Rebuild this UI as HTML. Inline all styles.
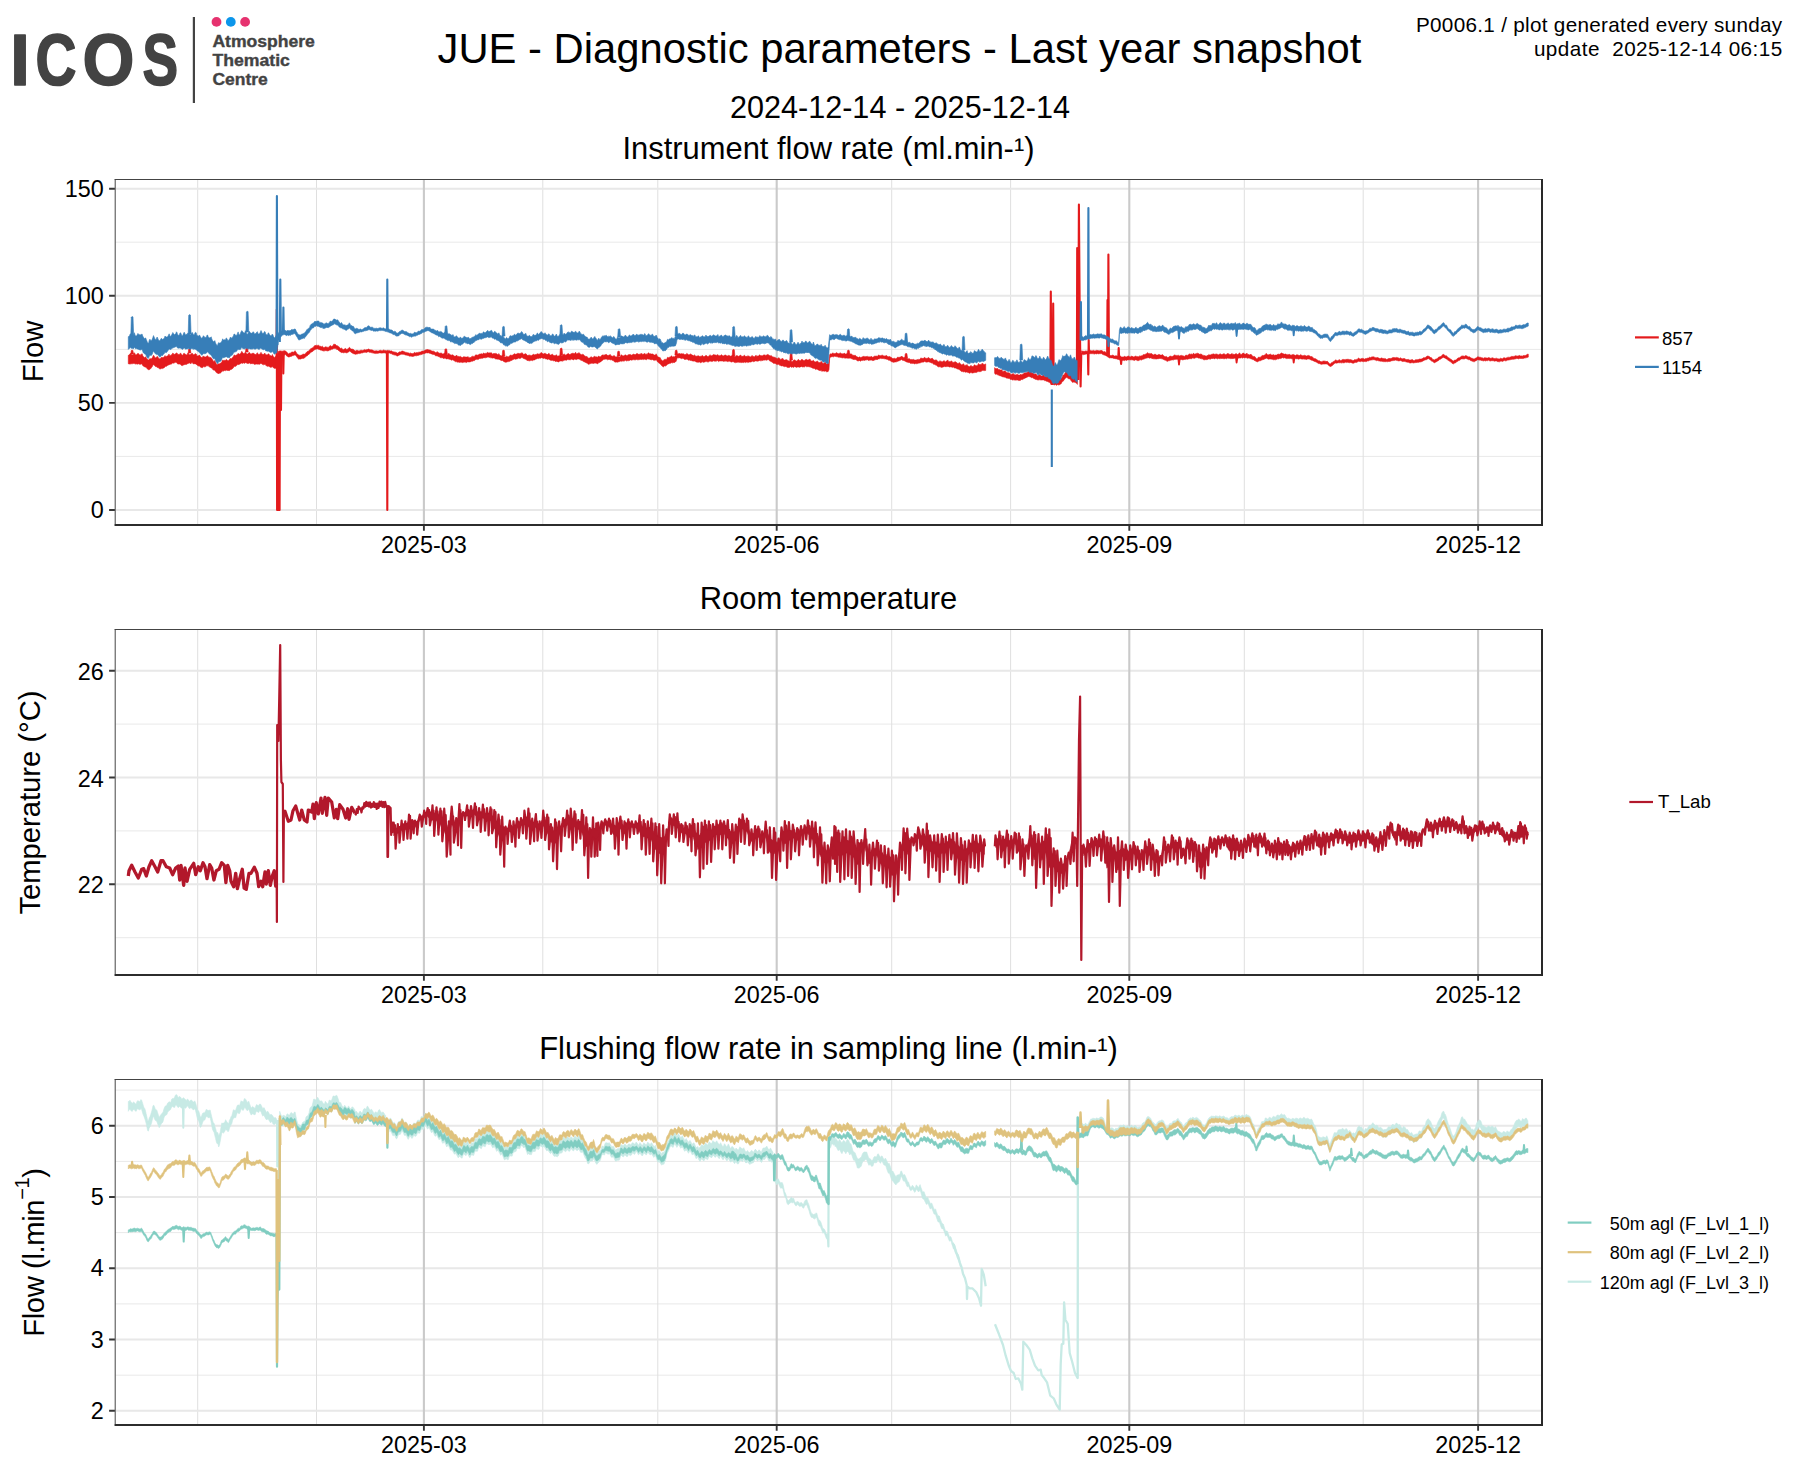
<!DOCTYPE html>
<html lang="en"><head><meta charset="utf-8"><title>JUE - Diagnostic parameters - Last year snapshot</title>
<style>html,body{margin:0;padding:0;background:#fff}svg{display:block}text{font-family:"Liberation Sans",sans-serif;fill:#000}</style></head><body>
<svg width="1800" height="1470" viewBox="0 0 1800 1470">
<rect width="1800" height="1470" fill="#fff"/>
<g id="logo" role="img" aria-label="ICOS Atmosphere Thematic Centre"><title>ICOS Atmosphere Thematic Centre</title><text transform="translate(10.02 84.85) scale(0.9916 1)" font-size="72.63" font-weight="bold" style="fill:#434343;stroke:#434343;stroke-width:1.5;stroke-linejoin:round;vector-effect:non-scaling-stroke" vector-effect="non-scaling-stroke">I</text><text transform="translate(35.62 84.85) scale(0.7822 1)" font-size="72.63" font-weight="bold" style="fill:#434343;stroke:#434343;stroke-width:1.5;stroke-linejoin:round;vector-effect:non-scaling-stroke" vector-effect="non-scaling-stroke">C</text><text transform="translate(82.41 84.85) scale(0.9185 1)" font-size="72.63" font-weight="bold" style="fill:#434343;stroke:#434343;stroke-width:1.5;stroke-linejoin:round;vector-effect:non-scaling-stroke" vector-effect="non-scaling-stroke">O</text><text transform="translate(142.50 84.85) scale(0.7344 1)" font-size="72.63" font-weight="bold" style="fill:#434343;stroke:#434343;stroke-width:1.5;stroke-linejoin:round;vector-effect:non-scaling-stroke" vector-effect="non-scaling-stroke">S</text><rect x="192.8" y="17" width="2.2" height="86" fill="#434343"/><circle cx="216.5" cy="21.9" r="4.9" fill="#e6326f"/><circle cx="230.8" cy="21.9" r="4.9" fill="#0c96eb"/><circle cx="245.1" cy="21.9" r="4.9" fill="#e6326f"/><text x="212.4" y="46.8" font-size="15.6" font-weight="bold" textLength="102.5" lengthAdjust="spacingAndGlyphs" style="fill:#434343;stroke:#434343;stroke-width:0.35">Atmosphere</text><text x="212.4" y="65.8" font-size="15.6" font-weight="bold" textLength="77.5" lengthAdjust="spacingAndGlyphs" style="fill:#434343;stroke:#434343;stroke-width:0.35">Thematic</text><text x="212.4" y="84.6" font-size="15.6" font-weight="bold" textLength="55.4" lengthAdjust="spacingAndGlyphs" style="fill:#434343;stroke:#434343;stroke-width:0.35">Centre</text></g>
<text x="899.5" y="62.8" font-size="41.77" text-anchor="middle">JUE - Diagnostic parameters - Last year snapshot</text>
<text x="900" y="117.8" font-size="30.6" text-anchor="middle">2024-12-14 - 2025-12-14</text>
<text x="1782.2" y="31.8" font-size="20.7" text-anchor="end" textLength="366.3" lengthAdjust="spacing">P0006.1 / plot generated every sunday</text>
<text x="1782.2" y="55.6" font-size="20.7" text-anchor="end" textLength="248.3" lengthAdjust="spacing" xml:space="preserve">update  2025-12-14 06:15</text>
<g><rect x="115.5" y="180" width="1426.1" height="345" fill="#fff"/><path d="M115.5 456.4H1542.2M115.5 349.4H1542.2M115.5 242.2H1542.2" stroke="#e9e9e9" stroke-width="1" fill="none"/><path d="M197.7 180V525M316.5 180V525M542.8 180V525M657.8 180V525M891.7 180V525M1010.6 180V525M1244.3 180V525M1363.2 180V525" stroke="#dfdfdf" stroke-width="1" fill="none"/><path d="M115.5 510H1542.2M115.5 402.9H1542.2M115.5 295.8H1542.2M115.5 188.7H1542.2" stroke="#e8e8e8" stroke-width="1.9" fill="none"/><path d="M423.9 180V525M776.7 180V525M1129.3 180V525M1478.1 180V525" stroke="#cacaca" stroke-width="2.1" fill="none"/></g>
<g id="p1-857"><path d="M128.3 355.3L128.9 355.1L129.5 354.6L130.1 353.6L130.7 353.4L131.3 354.4L131.9 354.6L132.5 354.9L133.1 354.8L133.7 353.6L134.3 352.7L134.9 353.5L135.5 355L136.1 354.8L136.7 354.7L137.3 353.7L137.9 353.5L138.5 353.5L139.1 354.4L139.7 354.9L140.3 354.5L140.9 355.4L141.5 354L142.1 353.7L142.7 355.6L143.3 356.5L143.9 357.1L144.5 357.7L145.1 357.3L145.7 356.7L146.3 358L146.9 359L147.5 359.2L148.1 360.1L148.7 360.1L149.3 359.3L149.9 358.4L150.5 358.7L151.1 359.2L151.7 358.3L152.3 357.7L152.9 356.5L153.5 355.2L154.1 356L154.7 357.2L155.4 358L156 357.6L156.6 357L157.2 356.3L157.8 356.9L158.4 358.1L159 358.6L159.6 358.8L160.2 359L160.8 358.1L161.4 357.2L162 357.4L162.6 357.6L163.2 357.5L163.8 357.3L164.4 356.5L165 355.6L165.6 356.4L166.2 356.4L166.8 356.3L167.4 355.9L168 356L168.6 354.4L169.2 354.3L169.8 355.7L170.4 355.4L171 355.6L171.6 354.6L172.2 354.2L172.8 353.1L173.4 353.5L174 354.4L174.6 354.3L175.2 353.7L175.8 354L176.4 352.9L177 352.9L177.6 354.2L178.2 354.3L178.8 354.5L179.4 354.4L180 353.8L180.6 352.9L181.2 354L181.8 354.7L182.4 355.3L183 354.7L183.6 353.5L184.2 353.2L184.8 353.9L185.4 354.3L186 354.4L186.6 354.9L187.2 354.5L187.8 353L188.4 353L189 354.4L189.6 354.7L190.2 354.6L190.8 354.3L191.4 354L192 353L192.6 353.8L193.2 354.9L193.8 354.4L194.4 354.4L195 353.8L195.6 353.7L196.2 354L196.8 355.4L197.4 355.9L198 355.9L198.6 355.7L199.2 355L199.8 355.2L200.4 356.6L201 357L201.6 357.5L202.2 357.5L202.8 356.5L203.4 355.9L204 356.6L204.6 356.9L205.2 356.9L205.8 356.9L206.4 356.5L207 355.7L207.6 355.9L208.2 356.4L208.8 357.3L209.4 357.2L210 357.4L210.6 357.5L211.2 357.7L211.8 358.8L212.4 359.4L213 360.6L213.6 361.5L214.2 361.6L214.8 360.4L215.4 361.8L216 363.2L216.6 364.3L217.2 364.7L217.8 364L218.4 363.9L219 363.6L219.6 363.9L220.2 363.2L220.8 363.1L221.4 362.5L222 361.6L222.6 359.9L223.2 360.5L223.8 360.4L224.4 360.4L225 359.9L225.6 360.4L226.2 359.5L226.8 359.7L227.4 360.3L228 361L228.6 360.4L229.2 359.9L229.8 359L230.4 358.2L231 358.8L231.6 358.7L232.2 358L232.8 357.2L233.4 356.5L234 355.2L234.6 354.9L235.2 355.5L235.8 355.6L236.4 355.1L237 355L237.6 353.9L238.2 353.3L238.8 353.9L239.4 354.2L240 354.1L240.6 353.6L241.2 352.5L241.8 351.3L242.4 352.3L243 353L243.6 353.5L244.2 353.2L244.8 353.3L245.4 351.9L246 352.8L246.6 353.7L247.2 354L247.8 354.1L248.4 353.1L249 352.6L249.6 352.6L250.2 353.5L250.8 354.1L251.4 353.7L252 354.2L252.6 353.1L253.2 353.1L253.8 353.6L254.4 353.9L255 354.3L255.6 354.5L256.2 354.5L256.8 353.3L257.4 352.7L258 353.8L258.6 354.6L259.2 354.3L259.8 354.2L260.4 353.4L261 352.3L261.6 353.4L262.2 354.4L262.8 354L263.4 354.6L264 354.3L264.6 353L265.2 353.7L265.8 354.8L266.4 354.7L267 355L267.6 354.8L268.2 353.7L268.8 354L269.4 355L270 355.5L270.6 355.6L271.2 356.1L271.8 355.9L272.4 354.5L273 356L273.6 356.7L274.2 357.4L274.8 357.2L275.4 356.9L276 356L276.6 356.2L277.2 355.1L277.8 353.7L278.4 351.3L279 351.3L279.6 350.9L280.2 350.8L280.8 351.1L281.4 351L282 351.4L282.6 351.1L283.2 351.3L283.8 350.5L284.4 350.7L285 350.9L285.6 351.1L286.2 351.6L286.8 352.1L287.4 352.9L288 353.3L288.6 353.9L289.2 353.6L289.8 353L290.4 353.2L291 352.4L291.6 352.2L292.2 352L292.8 352L293.4 352.2L294 351.7L294.6 351.2L295.2 350.7L295.8 352L296.4 352.6L297 354L297.6 354.1L298.2 354.8L298.8 355.1L299.4 355.2L300 355.5L300.6 355.3L301.2 355.1L301.8 354.9L302.4 354.4L303 354.3L303.6 354.1L304.2 354.3L304.8 354L305.4 353.7L306 352.6L306.6 352.4L307.2 351.6L307.8 351.3L308.4 351.2L309 350.8L309.6 349.8L310.2 349.4L310.8 348.6L311.4 348.4L312 348.1L312.6 347.8L313.2 347.5L313.8 346.4L314.4 346L315 345.3L315.6 345.6L316.3 345.2L316.9 345.4L317.5 345.4L318.1 345.4L318.7 345.3L319.3 345.7L319.9 346.4L320.5 346.1L321.1 346.7L321.7 346.7L322.3 346.2L322.9 346.7L323.5 347.4L324.1 347.5L324.7 347.3L325.3 347.1L325.9 346.6L326.5 346.9L327.1 347.5L327.7 347.2L328.3 347.4L328.9 347L329.5 346.3L330.1 345.6L330.7 345.8L331.3 346.5L331.9 346.2L332.5 346.1L333.1 345.4L333.7 344.2L334.3 344.3L334.9 344.3L335.5 344.5L336.1 345.1L336.7 345.9L337.3 345.6L337.9 346.2L338.5 346.4L339.1 347.2L339.7 347.5L340.3 348.1L340.9 348.7L341.5 348.1L342.1 348.6L342.7 349.2L343.3 349.7L343.9 349.3L344.5 349L345.1 348.6L345.7 348.4L346.3 349.4L346.9 349.6L347.5 348.9L348.1 349.2L348.7 347.9L349.3 347.4L349.9 347.6L350.5 348.7L351.1 349.1L351.7 349.1L352.3 349.3L352.9 348.9L353.5 349.5L354.1 350L354.7 350.6L355.3 351.2L355.9 350.5L356.5 350.4L357.1 350.3L357.7 350.5L358.3 350.8L358.9 350.9L359.5 350.8L360.1 350.4L360.7 350.3L361.3 350.2L361.9 350.3L362.5 350.4L363.1 350.2L363.7 350L364.3 349.8L364.9 349.4L365.5 349.9L366.1 349.9L366.7 349.5L367.3 349.6L367.9 349.3L368.5 349L369.1 349.1L369.7 349.8L370.3 349.8L370.9 349.8L371.5 349.8L372.1 350L372.7 350.1L373.3 350.5L373.9 350.7L374.5 350.9L375.1 351L375.7 350.8L376.3 350.8L376.9 350.8L377.5 351L378.1 350.9L378.7 350.9L379.3 350.5L379.9 350.5L380.5 350.3L381.1 350.5L381.7 350.7L382.3 350.7L382.9 350.5L383.5 350L384.1 350.3L384.7 350.4L385.3 350.6L385.9 350.5L386.5 350.8L387.1 350.3L387.7 350.4L388.3 350.2L388.9 350.9L389.5 350.4L390.1 351L390.7 350.9L391.3 350.8L391.9 351L392.5 351.7L393.1 351.6L393.7 352L394.3 351.9L394.9 352.2L395.5 352.2L396.1 352.3L396.7 352.7L397.3 353.1L397.9 353.1L398.5 352.6L399.1 352L399.7 351.8L400.3 351.9L400.9 351.8L401.5 351.3L402.1 351.1L402.7 351.1L403.3 351.3L403.9 351.6L404.5 351.8L405.1 352.3L405.7 352.2L406.3 352.4L406.9 352.4L407.5 352.7L408.1 352.7L408.7 353L409.3 353.2L409.9 353.5L410.5 353L411.1 353.3L411.7 353.6L412.3 353.5L412.9 353.8L413.5 353.2L414.1 352.6L414.7 352.5L415.3 353L415.9 352.7L416.5 352.6L417.1 352.8L417.7 352.4L418.3 352.2L418.9 352.4L419.5 352.1L420.1 351.9L420.7 351.9L421.3 351.5L421.9 351.1L422.5 351.1L423.1 351.2L423.7 351L424.3 350.7L424.9 350.2L425.5 349.9L426.1 349.9L426.7 349.6L427.3 349.5L427.9 349.6L428.5 349.8L429.1 350L429.7 349.9L430.3 350.1L430.9 350.6L431.5 350.7L432.1 351.3L432.7 351.1L433.3 351.2L433.9 351.2L434.5 351.7L435.1 352.2L435.7 352.5L436.3 352.4L436.9 351.9L437.5 351.7L438.1 352.8L438.7 352.8L439.3 353.1L439.9 353.5L440.5 352.9L441.1 353.1L441.7 353.3L442.3 353.9L442.9 353.7L443.5 353.8L444.1 353.5L444.7 353.3L445.3 353.5L445.9 353.9L446.5 354.1L447.1 354.4L447.7 354.4L448.3 353.7L448.9 353.3L449.5 354L450.1 355.1L450.7 354.8L451.3 354.9L451.9 355.3L452.5 354.8L453.1 354.9L453.7 355.8L454.3 356L454.9 356.3L455.5 356.1L456.1 356L456.7 355.1L457.3 356.4L457.9 356.3L458.5 356.3L459.1 356.9L459.7 356.5L460.3 356.2L460.9 356.9L461.5 357L462.1 357.8L462.7 357.2L463.3 356.7L463.9 356.9L464.5 356.8L465.1 356.9L465.7 357L466.3 357.1L466.9 357.1L467.5 356.9L468.1 356.6L468.7 357.5L469.3 357.9L469.9 357.2L470.5 357.6L471.1 357.5L471.7 356.5L472.3 356.2L472.9 356.4L473.5 356.4L474.1 356.7L474.7 356.1L475.3 355.2L475.9 354.8L476.5 354.9L477.2 355L477.8 355.2L478.4 354.8L479 354.6L479.6 354.1L480.2 353.9L480.8 354.1L481.4 353.8L482 353.7L482.6 354.2L483.2 353.3L483.8 353L484.4 353.5L485 353.7L485.6 353.3L486.2 353.5L486.8 353L487.4 352.3L488 352.7L488.6 352.9L489.2 352.8L489.8 352.9L490.4 352.9L491 352.5L491.6 353L492.2 353.5L492.8 354.2L493.4 353.6L494 353.5L494.6 353.6L495.2 353.2L495.8 353.8L496.4 353.8L497 353.8L497.6 354.7L498.2 354.4L498.8 353.6L499.4 354.4L500 355.6L500.6 355.6L501.2 355.7L501.8 356L502.4 355.4L503 355.5L503.6 356.1L504.2 356.8L504.8 356.8L505.4 357.1L506 356.6L506.6 356.2L507.2 356.7L507.8 356.6L508.4 356.9L509 356.5L509.6 355.7L510.2 355.3L510.8 355.1L511.4 355.3L512 355.4L512.6 355.1L513.2 354.9L513.8 354L514.4 353.7L515 353.9L515.6 354.3L516.2 354.1L516.8 353.9L517.4 353.7L518 352.9L518.6 353.5L519.2 353.6L519.8 353.8L520.4 353.2L521 353.7L521.6 352.8L522.2 352.8L522.8 353.6L523.4 354.4L524 354.3L524.6 354.1L525.2 353.9L525.8 353.6L526.4 354.3L527 354.8L527.6 355.5L528.2 355.3L528.8 355.2L529.4 355L530 355.5L530.6 355.2L531.2 355.9L531.8 355.2L532.4 354.9L533 354.9L533.6 354.1L534.2 354.4L534.8 355.1L535.4 354.5L536 354.5L536.6 354.2L537.2 353.6L537.8 354.1L538.4 354L539 354.2L539.6 354L540.2 353.4L540.8 352.7L541.4 352.5L542 353.1L542.6 353.6L543.2 354L543.8 353.8L544.4 353.5L545 352.9L545.6 354L546.2 354.3L546.8 353.9L547.4 354.6L548 354.3L548.6 353.4L549.2 353.5L549.8 354.7L550.4 355.1L551 354.9L551.6 354.6L552.2 354.2L552.8 354.5L553.4 355.3L554 355.5L554.6 355.6L555.2 355.9L555.8 355L556.4 354.7L557 355.6L557.6 356.3L558.2 356.1L558.8 355.8L559.4 355.7L560 354.9L560.6 355.1L561.2 355.3L561.8 355.4L562.4 355.3L563 355.3L563.6 354.3L564.2 353.8L564.8 355L565.4 354.9L566 355.2L566.6 354.5L567.2 354.1L567.8 353.8L568.4 353.5L569 353.9L569.6 354.5L570.2 354.5L570.8 353.8L571.4 353.7L572 353.2L572.6 353.3L573.2 353.5L573.8 353.3L574.4 353.7L575 353L575.6 352.3L576.2 353.4L576.8 353.9L577.4 353.3L578 353.7L578.6 352.8L579.2 352.7L579.8 353.4L580.4 354.4L581 354.1L581.6 354.9L582.2 354.5L582.8 354.2L583.4 354.5L584 355.2L584.6 355.9L585.2 355.9L585.8 356.8L586.4 356.5L587 356.5L587.6 357.2L588.2 357.7L588.8 358.3L589.4 358.1L590 358L590.6 356.9L591.2 356.7L591.8 357.2L592.4 357.6L593 357.7L593.6 356.8L594.2 356.5L594.8 356.3L595.4 356.7L596 357.2L596.6 356.8L597.2 357.3L597.8 357L598.4 356.2L599 356L599.6 357.1L600.2 356.8L600.8 356.5L601.4 356L602 355.1L602.6 355L603.2 354.8L603.8 355.4L604.4 354.9L605 354.9L605.6 354.5L606.2 354.3L606.8 354.8L607.4 355.1L608 355.8L608.6 355.2L609.2 355.1L609.8 354.8L610.4 354.6L611 356L611.6 356L612.2 356L612.8 356.5L613.4 356.1L614 355.4L614.6 356.1L615.2 356.5L615.8 357.1L616.4 357.1L617 356.5L617.6 355.9L618.2 356.5L618.8 356.7L619.4 357L620 356.4L620.6 356.2L621.2 355L621.8 354.8L622.4 355.7L623 355.9L623.6 355.8L624.2 356.1L624.8 354.9L625.4 354.9L626 354.9L626.6 355.8L627.2 355.4L627.8 355.2L628.4 354.7L629 354.6L629.6 354.6L630.2 354.5L630.8 354.7L631.4 355.2L632 354.8L632.6 354.7L633.2 354.1L633.8 354.2L634.4 354.6L635 354.3L635.6 354.7L636.2 353.9L636.8 353.5L637.5 353.6L638.1 354.6L638.7 354L639.3 354.1L639.9 354.5L640.5 354L641.1 353.3L641.7 353.7L642.3 353.9L642.9 354.4L643.5 354.1L644.1 354.1L644.7 353.3L645.3 354.1L645.9 354.5L646.5 354L647.1 354.5L647.7 353.5L648.3 352.8L648.9 352.9L649.5 354L650.1 353.8L650.7 353.8L651.3 354.1L651.9 353.9L652.5 353.9L653.1 354L653.7 355L654.3 355.1L654.9 355L655.5 355.1L656.1 353.8L656.7 355L657.3 356L657.9 357.1L658.5 357.1L659.1 357.2L659.7 357.5L660.3 357.7L660.9 359.4L661.5 359.8L662.1 360.4L662.7 361.1L663.3 360.5L663.9 359.7L664.5 359.4L665.1 359.6L665.7 359.2L666.3 359.4L666.9 358.7L667.5 357.3L668.1 357.5L668.7 357.7L669.3 357.6L669.9 356.7L670.5 357.1L671.1 356.2L671.7 355.8L672.3 356.9L672.9 357L673.5 356.6L674.1 357L674.7 356.7L675.3 355.6L675.9 355.9L676.5 354.9L677.1 353.9L677.7 354.2L678.3 353.9L678.9 353.2L679.5 353.5L680.1 353.7L680.7 353.9L681.3 353.7L681.9 353.6L682.5 353.9L683.1 353.5L683.7 354L684.3 354.5L684.9 354.4L685.5 354.5L686.1 354.4L686.7 353.4L687.3 353.8L687.9 354.2L688.5 354.7L689.1 354.8L689.7 354.5L690.3 354.3L690.9 353.8L691.5 354.7L692.1 355.1L692.7 355.1L693.3 355.8L693.9 355.4L694.5 354.9L695.1 355.4L695.7 356.2L696.3 356.1L696.9 356.5L697.5 355.8L698.1 355.9L698.7 355.8L699.3 356.3L699.9 356.5L700.5 356.3L701.1 356.6L701.7 355.8L702.3 355.5L702.9 355.8L703.5 356.7L704.1 356.3L704.7 356.6L705.3 356.1L705.9 355.3L706.5 355.6L707.1 356.3L707.7 356.5L708.3 356.4L708.9 355.9L709.5 355.4L710.1 354.7L710.7 355.7L711.3 355.7L711.9 355.7L712.5 355.3L713.1 354.8L713.7 354.5L714.3 354.7L714.9 355L715.5 355L716.1 355.3L716.7 355.2L717.3 354.9L717.9 354.5L718.5 355.8L719.1 355.4L719.7 355.8L720.3 355.7L720.9 355L721.5 354.7L722.1 355.2L722.7 355.7L723.3 356L723.9 355.4L724.5 355.3L725.1 355.1L725.7 355.1L726.3 355.7L726.9 355.5L727.5 355.9L728.1 356L728.7 355.2L729.3 355.4L729.9 355.9L730.5 356.2L731.1 355.7L731.7 356.1L732.3 355.3L732.9 355.1L733.5 356L734.1 355.9L734.7 356.5L735.3 356.4L735.9 356.2L736.5 355.5L737.1 355.5L737.7 355.9L738.3 356.3L738.9 356.3L739.5 355.8L740.1 355.3L740.7 355.1L741.3 356.1L741.9 356.5L742.5 355.9L743.1 356.6L743.7 355.7L744.3 355.1L744.9 355.9L745.5 356.4L746.1 356.1L746.7 356.6L747.3 356.5L747.9 355.5L748.5 356L749.1 356.6L749.7 356.4L750.3 356.9L750.9 356.6L751.5 356.3L752.1 355.4L752.7 356.2L753.3 356.5L753.9 356.6L754.5 357.1L755.1 355.9L755.7 355.5L756.3 355.4L756.9 356.4L757.5 356L758.1 356L758.7 355.9L759.3 355.1L759.9 354.8L760.5 355.7L761.1 355.6L761.7 355.8L762.3 355.8L762.9 355.6L763.5 355.1L764.1 354.8L764.7 355.1L765.3 355.2L765.9 355.4L766.5 355.1L767.1 354.8L767.7 354.4L768.3 354.6L768.9 355.2L769.5 355.6L770.1 355.5L770.7 355.9L771.3 355.5L771.9 356.2L772.5 356.9L773.1 356.8L773.7 357.2L774.3 357.3L774.9 357.3L775.5 357.7L776.1 357.9L776.7 358.2L777.3 358.8L777.9 358.6L778.5 357.8L779.1 357.8L779.7 358.4L780.3 359.5L780.9 359.5L781.5 359L782.1 358.8L782.7 358.2L783.3 359.2L783.9 360L784.5 360.1L785.1 360L785.7 359.7L786.3 359.9L786.9 359.4L787.5 360.5L788.1 360.5L788.7 360.9L789.3 361.2L789.9 360.3L790.5 359.8L791.1 360.2L791.7 361.4L792.3 361.4L792.9 361.2L793.5 360.3L794.1 359.8L794.7 360L795.3 360.4L795.9 360.5L796.5 361.1L797.1 361L797.7 360L798.4 359.3L799 360.3L799.6 360.5L800.2 360.8L800.8 360.2L801.4 359.8L802 359.1L802.6 360.1L803.2 360.3L803.8 360.5L804.4 360.4L805 360.2L805.6 359.5L806.2 359.1L806.8 359.9L807.4 359.9L808 360L808.6 359.8L809.2 359.5L809.8 359L810.4 359.7L811 361L811.6 361.1L812.2 360.9L812.8 360.8L813.4 360.3L814 361.1L814.6 361.8L815.2 362L815.8 361.8L816.4 361.8L817 360.9L817.6 361.2L818.2 362.1L818.8 362.4L819.4 362.5L820 362.8L820.6 361.9L821.2 361.3L821.8 362L822.4 363L823 363.3L823.6 363.5L824.2 363.1L824.8 362.2L825.4 362.3L826 363.3L826.6 364.3L827.2 363.6L827.8 364L828.4 363.5L829 362L829.6 354.9L830.2 353.9L830.8 353.8L831.4 354.1L832 353.4L832.6 353.1L833.2 353.2L833.8 353.4L834.4 353.5L835 353.7L835.6 353.3L836.2 352.8L836.8 352.7L837.4 353L838 353.8L838.6 353.7L839.2 353.7L839.8 352.9L840.4 352.8L841 353.5L841.6 353.8L842.2 353.8L842.8 353.8L843.4 354L844 353.1L844.6 353.3L845.2 353.9L845.8 354L846.4 353.8L847 354L847.6 353.3L848.2 353.2L848.8 354.1L849.4 354.3L850 353.8L850.6 354.1L851.2 354L851.8 354.2L852.4 354.7L853 355.4L853.6 355.3L854.2 355.3L854.8 355.5L855.4 355.4L856 355.8L856.6 356.4L857.2 357L857.8 357.1L858.4 357.5L859 356.9L859.6 356.9L860.2 357.3L860.8 357.4L861.4 357.3L862 356.9L862.6 356.7L863.2 356.3L863.8 356.5L864.4 356.4L865 356.9L865.6 356.6L866.2 356.5L866.8 356.5L867.4 356.2L868 356.9L868.6 356.8L869.2 356.9L869.8 356.7L870.4 356.9L871 356.3L871.6 356.5L872.2 357.1L872.8 357.2L873.4 356.9L874 356.8L874.6 355.9L875.2 356L875.8 356.3L876.4 356.1L877 356.2L877.6 356.3L878.2 355.3L878.8 355L879.4 355.4L880 355.5L880.6 355.7L881.2 355.2L881.8 355.6L882.4 355.2L883 355.3L883.6 356L884.2 356.2L884.8 355.8L885.4 355.9L886 355.5L886.6 355.5L887.2 355.9L887.8 356.8L888.4 356.7L889 356.7L889.6 356.5L890.2 356.7L890.8 357.3L891.4 357.6L892 358L892.6 358.5L893.2 358.5L893.8 358.4L894.4 358L895 358.9L895.6 358.7L896.2 358.6L896.8 358.3L897.4 357.3L898 356.9L898.6 357.4L899.2 357.3L899.8 357.3L900.4 357L901 357L901.6 356L902.2 356.8L902.8 356.9L903.4 357.4L904 357.7L904.6 357.5L905.2 357.6L905.8 357.8L906.4 357.9L907 358.2L907.6 358.6L908.2 358.9L908.8 358.6L909.4 358.8L910 358.9L910.6 359.8L911.2 359.5L911.8 359.6L912.4 359.7L913 359.3L913.6 359.4L914.2 359.8L914.8 360.1L915.4 360.1L916 360.1L916.6 360.1L917.2 359.2L917.8 359.9L918.4 359.4L919 359.6L919.6 359.5L920.2 358.9L920.8 357.9L921.4 357.9L922 358.5L922.6 358.6L923.2 357.9L923.8 358.5L924.4 357.4L925 357.6L925.6 358.2L926.2 358.3L926.8 358.4L927.4 358.3L928 357.8L928.6 357.6L929.2 357.9L929.8 358.6L930.4 359L931 358.5L931.6 358.5L932.2 358.1L932.8 358.8L933.4 359.8L934 359.8L934.6 360.3L935.2 360.3L935.8 359.8L936.4 360L937 360.4L937.6 361.3L938.2 361.5L938.8 362L939.4 361.6L940 360.6L940.6 361.5L941.2 361.2L941.8 361.9L942.4 361.8L943 361.2L943.6 361L944.2 360.6L944.8 361.5L945.4 361.9L946 361.3L946.6 361.1L947.2 360.6L947.8 359.9L948.4 361.2L949 361.8L949.6 361.6L950.2 361.7L950.8 361.2L951.4 361L952 361.2L952.6 362.4L953.2 362.1L953.8 362.7L954.4 362L955 361.5L955.6 361.8L956.2 362.5L956.8 362.6L957.4 363.3L958 363.6L958.6 363.4L959.3 362.5L959.9 363.3L960.5 364.1L961.1 364.3L961.7 364.9L962.3 364.7L962.9 363.9L963.5 363.8L964.1 364.7L964.7 365.7L965.3 365.2L965.9 365.6L966.5 364.9L967.1 364.4L967.7 365.9L968.3 366.3L968.9 366.2L969.5 366.8L970.1 366.3L970.7 365.6L971.3 365.6L971.9 366.4L972.5 366.5L973.1 366.6L973.7 366L974.3 364.8L974.9 365.1L975.5 365.4L976.1 366L976.7 365.4L977.3 365.4L977.9 364.9L978.5 363.4L979.1 364.6L979.7 364.6L980.3 364.5L980.9 364.5L981.5 364.2L982.1 363.3L982.7 363.6L983.3 364L983.9 364.4L984.5 364.5L985.1 364.2L985.7 363.9L985.7 370.4L985.1 370.6L984.5 370.6L983.9 370.8L983.3 370.3L982.7 370.5L982.1 370.2L981.5 371.3L980.9 371L980.3 371.8L979.7 371.9L979.1 371.3L978.5 371.6L977.9 371.6L977.3 372L976.7 372.2L976.1 372.7L975.5 372.4L974.9 372.3L974.3 372.7L973.7 372.7L973.1 372.9L972.5 373.1L971.9 373.1L971.3 372.6L970.7 372.6L970.1 373L969.5 373.2L968.9 372.9L968.3 372.5L967.7 372.6L967.1 372.1L966.5 372L965.9 372.4L965.3 372.1L964.7 371.8L964.1 371.7L963.5 371.9L962.9 371.5L962.3 371.6L961.7 371.6L961.1 371.2L960.5 370.7L959.9 369.7L959.3 369.7L958.6 369.3L958 369L957.4 369L956.8 368.6L956.2 368.5L955.6 368L955 368L954.4 367.9L953.8 367.4L953.2 367.1L952.6 367.5L952 367L951.4 367.1L950.8 366.7L950.2 367.1L949.6 367.1L949 367L948.4 366.5L947.8 366.6L947.2 366.5L946.6 366.6L946 366.4L945.4 367.1L944.8 366.4L944.2 366.2L943.6 366.9L943 367.1L942.4 367.2L941.8 367.4L941.2 367.3L940.6 367.1L940 366.6L939.4 366.7L938.8 367.2L938.2 366.4L937.6 366.4L937 365.8L936.4 365.1L935.8 365.3L935.2 364.7L934.6 364.3L934 364.6L933.4 364.1L932.8 363.6L932.2 362.8L931.6 363L931 362.7L930.4 362.4L929.8 362.1L929.2 362.2L928.6 361.8L928 362L927.4 362.1L926.8 362.3L926.2 361.9L925.6 361.9L925 361.5L924.4 361.6L923.8 362.1L923.2 362.1L922.6 362.1L922 362.4L921.4 362.2L920.8 362.6L920.2 362.9L919.6 363.1L919 362.9L918.4 363.2L917.8 363.6L917.2 363.4L916.6 363.7L916 363.6L915.4 363.6L914.8 363.9L914.2 363.7L913.6 363.4L913 363.3L912.4 363.5L911.8 363.2L911.2 363.6L910.6 363.4L910 363L909.4 362.5L908.8 362.4L908.2 362.6L907.6 362.3L907 362L906.4 361.9L905.8 361.6L905.2 361.3L904.6 360.9L904 360.6L903.4 360.4L902.8 360.5L902.2 360.1L901.6 359.5L901 360L900.4 360.2L899.8 360.3L899.2 360.9L898.6 361L898 361.1L897.4 361.5L896.8 361.6L896.2 362L895.6 361.9L895 362.1L894.4 362L893.8 362.6L893.2 361.9L892.6 362L892 361.8L891.4 361.7L890.8 361.1L890.2 360.7L889.6 360.2L889 360.4L888.4 360.1L887.8 359.6L887.2 359.4L886.6 359.3L886 358.9L885.4 358.9L884.8 358.8L884.2 358.8L883.6 358.6L883 358.8L882.4 358.5L881.8 358.5L881.2 358.6L880.6 358.3L880 358.6L879.4 358.8L878.8 358.9L878.2 358.9L877.6 359.5L877 359.7L876.4 359.5L875.8 359.7L875.2 359.6L874.6 359.9L874 360.4L873.4 360.5L872.8 360.7L872.2 360.3L871.6 360.1L871 360.2L870.4 360.1L869.8 360.5L869.2 360L868.6 360.4L868 360.3L867.4 359.7L866.8 359.8L866.2 360.1L865.6 360L865 360.2L864.4 360.4L863.8 360.4L863.2 359.9L862.6 360.6L862 360.3L861.4 360.5L860.8 361.1L860.2 361.2L859.6 360.5L859 361.1L858.4 360.8L857.8 360.9L857.2 360.8L856.6 360L856 359.8L855.4 359.5L854.8 359.6L854.2 359.5L853.6 359.5L853 359.5L852.4 359.1L851.8 358.5L851.2 358.7L850.6 358.2L850 358L849.4 358.2L848.8 358.2L848.2 358.2L847.6 358.2L847 358.1L846.4 358.1L845.8 358L845.2 358.2L844.6 358.2L844 357.5L843.4 357.8L842.8 358.1L842.2 357.7L841.6 357.7L841 357.5L840.4 357.5L839.8 357.1L839.2 357.6L838.6 357.3L838 357L837.4 356.8L836.8 356.5L836.2 356.8L835.6 356.5L835 356.3L834.4 356.3L833.8 356.8L833.2 356.8L832.6 356.6L832 357L831.4 356.8L830.8 357.1L830.2 357.2L829.6 358.8L829 369.5L828.4 371L827.8 371.9L827.2 371.5L826.6 371.8L826 371.4L825.4 370.9L824.8 370.9L824.2 371.5L823.6 370.9L823 371.1L822.4 371.1L821.8 371.4L821.2 370.3L820.6 370.6L820 370.7L819.4 370.5L818.8 369.9L818.2 370.2L817.6 369.3L817 369.6L816.4 369.1L815.8 369.5L815.2 369.2L814.6 368.4L814 368.2L813.4 368.4L812.8 368.3L812.2 368L811.6 367.3L811 367.8L810.4 366.7L809.8 367L809.2 366.7L808.6 366.7L808 366.4L807.4 366.7L806.8 366.8L806.2 366.5L805.6 366.1L805 366.6L804.4 367L803.8 366.8L803.2 367L802.6 367L802 366.7L801.4 366.4L800.8 367L800.2 366.9L799.6 367.3L799 367.2L798.4 366.9L797.7 367.1L797.1 367L796.5 367.4L795.9 367L795.3 366.9L794.7 366.6L794.1 366.9L793.5 367.4L792.9 366.9L792.3 367L791.7 367.2L791.1 367.3L790.5 366.5L789.9 367L789.3 367.5L788.7 367.4L788.1 367.5L787.5 367.5L786.9 366.6L786.3 366.9L785.7 366.5L785.1 366.5L784.5 366.7L783.9 366.3L783.3 366.3L782.7 365.9L782.1 365.8L781.5 365.9L780.9 365.9L780.3 365.1L779.7 365.4L779.1 364.6L778.5 364.3L777.9 364.5L777.3 364.6L776.7 364.2L776.1 364.3L775.5 363.5L774.9 363.3L774.3 363.4L773.7 363.4L773.1 362.9L772.5 362.5L771.9 362L771.3 361.7L770.7 361.3L770.1 361.2L769.5 360.7L768.9 360.1L768.3 359.6L767.7 359.7L767.1 360.1L766.5 360.2L765.9 360.2L765.3 359.8L764.7 360L764.1 360.2L763.5 360.1L762.9 360.5L762.3 360.5L761.7 360.8L761.1 360.3L760.5 360.8L759.9 360.7L759.3 360.4L758.7 360.9L758.1 361.1L757.5 361.2L756.9 361.1L756.3 361.1L755.7 360.9L755.1 361L754.5 361.4L753.9 361.6L753.3 361.8L752.7 361.2L752.1 361.1L751.5 361.9L750.9 362.1L750.3 362.1L749.7 362.1L749.1 362L748.5 362.4L747.9 361.9L747.3 362.6L746.7 362.1L746.1 362.2L745.5 362.6L744.9 362.4L744.3 361.9L743.7 362.6L743.1 362.6L742.5 362.3L741.9 362.9L741.3 362.3L740.7 362.2L740.1 362.7L739.5 362.3L738.9 362.6L738.3 362.1L737.7 362.3L737.1 362.2L736.5 362.5L735.9 362.3L735.3 362.8L734.7 362.4L734.1 362.3L733.5 361.8L732.9 361.8L732.3 361.7L731.7 362.1L731.1 362L730.5 361.8L729.9 361.2L729.3 361.2L728.7 361.6L728.1 361.1L727.5 361.7L726.9 361.4L726.3 361L725.7 361.3L725.1 360.8L724.5 361.2L723.9 361.4L723.3 361.3L722.7 361L722.1 361.1L721.5 361L720.9 361.1L720.3 360.9L719.7 360.9L719.1 361.2L718.5 361.6L717.9 361L717.3 360.5L716.7 360.8L716.1 361.5L715.5 361.1L714.9 361.3L714.3 361.1L713.7 360.7L713.1 361.3L712.5 361.3L711.9 361.3L711.3 361.5L710.7 361.3L710.1 361L709.5 361.3L708.9 361.6L708.3 362.1L707.7 362.1L707.1 361.6L706.5 361.6L705.9 361.4L705.3 361.8L704.7 361.9L704.1 362.2L703.5 362.4L702.9 361.6L702.3 362.2L701.7 362.1L701.1 362.7L700.5 362.7L699.9 362.2L699.3 362L698.7 362.2L698.1 362.2L697.5 362.2L696.9 362.1L696.3 362.1L695.7 361.8L695.1 361.2L694.5 361L693.9 361.3L693.3 361L692.7 360.9L692.1 361L691.5 360.6L690.9 360.5L690.3 360.4L689.7 360.2L689.1 359.7L688.5 360.2L687.9 359.9L687.3 359.1L686.7 359.2L686.1 359.2L685.5 359.5L684.9 359.3L684.3 359.4L683.7 358.5L683.1 358.4L682.5 358.3L681.9 358.8L681.3 358.5L680.7 358.3L680.1 358L679.5 358L678.9 357.4L678.3 358.2L677.7 357.8L677.1 358.1L676.5 360.2L675.9 361.8L675.3 361.8L674.7 362.4L674.1 362.7L673.5 362.5L672.9 362.6L672.3 363L671.7 362.6L671.1 362.9L670.5 363.2L669.9 363.5L669.3 363.2L668.7 364L668.1 363.9L667.5 364.2L666.9 365L666.3 365.6L665.7 365.8L665.1 366.2L664.5 365.8L663.9 366.4L663.3 366.9L662.7 366.5L662.1 366L661.5 365.5L660.9 364.7L660.3 364L659.7 363.6L659.1 363.2L658.5 362.7L657.9 362.1L657.3 361.7L656.7 360.3L656.1 359.8L655.5 360.2L654.9 360L654.3 360.5L653.7 360.1L653.1 360.2L652.5 359.5L651.9 359.4L651.3 359.9L650.7 359.5L650.1 359.8L649.5 359.1L648.9 359.3L648.3 358.9L647.7 358.8L647.1 359.2L646.5 359.7L645.9 359.4L645.3 359.5L644.7 359.1L644.1 359.6L643.5 359.6L642.9 359L642.3 359.6L641.7 359.6L641.1 359.4L640.5 359.3L639.9 359.9L639.3 359.3L638.7 359.7L638.1 359.8L637.5 359.8L636.8 359.6L636.2 359.4L635.6 359.8L635 360.1L634.4 359.8L633.8 359.6L633.2 359.8L632.6 359.7L632 360.4L631.4 359.9L630.8 359.9L630.2 359.9L629.6 360.4L629 360.6L628.4 360.7L627.8 360.6L627.2 360.8L626.6 361L626 360.5L625.4 360.3L624.8 360.5L624.2 361.3L623.6 360.8L623 361.4L622.4 360.7L621.8 361.1L621.2 361.5L620.6 361L620 361.6L619.4 361.6L618.8 361.7L618.2 362L617.6 362.2L617 362.1L616.4 362.1L615.8 362L615.2 362.3L614.6 361.8L614 361.5L613.4 360.5L612.8 360.5L612.2 360.2L611.6 360.1L611 359.5L610.4 359.9L609.8 359.5L609.2 359.5L608.6 359.5L608 359.6L607.4 359.8L606.8 359.3L606.2 359.1L605.6 359L605 359.5L604.4 359.2L603.8 359.2L603.2 359.8L602.6 359.9L602 361L601.4 360.9L600.8 361.9L600.2 361.9L599.6 362.6L599 362.4L598.4 362.7L597.8 363.9L597.2 363.6L596.6 363.3L596 363.4L595.4 362.9L594.8 363.3L594.2 362.9L593.6 363.4L593 363.6L592.4 363.2L591.8 363.4L591.2 363.1L590.6 363.7L590 363.5L589.4 364.1L588.8 363.9L588.2 364.4L587.6 363.5L587 362.7L586.4 363L585.8 362.7L585.2 362.2L584.6 362L584 361.7L583.4 361.6L582.8 360.7L582.2 360.7L581.6 360.3L581 360.6L580.4 359.7L579.8 359.5L579.2 359L578.6 359L578 359L577.4 359.1L576.8 359.6L576.2 359.4L575.6 359.4L575 358.9L574.4 359.1L573.8 359.9L573.2 359.8L572.6 359.4L572 359.5L571.4 359.1L570.8 359.6L570.2 359.8L569.6 359.7L569 360.1L568.4 359.6L567.8 359.3L567.2 360L566.6 360.2L566 360.2L565.4 360.1L564.8 360.2L564.2 360.1L563.6 360.8L563 360.6L562.4 361.2L561.8 361L561.2 361L560.6 361L560 360.9L559.4 361.3L558.8 362L558.2 362.1L557.6 361.5L557 361.9L556.4 361.1L555.8 361.4L555.2 361.4L554.6 360.7L554 361.1L553.4 360.8L552.8 360.5L552.2 360.2L551.6 360.4L551 360.2L550.4 360.2L549.8 360L549.2 359.4L548.6 359L548 359.4L547.4 359.5L546.8 359.1L546.2 358.9L545.6 359.1L545 358.5L544.4 358.1L543.8 358.3L543.2 358.6L542.6 358L542 357.9L541.4 357.7L540.8 357.9L540.2 358.4L539.6 358.1L539 358.4L538.4 358.6L537.8 358.5L537.2 358.4L536.6 358.9L536 359.1L535.4 359.3L534.8 359.9L534.2 360L533.6 360.1L533 359.9L532.4 360.8L531.8 360.3L531.2 360.5L530.6 360.6L530 360.6L529.4 360.9L528.8 360.6L528.2 360.7L527.6 360.5L527 360.5L526.4 359.7L525.8 359.4L525.2 358.9L524.6 358.8L524 359L523.4 358.3L522.8 358.1L522.2 357.5L521.6 357.6L521 357.8L520.4 358.4L519.8 358.3L519.2 358.6L518.6 358L518 358.6L517.4 358.7L516.8 358.9L516.2 359L515.6 359.4L515 358.7L514.4 359L513.8 359.3L513.2 359.5L512.6 359.8L512 360.3L511.4 360.5L510.8 361L510.2 360.5L509.6 361.5L509 361.1L508.4 361.8L507.8 361.8L507.2 361.7L506.6 362.1L506 362.2L505.4 362.3L504.8 361.7L504.2 362L503.6 361.5L503 360.8L502.4 360.5L501.8 360.5L501.2 360.7L500.6 360.1L500 360.1L499.4 359.4L498.8 359.2L498.2 359.3L497.6 359.2L497 359.1L496.4 359L495.8 359L495.2 358.7L494.6 358.2L494 358L493.4 357.9L492.8 357.9L492.2 358.2L491.6 357.9L491 357.6L490.4 357.8L489.8 357.3L489.2 357.6L488.6 356.9L488 357.4L487.4 356.9L486.8 357.6L486.2 357.5L485.6 357.8L485 357.7L484.4 357.7L483.8 357.9L483.2 357.7L482.6 358.2L482 358.6L481.4 358.2L480.8 358.3L480.2 358.7L479.6 358.5L479 358.7L478.4 359.4L477.8 359.2L477.2 359.6L476.5 359.2L475.9 359.4L475.3 360L474.7 360.1L474.1 361L473.5 360.6L472.9 361.4L472.3 360.9L471.7 361.1L471.1 361.7L470.5 361.7L469.9 362L469.3 361.9L468.7 361.9L468.1 362L467.5 361.8L466.9 362.4L466.3 362.4L465.7 362.1L465.1 362.6L464.5 362.1L463.9 362.2L463.3 362.2L462.7 362.8L462.1 362.3L461.5 362.3L460.9 362.2L460.3 362.2L459.7 362.4L459.1 362.3L458.5 362.1L457.9 362.4L457.3 361.9L456.7 361.8L456.1 361.6L455.5 361.7L454.9 361.3L454.3 360.8L453.7 360.4L453.1 360.1L452.5 359.8L451.9 360L451.3 360.3L450.7 359.6L450.1 359.5L449.5 359.2L448.9 359.3L448.3 358.8L447.7 358.7L447.1 358.9L446.5 358.9L445.9 358.8L445.3 358.1L444.7 358.1L444.1 358.7L443.5 358.4L442.9 357.9L442.3 357.8L441.7 358.1L441.1 357.2L440.5 357.7L439.9 357.4L439.3 356.8L438.7 356.6L438.1 356.6L437.5 356L436.9 355.7L436.3 355.9L435.7 355.8L435.1 355.4L434.5 354.7L433.9 354.6L433.3 354.4L432.7 354.6L432.1 354L431.5 353.9L430.9 353.9L430.3 353.2L429.7 353.2L429.1 353.2L428.5 352.8L427.9 352.9L427.3 352.9L426.7 352.7L426.1 353.1L425.5 353.1L424.9 353.3L424.3 353.9L423.7 353.7L423.1 353.7L422.5 354.1L421.9 354.4L421.3 354.6L420.7 354.8L420.1 354.6L419.5 354.9L418.9 355.1L418.3 355.5L417.7 355.5L417.1 355.5L416.5 355.8L415.9 355.7L415.3 355.7L414.7 355.7L414.1 356.2L413.5 356.3L412.9 356.4L412.3 356.4L411.7 356.3L411.1 356.2L410.5 356.1L409.9 356.4L409.3 355.9L408.7 355.7L408.1 355.5L407.5 355.4L406.9 355L406.3 355.3L405.7 355.1L405.1 354.9L404.5 354.6L403.9 354.4L403.3 354.3L402.7 354.3L402.1 354.2L401.5 354.2L400.9 354.2L400.3 354.8L399.7 354.9L399.1 355.2L398.5 355.5L397.9 356L397.3 356L396.7 355.8L396.1 355.4L395.5 355.1L394.9 355.3L394.3 354.8L393.7 354.8L393.1 354.5L392.5 354.4L391.9 353.8L391.3 353.8L390.7 353.7L390.1 353.3L389.5 353L388.9 353.2L388.3 352.9L387.7 353.2L387.1 352.9L386.5 353.3L385.9 353.2L385.3 353.1L384.7 353L384.1 352.7L383.5 352.9L382.9 353.1L382.3 353L381.7 353L381.1 353.2L380.5 352.9L379.9 353L379.3 352.9L378.7 353.3L378.1 353.1L377.5 353.4L376.9 353.2L376.3 353.5L375.7 353.3L375.1 353.7L374.5 353.3L373.9 353.3L373.3 353L372.7 353.1L372.1 352.6L371.5 352.7L370.9 352.6L370.3 352.3L369.7 352.4L369.1 351.9L368.5 351.8L367.9 352L367.3 352L366.7 352.4L366.1 352.5L365.5 352.2L364.9 352.4L364.3 352.2L363.7 352.5L363.1 352.5L362.5 352.9L361.9 352.8L361.3 353.1L360.7 353.2L360.1 353.4L359.5 353.6L358.9 353.5L358.3 353.6L357.7 353.8L357.1 354.1L356.5 353.9L355.9 354.6L355.3 354.1L354.7 354L354.1 353.9L353.5 353.8L352.9 353L352.3 353.2L351.7 352.7L351.1 352.2L350.5 351.7L349.9 351.3L349.3 351.1L348.7 351.9L348.1 352.3L347.5 352.6L346.9 353.1L346.3 352.7L345.7 352.5L345.1 352.8L344.5 352.6L343.9 352.5L343.3 352.9L342.7 352.6L342.1 352.4L341.5 352.7L340.9 351.9L340.3 351.9L339.7 351.5L339.1 350.7L338.5 350.5L337.9 350L337.3 349.4L336.7 349.5L336.1 348.6L335.5 348.6L334.9 348.4L334.3 348.4L333.7 348.4L333.1 348.7L332.5 349.3L331.9 349L331.3 349.4L330.7 349.8L330.1 350.2L329.5 349.9L328.9 350.7L328.3 350.7L327.7 351L327.1 350.7L326.5 350.7L325.9 350.8L325.3 350.5L324.7 351L324.1 350.6L323.5 351L322.9 350.7L322.3 350.7L321.7 350L321.1 350.4L320.5 350L319.9 350L319.3 349.3L318.7 349.5L318.1 348.9L317.5 348.8L316.9 349.3L316.3 349L315.6 349.2L315 349.8L314.4 349.8L313.8 350.6L313.2 350.8L312.6 351.4L312 352L311.4 352.1L310.8 352.4L310.2 352.8L309.6 353.7L309 354.4L308.4 354.5L307.8 354.9L307.2 355.9L306.6 356.1L306 356.5L305.4 357L304.8 357.4L304.2 358.2L303.6 358.4L303 358.1L302.4 358.5L301.8 358.4L301.2 359L300.6 359L300 359.2L299.4 358.9L298.8 359.3L298.2 358.8L297.6 358.1L297 357.2L296.4 356.2L295.8 355.6L295.2 355.1L294.6 355.1L294 355.3L293.4 355.6L292.8 355.5L292.2 355.9L291.6 356.2L291 356.6L290.4 356.5L289.8 356.7L289.2 357L288.6 357L288 356.9L287.4 356.2L286.8 356L286.2 355.5L285.6 354.5L285 354.6L284.4 355L283.8 354.7L283.2 354.7L282.6 354.9L282 354.5L281.4 354.5L280.8 354.5L280.2 355L279.6 355L279 355.3L278.4 355.5L277.8 360.1L277.2 363.6L276.6 367.7L276 367.9L275.4 368.4L274.8 368.4L274.2 368.2L273.6 368L273 367.3L272.4 366.5L271.8 367.4L271.2 366.8L270.6 367.4L270 366.9L269.4 366.8L268.8 366L268.2 366.3L267.6 366.5L267 365.8L266.4 366L265.8 365.3L265.2 364.6L264.6 364.5L264 364.6L263.4 364.8L262.8 364.5L262.2 364.3L261.6 363.9L261 363.3L260.4 363.4L259.8 364.4L259.2 364L258.6 364.1L258 364.4L257.4 364.1L256.8 364.1L256.2 364.1L255.6 364.2L255 364.2L254.4 364.4L253.8 363.8L253.2 363.7L252.6 363.6L252 363.9L251.4 363.5L250.8 363.9L250.2 363.4L249.6 363L249 363.2L248.4 363.5L247.8 363.4L247.2 363.4L246.6 363.1L246 362.7L245.4 362.7L244.8 363.1L244.2 363.4L243.6 362.8L243 363.4L242.4 363.2L241.8 362.9L241.2 363.3L240.6 363.4L240 364.3L239.4 364.1L238.8 364.7L238.2 364.5L237.6 364.6L237 365.1L236.4 365.7L235.8 366.2L235.2 366.4L234.6 366.3L234 366.4L233.4 367.8L232.8 368L232.2 369L231.6 369.3L231 369.5L230.4 369.7L229.8 370.3L229.2 370.7L228.6 370.5L228 370.7L227.4 370.4L226.8 370.1L226.2 370.4L225.6 370.7L225 370.2L224.4 370.6L223.8 371.2L223.2 370.8L222.6 370.7L222 371.8L221.4 371.8L220.8 372.7L220.2 373.2L219.6 373.3L219 372.9L218.4 373.9L217.8 373.2L217.2 373L216.6 372.8L216 372.1L215.4 371.2L214.8 370.5L214.2 370L213.6 370.1L213 369.8L212.4 368.8L211.8 368.3L211.2 368L210.6 367.2L210 367.5L209.4 366.7L208.8 366.5L208.2 365.4L207.6 365.9L207 365.5L206.4 365.9L205.8 366.6L205.2 366.8L204.6 366.9L204 366.6L203.4 366.8L202.8 367.1L202.2 367.9L201.6 367.6L201 367.4L200.4 366.9L199.8 366.4L199.2 365.8L198.6 366.2L198 365.6L197.4 365.3L196.8 364.9L196.2 364.2L195.6 363.9L195 364L194.4 363.7L193.8 363.9L193.2 363.8L192.6 363L192 362.6L191.4 363L190.8 363.7L190.2 363.4L189.6 362.8L189 363.6L188.4 363L187.8 363.8L187.2 363.8L186.6 364.4L186 364.3L185.4 364.5L184.8 364.7L184.2 364.4L183.6 365L183 365.4L182.4 365.6L181.8 365.5L181.2 365.3L180.6 364.6L180 363.9L179.4 364.1L178.8 364.1L178.2 364.1L177.6 364L177 363L176.4 362.4L175.8 362.4L175.2 362.3L174.6 362.8L174 362.9L173.4 363.2L172.8 363.1L172.2 363.1L171.6 363.9L171 364.4L170.4 364L169.8 364.7L169.2 364.5L168.6 364.9L168 365.2L167.4 365.4L166.8 366.1L166.2 366.5L165.6 366.3L165 366.9L164.4 367.4L163.8 368L163.2 368.2L162.6 368.6L162 368.3L161.4 368.6L160.8 368.7L160.2 369.1L159.6 368.8L159 368.5L158.4 367.7L157.8 367.6L157.2 367.4L156.6 366.8L156 366.8L155.4 366.5L154.7 365.6L154.1 365.3L153.5 364.4L152.9 365.3L152.3 366.6L151.7 367.3L151.1 368.2L150.5 368.8L149.9 369L149.3 369.8L148.7 370L148.1 369.2L147.5 368.9L146.9 368.5L146.3 367.5L145.7 367.2L145.1 366.9L144.5 366.9L143.9 366.1L143.3 366.2L142.7 365.4L142.1 364.5L141.5 363.8L140.9 364.2L140.3 364.3L139.7 364.2L139.1 364.3L138.5 363.8L137.9 363.9L137.3 364.2L136.7 364L136.1 363.8L135.5 364.1L134.9 363.7L134.3 363.6L133.7 363.4L133.1 363.6L132.5 363.6L131.9 364.2L131.3 363.6L130.7 364L130.1 363.8L129.5 364L128.9 363.9L128.3 363.7Z" fill="#e41a1c" stroke="#e41a1c" stroke-width="0.6" stroke-linejoin="round"/><path d="M994.6 367.7L995.2 368L995.8 368.7L996.4 368.7L997 368.3L997.6 368.6L998.2 368.9L998.8 369.7L999.4 369.5L1000 369.9L1000.6 369.9L1001.2 369.9L1001.8 369.7L1002.4 370.9L1003 371.4L1003.6 371.2L1004.2 371.1L1004.8 371.1L1005.4 370.9L1006 371.9L1006.6 372.4L1007.2 372.6L1007.8 372.7L1008.4 372.9L1009 372.5L1009.6 373.1L1010.2 373.8L1010.8 374.4L1011.4 374.6L1012 373.9L1012.6 374.1L1013.2 373.4L1013.8 374.3L1014.4 374.7L1015 374.6L1015.6 374.9L1016.2 374.9L1016.8 374.2L1017.4 374.3L1018 374.7L1018.6 375L1019.2 375.1L1019.8 375.1L1020.4 374.4L1021 374.1L1021.6 374.9L1022.2 374.4L1022.8 374L1023.4 373.8L1024 373.2L1024.6 372.8L1025.2 373.1L1025.8 372.5L1026.4 372.7L1027 372.4L1027.6 372.1L1028.2 371.5L1028.8 371.4L1029.4 372L1030 372.1L1030.6 372.1L1031.2 372.5L1031.8 372.2L1032.4 372.7L1033 373.3L1033.6 373.7L1034.2 373.7L1034.8 374.2L1035.4 374.1L1036 373.7L1036.6 375.1L1037.2 375.5L1037.8 375.7L1038.4 375.2L1039 374.8L1039.6 374.6L1040.2 374.9L1040.8 375.4L1041.4 376L1042 376L1042.6 376.1L1043.2 374.9L1043.8 375.3L1044.4 375.9L1045 376.4L1045.6 376.6L1046.2 376.8L1046.8 376.8L1047.4 376.6L1048 376.5L1048.6 377.4L1049.2 377.8L1049.8 377.7L1050.4 378.2L1051 377.7L1051.6 378.5L1052.2 378.9L1052.8 379.4L1053.4 380.5L1054 380.7L1054.6 380.3L1055.2 379.9L1055.8 380.2L1056.4 380.7L1057 380.8L1057.6 380.7L1058.2 380L1058.8 379.4L1059.4 379.5L1060 379.8L1060.6 379.3L1061.2 378.3L1061.8 377.7L1062.4 376.7L1063 374.8L1063.6 375.2L1064.2 374.6L1064.8 373.4L1065.4 372.5L1066 371.1L1066.6 370.5L1067.2 371.1L1067.8 372.8L1068.4 373.4L1069 374L1069.6 374.4L1070.2 374L1070.8 374.3L1071.4 375.3L1072 376.5L1072.6 377.2L1073.2 377L1073.8 377.3L1074.4 376.7L1075 378L1075.6 378.1L1076.2 378.7L1076.8 378.5L1077.4 378.7L1077.4 384.4L1076.8 383.5L1076.2 383.1L1075.6 382.8L1075 382L1074.4 382.3L1073.8 382L1073.2 382.2L1072.6 382.5L1072 381.8L1071.4 381L1070.8 380.3L1070.2 379.3L1069.6 378.9L1069 378.8L1068.4 378.8L1067.8 378L1067.2 377.7L1066.6 377.3L1066 377.7L1065.4 378.3L1064.8 379.1L1064.2 379.7L1063.6 380.7L1063 381.2L1062.4 381.8L1061.8 382.4L1061.2 383.7L1060.6 384L1060 384.6L1059.4 384.7L1058.8 384.8L1058.2 385.1L1057.6 384.6L1057 385.2L1056.4 385.3L1055.8 384.7L1055.2 384.6L1054.6 384.9L1054 385L1053.4 384.5L1052.8 384L1052.2 383.4L1051.6 383L1051 383.2L1050.4 383.2L1049.8 382.3L1049.2 382.6L1048.6 382.1L1048 381.8L1047.4 381.4L1046.8 380.9L1046.2 381.4L1045.6 380.7L1045 380.5L1044.4 380.6L1043.8 380.1L1043.2 379.9L1042.6 379.9L1042 380.1L1041.4 380L1040.8 380.1L1040.2 379.8L1039.6 379.8L1039 379.5L1038.4 380.2L1037.8 379.7L1037.2 380L1036.6 379.7L1036 379.1L1035.4 379.5L1034.8 378.7L1034.2 379L1033.6 378.3L1033 378.1L1032.4 377.6L1031.8 377.7L1031.2 377.6L1030.6 376.9L1030 377L1029.4 376.6L1028.8 376.6L1028.2 376.4L1027.6 377.1L1027 377.3L1026.4 377.5L1025.8 377.9L1025.2 377.9L1024.6 378.4L1024 378.6L1023.4 379L1022.8 379.2L1022.2 379.8L1021.6 379.5L1021 379.6L1020.4 380.5L1019.8 380.4L1019.2 380.6L1018.6 380.6L1018 379.9L1017.4 380.1L1016.8 380.2L1016.2 379.8L1015.6 380L1015 380.4L1014.4 379.8L1013.8 380.2L1013.2 379.5L1012.6 380L1012 380L1011.4 379.3L1010.8 379.3L1010.2 379.5L1009.6 378.5L1009 378.2L1008.4 378.5L1007.8 378.4L1007.2 378L1006.6 378.1L1006 378.1L1005.4 377.1L1004.8 377.3L1004.2 377.1L1003.6 377L1003 376.8L1002.4 376.9L1001.8 376.3L1001.2 376.2L1000.6 375.9L1000 375.7L999.4 375.6L998.8 375.5L998.2 374.7L997.6 374.8L997 374.4L996.4 374.1L995.8 374.3L995.2 374.2L994.6 373Z" fill="#e41a1c" stroke="#e41a1c" stroke-width="0.6" stroke-linejoin="round"/><path d="M1081.4 351.2L1082 350.6L1082.6 351.3L1083.2 351.3L1083.8 351.3L1084.4 351.3L1085 351.5L1085.6 350.8L1086.2 350.9L1086.8 351.2L1087.4 351L1088 351.4L1088.6 351L1089.2 350.3L1089.8 350.3L1090.4 350.2L1091 350.9L1091.6 350.8L1092.2 350.8L1092.8 350.7L1093.4 350.4L1094 350.6L1094.6 350.9L1095.2 351L1095.8 350.6L1096.4 350.4L1097 350.2L1097.6 350.5L1098.2 350.6L1098.8 350.8L1099.4 350.8L1100 350.8L1100.6 350.6L1101.2 350L1101.8 350.8L1102.4 350.9L1103 351.2L1103.6 351.9L1104.2 351.7L1104.8 351.5L1105.4 352.1L1106 352.4L1106.6 352.9L1107.2 353.6L1107.8 354L1108.4 354.2L1109 354.7L1109.6 355.4L1110.2 355.4L1110.8 355.6L1111.4 355.5L1112 355.4L1112.6 355.1L1113.2 355.3L1113.8 355.5L1114.4 356.1L1115 356.1L1115.6 355.7L1116.2 355.9L1116.8 355.7L1117.4 356.3L1118 356.1L1118.6 356.4L1119.2 356.6L1119.8 356.2L1120.4 356.1L1121 356.4L1121.6 357L1122.2 357L1122.8 356.9L1123.5 357L1124.1 356.4L1124.7 356.2L1125.3 357.1L1125.9 356.6L1126.5 356.9L1127.1 356.8L1127.7 356.1L1128.3 355.9L1128.9 356.3L1129.5 356.7L1130.1 356.7L1130.7 356.9L1131.3 356.2L1131.9 356L1132.5 356.5L1133.1 356.5L1133.7 357.1L1134.3 357L1134.9 356.2L1135.5 356.1L1136.1 356.5L1136.7 356.4L1137.3 356.5L1137.9 356.7L1138.5 356.7L1139.1 356.8L1139.7 355.7L1140.3 356L1140.9 356.2L1141.5 355.7L1142.1 355.8L1142.7 355.4L1143.3 354.4L1143.9 354.8L1144.5 354.6L1145.1 354.4L1145.7 354L1146.3 353.9L1146.9 353.2L1147.5 352.6L1148.1 353.4L1148.7 353.4L1149.3 353.3L1149.9 354.2L1150.5 353.7L1151.1 353.1L1151.7 353.9L1152.3 354.3L1152.9 354.4L1153.5 355L1154.1 354.7L1154.7 354L1155.3 354L1155.9 354.8L1156.5 355.1L1157.1 354.9L1157.7 355.1L1158.3 354.7L1158.9 354.3L1159.5 354.6L1160.1 355.1L1160.7 355L1161.3 355.1L1161.9 354.9L1162.5 354.5L1163.1 355.2L1163.7 355.7L1164.3 356.1L1164.9 356.7L1165.5 356.7L1166.1 356.3L1166.7 356.7L1167.3 357.4L1167.9 357.3L1168.5 357.3L1169.1 356.8L1169.7 356.3L1170.3 356.1L1170.9 356.2L1171.5 356.4L1172.1 356.2L1172.7 356.5L1173.3 355.9L1173.9 355.3L1174.5 354.8L1175.1 355.5L1175.7 355.2L1176.3 355.2L1176.9 355.9L1177.5 355.4L1178.1 355.2L1178.7 355.4L1179.3 355.8L1179.9 356L1180.5 355.5L1181.1 355.4L1181.7 355.4L1182.3 355.5L1182.9 356.1L1183.5 355.9L1184.1 356.3L1184.7 356.4L1185.3 355.6L1185.9 354.9L1186.5 355.1L1187.1 355.7L1187.7 355.2L1188.3 355.1L1188.9 354.3L1189.5 353.7L1190.1 354.4L1190.7 354.2L1191.3 353.9L1191.9 354.3L1192.5 354.4L1193.1 353.5L1193.7 353.3L1194.3 354.2L1194.9 354L1195.5 353.8L1196.1 354.2L1196.7 353.3L1197.3 352.9L1197.9 353.8L1198.5 353.5L1199.1 354.1L1199.7 354.3L1200.3 354L1200.9 354.2L1201.5 354.1L1202.1 355L1202.7 355.2L1203.3 355.2L1203.9 355.7L1204.5 355.6L1205.1 355.5L1205.7 356.1L1206.3 356.2L1206.9 355.6L1207.6 355.5L1208.2 355.2L1208.8 354.5L1209.4 355L1210 354.7L1210.6 354.9L1211.2 354.5L1211.8 354.3L1212.4 354.2L1213 354.1L1213.6 353.8L1214.2 354.5L1214.8 353.9L1215.4 354.2L1216 354.2L1216.6 354L1217.2 353.9L1217.8 354.7L1218.4 354.9L1219 354.5L1219.6 353.9L1220.2 353.8L1220.8 354.2L1221.4 354.5L1222 354.5L1222.6 354.3L1223.2 353.9L1223.8 353.8L1224.4 353.7L1225 354.5L1225.6 354.7L1226.2 354.4L1226.8 354.1L1227.4 353.6L1228 353.6L1228.6 353.7L1229.2 354.7L1229.8 354.1L1230.4 354.5L1231 354.1L1231.6 353.8L1232.2 353.5L1232.8 354.4L1233.4 354.3L1234 354.2L1234.6 354.5L1235.2 353.9L1235.8 353.8L1236.4 353.6L1237 354.5L1237.6 354.5L1238.2 354.2L1238.8 353.5L1239.4 353L1240 353.3L1240.6 354.5L1241.2 354.4L1241.8 354.3L1242.4 353.5L1243 353L1243.6 353L1244.2 354L1244.8 354.1L1245.4 354.3L1246 353.6L1246.6 353.5L1247.2 353.4L1247.8 354.4L1248.4 354.5L1249 354.6L1249.6 354.9L1250.2 354.8L1250.8 354L1251.4 355L1252 355.3L1252.6 356.2L1253.2 356.2L1253.8 356.8L1254.4 356.5L1255 356.7L1255.6 357.6L1256.2 358.6L1256.8 358.8L1257.4 358.7L1258 357.7L1258.6 357L1259.2 357.1L1259.8 357.4L1260.4 357.2L1261 356.9L1261.6 355.9L1262.2 355.6L1262.8 355.4L1263.4 355.6L1264 355.3L1264.6 355L1265.2 354.9L1265.8 353.7L1266.4 353.5L1267 354.1L1267.6 354.9L1268.2 354.6L1268.8 355L1269.4 354.6L1270 354L1270.6 354.2L1271.2 354.7L1271.8 355L1272.4 354.9L1273 355.1L1273.6 354.6L1274.2 355.2L1274.8 355.2L1275.4 355.1L1276 354.9L1276.6 355.1L1277.2 354.8L1277.8 354.1L1278.4 354.1L1279 354.4L1279.6 354.3L1280.2 353.8L1280.8 353.5L1281.4 353.1L1282 352.9L1282.6 353.6L1283.2 353.9L1283.8 353.8L1284.4 354.3L1285 354L1285.6 354L1286.2 354.1L1286.8 354.9L1287.4 354.4L1288 355L1288.6 354.4L1289.2 354.1L1289.8 354.8L1290.4 354.9L1291.1 355.2L1291.7 354.9L1292.3 354.6L1292.9 354.7L1293.5 354.4L1294.1 355.1L1294.7 355L1295.3 355.6L1295.9 355.3L1296.5 354.7L1297.1 354.7L1297.7 354.9L1298.3 355.2L1298.9 355.3L1299.5 355.6L1300.1 355.2L1300.7 354.5L1301.3 354.9L1301.9 355.6L1302.5 355.7L1303.1 355.8L1303.7 355.5L1304.3 355.2L1304.9 355.5L1305.5 355.6L1306.1 356.1L1306.7 355.9L1307.3 355.7L1307.9 355.6L1308.5 355.4L1309.1 355.6L1309.7 356L1310.3 356.3L1310.9 356.8L1311.5 356.6L1312.1 356.6L1312.7 357.2L1313.3 358.1L1313.9 358.5L1314.5 358.5L1315.1 358.7L1315.7 358.7L1316.3 359L1316.9 359.9L1317.5 360.1L1318.1 360.6L1318.7 360.8L1319.3 360.7L1319.9 360.9L1320.5 361.5L1321.1 361.4L1321.7 361.8L1322.3 361.4L1322.9 361.2L1323.5 361.1L1324.1 360.8L1324.7 361.3L1325.3 361.4L1325.9 361L1326.5 361.5L1327.1 361L1327.7 361.6L1328.3 362.2L1328.9 362.9L1329.5 363.8L1330.1 364L1330.7 363.8L1331.3 362.8L1331.9 362.5L1332.5 362.2L1333.1 362L1333.7 361.3L1334.3 361.2L1334.9 360.4L1335.5 359.9L1336.1 360.1L1336.7 360.4L1337.3 360.7L1337.9 360.5L1338.5 360.2L1339.1 359.6L1339.7 359.9L1340.3 360.4L1340.9 360.4L1341.5 360.2L1342.1 359.8L1342.7 359.4L1343.3 359.3L1343.9 359.8L1344.5 359.6L1345.1 359.8L1345.7 359.4L1346.3 359.6L1346.9 359.1L1347.5 359.3L1348.1 359.5L1348.7 359.3L1349.3 359.5L1349.9 359.8L1350.5 359.6L1351.1 359.7L1351.7 360L1352.3 360.4L1352.9 360.2L1353.5 360.5L1354.1 360.1L1354.7 359.5L1355.3 359.6L1355.9 359.9L1356.5 359.4L1357.1 359.4L1357.7 358.7L1358.3 358.1L1358.9 358.3L1359.5 358.7L1360.1 358.9L1360.7 358.9L1361.3 358.6L1361.9 358.4L1362.5 358.2L1363.1 358.8L1363.7 358.6L1364.3 359L1364.9 359.2L1365.5 358.5L1366.1 358.4L1366.7 358.5L1367.3 358.2L1367.9 358.1L1368.5 358.1L1369.1 357.5L1369.7 357.2L1370.3 357.4L1370.9 357.6L1371.5 357L1372.1 357.1L1372.7 356.8L1373.3 356.7L1373.9 357L1374.5 357.2L1375.2 357.8L1375.8 357.5L1376.4 357.7L1377 357.8L1377.6 357.2L1378.2 357.9L1378.8 358L1379.4 358.5L1380 358.2L1380.6 358.4L1381.2 357.9L1381.8 358L1382.4 358.3L1383 358.6L1383.6 358.5L1384.2 358.8L1384.8 358.4L1385.4 358.8L1386 358.8L1386.6 359.4L1387.2 359.2L1387.8 359L1388.4 358.8L1389 358.1L1389.6 358.6L1390.2 358.7L1390.8 358.3L1391.4 358.3L1392 358.2L1392.6 357.5L1393.2 357.4L1393.8 357.6L1394.4 357.8L1395 357.2L1395.6 357.9L1396.2 357.4L1396.8 357.5L1397.4 357.6L1398 357.9L1398.6 357.9L1399.2 358.4L1399.8 358.3L1400.4 357.7L1401 358.2L1401.6 358.6L1402.2 358.8L1402.8 358.7L1403.4 358.6L1404 358.5L1404.6 358.5L1405.2 359.2L1405.8 359.2L1406.4 359.6L1407 359.4L1407.6 359.5L1408.2 359.2L1408.8 359.8L1409.4 359.9L1410 359.9L1410.6 360L1411.2 359.9L1411.8 359.5L1412.4 359.6L1413 360.1L1413.6 360.5L1414.2 360.4L1414.8 360.4L1415.4 359.8L1416 359.6L1416.6 359.8L1417.2 359.8L1417.8 359.6L1418.4 359.5L1419 359.2L1419.6 359L1420.2 359.1L1420.8 359.1L1421.4 359.1L1422 358.6L1422.6 358.6L1423.2 357.8L1423.8 357.7L1424.4 357.8L1425 357.5L1425.6 357.4L1426.2 356.7L1426.8 356.5L1427.4 355.9L1428 355.9L1428.6 356.3L1429.2 356.6L1429.8 356.8L1430.4 357.5L1431 357.4L1431.6 357.8L1432.2 358.7L1432.8 359.4L1433.4 359.6L1434 359.8L1434.6 359.9L1435.2 359.3L1435.8 359.1L1436.4 359L1437 358.4L1437.6 358.4L1438.2 357.5L1438.8 357.1L1439.4 356.9L1440 356.6L1440.6 356.6L1441.2 356.2L1441.8 355.8L1442.4 354.8L1443 354.6L1443.6 354.3L1444.2 355L1444.8 355.3L1445.4 355.8L1446 355.8L1446.6 355.8L1447.2 356.8L1447.8 357.2L1448.4 357.6L1449 358.2L1449.6 358.3L1450.2 358.8L1450.8 359.3L1451.4 359.6L1452 360.1L1452.6 360.5L1453.2 361.3L1453.8 360.6L1454.4 360.3L1455 360L1455.6 360.1L1456.2 359.8L1456.8 359.2L1457.4 358.5L1458 357.8L1458.7 357.9L1459.3 357.9L1459.9 357.2L1460.5 357.1L1461.1 356.5L1461.7 355.9L1462.3 355.7L1462.9 356.3L1463.5 356L1464.1 356.2L1464.7 356.2L1465.3 355.7L1465.9 355.6L1466.5 355.7L1467.1 356.3L1467.7 356.4L1468.3 356.7L1468.9 357L1469.5 356.8L1470.1 357.2L1470.7 357.7L1471.3 358L1471.9 358.3L1472.5 358.4L1473.1 358.6L1473.7 359L1474.3 358.9L1474.9 358.7L1475.5 358L1476.1 358.1L1476.7 357.7L1477.3 356.9L1477.9 356.7L1478.5 356.9L1479.1 357.3L1479.7 357.2L1480.3 357.3L1480.9 357.4L1481.5 357.7L1482.1 357.8L1482.7 357.9L1483.3 358.4L1483.9 357.9L1484.5 357.7L1485.1 357.4L1485.7 357.9L1486.3 357.9L1486.9 357.9L1487.5 358.1L1488.1 357.7L1488.7 357.6L1489.3 357.7L1489.9 357.9L1490.5 358.3L1491.1 358.4L1491.7 357.8L1492.3 357.8L1492.9 357.9L1493.5 358.2L1494.1 358.6L1494.7 358.5L1495.3 358.4L1495.9 358.4L1496.5 358.2L1497.1 358.5L1497.7 358.8L1498.3 358.8L1498.9 359L1499.5 358.9L1500.1 358.6L1500.7 358.2L1501.3 358.6L1501.9 358.6L1502.5 358.7L1503.1 358.2L1503.7 357.8L1504.3 357.7L1504.9 357.9L1505.5 358.2L1506.1 358L1506.7 357.8L1507.3 357.4L1507.9 357.4L1508.5 357.2L1509.1 357.5L1509.7 357.2L1510.3 357.1L1510.9 356.8L1511.5 356.4L1512.1 356.2L1512.7 356.6L1513.3 356.4L1513.9 356.4L1514.5 356.2L1515.1 355.8L1515.7 355.8L1516.3 355.8L1516.9 356.2L1517.5 356L1518.1 355.9L1518.7 355.7L1519.3 355.5L1519.9 355.5L1520.5 356L1521.1 355.9L1521.7 355.9L1522.3 356.2L1522.9 355.7L1523.5 355.6L1524.1 355.3L1524.7 355.7L1525.3 355.5L1525.9 355.3L1526.5 354.9L1527.1 354.3L1527.7 354.2L1528.3 354.2L1528.3 357.1L1527.7 357.4L1527.1 357.3L1526.5 357.7L1525.9 357.6L1525.3 358.1L1524.7 358.1L1524.1 358.1L1523.5 358.4L1522.9 358.6L1522.3 358.5L1521.7 358.5L1521.1 358.5L1520.5 358.5L1519.9 358.4L1519.3 358.6L1518.7 358.8L1518.1 358.9L1517.5 358.5L1516.9 358.6L1516.3 358.6L1515.7 358.9L1515.1 358.7L1514.5 359.1L1513.9 359.3L1513.3 359.2L1512.7 359.3L1512.1 359.2L1511.5 359.4L1510.9 359.6L1510.3 359.7L1509.7 359.8L1509.1 360L1508.5 360.1L1507.9 360L1507.3 360.2L1506.7 360.7L1506.1 360.5L1505.5 360.9L1504.9 360.6L1504.3 360.6L1503.7 360.7L1503.1 361.2L1502.5 361.4L1501.9 361.3L1501.3 361.1L1500.7 361.2L1500.1 361.3L1499.5 361.8L1498.9 361.6L1498.3 361.7L1497.7 361.6L1497.1 361.4L1496.5 360.9L1495.9 361L1495.3 361L1494.7 361.3L1494.1 360.9L1493.5 360.8L1492.9 360.7L1492.3 360.7L1491.7 360.7L1491.1 360.7L1490.5 361L1489.9 360.8L1489.3 360.7L1488.7 360.2L1488.1 360.3L1487.5 360.7L1486.9 360.7L1486.3 360.6L1485.7 361L1485.1 360.7L1484.5 360.6L1483.9 361.1L1483.3 360.8L1482.7 360.6L1482.1 360.8L1481.5 360.5L1480.9 360.3L1480.3 360.1L1479.7 360.2L1479.1 359.8L1478.5 359.9L1477.9 360L1477.3 359.7L1476.7 360.2L1476.1 360.9L1475.5 360.9L1474.9 361.3L1474.3 361.8L1473.7 361.8L1473.1 361.3L1472.5 361.2L1471.9 361.3L1471.3 360.7L1470.7 360.7L1470.1 360.1L1469.5 359.7L1468.9 359.8L1468.3 359.6L1467.7 359.3L1467.1 358.9L1466.5 358.7L1465.9 358.6L1465.3 358.4L1464.7 358.9L1464.1 358.8L1463.5 359L1462.9 358.7L1462.3 359L1461.7 358.9L1461.1 359.1L1460.5 359.6L1459.9 359.9L1459.3 360.6L1458.7 360.6L1458 361L1457.4 361.5L1456.8 361.7L1456.2 362.1L1455.6 362.9L1455 362.7L1454.4 363.2L1453.8 363.6L1453.2 364.1L1452.6 363.5L1452 363.3L1451.4 362.6L1450.8 362.1L1450.2 361.6L1449.6 361.3L1449 360.8L1448.4 360.5L1447.8 360.1L1447.2 359.6L1446.6 359.1L1446 358.9L1445.4 358.3L1444.8 358L1444.2 357.9L1443.6 357.2L1443 357.8L1442.4 357.8L1441.8 358.2L1441.2 358.7L1440.6 359.1L1440 359.5L1439.4 359.6L1438.8 360.3L1438.2 360.7L1437.6 360.9L1437 361.6L1436.4 361.7L1435.8 362L1435.2 362.4L1434.6 362.7L1434 362.7L1433.4 362.1L1432.8 361.6L1432.2 361.2L1431.6 361.2L1431 360.2L1430.4 359.9L1429.8 359.5L1429.2 359.2L1428.6 358.6L1428 359L1427.4 359L1426.8 359.5L1426.2 359.7L1425.6 359.7L1425 360.2L1424.4 360.1L1423.8 360.7L1423.2 360.7L1422.6 361.3L1422 361.5L1421.4 361.7L1420.8 361.8L1420.2 362.1L1419.6 362.1L1419 361.9L1418.4 362.4L1417.8 362.2L1417.2 362.5L1416.6 362.4L1416 362.8L1415.4 362.6L1414.8 362.8L1414.2 362.7L1413.6 363L1413 362.7L1412.4 362.7L1411.8 362.5L1411.2 363L1410.6 363L1410 362.9L1409.4 362.8L1408.8 362.4L1408.2 362.2L1407.6 362.3L1407 362.1L1406.4 362L1405.8 361.8L1405.2 361.6L1404.6 361.4L1404 361.3L1403.4 361.4L1402.8 361.4L1402.2 361.4L1401.6 361L1401 360.7L1400.4 360.6L1399.8 360.7L1399.2 360.9L1398.6 360.9L1398 360.8L1397.4 360.6L1396.8 360.5L1396.2 360.2L1395.6 360.1L1395 360.2L1394.4 360.4L1393.8 360.3L1393.2 360.7L1392.6 360.6L1392 361L1391.4 360.8L1390.8 361.3L1390.2 361.3L1389.6 361.5L1389 361.5L1388.4 361.4L1387.8 361.8L1387.2 361.6L1386.6 361.6L1386 361.6L1385.4 361.7L1384.8 361.7L1384.2 361.6L1383.6 361.7L1383 361.3L1382.4 361.5L1381.8 361.4L1381.2 361L1380.6 361.3L1380 361.1L1379.4 361L1378.8 360.8L1378.2 360.8L1377.6 360.5L1377 360.3L1376.4 360.7L1375.8 360.3L1375.2 360.1L1374.5 359.8L1373.9 359.9L1373.3 359.6L1372.7 359.8L1372.1 359.8L1371.5 359.9L1370.9 360.2L1370.3 360.1L1369.7 360.3L1369.1 360.5L1368.5 360.9L1367.9 360.7L1367.3 361.1L1366.7 361.5L1366.1 361.6L1365.5 361.6L1364.9 361.4L1364.3 361.4L1363.7 361.7L1363.1 361.6L1362.5 361.5L1361.9 361.2L1361.3 361.3L1360.7 361.6L1360.1 361.7L1359.5 361.4L1358.9 361.4L1358.3 361.3L1357.7 361.7L1357.1 362.2L1356.5 362.4L1355.9 362.3L1355.3 362.5L1354.7 362.7L1354.1 362.8L1353.5 363.3L1352.9 363L1352.3 363.2L1351.7 362.7L1351.1 362.7L1350.5 362.4L1349.9 362.6L1349.3 362.7L1348.7 362.6L1348.1 362.4L1347.5 362.3L1346.9 362.3L1346.3 362.6L1345.7 362.3L1345.1 362.3L1344.5 362.7L1343.9 362.9L1343.3 362.8L1342.7 362.8L1342.1 362.6L1341.5 363L1340.9 362.6L1340.3 362.8L1339.7 362.9L1339.1 362.6L1338.5 362.7L1337.9 363L1337.3 362.9L1336.7 363.2L1336.1 363L1335.5 363L1334.9 363.2L1334.3 363.8L1333.7 364.2L1333.1 364.8L1332.5 365.4L1331.9 365.7L1331.3 366.2L1330.7 366.5L1330.1 366.6L1329.5 366L1328.9 365.7L1328.3 364.9L1327.7 364.6L1327.1 363.8L1326.5 364L1325.9 364.1L1325.3 363.9L1324.7 364.1L1324.1 363.9L1323.5 364L1322.9 364.2L1322.3 364.1L1321.7 364.2L1321.1 364.5L1320.5 364L1319.9 363.7L1319.3 363.6L1318.7 363.7L1318.1 363L1317.5 362.9L1316.9 362.3L1316.3 362.2L1315.7 362.1L1315.1 361.4L1314.5 361.4L1313.9 361L1313.3 360.9L1312.7 360.6L1312.1 360.2L1311.5 360.2L1310.9 359.8L1310.3 359.7L1309.7 358.9L1309.1 359.3L1308.5 358.9L1307.9 359.1L1307.3 359.1L1306.7 359.4L1306.1 359.5L1305.5 359.2L1304.9 359.1L1304.3 359.2L1303.7 358.8L1303.1 359.4L1302.5 358.9L1301.9 358.9L1301.3 359L1300.7 358.6L1300.1 358.9L1299.5 358.8L1298.9 359.3L1298.3 359.1L1297.7 359.1L1297.1 358.4L1296.5 359L1295.9 358.6L1295.3 358.7L1294.7 358.6L1294.1 358.7L1293.5 358.6L1292.9 358.6L1292.3 358.7L1291.7 358.6L1291.1 358.9L1290.4 358.3L1289.8 358.6L1289.2 358.5L1288.6 358.5L1288 358.3L1287.4 358.6L1286.8 358.6L1286.2 358.5L1285.6 358L1285 358.3L1284.4 357.7L1283.8 357.8L1283.2 358.3L1282.6 357.5L1282 357.9L1281.4 358.2L1280.8 358.3L1280.2 358.7L1279.6 358.3L1279 359L1278.4 359.1L1277.8 358.5L1277.2 359.3L1276.6 359.3L1276 359.5L1275.4 359.8L1274.8 359.5L1274.2 359.8L1273.6 359.8L1273 359.6L1272.4 359.3L1271.8 359.3L1271.2 359L1270.6 358.9L1270 359.3L1269.4 358.9L1268.8 359.1L1268.2 359.2L1267.6 358.7L1267 358.5L1266.4 358L1265.8 358.7L1265.2 358.5L1264.6 359.1L1264 359.5L1263.4 359.5L1262.8 359.8L1262.2 359.7L1261.6 360.1L1261 360.5L1260.4 360.7L1259.8 360.5L1259.2 361.2L1258.6 361.1L1258 361.7L1257.4 361.8L1256.8 361.7L1256.2 361.3L1255.6 361.2L1255 360.5L1254.4 360.4L1253.8 359.9L1253.2 359.6L1252.6 359.6L1252 358.9L1251.4 359L1250.8 358.5L1250.2 358.7L1249.6 358.2L1249 358L1248.4 358.1L1247.8 358.4L1247.2 357.9L1246.6 357.8L1246 357.7L1245.4 357.7L1244.8 357.7L1244.2 357.9L1243.6 357.4L1243 358.1L1242.4 358.1L1241.8 357.6L1241.2 357.8L1240.6 358L1240 358L1239.4 358L1238.8 358.2L1238.2 358.1L1237.6 358.5L1237 358.4L1236.4 358.1L1235.8 358L1235.2 357.9L1234.6 358.2L1234 358.4L1233.4 358.5L1232.8 358.4L1232.2 358.7L1231.6 358.7L1231 358L1230.4 358.8L1229.8 358.6L1229.2 358.2L1228.6 358.2L1228 358.4L1227.4 358L1226.8 358.6L1226.2 358.8L1225.6 358.3L1225 358.8L1224.4 358.7L1223.8 358.5L1223.2 358.8L1222.6 358.4L1222 358.5L1221.4 358.5L1220.8 358.8L1220.2 358L1219.6 358.7L1219 358.8L1218.4 358.3L1217.8 358.8L1217.2 358.8L1216.6 358.4L1216 358.2L1215.4 358.3L1214.8 358.7L1214.2 358.9L1213.6 358.1L1213 358.8L1212.4 358.4L1211.8 358.5L1211.2 358.5L1210.6 359.3L1210 358.8L1209.4 359.1L1208.8 359L1208.2 359.1L1207.6 359.5L1206.9 359.4L1206.3 359.7L1205.7 359.6L1205.1 359.7L1204.5 359.8L1203.9 359.8L1203.3 359.5L1202.7 359.1L1202.1 358.7L1201.5 358.8L1200.9 358.4L1200.3 358.7L1199.7 358L1199.1 358.2L1198.5 358.1L1197.9 358.1L1197.3 357.4L1196.7 357.6L1196.1 357.6L1195.5 357.8L1194.9 358.3L1194.3 358.2L1193.7 358.4L1193.1 357.8L1192.5 358L1191.9 358.4L1191.3 358.8L1190.7 358.9L1190.1 358.3L1189.5 358.7L1188.9 359.2L1188.3 358.7L1187.7 359.3L1187.1 359.2L1186.5 359.1L1185.9 359.5L1185.3 359.3L1184.7 359.4L1184.1 359.5L1183.5 359.7L1182.9 359.9L1182.3 359.8L1181.7 359.4L1181.1 359.7L1180.5 359.6L1179.9 359.5L1179.3 359.3L1178.7 359.5L1178.1 359.4L1177.5 359.2L1176.9 359L1176.3 359.4L1175.7 359.3L1175.1 359.4L1174.5 359.4L1173.9 359.6L1173.3 360.1L1172.7 359.9L1172.1 359.8L1171.5 360L1170.9 360.2L1170.3 360.3L1169.7 360.7L1169.1 360.5L1168.5 360.8L1167.9 361.3L1167.3 361.3L1166.7 361.2L1166.1 360.3L1165.5 360.3L1164.9 359.8L1164.3 360.1L1163.7 359.7L1163.1 358.9L1162.5 359L1161.9 358.5L1161.3 358.8L1160.7 358.5L1160.1 358.5L1159.5 358.4L1158.9 358.4L1158.3 359L1157.7 358.7L1157.1 358.9L1156.5 359L1155.9 358.8L1155.3 359L1154.7 359L1154.1 358.6L1153.5 358.8L1152.9 359L1152.3 358.4L1151.7 358.5L1151.1 357.8L1150.5 357.9L1149.9 358L1149.3 358.2L1148.7 357.7L1148.1 357.7L1147.5 357.8L1146.9 358.3L1146.3 358L1145.7 358.3L1145.1 358.6L1144.5 358.8L1143.9 358.9L1143.3 359.2L1142.7 359.2L1142.1 359.7L1141.5 360.1L1140.9 359.8L1140.3 359.8L1139.7 359.8L1139.1 360.6L1138.5 360.6L1137.9 360.7L1137.3 360.5L1136.7 360L1136.1 360.3L1135.5 359.8L1134.9 360.3L1134.3 360.4L1133.7 360.3L1133.1 360L1132.5 359.9L1131.9 359.5L1131.3 360L1130.7 359.8L1130.1 360L1129.5 359.8L1128.9 359.7L1128.3 359.9L1127.7 359.9L1127.1 360.1L1126.5 360.5L1125.9 360.2L1125.3 360L1124.7 360.5L1124.1 360.6L1123.5 360.3L1122.8 360.5L1122.2 360.3L1121.6 360.6L1121 360.2L1120.4 359.6L1119.8 359.9L1119.2 359.8L1118.6 359.5L1118 359.5L1117.4 359.2L1116.8 358.8L1116.2 358.9L1115.6 358.7L1115 358.7L1114.4 358.5L1113.8 358.6L1113.2 358.3L1112.6 358L1112 357.9L1111.4 357.9L1110.8 357.9L1110.2 357.8L1109.6 358L1109 357.8L1108.4 357.2L1107.8 356.9L1107.2 356.5L1106.6 356L1106 356L1105.4 355.3L1104.8 355.2L1104.2 355L1103.6 354.8L1103 354.7L1102.4 354.2L1101.8 353.7L1101.2 353.6L1100.6 353.6L1100 354.1L1099.4 353.6L1098.8 353.7L1098.2 353.9L1097.6 353.6L1097 353.8L1096.4 353.9L1095.8 353.7L1095.2 353.7L1094.6 354.1L1094 353.7L1093.4 353.8L1092.8 353.6L1092.2 353.8L1091.6 353.7L1091 353.6L1090.4 353.7L1089.8 353.7L1089.2 353.7L1088.6 354.2L1088 354L1087.4 354.1L1086.8 354.1L1086.2 353.9L1085.6 354.2L1085 354.2L1084.4 354.5L1083.8 354.7L1083.2 354.6L1082.6 354.3L1082 354.5L1081.4 354.5Z" fill="#e41a1c" stroke="#e41a1c" stroke-width="0.6" stroke-linejoin="round"/><path d="M276.5 366L276.8 309.5L277.1 510L277.9 510L278.4 356L278.9 510L279.6 510L280 354L280.6 354L281 410L281.4 353" fill="none" stroke="#e41a1c" stroke-width="2.1" stroke-linejoin="round" stroke-linecap="butt"/><path d="M283 354L283.3 373.5L283.7 354" fill="none" stroke="#e41a1c" stroke-width="2.1" stroke-linejoin="round" stroke-linecap="butt"/><path d="M386.9 352L387.3 510L387.7 352" fill="none" stroke="#e41a1c" stroke-width="2.1" stroke-linejoin="round" stroke-linecap="butt"/><path d="M1050.3 382L1050.8 291.5L1051.4 384L1052.6 384L1053.2 303.5L1053.7 384" fill="none" stroke="#e41a1c" stroke-width="2.1" stroke-linejoin="round" stroke-linecap="butt"/><path d="M1076.9 378L1077.2 248L1077.6 380" fill="none" stroke="#e41a1c" stroke-width="2.1" stroke-linejoin="round" stroke-linecap="butt"/><path d="M1078.2 380L1078.9 204.5L1079.6 300L1080.6 386.5L1081.3 353" fill="none" stroke="#e41a1c" stroke-width="2.1" stroke-linejoin="round" stroke-linecap="butt"/><path d="M1087.9 352L1088.3 374.5L1088.7 340L1089 352" fill="none" stroke="#e41a1c" stroke-width="2.1" stroke-linejoin="round" stroke-linecap="butt"/><path d="M1107.2 354L1107.5 300L1107.9 354" fill="none" stroke="#e41a1c" stroke-width="2.1" stroke-linejoin="round" stroke-linecap="butt"/><path d="M1108 356L1108.4 254.5L1108.9 356" fill="none" stroke="#e41a1c" stroke-width="2.1" stroke-linejoin="round" stroke-linecap="butt"/><path d="M1118.3 357L1118.7 348L1119.1 357" fill="none" stroke="#e41a1c" stroke-width="2.1" stroke-linejoin="round" stroke-linecap="butt"/><path d="M1120.6 358L1121.1 364L1121.6 358" fill="none" stroke="#e41a1c" stroke-width="2.1" stroke-linejoin="round" stroke-linecap="butt"/><path d="M130.8 354L131.2 350.8L131.9 350L132.9 350.4L133.5 354Z" fill="#e41a1c" stroke="#e41a1c" stroke-width="0.6" stroke-linejoin="round"/><path d="M188.2 353L188.6 349.5L189.3 348.7L190.3 349.1L190.9 353Z" fill="#e41a1c" stroke="#e41a1c" stroke-width="0.6" stroke-linejoin="round"/><path d="M245.5 352L245.9 348.5L246.6 347.7L247.6 348.1L248.2 352Z" fill="#e41a1c" stroke="#e41a1c" stroke-width="0.6" stroke-linejoin="round"/><path d="M444.6 354L445 349.5L445.7 348.7L446.7 349.1L447.3 354Z" fill="#e41a1c" stroke="#e41a1c" stroke-width="0.6" stroke-linejoin="round"/><path d="M502.2 356L502.6 350.8L503.3 350L504.3 350.4L504.9 356Z" fill="#e41a1c" stroke="#e41a1c" stroke-width="0.6" stroke-linejoin="round"/><path d="M559.9 355L560.3 348.8L561 348L562 348.4L562.6 355Z" fill="#e41a1c" stroke="#e41a1c" stroke-width="0.6" stroke-linejoin="round"/><path d="M617.3 356L617.7 351.8L618.4 351L619.4 351.4L620 356Z" fill="#e41a1c" stroke="#e41a1c" stroke-width="0.6" stroke-linejoin="round"/><path d="M674.9 355L675.3 350.8L676 350L677 350.4L677.6 355Z" fill="#e41a1c" stroke="#e41a1c" stroke-width="0.6" stroke-linejoin="round"/><path d="M732.2 356L732.6 350.1L733.3 349.3L734.3 349.7L734.9 356Z" fill="#e41a1c" stroke="#e41a1c" stroke-width="0.6" stroke-linejoin="round"/><path d="M789.8 360L790.2 353.8L790.9 353L791.9 353.4L792.5 360Z" fill="#e41a1c" stroke="#e41a1c" stroke-width="0.6" stroke-linejoin="round"/><path d="M847.1 354L847.5 350.8L848.2 350L849.2 350.4L849.8 354Z" fill="#e41a1c" stroke="#e41a1c" stroke-width="0.6" stroke-linejoin="round"/><path d="M904.8 358L905.2 354.1L905.9 353.3L906.9 353.7L907.5 358Z" fill="#e41a1c" stroke="#e41a1c" stroke-width="0.6" stroke-linejoin="round"/><path d="M1178.3 358L1179 364.7L1179.8 358" fill="none" stroke="#e41a1c" stroke-width="1.8" stroke-linejoin="round" stroke-linecap="butt"/><path d="M1235.9 357L1236.6 362.7L1237.4 357" fill="none" stroke="#e41a1c" stroke-width="1.8" stroke-linejoin="round" stroke-linecap="butt"/><path d="M1293 357L1293.7 362.7L1294.5 357" fill="none" stroke="#e41a1c" stroke-width="1.8" stroke-linejoin="round" stroke-linecap="butt"/></g>
<g id="p1-1154"><path d="M128.3 336.7L128.9 336.3L129.5 336.1L130.1 334L130.7 333.8L131.3 335.7L131.9 335.9L132.5 335.6L133.1 335.8L133.7 334.2L134.3 332.7L134.9 334.4L135.5 335.9L136.1 336.1L136.7 335.7L137.3 334.6L137.9 333.4L138.5 334L139.1 335.1L139.7 334.5L140.3 334.7L140.9 335L141.5 334.2L142.1 334.1L142.7 336L143.3 337L143.9 338.1L144.5 338.7L145.1 337.9L145.7 338L146.3 339.6L146.9 341.1L147.5 342.5L148.1 343.2L148.7 342.7L149.3 339.9L149.9 339.2L150.5 339.9L151.1 341L151.7 340.2L152.3 339.1L152.9 337.4L153.5 335.6L154.1 337L154.7 338.4L155.4 339.2L156 339.9L156.6 337.9L157.2 337L157.8 338.4L158.4 339.7L159 340.5L159.6 340.8L160.2 340.2L160.8 339.1L161.4 338.2L162 338.9L162.6 339.5L163.2 338.9L163.8 338.8L164.4 338L165 336L165.6 336.6L166.2 337L166.8 336.9L167.4 336.8L168 336.3L168.6 334.8L169.2 333.8L169.8 335.5L170.4 336.5L171 335.8L171.6 335L172.2 333.9L172.8 332.5L173.4 333.6L174 334.2L174.6 334.7L175.2 334L175.8 333.8L176.4 331.8L177 332.5L177.6 334.7L178.2 334.8L178.8 335.8L179.4 334.7L180 333L180.6 332.8L181.2 334.1L181.8 335.6L182.4 335.9L183 334.8L183.6 333.3L184.2 332.2L184.8 333.2L185.4 335.1L186 334.4L186.6 334.3L187.2 334.2L187.8 333.1L188.4 332.9L189 333.6L189.6 334L190.2 334.7L190.8 334.7L191.4 333.2L192 332.4L192.6 332.8L193.2 334.7L193.8 334.5L194.4 334.7L195 332.7L195.6 332.4L196.2 332.8L196.8 335.3L197.4 335.4L198 336.3L198.6 335.9L199.2 335.3L199.8 335.3L200.4 336.8L201 337.6L201.6 338.2L202.2 338L202.8 337.1L203.4 335.7L204 336.3L204.6 337.3L205.2 337.5L205.8 337.2L206.4 337.3L207 335.1L207.6 335.1L208.2 336.8L208.8 337.6L209.4 337.9L210 337.6L210.6 337.5L211.2 336.8L211.8 339L212.4 340.3L213 340.9L213.6 342L214.2 341.3L214.8 340.6L215.4 342.6L216 344.1L216.6 344.8L217.2 346L217.8 344.4L218.4 342.9L219 342.6L219.6 343.2L220.2 342.8L220.8 342.9L221.4 341.8L222 341L222.6 338.8L223.2 340L223.8 339.9L224.4 339.6L225 340.2L225.6 339.5L226.2 337.9L226.8 338.4L227.4 339.5L228 340.7L228.6 340.6L229.2 339.4L229.8 338.6L230.4 337L231 338.2L231.6 337.9L232.2 337.8L232.8 336.7L233.4 335.9L234 334L234.6 334L235.2 335L235.8 335.3L236.4 335.2L237 335.2L237.6 332.9L238.2 331.9L238.8 334.2L239.4 334.8L240 334.7L240.6 332.7L241.2 331.6L241.8 330.6L242.4 331.3L243 332.1L243.6 332.8L244.2 333.1L244.8 332.8L245.4 330.7L246 331.4L246.6 333.5L247.2 333.9L247.8 334.2L248.4 332.4L249 331.7L249.6 331.6L250.2 332.8L250.8 333L251.4 333.3L252 333.1L252.6 332.5L253.2 331.7L253.8 332.3L254.4 334L255 333.7L255.6 333.5L256.2 333.2L256.8 332.1L257.4 331.7L258 333.4L258.6 334L259.2 333.8L259.8 333.2L260.4 332L261 330.5L261.6 331.6L262.2 333.5L262.8 333.3L263.4 333.3L264 332.6L264.6 331.4L265.2 332L265.8 334.3L266.4 334.5L267 334.9L267.6 334.4L268.2 332.8L268.8 333.1L269.4 334.5L270 335.1L270.6 335.7L271.2 336L271.8 334.7L272.4 334.1L273 335L273.6 336.8L274.2 337.4L274.8 337.9L275.4 336.9L276 335.4L276.6 335.3L277.2 335.8L277.8 334.8L278.4 332.9L279 332.4L279.6 331.4L280.2 331.2L280.8 331.5L281.4 331.2L282 330.7L282.6 330.8L283.2 329.7L283.8 329.9L284.4 330L285 330.2L285.6 330.6L286.2 330.7L286.8 331.2L287.4 330.6L288 330.1L288.6 330.7L289.2 330.7L289.8 330.6L290.4 330.6L291 330.1L291.6 329.5L292.2 329.3L292.8 330L293.4 329.6L294 329.2L294.6 329L295.2 329L295.8 330L296.4 331.6L297 332.3L297.6 333.4L298.2 334.2L298.8 334.6L299.4 334.8L300 335L300.6 334.9L301.2 334.3L301.8 334.2L302.4 334.1L303 333.5L303.6 333.4L304.2 333.2L304.8 332.8L305.4 331.8L306 331.6L306.6 329.8L307.2 329.4L307.8 328.9L308.4 328.4L309 328L309.6 327.4L310.2 325.4L310.8 324.7L311.4 324.1L312 323.9L312.6 323.2L313.2 323.2L313.8 322.5L314.4 321.7L315 321L315.6 321.6L316.3 321.5L316.9 320.9L317.5 321.1L318.1 320.9L318.7 321L319.3 321.9L319.9 322.8L320.5 322.4L321.1 322.8L321.7 322.6L322.3 322.9L322.9 323L323.5 324.1L324.1 324.2L324.7 323.6L325.3 324L325.9 322.8L326.5 322.9L327.1 323.3L327.7 323.5L328.3 323.4L328.9 323.2L329.5 322.2L330.1 321.2L330.7 321.1L331.3 322L331.9 320.9L332.5 321.1L333.1 319.9L333.7 319L334.3 319.1L334.9 319.1L335.5 319.5L336.1 319.7L336.7 320.2L337.3 319.8L337.9 320.1L338.5 321L339.1 322.1L339.7 322.5L340.3 323.5L340.9 323.2L341.5 322.5L342.1 323.6L342.7 324.2L343.3 324.7L343.9 325.1L344.5 324.9L345.1 324.7L345.7 325.4L346.3 325.6L346.9 325L347.5 325L348.1 324.6L348.7 324.2L349.3 322.8L349.9 323.7L350.5 325.2L351.1 325.5L351.7 325.6L352.3 326.3L352.9 326.1L353.5 326.4L354.1 327.5L354.7 328.8L355.3 328.8L355.9 328.8L356.5 328.3L357.1 328.2L357.7 328.8L358.3 329.1L358.9 329.4L359.5 329.3L360.1 329.1L360.7 329L361.3 329.5L361.9 329.8L362.5 329.2L363.1 329.1L363.7 328.6L364.3 327.9L364.9 327.6L365.5 327.6L366.1 327.6L366.7 327.4L367.3 326.5L367.9 326L368.5 325.7L369.1 326.1L369.7 326.5L370.3 327.1L370.9 327.4L371.5 327.3L372.1 326.8L372.7 327.5L373.3 327.9L373.9 328.4L374.5 328.3L375.1 328.5L375.7 328.3L376.3 328.2L376.9 328.3L377.5 328.5L378.1 328.2L378.7 328.2L379.3 327.9L379.9 327.7L380.5 327.8L381.1 328L381.7 328.2L382.3 328.2L382.9 328.2L383.5 327.8L384.1 328.2L384.7 328.7L385.3 328.7L385.9 328.9L386.5 328.8L387.1 328.8L387.7 328.6L388.3 328.8L388.9 329.2L389.5 329.2L390.1 329.8L390.7 329.9L391.3 329.9L391.9 330L392.5 330.5L393.1 331.1L393.7 331.7L394.3 331.3L394.9 331.4L395.5 331.5L396.1 332.5L396.7 332.9L397.3 333L397.9 333.2L398.5 332.6L399.1 331.8L399.7 331.6L400.3 331.3L400.9 330.9L401.5 330.2L402.1 330.1L402.7 330.2L403.3 330.5L403.9 331.1L404.5 331.6L405.1 331.5L405.7 331.6L406.3 331.6L406.9 332L407.5 332.4L408.1 332.9L408.7 333L409.3 333.5L409.9 333.6L410.5 333.2L411.1 334L411.7 333.8L412.3 333.8L412.9 334L413.5 333.4L414.1 332.5L414.7 332.3L415.3 332.6L415.9 332.6L416.5 332.7L417.1 332.6L417.7 331.8L418.3 331L418.9 331.2L419.5 331.3L420.1 331.1L420.7 330.5L421.3 329.9L421.9 329.2L422.5 329.5L423.1 329.7L423.7 329.3L424.3 328.6L424.9 328.2L425.5 327.4L426.1 327.2L426.7 327.2L427.3 327.3L427.9 327.2L428.5 327.6L429.1 327.8L429.7 327L430.3 328L430.9 328.9L431.5 329.1L432.1 329.1L432.7 329L433.3 329.1L433.9 329.3L434.5 330L435.1 330.5L435.7 330.2L436.3 330.9L436.9 331L437.5 330.3L438.1 331.1L438.7 332.1L439.3 331.8L439.9 331.7L440.5 331.4L441.1 331.8L441.7 331.8L442.3 332.8L442.9 333L443.5 333.1L444.1 333.2L444.7 332.3L445.3 332.3L445.9 333.4L446.5 333.6L447.1 334.2L447.7 333.7L448.3 334L448.9 333.4L449.5 333.9L450.1 334.3L450.7 334.6L451.3 335L451.9 335.5L452.5 335L453.1 334.6L453.7 336.5L454.3 337.1L454.9 336.6L455.5 336.9L456.1 335.7L456.7 336L457.3 337L457.9 337.3L458.5 338.1L459.1 338L459.7 338.2L460.3 336.9L460.9 337.5L461.5 338.6L462.1 337.9L462.7 338.2L463.3 337.5L463.9 336.4L464.5 336.2L465.1 337L465.7 337.1L466.3 337.4L466.9 337.6L467.5 337.7L468.1 337.1L468.7 337.4L469.3 338.8L469.9 338.5L470.5 338.5L471.1 338.6L471.7 337.6L472.3 337.3L472.9 337.2L473.5 336.9L474.1 336.5L474.7 336.2L475.3 335.6L475.9 334.6L476.5 335.4L477.2 335.1L477.8 334.4L478.4 333.9L479 334L479.6 333L480.2 333.2L480.8 333.9L481.4 333.3L482 333.4L482.6 333.4L483.2 332.1L483.8 331.8L484.4 332.4L485 332.9L485.6 332.3L486.2 331.7L486.8 331.5L487.4 330.6L488 330.6L488.6 331.7L489.2 331.6L489.8 331.3L490.4 330.9L491 330.6L491.6 330.3L492.2 331.5L492.8 332.2L493.4 332.9L494 332.2L494.6 331.3L495.2 331.5L495.8 332.3L496.4 332.9L497 333.1L497.6 334.3L498.2 333.6L498.8 332.8L499.4 334L500 335.8L500.6 335.5L501.2 335.8L501.8 336.4L502.4 335.3L503 335.8L503.6 337.2L504.2 337.6L504.8 338.6L505.4 339.2L506 338L506.6 337.5L507.2 337.9L507.8 338.7L508.4 338.6L509 337.9L509.6 336.6L510.2 335.6L510.8 335.9L511.4 336.1L512 336.2L512.6 335.7L513.2 335.5L513.8 334.9L514.4 334.2L515 334.4L515.6 335.2L516.2 334.6L516.8 334.4L517.4 333.3L518 332.9L518.6 333.2L519.2 333.6L519.8 333.5L520.4 332.9L521 332.5L521.6 331.5L522.2 332.1L522.8 333.2L523.4 334.3L524 334.6L524.6 334L525.2 333.7L525.8 333.2L526.4 334.9L527 335.8L527.6 336.3L528.2 336L528.8 336.2L529.4 335.3L530 335.8L530.6 336.4L531.2 336.6L531.8 336.5L532.4 336.2L533 334.6L533.6 334.5L534.2 335.5L534.8 335.1L535.4 335.3L536 334.8L536.6 334.6L537.2 332.9L537.8 333.3L538.4 334.6L539 334.3L539.6 333.3L540.2 332.8L540.8 331.8L541.4 331.6L542 332.5L542.6 333.1L543.2 333.4L543.8 333.9L544.4 333.5L545 332.7L545.6 333.6L546.2 335L546.8 334.4L547.4 335.3L548 334.7L548.6 333.8L549.2 334.1L549.8 335.4L550.4 335.6L551 336L551.6 335.6L552.2 334.2L552.8 333.9L553.4 335L554 335.5L554.6 336.3L555.2 335.7L555.8 335.1L556.4 334L557 335.6L557.6 336.7L558.2 335.8L558.8 336.4L559.4 335.3L560 334.2L560.6 333.5L561.2 334.2L561.8 334.9L562.4 334.7L563 334.9L563.6 333.9L564.2 333.1L564.8 333.9L565.4 334.2L566 333.9L566.6 333.8L567.2 332.6L567.8 332.3L568.4 331.7L569 333.1L569.6 332.4L570.2 332.8L570.8 332.7L571.4 331.2L572 331.3L572.6 331.7L573.2 332.6L573.8 332L574.4 333L575 331.5L575.6 331.4L576.2 331.7L576.8 333.1L577.4 333L578 332.8L578.6 332.2L579.2 331.1L579.8 331.8L580.4 332.9L581 333.9L581.6 334.2L582.2 334.4L582.8 334.4L583.4 334.1L584 334.9L584.6 336L585.2 336.2L585.8 336.8L586.4 337.1L587 336.9L587.6 338L588.2 339.3L588.8 339.1L589.4 339.3L590 338.6L590.6 337.9L591.2 337.1L591.8 338L592.4 339L593 338.9L593.6 338L594.2 337.2L594.8 336.4L595.4 337.7L596 338.3L596.6 339.2L597.2 339.9L597.8 340.2L598.4 338.6L599 338.3L599.6 339.7L600.2 339.2L600.8 338.7L601.4 337.2L602 337L602.6 335.9L603.2 335.7L603.8 336.5L604.4 335.5L605 336.4L605.6 335.5L606.2 335.2L606.8 336L607.4 336.5L608 336.7L608.6 336.2L609.2 336.7L609.8 336.1L610.4 335.8L611 337.1L611.6 336.9L612.2 337.4L612.8 337.9L613.4 336.7L614 336.6L614.6 337.5L615.2 338.8L615.8 338.9L616.4 339.3L617 338.2L617.6 336.9L618.2 337.6L618.8 338L619.4 337.8L620 337.6L620.6 337.1L621.2 336.1L621.8 335.8L622.4 336.6L623 336.4L623.6 337L624.2 336.6L624.8 335.8L625.4 335.1L626 335.8L626.6 336.5L627.2 337L627.8 336.9L628.4 336.3L629 335.3L629.6 334.9L630.2 336L630.8 336L631.4 335.8L632 335.3L632.6 335.1L633.2 334L633.8 335L634.4 335.2L635 335.7L635.6 335.1L636.2 334.6L636.8 334.1L637.5 334.8L638.1 335.5L638.7 334.8L639.3 334.8L639.9 335L640.5 334.4L641.1 333.9L641.7 335L642.3 334.6L642.9 334.8L643.5 335.2L644.1 334.6L644.7 333.5L645.3 334.3L645.9 336L646.5 335.6L647.1 335.2L647.7 335L648.3 333.9L648.9 333.7L649.5 335.2L650.1 334.8L650.7 335.4L651.3 335.2L651.9 334.4L652.5 334.1L653.1 335.3L653.7 336.2L654.3 336.1L654.9 336.8L655.5 335.7L656.1 335.1L656.7 335.7L657.3 338L657.9 338L658.5 339.4L659.1 338.9L659.7 338.8L660.3 339.2L660.9 340.7L661.5 342.2L662.1 342.7L662.7 342.6L663.3 343.5L663.9 343.1L664.5 342.9L665.1 343L665.7 342.1L666.3 342.2L666.9 340.9L667.5 339.3L668.1 339.7L668.7 339.9L669.3 338.8L669.9 339L670.5 338.7L671.1 338.2L671.7 337.6L672.3 337.9L672.9 338.8L673.5 338.3L674.1 338.7L674.7 338L675.3 336.3L675.9 337L676.5 335.8L677.1 334.1L677.7 333.9L678.3 334L678.9 333.3L679.5 333.3L680.1 334.5L680.7 334.1L681.3 334.6L681.9 334.5L682.5 333.3L683.1 333L683.7 333.6L684.3 334.8L684.9 334.6L685.5 334.9L686.1 334.2L686.7 334.1L687.3 334.1L687.9 334.9L688.5 335.2L689.1 335.4L689.7 334.9L690.3 334.7L690.9 334.7L691.5 335.5L692.1 335.7L692.7 335.5L693.3 336.4L693.9 335.5L694.5 334.9L695.1 335.3L695.7 336.9L696.3 336.7L696.9 336.7L697.5 337L698.1 335.8L698.7 336.1L699.3 337.4L699.9 337.5L700.5 336.8L701.1 337.2L701.7 336.2L702.3 335.7L702.9 336.1L703.5 336.7L704.1 336.7L704.7 336.8L705.3 336.4L705.9 335L706.5 335.8L707.1 336.6L707.7 336.5L708.3 336.6L708.9 336L709.5 335.7L710.1 335.3L710.7 335.5L711.3 336.5L711.9 335.8L712.5 335.7L713.1 335.2L713.7 334.7L714.3 335.4L714.9 335.4L715.5 336.1L716.1 336L716.7 335.7L717.3 335.2L717.9 334.5L718.5 336.4L719.1 336.8L719.7 335.9L720.3 336L720.9 335.2L721.5 335.1L722.1 336.1L722.7 336.8L723.3 336.4L723.9 335.7L724.5 335.6L725.1 335.1L725.7 334.9L726.3 335.6L726.9 336L727.5 335.8L728.1 336.5L728.7 335.7L729.3 335.7L729.9 336L730.5 337.2L731.1 336.9L731.7 336.9L732.3 336.5L732.9 335.6L733.5 336.3L734.1 336.9L734.7 337.3L735.3 337.3L735.9 336.7L736.5 335.5L737.1 335.7L737.7 337.3L738.3 337.7L738.9 336.8L739.5 337.1L740.1 335.7L740.7 335.4L741.3 337L741.9 336.7L742.5 336.7L743.1 337.2L743.7 336.4L744.3 335.7L744.9 336.2L745.5 337L746.1 336.9L746.7 337.4L747.3 337.4L747.9 336.3L748.5 335.8L749.1 337.1L749.7 337.4L750.3 337.6L750.9 337.8L751.5 336.9L752.1 336.4L752.7 337.1L753.3 337.7L753.9 338.3L754.5 338.2L755.1 337.2L755.7 336.4L756.3 337L756.9 337.2L757.5 337.1L758.1 337.5L758.7 337.1L759.3 336.5L759.9 335.5L760.5 336.5L761.1 336.9L761.7 336.5L762.3 336.9L762.9 336.2L763.5 335.7L764.1 336.4L764.7 336.5L765.3 337.1L765.9 336.2L766.5 336.4L767.1 335.2L767.7 335.4L768.3 336.1L768.9 337.2L769.5 337.5L770.1 337.7L770.7 336.5L771.3 336.8L771.9 337.6L772.5 339.3L773.1 338.7L773.7 339.3L774.3 339.9L774.9 338.9L775.5 339.1L776.1 340.7L776.7 341.2L777.3 340.6L777.9 340.1L778.5 339.9L779.1 339L779.7 340.1L780.3 340.8L780.9 341.3L781.5 341.4L782.1 340.9L782.7 340L783.3 340L783.9 341.2L784.5 341.5L785.1 341.3L785.7 341.3L786.3 340.6L786.9 340.8L787.5 341.9L788.1 342.9L788.7 343.1L789.3 343.8L789.9 342.1L790.5 341.1L791.1 342.2L791.7 343.5L792.3 344.2L792.9 344.2L793.5 343.2L794.1 342L794.7 342.6L795.3 343.7L795.9 344.6L796.5 344.7L797.1 343.7L797.7 342.5L798.4 342.5L799 343.9L799.6 344.2L800.2 344.2L800.8 343L801.4 342.8L802 341L802.6 342.4L803.2 342.6L803.8 342.5L804.4 342.7L805 342.1L805.6 341L806.2 341.2L806.8 342.3L807.4 343.1L808 342.7L808.6 342.1L809.2 341.4L809.8 341.3L810.4 342L811 343.6L811.6 343.7L812.2 344.5L812.8 343.7L813.4 342L814 343.8L814.6 345.4L815.2 345.6L815.8 345.4L816.4 345L817 344L817.6 344L818.2 344.9L818.8 345.3L819.4 345.3L820 345.7L820.6 344.9L821.2 344.2L821.8 345.8L822.4 346.3L823 346.4L823.6 346.5L824.2 346.5L824.8 345.5L825.4 345.5L826 347.3L826.6 347.4L827.2 348.1L827.8 347.8L828.4 346.5L829 340.4L829.6 334.7L830.2 335.1L830.8 335.5L831.4 335.2L832 334.8L832.6 334.4L833.2 334L833.8 334.7L834.4 335L835 334.8L835.6 334.7L836.2 334.4L836.8 334.7L837.4 334.8L838 335.3L838.6 335.4L839.2 334.8L839.8 334.9L840.4 334.2L841 334.7L841.6 335.5L842.2 335.7L842.8 335.7L843.4 335.1L844 335.5L844.6 335.2L845.2 336L845.8 336.2L846.4 335.7L847 335.8L847.6 335.5L848.2 335.3L848.8 336.3L849.4 336.3L850 336.1L850.6 337.1L851.2 336.3L851.8 336.1L852.4 336.7L853 337.8L853.6 337.5L854.2 337.6L854.8 337.6L855.4 336.9L856 337.8L856.6 338.2L857.2 338.9L857.8 338.6L858.4 339.4L859 338.9L859.6 338.2L860.2 338.6L860.8 339.1L861.4 339.8L862 339.7L862.6 338.7L863.2 337.6L863.8 338.6L864.4 338.7L865 339.1L865.6 338.8L866.2 339L866.8 337.9L867.4 338.1L868 338.7L868.6 338.9L869.2 339.4L869.8 339.9L870.4 339.5L871 338.2L871.6 339.2L872.2 340.3L872.8 339.6L873.4 340.3L874 339.4L874.6 338.7L875.2 338.9L875.8 339L876.4 338.9L877 338.8L877.6 338.7L878.2 338L878.8 337.6L879.4 337.8L880 338.3L880.6 338.2L881.2 338.1L881.8 338.3L882.4 337.9L883 338L883.6 338.9L884.2 338.6L884.8 338.8L885.4 339.2L886 338.7L886.6 338.5L887.2 339L887.8 339.7L888.4 339.6L889 340L889.6 340L890.2 339.1L890.8 340L891.4 341.3L892 341.5L892.6 341.5L893.2 341.3L893.8 341.4L894.4 341.7L895 342.4L895.6 342.3L896.2 342.2L896.8 341.9L897.4 341.5L898 340.2L898.6 341.1L899.2 340.9L899.8 341.1L900.4 340.2L901 339.7L901.6 339.2L902.2 339.5L902.8 340.5L903.4 340.6L904 340.7L904.6 340.8L905.2 340.3L905.8 340.7L906.4 341.2L907 342.2L907.6 341.9L908.2 342.7L908.8 342.6L909.4 341.9L910 342.9L910.6 343.2L911.2 343.6L911.8 343.3L912.4 343.1L913 343.1L913.6 343.6L914.2 344.1L914.8 344L915.4 344.1L916 344.5L916.6 343.7L917.2 343.2L917.8 343.4L918.4 343.8L919 342.7L919.6 342.7L920.2 341.8L920.8 340.9L921.4 341L922 340.8L922.6 340.9L923.2 340.9L923.8 341.1L924.4 340.5L925 340.1L925.6 340.8L926.2 341.8L926.8 341L927.4 341.7L928 341.2L928.6 340.1L929.2 341L929.8 341.7L930.4 341.7L931 342.4L931.6 342.1L932.2 341.8L932.8 342.3L933.4 342.2L934 342.7L934.6 343.3L935.2 343.3L935.8 343L936.4 342.7L937 343.6L937.6 344L938.2 344.5L938.8 344.3L939.4 344.8L940 344L940.6 344.1L941.2 345.9L941.8 345.3L942.4 345.9L943 346.1L943.6 344.6L944.2 344.6L944.8 346.4L945.4 346.6L946 346.7L946.6 346.8L947.2 345.6L947.8 345.4L948.4 346.2L949 347.4L949.6 347.4L950.2 347.3L950.8 346.3L951.4 345.5L952 346.4L952.6 347.1L953.2 347.1L953.8 347.8L954.4 347.1L955 345.7L955.6 346.3L956.2 347.3L956.8 347.8L957.4 348.2L958 349.3L958.6 347.9L959.3 346.9L959.9 348.1L960.5 350.3L961.1 350L961.7 350.8L962.3 350.5L962.9 348.9L963.5 349.9L964.1 351.1L964.7 352L965.3 352.7L965.9 351.7L966.5 351.6L967.1 350.6L967.7 352.8L968.3 353.5L968.9 353.1L969.5 352.9L970.1 353L970.7 351.5L971.3 352.1L971.9 353.4L972.5 353.1L973.1 353.2L973.7 352.6L974.3 350.7L974.9 350.8L975.5 351.4L976.1 351.8L976.7 351.9L977.3 352.1L977.9 350.4L978.5 349.3L979.1 350.2L979.7 351.8L980.3 351.3L980.9 350.8L981.5 350.5L982.1 349.1L982.7 349.8L983.3 350.8L983.9 351.2L984.5 351.7L985.1 353L985.7 352.8L985.7 360.3L985.1 360.7L984.5 360.9L983.9 361.4L983.3 361.5L982.7 361.2L982.1 361.3L981.5 361L980.9 362L980.3 361.8L979.7 362.1L979.1 361.7L978.5 361.2L977.9 361.5L977.3 362.4L976.7 362.8L976.1 363L975.5 361.9L974.9 361.8L974.3 362.4L973.7 363.1L973.1 362.9L972.5 362.8L971.9 362.9L971.3 362.5L970.7 362.2L970.1 363.6L969.5 363.6L968.9 363.6L968.3 363.3L967.7 363.3L967.1 362.9L966.5 362.2L965.9 362L965.3 362.1L964.7 361.2L964.1 361L963.5 360.5L962.9 359.5L962.3 359.6L961.7 360.2L961.1 359.7L960.5 358.9L959.9 358.5L959.3 358.1L958.6 358L958 357.5L957.4 357.3L956.8 357.2L956.2 357.2L955.6 356.3L955 356.3L954.4 355.9L953.8 356.2L953.2 355.7L952.6 356.1L952 355.7L951.4 354.9L950.8 355.1L950.2 355.3L949.6 355.2L949 355.5L948.4 355.2L947.8 354L947.2 355L946.6 355.3L946 354.8L945.4 354.3L944.8 354.2L944.2 354L943.6 353.5L943 353.9L942.4 354L941.8 353.6L941.2 353.2L940.6 352.9L940 352.5L939.4 352.5L938.8 352.3L938.2 351.5L937.6 351.6L937 350.5L936.4 350.4L935.8 349.7L935.2 349.9L934.6 349L934 348.5L933.4 348.4L932.8 348.1L932.2 347.6L931.6 347.9L931 346.7L930.4 346.9L929.8 347L929.2 346.8L928.6 346.2L928 346L927.4 346.1L926.8 346.9L926.2 346.1L925.6 346.5L925 345.5L924.4 346.2L923.8 345.7L923.2 345.4L922.6 346.3L922 345.9L921.4 346.8L920.8 346.3L920.2 347.5L919.6 347.4L919 347.6L918.4 348.5L917.8 347.9L917.2 348.4L916.6 349.1L916 349.5L915.4 348.5L914.8 348.9L914.2 348.5L913.6 348.1L913 347.9L912.4 348.3L911.8 348L911.2 347.6L910.6 347.2L910 347.4L909.4 346.8L908.8 346.6L908.2 347.1L907.6 346.8L907 345.9L906.4 345.7L905.8 345.8L905.2 345.3L904.6 345.4L904 345.5L903.4 345L902.8 344.6L902.2 344.6L901.6 344.6L901 344.7L900.4 345L899.8 345.3L899.2 345.6L898.6 346L898 345.9L897.4 346.3L896.8 347L896.2 346.9L895.6 347.9L895 347.6L894.4 347.5L893.8 346.5L893.2 346.6L892.6 346.3L892 345.7L891.4 346.1L890.8 345.4L890.2 344.3L889.6 345L889 344.2L888.4 344.3L887.8 344L887.2 342.8L886.6 342.6L886 343.1L885.4 342.4L884.8 342.6L884.2 343L883.6 342.8L883 342L882.4 342L881.8 342.3L881.2 342L880.6 341.8L880 341.6L879.4 342.4L878.8 342.4L878.2 342.1L877.6 342.4L877 342.8L876.4 343.1L875.8 342.9L875.2 343.5L874.6 343.4L874 344.2L873.4 343.8L872.8 344.3L872.2 344.1L871.6 344.4L871 343.9L870.4 343.5L869.8 343.6L869.2 344L868.6 343.5L868 343.5L867.4 343.1L866.8 343.5L866.2 343.5L865.6 343.6L865 343L864.4 343.5L863.8 343.4L863.2 344L862.6 344.3L862 345L861.4 344.8L860.8 345.4L860.2 345.1L859.6 345.3L859 345.1L858.4 345.1L857.8 344.7L857.2 344.4L856.6 344L856 344.2L855.4 343.7L854.8 342.8L854.2 343.2L853.6 342.2L853 342.4L852.4 341.9L851.8 341.4L851.2 341.5L850.6 341.1L850 341.5L849.4 340.7L848.8 340.7L848.2 340.6L847.6 340.3L847 340.9L846.4 341L845.8 341.2L845.2 340.6L844.6 340.6L844 340.5L843.4 340.4L842.8 340.8L842.2 340.3L841.6 340.3L841 340.1L840.4 339.6L839.8 339.7L839.2 339.6L838.6 339.5L838 338.9L837.4 338.9L836.8 338.4L836.2 338.2L835.6 338.4L835 339.2L834.4 339.6L833.8 339.7L833.2 339.3L832.6 339.1L832 339.3L831.4 339.8L830.8 339.9L830.2 340L829.6 340.4L829 352L828.4 363.2L827.8 363.7L827.2 363.7L826.6 363L826 363.1L825.4 361.8L824.8 361.9L824.2 361.4L823.6 362.3L823 361.9L822.4 361.4L821.8 360.5L821.2 360L820.6 360.1L820 360.6L819.4 359.7L818.8 359.8L818.2 359L817.6 358.8L817 358.4L816.4 358L815.8 358.5L815.2 358.2L814.6 357.9L814 356.4L813.4 356.6L812.8 356.1L812.2 355.7L811.6 355.2L811 355.1L810.4 353.9L809.8 352.7L809.2 353.1L808.6 352.2L808 353L807.4 352.4L806.8 353L806.2 352.3L805.6 352.4L805 352.9L804.4 353.3L803.8 353.3L803.2 353.1L802.6 353.3L802 353L801.4 353.4L800.8 352.9L800.2 353.6L799.6 353.5L799 353.4L798.4 353.2L797.7 353.5L797.1 353.7L796.5 354.1L795.9 353.7L795.3 354.1L794.7 353.4L794.1 353.4L793.5 353.2L792.9 354.1L792.3 353.6L791.7 354.3L791.1 353.6L790.5 353.4L789.9 353.4L789.3 353.5L788.7 354L788.1 353.6L787.5 353.7L786.9 353L786.3 352.8L785.7 352.7L785.1 353.2L784.5 352.5L783.9 353L783.3 352L782.7 351.4L782.1 351.7L781.5 351.9L780.9 351.5L780.3 351.1L779.7 351.3L779.1 350.3L778.5 350.5L777.9 350.4L777.3 351.1L776.7 350.1L776.1 349.8L775.5 349.9L774.9 349.6L774.3 348.5L773.7 349L773.1 348.1L772.5 347.3L771.9 346.7L771.3 345.5L770.7 344.9L770.1 345.3L769.5 344.1L768.9 343.3L768.3 343.1L767.7 342.9L767.1 342.7L766.5 342.9L765.9 343.6L765.3 343.4L764.7 343.7L764.1 343.8L763.5 343.4L762.9 343.4L762.3 343.3L761.7 343.4L761.1 343.7L760.5 344.3L759.9 344.1L759.3 344.3L758.7 343.6L758.1 343.9L757.5 344.4L756.9 343.7L756.3 344.3L755.7 343.8L755.1 343.9L754.5 344.1L753.9 344.9L753.3 344.7L752.7 344.8L752.1 343.9L751.5 344.8L750.9 345.6L750.3 345.3L749.7 345.6L749.1 345.2L748.5 345.7L747.9 345.2L747.3 346.1L746.7 345.9L746.1 346.3L745.5 345.6L744.9 345.5L744.3 345.9L743.7 346L743.1 345.6L742.5 346.4L741.9 346L741.3 346.3L740.7 345.7L740.1 346L739.5 346.4L738.9 346.1L738.3 346.7L737.7 345.9L737.1 346.3L736.5 345.8L735.9 346.7L735.3 346.1L734.7 346.4L734.1 345.5L733.5 345.4L732.9 345.5L732.3 345.5L731.7 345.3L731.1 344.8L730.5 344.8L729.9 344.7L729.3 344.3L728.7 343.7L728.1 344.4L727.5 343.8L726.9 344.6L726.3 343.9L725.7 343.4L725.1 343.4L724.5 344L723.9 343.9L723.3 343.3L722.7 344.1L722.1 343.5L721.5 342.5L720.9 342.9L720.3 343.2L719.7 342.7L719.1 343.3L718.5 342.8L717.9 342.6L717.3 341.9L716.7 342.3L716.1 343.1L715.5 342.5L714.9 342.8L714.3 342.5L713.7 342.4L713.1 343L712.5 343L711.9 343.5L711.3 342.6L710.7 343.2L710.1 342.8L709.5 342.6L708.9 343L708.3 343.5L707.7 344.1L707.1 343.8L706.5 343.3L705.9 343.2L705.3 343.8L704.7 344L704.1 344.3L703.5 344.6L702.9 344.5L702.3 343.5L701.7 343.8L701.1 345.1L700.5 345.3L699.9 344.7L699.3 344.5L698.7 344.7L698.1 344.5L697.5 344.3L696.9 343.8L696.3 344L695.7 343.9L695.1 343.5L694.5 343.1L693.9 342.2L693.3 342.3L692.7 342.5L692.1 341.8L691.5 341.5L690.9 341.7L690.3 341L689.7 340.9L689.1 340.6L688.5 340.7L687.9 340.4L687.3 340.3L686.7 339.6L686.1 340.3L685.5 340.2L684.9 339.6L684.3 340.3L683.7 339.6L683.1 339.1L682.5 340L681.9 339.2L681.3 339.2L680.7 339.3L680.1 339.7L679.5 339.4L678.9 339L678.3 339L677.7 339.2L677.1 339.3L676.5 342.8L675.9 344.7L675.3 346L674.7 346.1L674.1 346.1L673.5 346.3L672.9 346.1L672.3 346.3L671.7 346.2L671.1 346.2L670.5 346.8L669.9 346.6L669.3 346.6L668.7 347.5L668.1 347.3L667.5 347.9L666.9 348.8L666.3 349.7L665.7 350.4L665.1 350.9L664.5 350.6L663.9 351L663.3 350.8L662.7 350.9L662.1 349.8L661.5 349.3L660.9 348.7L660.3 347.8L659.7 347.4L659.1 346.5L658.5 346.2L657.9 345.3L657.3 344.6L656.7 344L656.1 342.9L655.5 343.7L654.9 343.9L654.3 343.7L653.7 342.7L653.1 342.7L652.5 342.4L651.9 342.7L651.3 342.1L650.7 342.4L650.1 342.1L649.5 342.3L648.9 341.7L648.3 341.6L647.7 342.1L647.1 342.2L646.5 342L645.9 341.7L645.3 341.2L644.7 341.6L644.1 341.1L643.5 341.6L642.9 341.5L642.3 341.3L641.7 341.9L641.1 341L640.5 341.6L639.9 341.4L639.3 342L638.7 342.3L638.1 341.6L637.5 341.4L636.8 341.2L636.2 341.9L635.6 342.1L635 341.7L634.4 342.2L633.8 342.3L633.2 341.5L632.6 341.9L632 342.4L631.4 342.6L630.8 342.5L630.2 342.6L629.6 342.7L629 342.5L628.4 342.7L627.8 343.1L627.2 343L626.6 342.8L626 342.9L625.4 342.5L624.8 343.3L624.2 343.8L623.6 343.8L623 343.7L622.4 343.9L621.8 343.7L621.2 343.9L620.6 343.6L620 344.4L619.4 344.3L618.8 344.9L618.2 344.2L617.6 344.4L617 344.7L616.4 344.7L615.8 345.1L615.2 344.9L614.6 344.2L614 343.5L613.4 343.7L612.8 343.1L612.2 343.3L611.6 342.7L611 342.3L610.4 341.7L609.8 341.8L609.2 342.6L608.6 342.7L608 342.2L607.4 341.6L606.8 342.2L606.2 341.2L605.6 342L605 341.9L604.4 341.6L603.8 342.6L603.2 342.5L602.6 343.5L602 344.3L601.4 344.6L600.8 345.9L600.2 346.2L599.6 347L599 347.7L598.4 347.2L597.8 348.8L597.2 348.9L596.6 348.4L596 348L595.4 347.2L594.8 346.7L594.2 346.7L593.6 346.7L593 347.1L592.4 347L591.8 346.8L591.2 347L590.6 346.2L590 346.7L589.4 347.5L588.8 347L588.2 347.3L587.6 346.5L587 345.4L586.4 345L585.8 344.7L585.2 344.8L584.6 344.4L584 344.1L583.4 342.4L582.8 342.5L582.2 342.2L581.6 341.9L581 341.6L580.4 340.4L579.8 339.7L579.2 339.8L578.6 339.7L578 340.3L577.4 339.6L576.8 340.3L576.2 340.1L575.6 339.9L575 339.8L574.4 340L573.8 339.7L573.2 340.5L572.6 339.6L572 340.4L571.4 339.6L570.8 340.5L570.2 340.3L569.6 340L569 340.3L568.4 340L567.8 339.8L567.2 340.2L566.6 340.9L566 341.8L565.4 342L564.8 341.8L564.2 341.5L563.6 342L563 342.9L562.4 342.8L561.8 343.1L561.2 342.8L560.6 342.6L560 343.1L559.4 343.4L558.8 344.4L558.2 344.2L557.6 344.1L557 344.1L556.4 343.6L555.8 343.2L555.2 343.5L554.6 344L554 343.3L553.4 342.8L552.8 342.6L552.2 342.9L551.6 343.1L551 342.9L550.4 342.5L549.8 342.5L549.2 341.7L548.6 341.1L548 341.7L547.4 341.8L546.8 340.6L546.2 340.6L545.6 340.6L545 339.7L544.4 339.2L543.8 339.7L543.2 339L542.6 339.1L542 338.5L541.4 338.6L540.8 338.7L540.2 339.3L539.6 339L539 339.8L538.4 340.4L537.8 340L537.2 340.1L536.6 341L536 340.5L535.4 341.2L534.8 341.3L534.2 341.2L533.6 341.9L533 342.3L532.4 342.9L531.8 343.2L531.2 343.5L530.6 343.1L530 343.8L529.4 343.4L528.8 342.9L528.2 342.9L527.6 342.4L527 342.3L526.4 341.4L525.8 341.3L525.2 341L524.6 340.6L524 340.5L523.4 340.1L522.8 340L522.2 338.8L521.6 338.7L521 338.9L520.4 339.2L519.8 339.4L519.2 340.1L518.6 340.3L518 340.5L517.4 341L516.8 340.9L516.2 341L515.6 342.1L515 341.9L514.4 342.1L513.8 342.1L513.2 342.3L512.6 343L512 343.3L511.4 343.4L510.8 343.6L510.2 343.8L509.6 344.9L509 345.1L508.4 345.2L507.8 346.2L507.2 346.2L506.6 345.6L506 346.4L505.4 345.5L504.8 345.5L504.2 344.8L503.6 344.9L503 343.7L502.4 343L501.8 342.8L501.2 343L500.6 342.9L500 342L499.4 341.4L498.8 340.9L498.2 340.7L497.6 340.3L497 340.5L496.4 340L495.8 339L495.2 338.9L494.6 339.3L494 338.9L493.4 338.1L492.8 338.2L492.2 338L491.6 336.9L491 336.8L490.4 337.3L489.8 337.3L489.2 337.7L488.6 337.6L488 337.1L487.4 336.9L486.8 337.3L486.2 337.6L485.6 337.7L485 337.8L484.4 337.9L483.8 338.3L483.2 338.4L482.6 338.6L482 338.7L481.4 339.4L480.8 338.7L480.2 339.2L479.6 338.6L479 339.8L478.4 339.7L477.8 340L477.2 339.8L476.5 340.5L475.9 340.2L475.3 341.2L474.7 341.5L474.1 342.4L473.5 342.4L472.9 343.2L472.3 343.6L471.7 343.6L471.1 344L470.5 344.6L469.9 344.6L469.3 344.1L468.7 343.4L468.1 343.7L467.5 343.7L466.9 343.7L466.3 342.7L465.7 343.3L465.1 342.3L464.5 342L463.9 343L463.3 343L462.7 344.2L462.1 344.1L461.5 344.4L460.9 345.3L460.3 345.5L459.7 345.3L459.1 345.1L458.5 345.2L457.9 344.4L457.3 343.8L456.7 343.7L456.1 343.4L455.5 343.3L454.9 343.9L454.3 342.8L453.7 343L453.1 341.9L452.5 341.9L451.9 342.3L451.3 341.6L450.7 341.9L450.1 341.4L449.5 340.4L448.9 340.5L448.3 340.6L447.7 340.2L447.1 340.5L446.5 339.5L445.9 339.7L445.3 339.1L444.7 338.8L444.1 338.3L443.5 338.1L442.9 338.5L442.3 338L441.7 337.9L441.1 337.5L440.5 337L439.9 336.7L439.3 336.3L438.7 336.8L438.1 335.7L437.5 335.3L436.9 335.2L436.3 335L435.7 334.9L435.1 334.2L434.5 333.9L433.9 333.4L433.3 333.5L432.7 333L432.1 333L431.5 332.8L430.9 332.1L430.3 332L429.7 331.2L429.1 331L428.5 330.7L427.9 330.9L427.3 330.5L426.7 331.2L426.1 331.1L425.5 331.4L424.9 331.7L424.3 332.2L423.7 332.3L423.1 332.4L422.5 332.6L421.9 333.1L421.3 333.7L420.7 333.9L420.1 333.8L419.5 334.5L418.9 334.4L418.3 334.7L417.7 335.2L417.1 335.2L416.5 335.6L415.9 335.8L415.3 336.2L414.7 336.2L414.1 335.9L413.5 336.3L412.9 336.7L412.3 336.6L411.7 337L411.1 337.3L410.5 336.6L409.9 336.5L409.3 336.7L408.7 336.1L408.1 336L407.5 335.4L406.9 335.2L406.3 335L405.7 335.2L405.1 334.4L404.5 334.4L403.9 333.9L403.3 333.7L402.7 333.4L402.1 333.5L401.5 333.5L400.9 334.1L400.3 334.3L399.7 334.6L399.1 335.4L398.5 336L397.9 336.1L397.3 336.1L396.7 336.2L396.1 335.7L395.5 335.6L394.9 335.2L394.3 334.6L393.7 334.6L393.1 334.6L392.5 334L391.9 333.6L391.3 333.3L390.7 333.1L390.1 332.9L389.5 332.7L388.9 332.5L388.3 332.1L387.7 332.1L387.1 331.6L386.5 331.6L385.9 331.7L385.3 331.3L384.7 331.1L384.1 330.8L383.5 330.7L382.9 330.6L382.3 330.5L381.7 330.3L381.1 330.8L380.5 330.6L379.9 330.5L379.3 330.6L378.7 330.9L378.1 330.7L377.5 331.2L376.9 330.9L376.3 331.1L375.7 331.2L375.1 331.2L374.5 331.1L373.9 331.2L373.3 331.1L372.7 330.5L372.1 330.2L371.5 330.4L370.9 330.5L370.3 329.9L369.7 329.8L369.1 329.7L368.5 329.8L367.9 329.9L367.3 330.4L366.7 330.4L366.1 330.8L365.5 330.8L364.9 330.7L364.3 331L363.7 331.3L363.1 331.4L362.5 331.6L361.9 332L361.3 331.9L360.7 331.8L360.1 332.1L359.5 332.2L358.9 332.7L358.3 332.5L357.7 332.7L357.1 333.1L356.5 333.1L355.9 333.6L355.3 333.7L354.7 333.5L354.1 332.7L353.5 331.4L352.9 331L352.3 330.9L351.7 330.3L351.1 329.8L350.5 329.4L349.9 328L349.3 328.2L348.7 328.8L348.1 329.2L347.5 329.1L346.9 330.2L346.3 330.2L345.7 330.2L345.1 329.7L344.5 329.3L343.9 329.5L343.3 328.7L342.7 328.8L342.1 328.4L341.5 327.9L340.9 327.7L340.3 327.8L339.7 327.3L339.1 326.9L338.5 326L337.9 325.2L337.3 325L336.7 325L336.1 324.6L335.5 324.4L334.9 323.6L334.3 324.2L333.7 324.1L333.1 325.1L332.5 324.9L331.9 325.5L331.3 325.5L330.7 326.2L330.1 325.9L329.5 327L328.9 327.4L328.3 327.6L327.7 327.4L327.1 328L326.5 327.3L325.9 327.8L325.3 328L324.7 328.5L324.1 328.3L323.5 328.4L322.9 328.5L322.3 327.3L321.7 327.5L321.1 327.7L320.5 327.6L319.9 326.9L319.3 326.9L318.7 326.5L318.1 326.2L317.5 326.3L316.9 326.1L316.3 325.4L315.6 326.5L315 326.3L314.4 326.5L313.8 327.6L313.2 327.9L312.6 328.1L312 328.5L311.4 329.1L310.8 329.9L310.2 330.6L309.6 331.9L309 332.8L308.4 333.1L307.8 333.8L307.2 334.7L306.6 335.5L306 336.2L305.4 337.1L304.8 337.6L304.2 338.6L303.6 337.9L303 338.5L302.4 338.6L301.8 338.8L301.2 339.1L300.6 339.4L300 339.6L299.4 339.9L298.8 340.1L298.2 339.1L297.6 338L297 336.8L296.4 336.3L295.8 334.9L295.2 334.1L294.6 333.7L294 333.6L293.4 334.1L292.8 334.2L292.2 334.5L291.6 334.5L291 334.5L290.4 335.5L289.8 335.2L289.2 335L288.6 335.7L288 335.2L287.4 335L286.8 335.6L286.2 335.6L285.6 335L285 334.9L284.4 334.5L283.8 334.6L283.2 335L282.6 335L282 335.5L281.4 336.4L280.8 336.8L280.2 337.4L279.6 339L279 340.1L278.4 340.6L277.8 345.7L277.2 350.1L276.6 353.1L276 353.1L275.4 353.6L274.8 354L274.2 354.2L273.6 353.2L273 352.3L272.4 351.6L271.8 351.9L271.2 352.6L270.6 352.4L270 351.9L269.4 352L268.8 351L268.2 351.2L267.6 351.3L267 351.2L266.4 350.9L265.8 351L265.2 349.8L264.6 349.2L264 349.7L263.4 349.7L262.8 349.4L262.2 349.2L261.6 349L261 348L260.4 348.3L259.8 348.7L259.2 349.6L258.6 349.3L258 348.9L257.4 348.6L256.8 348.4L256.2 348.7L255.6 349.2L255 348.7L254.4 349.3L253.8 348.9L253.2 348.3L252.6 349.2L252 348.7L251.4 349.3L250.8 349L250.2 349L249.6 348.7L249 348.8L248.4 349L247.8 348.6L247.2 348.8L246.6 348.8L246 348.2L245.4 348.2L244.8 348.7L244.2 349.1L243.6 348.7L243 348.8L242.4 347.9L241.8 347.6L241.2 348L240.6 349.3L240 349.7L239.4 349.6L238.8 349.8L238.2 348.9L237.6 349.7L237 350.8L236.4 351.4L235.8 351.8L235.2 351.8L234.6 351.9L234 352.4L233.4 353.1L232.8 354.5L232.2 355.1L231.6 355.5L231 355.5L230.4 356.4L229.8 356.9L229.2 358.1L228.6 357.5L228 357.8L227.4 357.5L226.8 356.7L226.2 356.9L225.6 356.9L225 357.3L224.4 357.5L223.8 357.4L223.2 357.9L222.6 357.6L222 358.7L221.4 360.3L220.8 361L220.2 361.5L219.6 361.7L219 361.4L218.4 362.2L217.8 363.8L217.2 363.2L216.6 362.2L216 361.8L215.4 359.9L214.8 358.9L214.2 358.6L213.6 359L213 358.3L212.4 357.3L211.8 356.2L211.2 355.4L210.6 354.5L210 354.6L209.4 353.9L208.8 353.3L208.2 352.4L207.6 351.8L207 352.4L206.4 353L205.8 353.7L205.2 353.4L204.6 353.7L204 353.7L203.4 353.4L202.8 354.3L202.2 355.2L201.6 355L201 354.6L200.4 353.8L199.8 353.1L199.2 351.9L198.6 351.8L198 351.4L197.4 350.9L196.8 350.2L196.2 349.8L195.6 349.4L195 348.9L194.4 348.9L193.8 349.5L193.2 348.8L192.6 349.1L192 348.2L191.4 348.8L190.8 349.2L190.2 349.3L189.6 349.1L189 349.1L188.4 348.2L187.8 348.9L187.2 348.8L186.6 348.9L186 349.1L185.4 349.2L184.8 348.2L184.2 347.9L183.6 348.5L183 349.1L182.4 349.5L181.8 348.6L181.2 349L180.6 347.9L180 348L179.4 348.1L178.8 348.4L178.2 347.9L177.6 348.1L177 347.3L176.4 346.2L175.8 346.8L175.2 347L174.6 347.3L174 347.4L173.4 347.7L172.8 347.8L172.2 348.4L171.6 348.5L171 349.6L170.4 349.5L169.8 349.1L169.2 349.3L168.6 349.7L168 350.5L167.4 351.4L166.8 352.2L166.2 352.7L165.6 352.6L165 352L164.4 353.4L163.8 354.1L163.2 354.5L162.6 355.4L162 355.9L161.4 355.3L160.8 356L160.2 357L159.6 357.1L159 356.3L158.4 355.5L157.8 355.1L157.2 354.1L156.6 354.6L156 354.3L155.4 353.8L154.7 353L154.1 352.1L153.5 350.9L152.9 352.2L152.3 354.1L151.7 354.9L151.1 355.7L150.5 355.3L149.9 355.5L149.3 356L148.7 357.8L148.1 358.5L147.5 357.9L146.9 357.1L146.3 356L145.7 354.3L145.1 354.3L144.5 353.9L143.9 352.7L143.3 352.9L142.7 351.2L142.1 349.6L141.5 349.6L140.9 349.8L140.3 350.1L139.7 349.8L139.1 350L138.5 349.3L137.9 349L137.3 349.1L136.7 348.6L136.1 348.7L135.5 348.8L134.9 347.6L134.3 347.4L133.7 348.4L133.1 348.9L132.5 348.4L131.9 348L131.3 348.6L130.7 347.4L130.1 347.5L129.5 348.4L128.9 348.8L128.3 349.4Z" fill="#377eb8" stroke="#377eb8" stroke-width="0.6" stroke-linejoin="round"/><path d="M994.6 357.7L995.2 358L995.8 357.3L996.4 357.9L997 356.9L997.6 356.4L998.2 357.2L998.8 358.3L999.4 358.3L1000 358.5L1000.6 358L1001.2 357.3L1001.8 357.7L1002.4 358.3L1003 359L1003.6 359.2L1004.2 359.5L1004.9 358.5L1005.5 357.9L1006.1 359.7L1006.7 360.3L1007.3 360.9L1007.9 361.7L1008.5 360.6L1009.1 359.3L1009.7 360.4L1010.3 361.8L1010.9 362.9L1011.5 362.6L1012.1 361.4L1012.7 360.3L1013.3 360.6L1013.9 362L1014.5 362.4L1015.1 361.4L1015.7 363L1016.3 361.2L1016.9 359.8L1017.5 360.9L1018.1 362.1L1018.7 362.6L1019.3 362.6L1019.9 361.4L1020.5 360.1L1021.1 360.6L1021.7 361.7L1022.3 362.1L1022.9 362.4L1023.5 360.7L1024.1 360.1L1024.7 359.6L1025.4 360.2L1026 361.2L1026.6 361.1L1027.2 360.8L1027.8 359.5L1028.4 357.6L1029 359L1029.6 359.5L1030.2 359.8L1030.8 358.9L1031.4 357.8L1032 355.8L1032.6 355.9L1033.2 356.5L1033.8 356.7L1034.4 357.2L1035 358.1L1035.6 355.8L1036.2 355.7L1036.8 357L1037.4 358.6L1038 358.6L1038.6 358.6L1039.2 357.5L1039.8 356.1L1040.4 357.5L1041 358.7L1041.6 358.9L1042.2 359.4L1042.8 358.6L1043.4 357.3L1044 357.6L1044.6 359.1L1045.3 359.7L1045.9 359.3L1046.5 358.6L1047.1 357.2L1047.7 356L1048.3 357.5L1048.9 358.7L1049.5 358.8L1050.1 359.7L1050.7 360.6L1051.3 360.6L1051.9 363L1052.5 365.1L1053.1 366.1L1053.7 366L1054.3 366.2L1054.9 363.6L1055.5 362.6L1056.1 364.3L1056.7 365L1057.3 364.4L1057.9 363.2L1058.5 361L1059.1 359.5L1059.7 360.2L1060.3 361.1L1060.9 360L1061.5 359.3L1062.1 357.8L1062.7 355.5L1063.3 356.1L1063.9 356.8L1064.5 356L1065.1 356.1L1065.8 355.6L1066.4 353.8L1067 354.2L1067.6 355.4L1068.2 356.3L1068.8 356.7L1069.4 357.7L1070 355.9L1070.6 354.8L1071.2 357L1071.8 358.7L1072.4 358.5L1073 359.4L1073.6 358.2L1074.2 357L1074.8 357.8L1075.4 359.8L1076 360.3L1076.6 360.4L1077.2 360.4L1077.2 382.3L1076.6 381.6L1076 381.3L1075.4 380.8L1074.8 379.2L1074.2 378.4L1073.6 379.3L1073 379.4L1072.4 378.4L1071.8 378.4L1071.2 376.6L1070.6 375.5L1070 375.9L1069.4 375.9L1068.8 375.8L1068.2 375.1L1067.6 373.6L1067 373.2L1066.4 372.6L1065.8 372.3L1065.1 372.2L1064.5 371.8L1063.9 372L1063.3 373.1L1062.7 374.2L1062.1 375.5L1061.5 377.2L1060.9 378.9L1060.3 379.9L1059.7 380.6L1059.1 380.7L1058.5 382.5L1057.9 382.9L1057.3 383L1056.7 383.8L1056.1 382.8L1055.5 383L1054.9 382.9L1054.3 383.4L1053.7 383.8L1053.1 383.5L1052.5 382.9L1051.9 381.3L1051.3 380L1050.7 379.7L1050.1 378.9L1049.5 378.7L1048.9 378.6L1048.3 377.9L1047.7 377.3L1047.1 376.5L1046.5 377L1045.9 377L1045.3 376.4L1044.6 376L1044 375.5L1043.4 374.5L1042.8 375.7L1042.2 375.3L1041.6 375L1041 375.1L1040.4 374L1039.8 373.6L1039.2 374.5L1038.6 374.8L1038 374.8L1037.4 374.5L1036.8 373.3L1036.2 372.4L1035.6 372.5L1035 373.4L1034.4 372.9L1033.8 373L1033.2 373.4L1032.6 372.3L1032 371.9L1031.4 372.8L1030.8 372.5L1030.2 372.1L1029.6 372.6L1029 372L1028.4 371L1027.8 371.6L1027.2 371.8L1026.6 371.4L1026 372.4L1025.4 371.7L1024.7 372.1L1024.1 372.1L1023.5 372.5L1022.9 372.8L1022.3 372.6L1021.7 373L1021.1 372.2L1020.5 372.4L1019.9 372.9L1019.3 373.3L1018.7 373.1L1018.1 373.5L1017.5 372.7L1016.9 372.4L1016.3 372.6L1015.7 372.8L1015.1 373.5L1014.5 372.8L1013.9 372.6L1013.3 372.2L1012.7 372.5L1012.1 373.2L1011.5 372.8L1010.9 372.7L1010.3 372.1L1009.7 371.5L1009.1 370.7L1008.5 371.8L1007.9 371.3L1007.3 371.3L1006.7 370.7L1006.1 370.5L1005.5 370.3L1004.9 370.2L1004.2 369.7L1003.6 369.7L1003 370L1002.4 369.7L1001.8 368.8L1001.2 368.2L1000.6 368.5L1000 368.1L999.4 367.8L998.8 367.7L998.2 367.2L997.6 366.1L997 366.4L996.4 366.3L995.8 366.2L995.2 366.2L994.6 365.2Z" fill="#377eb8" stroke="#377eb8" stroke-width="0.6" stroke-linejoin="round"/><path d="M1081 336.8L1081.6 336L1082.2 336.4L1082.8 337L1083.4 337.4L1084 336.6L1084.6 336.5L1085.2 335.9L1085.8 335.4L1086.4 335.7L1087 336.3L1087.6 336.3L1088.2 335.6L1088.8 335.5L1089.4 334.8L1090 334.4L1090.6 334.5L1091.2 334.7L1091.8 334.8L1092.4 334.6L1093 334.4L1093.6 333.8L1094.2 334.3L1094.8 334.8L1095.4 334.5L1096 334.3L1096.6 334.3L1097.2 333.8L1097.8 333.9L1098.4 334L1099 334.2L1099.6 334.1L1100.2 334.2L1100.8 333.8L1101.4 333.8L1102 334.3L1102.6 335.1L1103.2 334.7L1103.8 335.1L1104.4 334.9L1105 334.9L1105.6 335.6L1106.2 335.9L1106.8 336.5L1107.4 336.4L1108 336.8L1108.6 337.1L1109.2 337.7L1109.8 338.6L1110.4 338.8L1111 339.2L1111.6 339.2L1112.2 338.9L1112.8 339.3L1113.4 339.9L1114 340.3L1114.6 340.7L1115.2 340.9L1115.8 340.8L1116.4 340.7L1117 341.6L1117.6 342.3L1118.2 342.7L1118.8 341.4L1119.4 330.2L1120 327.8L1120.6 327L1121.2 327.5L1121.8 328.3L1122.4 328.4L1123 327.9L1123.6 327.4L1124.2 326.5L1124.8 327.8L1125.4 328.4L1126 327.8L1126.6 328.4L1127.2 327.4L1127.8 327.1L1128.4 326.7L1129 327.4L1129.6 327.6L1130.2 328.3L1130.8 328.3L1131.4 327.7L1132 327.5L1132.6 328.3L1133.2 328.4L1133.8 328.6L1134.4 328.7L1135 328.3L1135.6 327.4L1136.2 327.3L1136.8 328.5L1137.4 328.5L1138 328.4L1138.6 328.4L1139.2 327.6L1139.8 327.3L1140.4 327.1L1141 326.9L1141.6 327.2L1142.2 326.3L1142.8 326.2L1143.4 325.3L1144 324.8L1144.6 325.1L1145.2 324.5L1145.8 324.6L1146.4 323.6L1147 322.7L1147.6 322.2L1148.3 323.9L1148.9 323.7L1149.5 324.8L1150.1 324.5L1150.7 324L1151.3 324.7L1151.9 325.7L1152.5 325.6L1153.1 326.5L1153.7 326.7L1154.3 326.2L1154.9 326L1155.5 326.7L1156.1 327.1L1156.7 327.4L1157.3 326.9L1157.9 326.5L1158.5 325.9L1159.1 325.7L1159.7 325.7L1160.3 326.7L1160.9 325.9L1161.5 326.5L1162.1 325.6L1162.7 325.1L1163.3 325.8L1163.9 327L1164.5 327L1165.1 327.5L1165.7 327.6L1166.3 327.8L1166.9 328.3L1167.5 328.9L1168.1 330.3L1168.7 330.2L1169.3 329.3L1169.9 328.8L1170.5 327.8L1171.1 328.5L1171.7 328.8L1172.3 327.8L1172.9 326.9L1173.5 326.6L1174.1 326L1174.7 326.2L1175.3 325.9L1175.9 325.7L1176.5 326L1177.1 326.4L1177.7 325.4L1178.3 325.5L1178.9 326.8L1179.5 326.7L1180.1 327.3L1180.7 326.9L1181.3 326.6L1181.9 326.9L1182.5 327.7L1183.1 327.8L1183.7 328.3L1184.3 328.2L1184.9 328.4L1185.5 326.8L1186.1 326.6L1186.7 327.1L1187.3 326.6L1187.9 326.7L1188.5 325.7L1189.1 324.6L1189.7 324.5L1190.3 324.3L1190.9 324.3L1191.5 324.7L1192.1 325.1L1192.7 324.2L1193.3 323.7L1193.9 324.1L1194.5 324.2L1195.1 324.8L1195.7 324.9L1196.3 323.9L1196.9 323.4L1197.5 323.4L1198.1 324.4L1198.7 324.3L1199.3 325.1L1199.9 325L1200.5 324.9L1201.1 325.5L1201.7 326.3L1202.3 326.7L1202.9 327.4L1203.5 327.1L1204.1 328L1204.7 327.4L1205.3 328L1205.9 328.7L1206.5 328.4L1207.1 328L1207.7 327.3L1208.3 326.1L1208.9 325.1L1209.5 325.8L1210.1 325.3L1210.7 325.5L1211.3 325.4L1211.9 324.5L1212.5 323.4L1213.1 323L1213.7 323.8L1214.3 323.3L1214.9 324L1215.5 324.2L1216.1 322.9L1216.7 322.8L1217.3 323.9L1217.9 324.7L1218.5 324.7L1219.1 324L1219.7 323.2L1220.3 322.5L1220.9 323.1L1221.5 324L1222.1 323.5L1222.7 324.5L1223.3 323.4L1223.9 322.9L1224.5 323L1225.1 323.7L1225.7 324.7L1226.3 323.9L1226.9 323.8L1227.5 323.4L1228.1 322.8L1228.7 323.8L1229.3 324.2L1229.9 324L1230.5 323.8L1231.1 323.5L1231.7 322.9L1232.3 323.5L1232.9 323.9L1233.5 323.5L1234.1 323.7L1234.7 323.2L1235.3 322.5L1235.9 323.6L1236.5 324.2L1237.1 324L1237.7 323.6L1238.3 324.3L1238.9 323L1239.5 323L1240.1 323.9L1240.7 324.4L1241.3 324.1L1241.9 324.7L1242.5 323.6L1243.1 323L1243.7 323L1244.3 323.9L1244.9 324.1L1245.5 324.3L1246.1 324.3L1246.7 323.2L1247.3 323.2L1247.9 324.2L1248.5 324.3L1249.1 324.1L1249.7 324.6L1250.3 323.9L1250.9 324.5L1251.5 325.3L1252.1 326.5L1252.7 327L1253.3 327.4L1253.9 327.7L1254.5 327.5L1255.1 327.9L1255.7 329.3L1256.3 330L1256.9 330.7L1257.5 329.9L1258.1 329.6L1258.7 328.7L1259.3 328.6L1259.9 328.2L1260.5 328.3L1261.1 328L1261.7 327.1L1262.3 326.2L1262.9 325.8L1263.5 325.5L1264.1 325L1264.7 325.1L1265.3 325.3L1265.9 323.9L1266.5 324.2L1267.1 324.5L1267.7 324.7L1268.3 325.2L1268.9 324.5L1269.5 324.8L1270.1 324.6L1270.7 324.5L1271.3 325.5L1271.9 325.5L1272.5 325.8L1273.1 324.8L1273.7 324.6L1274.3 324.9L1274.9 325.7L1275.5 325.4L1276.1 325.7L1276.7 325L1277.3 324.7L1277.9 323.6L1278.5 324.2L1279.1 324.2L1279.7 324L1280.3 323.9L1280.9 322.7L1281.5 321.9L1282.1 322.8L1282.8 323.7L1283.4 323.8L1284 324.4L1284.6 323.8L1285.2 323.9L1285.8 324.1L1286.4 324.7L1287 325.1L1287.6 325.3L1288.2 325.1L1288.8 324.8L1289.4 324.5L1290 325L1290.6 325.9L1291.2 326.2L1291.8 325.9L1292.4 325.2L1293 325.2L1293.6 325.4L1294.2 325.3L1294.8 326.2L1295.4 326.5L1296 325.9L1296.6 325.8L1297.2 325.7L1297.8 325.8L1298.4 326.5L1299 326.3L1299.6 326.6L1300.2 326.2L1300.8 325.8L1301.4 325.7L1302 326.7L1302.6 326.5L1303.2 326.3L1303.8 326.8L1304.4 325.4L1305 325.9L1305.6 326.8L1306.2 327.1L1306.8 327.1L1307.4 327L1308 326.4L1308.6 326.1L1309.2 326.2L1309.8 327.1L1310.4 327.2L1311 327.8L1311.6 327.6L1312.2 327.3L1312.8 328.4L1313.4 329L1314 329.7L1314.6 329.7L1315.2 330.3L1315.8 330.7L1316.4 331.1L1317 331.6L1317.6 332.7L1318.2 333.6L1318.8 334L1319.4 334.1L1320 334.5L1320.6 335.1L1321.2 335.4L1321.8 335.3L1322.4 335.2L1323 334.8L1323.6 334.4L1324.2 334.1L1324.8 334.3L1325.4 334.1L1326 334.2L1326.6 334.2L1327.2 333.9L1327.8 334.7L1328.4 335.7L1329 336.9L1329.6 337.9L1330.2 338.8L1330.8 337.7L1331.4 336.6L1332 336.2L1332.6 336.1L1333.2 334.8L1333.8 334.2L1334.4 333.6L1335 332.5L1335.6 332.5L1336.2 332.7L1336.8 332.7L1337.4 332.8L1338 332.2L1338.6 332L1339.2 331.2L1339.8 331.5L1340.4 332.2L1341 331.6L1341.6 332.1L1342.2 331.2L1342.8 331.1L1343.4 330.9L1344 331.5L1344.6 331.3L1345.2 331.5L1345.8 331.2L1346.4 330.9L1347 331L1347.6 331.3L1348.2 331.5L1348.8 331.8L1349.4 331.9L1350 331.9L1350.6 331.4L1351.2 332.1L1351.8 332.5L1352.4 333.2L1353 333.4L1353.6 333L1354.2 332.6L1354.8 332L1355.4 331.8L1356 331.4L1356.6 331L1357.2 330.6L1357.8 329.6L1358.4 328.9L1359 328.7L1359.6 329L1360.2 329.4L1360.8 329.6L1361.4 329.2L1362 329.5L1362.6 329.9L1363.2 330.5L1363.8 330.4L1364.4 331.1L1365 331L1365.6 331L1366.2 330.6L1366.8 330.9L1367.4 330.8L1368 330L1368.6 329.8L1369.2 329.2L1369.8 328.2L1370.4 328.3L1371 328.4L1371.6 328.4L1372.2 327.4L1372.8 327.5L1373.4 327.5L1374 327.4L1374.6 328L1375.2 328.6L1375.8 328.5L1376.4 328.6L1377 328.7L1377.6 328.7L1378.2 329L1378.8 329.4L1379.4 329.8L1380 329.5L1380.6 329.3L1381.2 329.3L1381.8 329.6L1382.4 329.6L1383 330.1L1383.6 330.1L1384.2 330.2L1384.8 329.9L1385.4 330.2L1386 330.2L1386.6 330.9L1387.2 331L1387.8 330.9L1388.4 330.4L1389 329.6L1389.6 330.1L1390.2 329.8L1390.8 329.9L1391.4 330L1392 329.5L1392.6 328.7L1393.2 328.5L1393.8 328.9L1394.4 328.6L1395 328.6L1395.6 328.8L1396.2 328.4L1396.8 328.6L1397.4 328.8L1398 329.5L1398.6 329.7L1399.2 329.4L1399.8 329.1L1400.4 329L1401 329.7L1401.6 330L1402.2 330.1L1402.8 330.2L1403.4 330.5L1404 330L1404.6 330.5L1405.2 330.8L1405.8 331.1L1406.4 331.6L1407 331.5L1407.6 331.4L1408.2 331L1408.8 331.6L1409.4 332.4L1410 332.2L1410.6 332.3L1411.2 332.5L1411.8 331.9L1412.4 331.9L1413 332.9L1413.6 332.7L1414.2 333.1L1414.8 332.7L1415.4 332.4L1416 332.2L1416.7 332.4L1417.3 332.2L1417.9 332L1418.5 332.3L1419.1 331.7L1419.7 331.3L1420.3 331.2L1420.9 331.8L1421.5 331.8L1422.1 331.5L1422.7 330.3L1423.3 329.5L1423.9 329L1424.5 328.8L1425.1 328.2L1425.7 327.7L1426.3 327L1426.9 325.7L1427.5 325.1L1428.1 324.9L1428.7 325.3L1429.3 325.5L1429.9 326.3L1430.5 326.5L1431.1 326.8L1431.7 327.7L1432.3 328.4L1432.9 329.2L1433.5 329.7L1434.1 330.4L1434.7 330.1L1435.3 329.6L1435.9 329.2L1436.5 329.3L1437.1 328.6L1437.7 327.9L1438.3 326.9L1438.9 326.5L1439.5 326.2L1440.1 325.9L1440.7 325.3L1441.3 324.5L1441.9 323.9L1442.5 323.2L1443.1 323.1L1443.7 322.6L1444.3 323.4L1444.9 324.4L1445.5 325.3L1446.1 325L1446.7 325.4L1447.3 326.8L1447.9 328L1448.5 328.8L1449.1 329.4L1449.7 329.2L1450.3 329.8L1450.9 330.1L1451.5 331.5L1452.1 331.8L1452.7 332.8L1453.3 333.7L1453.9 332.8L1454.5 331.7L1455.1 331.6L1455.7 331.6L1456.3 330.7L1456.9 330.1L1457.5 329.2L1458.1 328.4L1458.7 328.2L1459.3 328L1459.9 326.9L1460.5 326.7L1461.1 326.2L1461.7 324.9L1462.3 325.2L1462.9 325.5L1463.5 325.3L1464.1 325.4L1464.7 325L1465.3 324.4L1465.9 324L1466.5 324.5L1467.1 325.5L1467.7 325.9L1468.3 326.4L1468.9 326.8L1469.5 326.3L1470.1 326.9L1470.7 328.2L1471.3 328.7L1471.9 328.8L1472.5 329.4L1473.1 329.5L1473.7 329.5L1474.3 329.7L1474.9 328.9L1475.5 328.8L1476.1 328.3L1476.7 327.5L1477.3 326.6L1477.9 326.7L1478.5 326.8L1479.1 327.5L1479.7 327.8L1480.3 327.7L1480.9 327.7L1481.5 328.2L1482.1 328.7L1482.7 328.9L1483.3 329.3L1483.9 328.9L1484.5 329L1485.1 328.5L1485.7 328.6L1486.3 329.2L1486.9 328.7L1487.5 328.8L1488.1 328.7L1488.7 328.2L1489.3 328.9L1489.9 328.8L1490.5 329.3L1491.1 329.5L1491.7 328.8L1492.3 328.7L1492.9 328.9L1493.5 329.2L1494.1 329.7L1494.7 329.7L1495.3 329.6L1495.9 329.1L1496.5 329.2L1497.1 329.2L1497.7 329.9L1498.3 330.2L1498.9 330.1L1499.5 330L1500.1 329.4L1500.7 329.7L1501.3 329.8L1501.9 330L1502.5 329.8L1503.1 329.5L1503.7 329L1504.3 328.9L1504.9 329.4L1505.5 329.3L1506.1 329.3L1506.7 328.9L1507.3 328.5L1507.9 328L1508.5 328.2L1509.1 328.4L1509.7 328.1L1510.3 327.9L1510.9 327.3L1511.5 326.7L1512.1 326.9L1512.7 326.9L1513.3 326.8L1513.9 326.7L1514.5 326.6L1515.1 326L1515.7 325L1516.3 325.3L1516.9 325.4L1517.5 325.7L1518.1 325.5L1518.7 325.3L1519.3 324.9L1519.9 325.3L1520.5 325.2L1521.1 325.4L1521.7 325.5L1522.3 325.1L1522.9 325.1L1523.5 324.4L1524.1 325L1524.7 324.6L1525.3 324.4L1525.9 324L1526.5 323.6L1527.1 322.9L1527.7 323L1528.3 323L1528.3 326.1L1527.7 326.6L1527.1 326.3L1526.5 327L1525.9 327.3L1525.3 327.4L1524.7 327.8L1524.1 327.8L1523.5 328.2L1522.9 328.7L1522.3 328.6L1521.7 328.7L1521.1 328.4L1520.5 328.3L1519.9 328.6L1519.3 328.2L1518.7 328.3L1518.1 328.6L1517.5 328.5L1516.9 328.3L1516.3 328.2L1515.7 328.7L1515.1 328.8L1514.5 329.4L1513.9 329.3L1513.3 329.6L1512.7 330.1L1512.1 330.4L1511.5 330.6L1510.9 330.9L1510.3 330.9L1509.7 331.1L1509.1 331.5L1508.5 332L1507.9 332L1507.3 331.9L1506.7 331.9L1506.1 332L1505.5 332.3L1504.9 332.2L1504.3 332L1503.7 332.2L1503.1 332.4L1502.5 332.6L1501.9 333L1501.3 332.8L1500.7 332.8L1500.1 333.2L1499.5 333L1498.9 333.2L1498.3 333.3L1497.7 333L1497.1 332.7L1496.5 332.3L1495.9 332.8L1495.3 332.5L1494.7 332.8L1494.1 332.4L1493.5 332.5L1492.9 332.5L1492.3 332.2L1491.7 331.9L1491.1 332.5L1490.5 332.4L1489.9 332.3L1489.3 331.8L1488.7 331.5L1488.1 331.7L1487.5 332.1L1486.9 332.2L1486.3 332L1485.7 332.4L1485.1 332.1L1484.5 332.3L1483.9 332.7L1483.3 332.6L1482.7 332.4L1482.1 331.8L1481.5 331.7L1480.9 331L1480.3 331.1L1479.7 330.6L1479.1 330.5L1478.5 329.9L1477.9 329.8L1477.3 330.2L1476.7 330.9L1476.1 331.5L1475.5 332L1474.9 332.4L1474.3 332.6L1473.7 332.9L1473.1 332.5L1472.5 332.2L1471.9 331.7L1471.3 331.4L1470.7 331.2L1470.1 330.7L1469.5 329.7L1468.9 329.6L1468.3 329L1467.7 328.9L1467.1 328.2L1466.5 328L1465.9 327.7L1465.3 327.8L1464.7 328.4L1464.1 328.1L1463.5 328L1462.9 328.2L1462.3 328.4L1461.7 328.4L1461.1 329.2L1460.5 329.8L1459.9 330.4L1459.3 330.7L1458.7 331.5L1458.1 331.7L1457.5 332.3L1456.9 333L1456.3 334L1455.7 334L1455.1 334.7L1454.5 335.4L1453.9 335.6L1453.3 336.5L1452.7 336.1L1452.1 335.5L1451.5 334.8L1450.9 333.7L1450.3 333.1L1449.7 332.5L1449.1 331.8L1448.5 331.3L1447.9 330.7L1447.3 330L1446.7 328.9L1446.1 328.2L1445.5 328.1L1444.9 327.3L1444.3 326.7L1443.7 326.1L1443.1 326.1L1442.5 326.8L1441.9 327.1L1441.3 328.1L1440.7 328.6L1440.1 328.8L1439.5 329.4L1438.9 329.6L1438.3 330.3L1437.7 330.8L1437.1 331.4L1436.5 332.3L1435.9 332.8L1435.3 332.7L1434.7 333.7L1434.1 333.8L1433.5 333.2L1432.9 332.7L1432.3 331.8L1431.7 331.1L1431.1 330.4L1430.5 330.2L1429.9 329.6L1429.3 329L1428.7 328.5L1428.1 328L1427.5 328.4L1426.9 329L1426.3 330L1425.7 330.8L1425.1 331.1L1424.5 331.8L1423.9 332L1423.3 332.8L1422.7 333.5L1422.1 333.9L1421.5 334.6L1420.9 334.7L1420.3 334.9L1419.7 334.6L1419.1 335.2L1418.5 335.2L1417.9 335L1417.3 335.4L1416.7 335.6L1416 335.3L1415.4 335.6L1414.8 336.1L1414.2 335.9L1413.6 335.9L1413 335.9L1412.4 335.4L1411.8 335.3L1411.2 335.2L1410.6 335.2L1410 335.4L1409.4 335.4L1408.8 335L1408.2 334.7L1407.6 334.5L1407 334.7L1406.4 334.5L1405.8 334.2L1405.2 334L1404.6 333.6L1404 333.3L1403.4 333.4L1402.8 333.2L1402.2 333L1401.6 332.9L1401 332.6L1400.4 332.3L1399.8 332.8L1399.2 332.6L1398.6 332.4L1398 332.6L1397.4 332.5L1396.8 331.8L1396.2 332.2L1395.6 331.9L1395 331.8L1394.4 332.1L1393.8 331.9L1393.2 332.3L1392.6 332.6L1392 332.7L1391.4 333L1390.8 332.9L1390.2 333L1389.6 333.1L1389 332.9L1388.4 333.3L1387.8 334L1387.2 333.8L1386.6 333.8L1386 333.4L1385.4 333.5L1384.8 333.2L1384.2 333.2L1383.6 333.4L1383 333.4L1382.4 333.2L1381.8 333.1L1381.2 332.8L1380.6 332.5L1380 332.9L1379.4 332.7L1378.8 332.3L1378.2 332.1L1377.6 331.7L1377 332.1L1376.4 331.8L1375.8 331.7L1375.2 331.5L1374.6 331L1374 330.6L1373.4 330.5L1372.8 330.5L1372.2 330.4L1371.6 331.1L1371 331.3L1370.4 331.4L1369.8 331.7L1369.2 332.2L1368.6 332.7L1368 333L1367.4 333.3L1366.8 333.7L1366.2 334L1365.6 334.4L1365 334.3L1364.4 333.9L1363.8 333.6L1363.2 333.6L1362.6 333.1L1362 332.6L1361.4 332.5L1360.8 332.3L1360.2 332.6L1359.6 332.2L1359 331.9L1358.4 331.9L1357.8 332.9L1357.2 333.5L1356.6 334.1L1356 334.4L1355.4 335L1354.8 335.2L1354.2 335.9L1353.6 336.3L1353 336.3L1352.4 336L1351.8 335.9L1351.2 335.2L1350.6 334.9L1350 335.2L1349.4 335.2L1348.8 334.7L1348.2 334.3L1347.6 334.4L1347 334.1L1346.4 334.5L1345.8 334.3L1345.2 334.3L1344.6 334.7L1344 334.6L1343.4 334.6L1342.8 334.2L1342.2 334.7L1341.6 334.7L1341 334.7L1340.4 335.1L1339.8 334.8L1339.2 334.9L1338.6 335L1338 335.1L1337.4 335.7L1336.8 335.4L1336.2 335.8L1335.6 335.6L1335 335.4L1334.4 336.7L1333.8 337.7L1333.2 338.4L1332.6 339.2L1332 339.5L1331.4 340.4L1330.8 341.4L1330.2 341.4L1329.6 340.9L1329 340.1L1328.4 338.8L1327.8 338.4L1327.2 337.2L1326.6 337.4L1326 337.4L1325.4 337.3L1324.8 337.5L1324.2 337.4L1323.6 337.5L1323 338L1322.4 338.4L1321.8 338.1L1321.2 338.3L1320.6 338.5L1320 338.1L1319.4 337.6L1318.8 337.3L1318.2 336.3L1317.6 336L1317 335.2L1316.4 334.5L1315.8 333.8L1315.2 333.6L1314.6 333.1L1314 333L1313.4 332.6L1312.8 332.3L1312.2 331.7L1311.6 331.6L1311 331.8L1310.4 331.4L1309.8 331.6L1309.2 331L1308.6 330.6L1308 330.7L1307.4 331.3L1306.8 331.5L1306.2 331L1305.6 331L1305 330.8L1304.4 330.7L1303.8 330.7L1303.2 331.6L1302.6 331.1L1302 331.1L1301.4 331.4L1300.8 331.2L1300.2 331L1299.6 330.8L1299 331.4L1298.4 331L1297.8 330.9L1297.2 330.6L1296.6 331L1296 330.6L1295.4 330.6L1294.8 331L1294.2 330.6L1293.6 330.8L1293 330.6L1292.4 330.3L1291.8 330.7L1291.2 330.7L1290.6 330.3L1290 330L1289.4 330.3L1288.8 330.6L1288.2 330.1L1287.6 330.4L1287 329.7L1286.4 329.2L1285.8 328.8L1285.2 329.3L1284.6 329.3L1284 328.4L1283.4 328.4L1282.8 327.8L1282.1 327.5L1281.5 327.3L1280.9 328L1280.3 327.9L1279.7 328.8L1279.1 328.6L1278.5 328.9L1277.9 329.3L1277.3 329.6L1276.7 329.3L1276.1 329.8L1275.5 330.7L1274.9 330.8L1274.3 330L1273.7 330.5L1273.1 330.3L1272.5 330L1271.9 329.9L1271.3 330.6L1270.7 330.2L1270.1 330.3L1269.5 330.1L1268.9 330.3L1268.3 329.5L1267.7 330.3L1267.1 329.4L1266.5 329.5L1265.9 329.9L1265.3 330L1264.7 329.9L1264.1 330.8L1263.5 331.4L1262.9 331L1262.3 331.6L1261.7 331.8L1261.1 332.8L1260.5 333.1L1259.9 333.5L1259.3 333.7L1258.7 333.7L1258.1 334.7L1257.5 334.7L1256.9 335.3L1256.3 335.1L1255.7 334.5L1255.1 333.1L1254.5 333.4L1253.9 333.1L1253.3 332.3L1252.7 331.6L1252.1 331.6L1251.5 331.3L1250.9 330.3L1250.3 329.6L1249.7 329.3L1249.1 329.7L1248.5 329.9L1247.9 330L1247.3 329.5L1246.7 329.6L1246.1 329.3L1245.5 329.2L1244.9 329.1L1244.3 329.1L1243.7 329.4L1243.1 329.4L1242.5 329.3L1241.9 329.3L1241.3 329.2L1240.7 329L1240.1 329.7L1239.5 329L1238.9 329.7L1238.3 329.3L1237.7 329.3L1237.1 329.3L1236.5 329.2L1235.9 329.3L1235.3 328.9L1234.7 329.3L1234.1 329.5L1233.5 330.1L1232.9 330.3L1232.3 329.9L1231.7 329.5L1231.1 329.3L1230.5 329.8L1229.9 329.3L1229.3 330.2L1228.7 329.8L1228.1 329.5L1227.5 329.4L1226.9 329.3L1226.3 329.8L1225.7 329.5L1225.1 329.7L1224.5 329.8L1223.9 328.9L1223.3 329.7L1222.7 329.9L1222.1 330.2L1221.5 329.8L1220.9 329.8L1220.3 329.1L1219.7 329.9L1219.1 330.1L1218.5 329.6L1217.9 329.4L1217.3 329.1L1216.7 329.3L1216.1 329.3L1215.5 328.7L1214.9 329.6L1214.3 329.2L1213.7 328.8L1213.1 329.3L1212.5 329.4L1211.9 330.4L1211.3 330.8L1210.7 330.6L1210.1 331.1L1209.5 331.1L1208.9 331.3L1208.3 332.1L1207.7 332.2L1207.1 333L1206.5 332.9L1205.9 333.1L1205.3 333.5L1204.7 333.6L1204.1 332.9L1203.5 332.4L1202.9 332.6L1202.3 331.8L1201.7 331.9L1201.1 331.1L1200.5 330.5L1199.9 330.8L1199.3 330.3L1198.7 329.7L1198.1 329.3L1197.5 328.8L1196.9 328.5L1196.3 329.2L1195.7 328.9L1195.1 329.9L1194.5 329.3L1193.9 329.6L1193.3 328.9L1192.7 329.7L1192.1 330.2L1191.5 330.1L1190.9 329.5L1190.3 330.3L1189.7 329.9L1189.1 330.4L1188.5 331.5L1187.9 331.1L1187.3 331.4L1186.7 331.6L1186.1 332.4L1185.5 331.8L1184.9 332.5L1184.3 333.4L1183.7 333.3L1183.1 333.1L1182.5 332.7L1181.9 331.8L1181.3 331.6L1180.7 331.9L1180.1 331.3L1179.5 331.7L1178.9 331.2L1178.3 330.4L1177.7 330.5L1177.1 330.8L1176.5 330.3L1175.9 331.1L1175.3 330.8L1174.7 331.3L1174.1 331.7L1173.5 332.1L1172.9 332.5L1172.3 332.6L1171.7 332.6L1171.1 332.6L1170.5 333.1L1169.9 333.6L1169.3 334.3L1168.7 334L1168.1 334.4L1167.5 333.8L1166.9 332.9L1166.3 333L1165.7 332.2L1165.1 332.4L1164.5 332.2L1163.9 332L1163.3 330.8L1162.7 330.4L1162.1 331L1161.5 331.2L1160.9 331.3L1160.3 331.2L1159.7 331.3L1159.1 331.5L1158.5 331.5L1157.9 331.3L1157.3 331.5L1156.7 331.4L1156.1 332.1L1155.5 331.4L1154.9 331.1L1154.3 331.4L1153.7 331.2L1153.1 331.4L1152.5 331.3L1151.9 330.3L1151.3 330.4L1150.7 330.4L1150.1 329.7L1149.5 329.6L1148.9 329.3L1148.3 328.9L1147.6 329.2L1147 329.5L1146.4 330L1145.8 329.8L1145.2 330.5L1144.6 330.5L1144 331L1143.4 330.2L1142.8 330.8L1142.2 331.8L1141.6 331.5L1141 332.6L1140.4 332.6L1139.8 332.2L1139.2 332.8L1138.6 333.2L1138 333.4L1137.4 333.6L1136.8 332.9L1136.2 332.9L1135.6 332.5L1135 332.8L1134.4 333.4L1133.8 332.8L1133.2 333.3L1132.6 333.1L1132 333L1131.4 333L1130.8 332.6L1130.2 333.3L1129.6 332.9L1129 332.7L1128.4 332.9L1127.8 333.4L1127.2 333.3L1126.6 333.1L1126 333.3L1125.4 333.3L1124.8 332.8L1124.2 332.4L1123.6 332.9L1123 332.9L1122.4 333L1121.8 333.4L1121.2 333.4L1120.6 333.3L1120 332.8L1119.4 334.4L1118.8 344.5L1118.2 345.8L1117.6 345.1L1117 345.1L1116.4 344.6L1115.8 344.3L1115.2 343.7L1114.6 344L1114 343.5L1113.4 343.1L1112.8 342.6L1112.2 342.9L1111.6 342.6L1111 342.4L1110.4 342L1109.8 341.5L1109.2 341.1L1108.6 340.9L1108 340.4L1107.4 339.9L1106.8 339.5L1106.2 339.4L1105.6 338.9L1105 339.2L1104.4 338.5L1103.8 338.5L1103.2 338.4L1102.6 338.1L1102 338.2L1101.4 337.8L1100.8 337.5L1100.2 337.6L1099.6 338.2L1099 338L1098.4 338L1097.8 337.8L1097.2 338L1096.6 338L1096 338.1L1095.4 338.1L1094.8 338.5L1094.2 338.1L1093.6 338L1093 338.2L1092.4 338.2L1091.8 338.2L1091.2 338.3L1090.6 338.5L1090 338.8L1089.4 339L1088.8 339L1088.2 338.9L1087.6 339.1L1087 339.5L1086.4 339.6L1085.8 339.8L1085.2 340.1L1084.6 339.9L1084 340.1L1083.4 340.6L1082.8 340.7L1082.2 340.3L1081.6 340L1081 340.8Z" fill="#377eb8" stroke="#377eb8" stroke-width="0.6" stroke-linejoin="round"/><path d="M276.6 345L276.9 196L277.4 345" fill="none" stroke="#377eb8" stroke-width="2.1" stroke-linejoin="round" stroke-linecap="butt"/><path d="M279.8 342L280.3 279.5L280.9 335" fill="none" stroke="#377eb8" stroke-width="2.1" stroke-linejoin="round" stroke-linecap="butt"/><path d="M283 332L283.4 307.5L283.8 332" fill="none" stroke="#377eb8" stroke-width="2.1" stroke-linejoin="round" stroke-linecap="butt"/><path d="M387 330L387.3 279.5L387.7 330" fill="none" stroke="#377eb8" stroke-width="2.1" stroke-linejoin="round" stroke-linecap="butt"/><path d="M1051.8 389.5L1051.8 467" fill="none" stroke="#377eb8" stroke-width="2.1" stroke-linejoin="round" stroke-linecap="butt"/><path d="M1080.6 340L1080.9 302L1081.2 340" fill="none" stroke="#377eb8" stroke-width="2.1" stroke-linejoin="round" stroke-linecap="butt"/><path d="M1088 338L1088.4 208L1088.8 338" fill="none" stroke="#377eb8" stroke-width="2.1" stroke-linejoin="round" stroke-linecap="butt"/><path d="M1108.2 338L1108.5 346L1108.8 338" fill="none" stroke="#377eb8" stroke-width="2.1" stroke-linejoin="round" stroke-linecap="butt"/><path d="M130.8 336L131.3 317.3L132 316.5L133 316.9L133.7 336Z" fill="#377eb8" stroke="#377eb8" stroke-width="0.6" stroke-linejoin="round"/><path d="M188.2 334L188.7 315.4L189.4 314.6L190.4 315L191.1 334Z" fill="#377eb8" stroke="#377eb8" stroke-width="0.6" stroke-linejoin="round"/><path d="M245.9 332L246.4 312L247.1 311.2L248.1 311.6L248.8 332Z" fill="#377eb8" stroke="#377eb8" stroke-width="0.6" stroke-linejoin="round"/><path d="M444.7 334L445.2 326.5L445.9 325.7L446.9 326.1L447.6 334Z" fill="#377eb8" stroke="#377eb8" stroke-width="0.6" stroke-linejoin="round"/><path d="M502.1 336L502.6 327.1L503.3 326.3L504.3 326.7L505 336Z" fill="#377eb8" stroke="#377eb8" stroke-width="0.6" stroke-linejoin="round"/><path d="M559.8 336L560.3 325.5L561 324.7L562 325.1L562.7 336Z" fill="#377eb8" stroke="#377eb8" stroke-width="0.6" stroke-linejoin="round"/><path d="M617.7 337L618.2 329.5L618.9 328.7L619.9 329.1L620.6 337Z" fill="#377eb8" stroke="#377eb8" stroke-width="0.6" stroke-linejoin="round"/><path d="M675 336L675.5 327.1L676.2 326.3L677.2 326.7L677.9 336Z" fill="#377eb8" stroke="#377eb8" stroke-width="0.6" stroke-linejoin="round"/><path d="M732.3 337L732.8 327.2L733.5 326.4L734.5 326.8L735.2 337Z" fill="#377eb8" stroke="#377eb8" stroke-width="0.6" stroke-linejoin="round"/><path d="M789.7 342L790.2 330.4L790.9 329.6L791.9 330L792.6 342Z" fill="#377eb8" stroke="#377eb8" stroke-width="0.6" stroke-linejoin="round"/><path d="M847 337L847.5 329.5L848.2 328.7L849.2 329.1L849.9 337Z" fill="#377eb8" stroke="#377eb8" stroke-width="0.6" stroke-linejoin="round"/><path d="M904.7 342L905.2 333.8L905.9 333L906.9 333.4L907.6 342Z" fill="#377eb8" stroke="#377eb8" stroke-width="0.6" stroke-linejoin="round"/><path d="M962.1 350L962.6 337.1L963.3 336.3L964.3 336.7L965 350Z" fill="#377eb8" stroke="#377eb8" stroke-width="0.6" stroke-linejoin="round"/><path d="M1019.8 360L1020.3 344.8L1021 344L1022 344.4L1022.7 360Z" fill="#377eb8" stroke="#377eb8" stroke-width="0.6" stroke-linejoin="round"/><path d="M1178.3 330L1179 338.7L1179.8 330" fill="none" stroke="#377eb8" stroke-width="1.8" stroke-linejoin="round" stroke-linecap="butt"/><path d="M1235.9 328L1236.6 336L1237.4 328" fill="none" stroke="#377eb8" stroke-width="1.8" stroke-linejoin="round" stroke-linecap="butt"/><path d="M1293 328L1293.7 335.3L1294.5 328" fill="none" stroke="#377eb8" stroke-width="1.8" stroke-linejoin="round" stroke-linecap="butt"/></g>
<g><path d="M114.7 179.5H1543" stroke="#444" stroke-width="1" fill="none"/><path d="M115.2 179V526" stroke="#444" stroke-width="1" fill="none"/><path d="M114.7 525.1H1543" stroke="#2c2c2c" stroke-width="2" fill="none"/><path d="M1542 179V526.1" stroke="#292929" stroke-width="2" fill="none"/><path d="M109.1 510H114.9M109.1 402.9H114.9M109.1 295.8H114.9M109.1 188.7H114.9M423.9 526V530.8M776.7 526V530.8M1129.3 526V530.8M1478.1 526V530.8" stroke="#363636" stroke-width="1.9" fill="none"/><text x="103.8" y="517.9" font-size="23.4" text-anchor="end">0</text><text x="103.8" y="410.8" font-size="23.4" text-anchor="end">50</text><text x="103.8" y="303.7" font-size="23.4" text-anchor="end">100</text><text x="103.8" y="196.6" font-size="23.4" text-anchor="end">150</text><text x="423.9" y="552.8" font-size="23.4" text-anchor="middle">2025-03</text><text x="776.7" y="552.8" font-size="23.4" text-anchor="middle">2025-06</text><text x="1129.3" y="552.8" font-size="23.4" text-anchor="middle">2025-09</text><text x="1478.1" y="552.8" font-size="23.4" text-anchor="middle">2025-12</text><text x="828.5" y="159.2" font-size="30.9" text-anchor="middle">Instrument flow rate (ml.min-¹)</text><text transform="translate(43.2 351.5) rotate(-90)" font-size="29.2" text-anchor="middle">Flow</text></g>
<g><path d="M1635 337.4H1658.8" stroke="#e41a1c" stroke-width="2.2"/><path d="M1635 366.9H1658.8" stroke="#377eb8" stroke-width="2.2"/><text x="1662" y="344.7" font-size="18.6">857</text><text x="1662" y="374" font-size="18.6">1154</text></g>
<g><rect x="115.5" y="630" width="1426.1" height="345" fill="#fff"/><path d="M115.5 937.7H1542.2M115.5 830.9H1542.2M115.5 724.1H1542.2" stroke="#e9e9e9" stroke-width="1" fill="none"/><path d="M197.7 630V975M316.5 630V975M542.8 630V975M657.8 630V975M891.7 630V975M1010.6 630V975M1244.3 630V975M1363.2 630V975" stroke="#dfdfdf" stroke-width="1" fill="none"/><path d="M115.5 884.3H1542.2M115.5 777.5H1542.2M115.5 670.7H1542.2" stroke="#e8e8e8" stroke-width="1.9" fill="none"/><path d="M423.9 630V975M776.7 630V975M1129.3 630V975M1478.1 630V975" stroke="#cacaca" stroke-width="2.1" fill="none"/></g>
<g id="p2-tlab"><path d="M128.3 876L129 870.7L131.7 865.3L135 872L138.3 878L141.7 869.3L143.7 868.7L146.3 876L149 866.7L151.7 860.7L155 866.7L157.7 872L161 860.7L163 860.7L166.3 866.7L169.7 868L172.6 874.7L175.7 868L178.3 866L179.7 880L181 865.3L183.7 885.3L185 868L187 881.3L189.7 869.3L193.7 863.3L195.7 874.7L198.3 866.7L200.3 870.7L203 862.7L205 866.7L207 878.7L209.7 864.7L211.7 868L213.9 880L216.3 870.7L219 869.3L221.7 862.7L224.3 865.3L225.9 882.7L227.7 865.3L229.7 870.7L231 881.3L233.7 886.7L235.7 873.3L237.4 888.7L239.7 878.7L242.3 869.3L244.1 888L246.3 889.3L249 873.3L251 873.3L254.3 867.3L257 873.3L258.7 886.7L261 881.3L262.7 886.7L265 872L266.3 884L268.3 870.7L270.3 885.3L272.3 876L274.3 870.7L275.7 886L276.7 886" fill="none" stroke="#b2182b" stroke-width="3.3" stroke-linejoin="round" stroke-linecap="butt"/><path d="M283.9 811L285 811.3L288.3 821.3L291 820L293 810.7L295.7 806L299.7 820L301.7 810L304.3 820L307 822L308.3 810L311.7 812L313 804L314.3 818.7L316.3 802.7L318.3 814L321 798L322.3 813.3L325 797.3L326.7 815.3L328.3 798L331.7 802L334.3 818L336.3 809.3L337.7 818.7L339.7 804.7L343 809.3L345.7 818L347.7 808.7L349 819.3L351.7 807.3L355 813.3" fill="none" stroke="#b2182b" stroke-width="3.2" stroke-linejoin="round" stroke-linecap="butt"/><path d="M275.7 886L276.7 886L276.9 922L277.2 725L278.4 741L279.2 700L280.2 645L280.9 760L281.4 782L282.8 784L283.4 882L283.9 811L285 811.3" fill="none" stroke="#b2182b" stroke-width="2.2" stroke-linejoin="round" stroke-linecap="butt"/><path d="M355 813.3L355.8 814.5L356.8 809.1L357.7 813L358.6 806.5L359.6 808.8L360.5 808.5L361.5 812.4L362.4 807.3L363.4 808.5L364.3 803.1L365.3 806.6L366.2 801.9L367.2 805.9L368.1 802.6L369.1 806.6L370 802.4L371 807.6L371.9 803.8L372.9 806.8L373.8 802.2L374.8 807L375.7 803.5L376.7 809L377.6 803.5L378.6 807.9L379.5 801.6L380.5 805.8L381.4 801.5L382.4 806.9L383.3 802.1L384.3 807.2L385.2 801.9L386.2 806.7L387.1 806L387.5 857L388 857L388.6 806L390.6 808L391.2 835L391.6 822L392.8 832.2L393.7 822.7L394.4 828.5L394.9 825.2L395.6 848.7L396.8 832.3L397.8 824L398.4 831.1L398.9 826.9L399.5 842.7L400.8 829.6L401.6 820.7L402.3 827L402.8 824L403.5 840L404.6 826.6L405.3 821.3L406 827.2L406.5 824.2L407.4 838.7L408.3 825.7L409 814.7L409.6 824.2L410 815.9L410.6 838.7L411.7 825.4L412.2 820L412.8 824.9L413.1 821.2L413.7 833.3L414 825.6L415 820.7L415.8 824.4L416.4 822.4L417.2 834.7L418.6 819.9L419.7 814.7L420.5 816.7L421.1 818.2L421.8 826.7L423.6 815.3L424.2 810.7L424.9 813.9L425.3 813L426.2 824L426.6 813.6L427.7 808L428.5 813.3L429.1 810L429.9 825.3L431.5 817.3L432.5 805.3L433.1 815.9L433.5 810.5L434.2 836L435.5 817.5L436.5 807.3L437.1 814.4L437.5 811.4L438.4 834.7L439.5 818.7L440.4 808.7L441.1 819.2L441.5 811.2L442.3 841.3L443.3 831.3L444.2 808.7L445.2 822.2L445.7 815.2L446.7 856.7L448.4 833.9L448.9 821.3L449.5 834L449.8 828.8L450.5 854.7L450.6 819.9L451.7 806.7L452.5 815.4L453.1 816.3L453.9 842.7L455.7 829.9L456.2 818L456.9 825.8L457.2 821.2L458 845.3L458.4 820.4L459.4 804L459.9 816.8L460.4 810L461.2 848L462.1 815.9L463.1 812L463.7 814.8L464.2 813.5L465 820L466.1 812.3L467.1 805.3L467.7 811.9L468.2 809.9L468.9 826.7L470.2 816L471 806L471.7 811.1L472.1 812.6L473 828L473.8 812.9L474.9 803.3L475.5 810.5L476 806.5L477 825.3L478.2 819.5L479.1 808L479.7 814.2L480.1 812.2L480.7 832L481.8 817.1L482.9 804.7L483.5 812.4L484 809L485 830.7L486.3 816.3L487 808L487.6 813.8L488 813.5L488.6 835.3L489.5 818.3L490.5 807.3L491.1 813.9L491.5 809.4L492.1 833.3L493.5 827.4L494.3 810L495.1 819.7L495.5 812.1L496.2 847.3L497.5 826.7L498.5 814.7L499.1 821.1L499.5 819.9L500.3 854.7L501.6 837.4L502.2 816.7L502.9 832.2L503.3 827.2L504.2 866.7L504.8 832.2L505.6 826.7L506.4 829.7L506.9 828.8L507.6 844L508.8 827.2L509.8 820.7L510.4 825.3L510.9 825.7L511.8 842L512.9 833L513.5 821.3L514.3 828.8L514.7 828L515.4 846.7L516.1 826.4L517 818L517.7 825.1L518.2 821.7L518.9 838L520.2 824.1L521 818L521.6 821L522.1 821.3L522.9 833.3L523.8 822.7L524.4 810.7L525.3 817.7L525.7 817.4L526.3 838.7L527.5 822.8L528.4 808.7L529.1 818.7L529.5 813.4L530.1 844L531.6 828.7L532.2 818.7L532.9 825.5L533.3 822.8L534.1 841.3L534.8 822.6L535.9 814L536.4 823L536.9 821.2L537.5 840.7L538.9 828.7L539.6 821.3L540.3 826.8L540.7 825.1L541.4 838L542.4 825L543.2 810.7L544 818.5L544.5 817.4L545.1 840L546.4 831.3L547.2 814.7L547.9 827.6L548.4 817.7L549 849.3L550.1 839.6L550.9 824L551.7 833.7L552.2 827.7L553.1 861.3L554.1 841.6L555.1 819.3L555.7 828.5L556.2 822.4L557 869.1L558.1 830.8L559.1 821.3L559.7 829.9L560.2 829.8L561.1 851.3L562.1 825.8L563.1 818L563.7 823L564.2 820.2L564.8 836L566.2 822.4L567.1 810.7L567.7 818.9L568.1 815.4L568.8 837.3L569.9 828.7L570.7 808.7L571.4 816.3L571.8 820.6L572.6 850L573.5 826.3L574.5 811.3L575.1 819.5L575.5 814.1L576.3 842.7L577.5 827.4L578.3 820L579 826.5L579.5 822.1L580.4 838.7L581.1 825.5L582 810L582.8 826.2L583.3 814.9L584.3 855.3L585.6 838.9L586.3 817.3L586.9 833.6L587.3 824.1L588.1 878L588.9 842L589.8 828L590.3 833.4L590.7 829.6L591.3 856.7L592.3 835L593 817.3L593.6 832.7L594 829L594.7 856.7L595.9 834.8L596.3 823.3L596.7 828.8L596.9 828.2L597.4 856L597.6 832.6L598.2 822.7L598.9 830.4L599.3 830.2L600.1 850L600.9 825.2L601.6 821.3L602.3 823.8L602.7 824.4L603.3 833.3L604.1 823.7L605.2 819.3L605.7 821.9L606.2 821.2L607.2 830.7L608.1 824.2L609 818.7L609.7 823.5L610.2 820.7L611.1 834L612.2 830.2L613.1 818.7L613.7 827.3L614.1 825.6L614.9 848.7L615.9 834.1L616.7 818L617.4 824.9L617.8 823.2L618.5 854.7L619.4 823.7L620.4 816.7L621.1 823.2L621.6 820.6L622.5 840L623.8 829.9L624.5 821.3L625.2 830.3L625.6 823L626.5 848.7L627.3 826.6L628.3 819.3L628.7 825.9L629.1 822.1L629.8 837.3L630.8 826.2L631.8 821.3L632.4 824.7L632.9 824.2L633.9 834L634.8 826.7L635.7 821.3L636.3 825.4L636.8 823.4L637.6 833.3L638.5 828.4L639.6 815.3L640.2 828.8L640.7 821.9L641.6 849.3L642.8 831.1L643.7 820L644.4 833.3L644.9 823.8L645.8 854.7L646.9 832.8L647.8 821.3L648.3 828.5L648.7 827.8L649.6 854L650.4 831.7L651.4 818.7L652 830.7L652.5 823.4L653.2 861.3L654.4 844.7L655.4 823.3L656 833.4L656.5 826.8L657.2 875.3L658.4 849.3L659.2 824L660 844.2L660.5 837.8L661.2 883.3L662.5 849.6L663.1 825.3L663.9 842.9L664.3 837.6L664.9 883.3L666 836.6L666.6 829.3L667.3 835.9L667.7 832.4L668.5 846L669.1 822.9L669.8 814.4L670.6 820.9L671.1 818.4L671.8 834L672.8 824.5L673.8 814.4L674.3 821.7L674.8 816.8L675.7 837.3L676.5 826.8L677.4 813.3L678.1 824L678.6 821.7L679.3 841.3L680.5 830.1L681.3 824L682.2 828.9L682.7 825.6L683.4 842L684.8 832.8L685.5 822.7L686.4 829.5L686.9 826.1L687.8 845.3L688.9 833.6L689.7 824L690.3 829.6L690.7 825.5L691.5 851.3L691.9 832.6L692.9 819.1L693.9 833L694.5 824.2L695.5 855.3L697.1 841.1L697.9 823.3L698.6 843.3L699.1 837.2L699.9 877.3L700.9 844.9L701.6 822.7L702.3 830.2L702.7 826.5L703.4 868.7L704.1 838.4L704.9 820.7L705.7 834.9L706.2 825.2L707 864L708.1 836.9L708.9 821.3L709.7 835.3L710.2 825.2L711.1 862L712.2 835.5L713 824L713.6 830.7L714.1 826.6L714.7 849.3L715.8 833L716.5 820.7L717.3 828.8L717.7 824.6L718.4 848.7L719.5 830.2L720.4 820.7L721 828.1L721.5 823.2L722.3 849.3L723.3 829.3L724 821.3L724.7 825.9L725.1 825.9L726 845.3L726.6 831.6L727.8 820L728.5 832.4L729.1 829.8L730 858L731.6 839L732.2 824L732.9 832.3L733.3 834.4L733.9 862.7L734.9 838.8L735.8 824.7L736.3 835.8L736.7 827.2L737.4 854L738.5 829.6L739.2 818.7L739.9 823.6L740.3 820L741 842L741.9 826.5L742.6 814.4L743.5 820.8L743.9 820.6L744.6 844L745.6 830.9L746.9 818.7L747.6 825.5L748.2 820.9L749.2 845.3L750.9 838.7L751.5 829.3L752.3 837.8L752.7 834.3L753.2 855.3L754.3 834.4L755.1 826L755.6 835.1L756 829.3L756.7 850L757.5 833.8L758.3 826.7L759.1 832.8L759.5 829.3L760.4 847.3L761.6 840.3L762.2 831.3L762.9 835.3L763.3 834.7L763.9 853.3L764.7 834.3L765.7 821.6L766.4 831.1L766.9 830L767.8 852.7L769.1 850.4L769.8 827.3L770.7 846L771.1 841.6L772 878L773 852.2L774 828L774.7 841.4L775.3 832.7L776.1 880L777.6 848.7L778.5 838.7L778.9 847.1L779.3 842.7L780.2 861.3L780.9 836.1L781.5 827.3L782.3 833.3L782.7 831.7L783.4 850.7L784.1 837.3L784.8 821.1L785.7 836.6L786.2 825.7L787.1 868L788.1 837.4L788.9 822L789.7 832.5L790.2 831.1L790.9 859.3L792.1 837.8L792.8 824.7L793.7 829.7L794.2 830L795.1 851.3L796.1 839.5L797.2 828L797.7 833.5L798.2 829.7L799 855.3L800.2 832.9L801 826L801.6 830.6L802.1 831.1L802.7 844.7L803.8 831.5L804.6 825.3L805.2 828.4L805.6 829.2L806.2 839.3L807.2 829.8L807.9 820.3L808.8 828.9L809.3 826.2L810 846.7L811.3 833.2L812.1 821.6L812.7 830L813.1 828.3L813.9 857.3L814.7 835.3L815.5 822.4L816.5 837.6L817 833.9L817.7 865.3L819.1 846.4L820 827.3L820.8 847.2L821.3 834.4L822.4 882.7L823.6 855.6L824.5 842.7L824.9 849.3L825.3 850.8L826.2 883.3L826.8 861.3L827.8 845.3L828.4 853.9L828.9 855.7L829.8 881.3L831.1 844.9L831.8 837.3L832.1 845.4L832.5 839.5L833 858.7L834 843.3L834.4 826L834.6 840.4L834.7 832L835 864L835.1 842.2L835.6 827.3L836.1 843.8L836.5 832.5L837.2 872L837.5 854.3L838.4 830.7L839.1 842.2L839.5 833.3L840.2 882L841.5 853.7L842.5 831.3L843 850.1L843.5 837.1L844.4 879.3L845.2 847.4L846 829.3L846.8 846.9L847.2 841.2L848.1 876L849.1 848L849.8 831.3L850.6 840.5L851.1 836.7L851.7 878L852.8 853.1L853.6 831.3L854.4 842.1L854.9 845.5L855.6 884L856.8 855.6L857.5 840L858.3 855L858.8 843L859.6 892L860.6 847.3L861.4 840L862 847.3L862.5 844.4L863.1 864L864 846L865.2 829.1L865.8 841.9L866.3 839.3L867.4 865.3L868.6 859.6L869.4 844.7L870 854.8L870.5 854.5L871.1 884.7L872.1 851.6L873 842.7L873.7 850.1L874.2 850.4L874.9 868.7L876.2 849.7L877 840.7L877.7 851.7L878.1 842.9L878.9 870.7L879.9 861.3L880.9 845.3L881.4 854.1L881.9 853L882.8 883.3L883.8 866.4L884.6 846L885.3 855.7L885.7 854.8L886.6 887.3L887.5 865.2L888.4 848.7L889 858L889.5 857.4L890.1 886.7L891.2 868.2L891.9 850.7L892.8 865.3L893.3 855.4L894 901.3L895.2 869.5L896 855.3L896.8 865.3L897.3 866.9L898.1 894.7L899.3 853.9L900 842.7L900.7 850.5L901.1 849.6L901.9 870L902.8 846.4L903.6 828.3L904.3 837.1L904.8 832.9L905.4 873.3L906.5 847L907.2 828.7L908.2 841.7L908.7 838.6L909.4 880L910.9 840.9L911.6 837.3L912.3 839.8L912.7 838.6L913.5 845.3L914.3 841.3L914.8 834L915.6 838.8L916 835.9L916.8 850.7L917.4 835.3L918.2 827.3L919.1 830.7L919.7 833.7L920.4 848.7L921.9 841L922.9 829.3L923.5 834.8L923.9 834.4L924.7 862.7L925.9 847L926.8 823.7L927.4 844.7L927.8 830.6L928.4 877.1L929.5 846.3L930.1 835.3L931.1 842.3L931.5 841.9L932.5 867.3L933.5 846.6L934.2 835.3L935 848.5L935.4 842.3L936.1 870.7L937.1 849.5L937.8 834.7L938.6 844.3L939.1 844.3L939.6 882L940.8 849.2L941.8 834L942.4 839.7L942.9 838.6L943.6 872L944.8 850.7L945.8 836.7L946.3 847.3L946.8 842L947.5 870L948.6 845.3L949.4 834.9L950 844.3L950.5 839.4L951.2 859.3L952.1 851.1L953 833.1L953.7 844.4L954.2 842L955 874.7L956.1 858L956.9 833.3L957.7 846.8L958.2 847.8L959.1 882.7L960.1 856.9L960.9 838L961.7 847L962.2 845.1L963 884L964.2 857.3L964.9 841.3L965.7 852.5L966.1 849.3L966.7 882.7L967.9 852L968.8 840.3L969.5 845.6L969.9 843.3L970.5 867.3L971.9 848L972.8 834.9L973.4 843.3L973.8 841.5L974.6 868L975.5 846.5L976.2 835.3L977.1 845.3L977.5 845.5L978.4 871.3L979.5 847.8L980.2 835.7L981.1 841.4L981.5 842.3L982.4 866.7L983.5 850.9L984.2 839.3L985 846.1L985.5 846.3" fill="none" stroke="#b2182b" stroke-width="2.2" stroke-linejoin="round" stroke-linecap="butt"/><path d="M1199 854.2L1199.8 853.1L1200.5 854.1L1201.3 853.3L1202.1 853.5L1202.9 853.9L1203.6 852.9L1204.4 852.9L1205.2 853L1205.9 852.4L1206.7 850.8L1207.5 848.7L1208.3 846.1L1209 844.1L1209.8 842.5L1210.6 841.7L1211.3 842.4L1212.1 842.8L1212.9 842.5L1213.7 843.6L1214.4 843.9L1215.2 842.5L1216 842.2L1216.7 841.3L1217.5 840.2L1218.3 839.3L1219.1 839.3L1219.8 839.8L1220.6 839.5L1221.4 839.6L1222.1 839.4L1222.9 839L1223.7 838.8L1224.5 838.5L1225.2 838.6L1226 838.9L1226.8 839.7L1227.5 840.9L1228.3 841.7L1229.1 842.2L1229.9 843L1230.6 842.6L1231.4 842L1232.2 842.3L1232.9 842L1233.7 842L1234.5 842.7L1235.2 843L1236 843.1L1236.8 843.2L1237.6 843.8L1238.3 843.8L1239.1 844.6L1239.9 844.9L1240.6 845.4L1241.4 845.1L1242.2 844.7L1243 843.5L1243.7 842.7L1244.5 842.5L1245.3 842L1246 841L1246.8 840.6L1247.6 840.1L1248.4 839L1249.1 839L1249.9 838.2L1250.7 837.8L1251.4 837.6L1252.2 837L1253 837.2L1253.8 838.2L1254.5 838.8L1255.3 839.6L1256.1 840.2L1256.8 839.1L1257.6 838.7L1258.4 837.8L1259.2 837.7L1259.9 837L1260.7 837.2L1261.5 837.9L1262.2 837.6L1263 838.8L1263.8 838.5L1264.6 839.4L1265.3 840.3L1266.1 841.2L1266.9 842.4L1267.6 843.7L1268.4 844.7L1269.2 845.7L1270 845.9L1270.7 846.7L1271.5 846.9L1272.3 847.4L1273 846.6L1273.8 846L1274.6 845.8L1275.4 845.3L1276.1 844.5L1276.9 843.4L1277.7 843.2L1278.4 842.8L1279.2 844.6L1280 845.1L1280.8 847.3L1281.5 847.1L1282.3 847.1L1283.1 846.1L1283.8 845.8L1284.6 845.7L1285.4 845.5L1286.2 844.3L1286.9 844.4L1287.7 845.9L1288.5 847.9L1289.2 849.2L1290 848.3L1290.8 848.1L1291.6 847.5L1292.3 846.8L1293.1 846.1L1293.9 845.7L1294.6 845.6L1295.4 845.6L1296.2 844.8L1297 845L1297.7 844.9L1298.5 844.2L1299.3 844.6L1300 844.8L1300.8 844.2L1301.6 843.2L1302.4 842.3L1303.1 841.1L1303.9 839.8L1304.7 839.4L1305.4 839.8L1306.2 839L1307 839.8L1307.7 839.1L1308.5 839.4L1309.3 839L1310.1 838.1L1310.8 838.3L1311.6 837.5L1312.4 836.7L1313.1 836L1313.9 835.7L1314.7 834.6L1315.5 835L1316.2 836.3L1317 837.7L1317.8 838.3L1318.5 839.2L1319.3 839.9L1320.1 840L1320.9 839.2L1321.6 838.6L1322.4 839.1L1323.2 838.5L1323.9 837.7L1324.7 837.7L1325.5 837.4L1326.3 836.9L1327 836.6L1327.8 836.5L1328.6 836.6L1329.3 836.6L1330.1 836.7L1330.9 836.5L1331.7 836.2L1332.4 835.1L1333.2 834.9L1334 834.5L1334.7 833.8L1335.5 833.5L1336.3 833.2L1337.1 833.1L1337.8 832.6L1338.6 832.8L1339.4 833.4L1340.1 832.8L1340.9 833.5L1341.7 833.5L1342.5 833.6L1343.2 834.5L1344 834.9L1344.8 834.5L1345.5 835.6L1346.3 835.4L1347.1 835.7L1347.9 836.2L1348.6 836.9L1349.4 836.7L1350.2 837.1L1350.9 836.8L1351.7 836.3L1352.5 836.5L1353.3 836.9L1354 836.3L1354.8 835.5L1355.6 836L1356.3 835.1L1357.1 835L1357.9 834.9L1358.7 834.1L1359.4 834.6L1360.2 834.5L1361 835.3L1361.7 835.7L1362.5 835L1363.3 835.5L1364.1 834.9L1364.8 835.1L1365.6 834.4L1366.4 834.1L1367.1 834L1367.9 833.6L1368.7 834.2L1369.5 835.5L1370.2 835.6L1371 837.2L1371.8 837.2L1372.5 837.7L1373.3 838.8L1374.1 839.3L1374.9 839.6L1375.6 840.5L1376.4 840.8L1377.2 840.3L1377.9 839.7L1378.7 838.2L1379.5 837.2L1380.2 836.3L1381 835.9L1381.8 836.2L1382.6 835.5L1383.3 834.8L1384.1 834.2L1384.9 833.7L1385.6 832.1L1386.4 831.2L1387.2 830.6L1388 829.3L1388.7 828.4L1389.5 827.5L1390.3 826.5L1391 826.9L1391.8 828.5L1392.6 829.8L1393.4 832L1394.1 833.3L1394.9 835.2L1395.7 834L1396.4 832.4L1397.2 831.1L1398 829.9L1398.8 829.7L1399.5 830.1L1400.3 830.9L1401.1 830.8L1401.8 832.4L1402.6 832.4L1403.4 833.4L1404.2 832.7L1404.9 833.4L1405.7 833.6L1406.5 832.9L1407.2 833L1408 833.3L1408.8 833.8L1409.6 835.3L1410.3 835.2L1411.1 836.1L1411.9 835.9L1412.6 835.9L1413.4 836.1L1414.2 836L1415 835.6L1415.7 835.6L1416.5 836.4L1417.3 836.4L1418 836.7L1418.8 836.6L1419.6 836.9L1420.4 835.5L1421.1 833.9L1421.9 832.9L1422.7 831.1L1423.4 829.7L1424.2 828.3L1425 826.5L1425.8 824.7L1426.5 823.2L1427.3 822.3L1428.1 823.8L1428.8 824.4L1429.6 825.4L1430.4 826.2L1431.2 826L1431.9 825.7L1432.7 825.7L1433.5 824.7L1434.2 824.2L1435 823.8L1435.8 823.6L1436.6 823.2L1437.3 823.2L1438.1 822.7L1438.9 822.5L1439.6 821.6L1440.4 821.5L1441.2 821.5L1442 821.6L1442.7 821.7L1443.5 820.9L1444.3 821.6L1445 821L1445.8 821.4L1446.6 821.4L1447.3 821.6L1448.1 821.4L1448.9 821.2L1449.7 821.2L1450.4 821.8L1451.2 822.1L1452 822.3L1452.7 822.7L1453.5 822.8L1454.3 823.7L1455.1 824L1455.8 824.6L1456.6 824.9L1457.4 825.7L1458.1 825.8L1458.9 826.6L1459.7 827.1L1460.5 825.3L1461.2 823.7L1462 822.5L1462.8 820.8L1463.5 822.4L1464.3 824.4L1465.1 825.9L1465.9 828.2L1466.6 829.4L1467.4 829.8L1468.2 829.8L1468.9 829.9L1469.7 830.2L1470.5 830L1471.3 829.4L1472 829.5L1472.8 829L1473.6 828.4L1474.3 827.9L1475.1 828.1L1475.9 827.6L1476.7 826.5L1477.4 826.1L1478.2 825.7L1479 824.9L1479.7 824.8L1480.5 824.3L1481.3 824.5L1482.1 824.7L1482.8 824.9L1483.6 826.2L1484.4 826.9L1485.1 827.6L1485.9 828.6L1486.7 829.2L1487.5 829.3L1488.2 828.8L1489 828.5L1489.8 827.5L1490.5 827L1491.3 826.9L1492.1 826.3L1492.9 825.4L1493.6 825.4L1494.4 825.7L1495.2 825.9L1495.9 825.5L1496.7 825.4L1497.5 825.5L1498.3 826.6L1499 827.4L1499.8 828L1500.6 829.4L1501.3 830L1502.1 831.5L1502.9 832.1L1503.7 832.5L1504.4 833L1505.2 834.1L1506 835L1506.7 835.9L1507.5 835.3L1508.3 834.7L1509.1 834.5L1509.8 833.7L1510.6 833.3L1511.4 832.8L1512.1 833.2L1512.9 833.7L1513.7 834L1514.5 834.7L1515.2 834.7L1516 833.1L1516.8 832.1L1517.5 830.8L1518.3 829.1L1519.1 828.1L1519.8 826.6L1520.6 826.5L1521.4 828.2L1522.2 830.4L1522.9 830.3L1523.7 829.8L1524.5 829L1525.2 829L1526 829.8L1526.8 830.8L1527.6 831.4L1528.3 832.3L1528.3 835.1L1527.6 834.9L1526.8 834.6L1526 834.6L1525.2 833.9L1524.5 834.5L1523.7 835.5L1522.9 836.9L1522.2 837.4L1521.4 834.7L1520.6 832.2L1519.8 831.9L1519.1 833.4L1518.3 834L1517.5 835.4L1516.8 836.3L1516 837.3L1515.2 838.6L1514.5 838.6L1513.7 838.3L1512.9 837.5L1512.1 837.4L1511.4 837.4L1510.6 837.6L1509.8 838.1L1509.1 839L1508.3 839.2L1507.5 840.5L1506.7 840.5L1506 839.4L1505.2 838.9L1504.4 838.7L1503.7 838.2L1502.9 837.1L1502.1 836.2L1501.3 835.3L1500.6 834.2L1499.8 832.9L1499 832.2L1498.3 831.1L1497.5 830.3L1496.7 830L1495.9 829.7L1495.2 829.9L1494.4 829.6L1493.6 829.8L1492.9 829.5L1492.1 830.2L1491.3 830.6L1490.5 831.3L1489.8 831.7L1489 832L1488.2 832.3L1487.5 832.6L1486.7 832.8L1485.9 831.9L1485.1 831.3L1484.4 830.7L1483.6 830.6L1482.8 829.8L1482.1 829.5L1481.3 829.5L1480.5 829.8L1479.7 829.3L1479 830.3L1478.2 830.5L1477.4 830.6L1476.7 830.9L1475.9 831.8L1475.1 831.6L1474.3 832.7L1473.6 833.2L1472.8 833.8L1472 834.4L1471.3 834.4L1470.5 835L1469.7 836L1468.9 835.8L1468.2 835.3L1467.4 834.4L1466.6 833.9L1465.9 832.8L1465.1 831.5L1464.3 830.7L1463.5 828.8L1462.8 827.4L1462 828.4L1461.2 828.8L1460.5 830L1459.7 830.5L1458.9 829.9L1458.1 829.6L1457.4 829.7L1456.6 829L1455.8 828.8L1455.1 828.3L1454.3 827.8L1453.5 826.9L1452.7 826.8L1452 826.1L1451.2 826.5L1450.4 826.9L1449.7 827L1448.9 826.6L1448.1 827.3L1447.3 826.9L1446.6 827.4L1445.8 827.6L1445 826.8L1444.3 827.1L1443.5 827L1442.7 827.4L1442 827.5L1441.2 827.1L1440.4 826.3L1439.6 826.9L1438.9 826.7L1438.1 827.8L1437.3 827.9L1436.6 828.2L1435.8 828.5L1435 829.7L1434.2 830.2L1433.5 830.4L1432.7 831.2L1431.9 831.3L1431.2 832L1430.4 831.2L1429.6 830.3L1428.8 829.7L1428.1 828.4L1427.3 827.1L1426.5 827.3L1425.8 828.6L1425 829.6L1424.2 831.1L1423.4 832L1422.7 833.8L1421.9 835.5L1421.1 837.8L1420.4 839.8L1419.6 841.5L1418.8 841.3L1418 841.7L1417.3 841.3L1416.5 841.6L1415.7 841.4L1415 840.9L1414.2 841.2L1413.4 841.9L1412.6 841.7L1411.9 842L1411.1 841.9L1410.3 841.5L1409.6 841.1L1408.8 841.4L1408 840.7L1407.2 839.8L1406.5 840.1L1405.7 840L1404.9 840.1L1404.2 840.1L1403.4 839.4L1402.6 839.3L1401.8 838.6L1401.1 837.6L1400.3 836.9L1399.5 835.9L1398.8 835.5L1398 835.5L1397.2 837.3L1396.4 838L1395.7 839.5L1394.9 840.4L1394.1 838.6L1393.4 836.4L1392.6 834.6L1391.8 833.3L1391 831.1L1390.3 830.8L1389.5 832L1388.7 832.9L1388 834.5L1387.2 835.2L1386.4 836.8L1385.6 838.2L1384.9 840L1384.1 840.4L1383.3 841.3L1382.6 841.7L1381.8 843L1381 843.5L1380.2 843.9L1379.5 844.9L1378.7 845L1377.9 845.6L1377.2 846.7L1376.4 847.1L1375.6 846.6L1374.9 846.1L1374.1 846L1373.3 845.7L1372.5 845.1L1371.8 844.3L1371 843.4L1370.2 842L1369.5 840.4L1368.7 839.5L1367.9 838.9L1367.1 838.9L1366.4 839.8L1365.6 839.7L1364.8 840.8L1364.1 841.1L1363.3 841.3L1362.5 841.4L1361.7 841.4L1361 841.1L1360.2 840.9L1359.4 840.6L1358.7 840L1357.9 840.6L1357.1 841L1356.3 840.6L1355.6 840.8L1354.8 841.5L1354 842.1L1353.3 842.5L1352.5 841.9L1351.7 843L1350.9 842.6L1350.2 843.5L1349.4 843.5L1348.6 842.7L1347.9 842.8L1347.1 841.7L1346.3 841.1L1345.5 840.6L1344.8 840.7L1344 839.8L1343.2 840.2L1342.5 839.3L1341.7 838.9L1340.9 838.8L1340.1 838.2L1339.4 838.7L1338.6 838.3L1337.8 838.5L1337.1 838L1336.3 838.1L1335.5 838.2L1334.7 839L1334 839.6L1333.2 840.2L1332.4 840.4L1331.7 840.7L1330.9 841.1L1330.1 841.8L1329.3 841.7L1328.6 841.6L1327.8 841.9L1327 842.6L1326.3 842.9L1325.5 844.6L1324.7 845.1L1323.9 845.5L1323.2 846.7L1322.4 847.4L1321.6 847.1L1320.9 847.5L1320.1 847.6L1319.3 847.4L1318.5 847.3L1317.8 845.9L1317 844.4L1316.2 843.1L1315.5 841.1L1314.7 840.6L1313.9 841.2L1313.1 842.4L1312.4 843.3L1311.6 843.3L1310.8 844.3L1310.1 844.4L1309.3 845L1308.5 845L1307.7 845.1L1307 845.3L1306.2 845.3L1305.4 845.1L1304.7 845.4L1303.9 845.6L1303.1 846.7L1302.4 847.9L1301.6 848.9L1300.8 849.5L1300 849.6L1299.3 849.7L1298.5 849.7L1297.7 849.3L1297 849.5L1296.2 849.5L1295.4 850.2L1294.6 850.8L1293.9 851L1293.1 852L1292.3 852.5L1291.6 852.9L1290.8 853.6L1290 853.4L1289.2 854.4L1288.5 853.8L1287.7 851.9L1286.9 850.5L1286.2 851L1285.4 850.7L1284.6 851.6L1283.8 852.4L1283.1 852.5L1282.3 852.7L1281.5 853.7L1280.8 853.5L1280 851.9L1279.2 850.9L1278.4 849.2L1277.7 849.7L1276.9 850.6L1276.1 851.8L1275.4 853L1274.6 853L1273.8 853L1273 852.6L1272.3 852.8L1271.5 852.2L1270.7 851.8L1270 852L1269.2 851.2L1268.4 850.5L1267.6 849.9L1266.9 849.2L1266.1 848.4L1265.3 847.9L1264.6 846.9L1263.8 845.5L1263 845.5L1262.2 844.7L1261.5 844.1L1260.7 843.4L1259.9 842.5L1259.2 843L1258.4 844.4L1257.6 845.3L1256.8 846.5L1256.1 848.7L1255.3 847.2L1254.5 845.9L1253.8 844L1253 843L1252.2 842.1L1251.4 842.7L1250.7 843.2L1249.9 844.7L1249.1 845.1L1248.4 846.2L1247.6 846.2L1246.8 846.3L1246 846.9L1245.3 847L1244.5 847.3L1243.7 848.7L1243 849.5L1242.2 850.3L1241.4 851.4L1240.6 851.8L1239.9 851.8L1239.1 851L1238.3 851L1237.6 850.5L1236.8 850.6L1236 850.8L1235.2 850.6L1234.5 851.4L1233.7 850.7L1232.9 850.8L1232.2 851.3L1231.4 851.8L1230.6 851.3L1229.9 851.4L1229.1 850.4L1228.3 849.4L1227.5 847.4L1226.8 845L1226 843.8L1225.2 842.5L1224.5 842.5L1223.7 842.6L1222.9 842.7L1222.1 842.8L1221.4 843L1220.6 843.2L1219.8 843.4L1219.1 844.4L1218.3 844.7L1217.5 845.5L1216.7 847L1216 848.1L1215.2 849L1214.4 849.9L1213.7 849.5L1212.9 849.6L1212.1 849L1211.3 848L1210.6 848L1209.8 848.6L1209 850.7L1208.3 852.7L1207.5 855.9L1206.7 857.9L1205.9 860.6L1205.2 861.5L1204.4 863.3L1203.6 866.3L1202.9 867.2L1202.1 867.7L1201.3 867.2L1200.5 866.8L1199.8 867.4L1199 867.1Z" fill="#b2182b" stroke="#b2182b" stroke-width="0.6" stroke-linejoin="round"/><path d="M393.7 828.4L394.4 828.9L395.2 828.9L396 828.8L396.7 828.1L397.5 828.1L398.3 827.7L399.1 827L399.8 826.2L400.6 826.3L401.4 825.7L402.1 825.1L402.9 825.2L403.7 825.1L404.4 825.4L405.2 825.3L406 824.5L406.8 823.7L407.5 822.5L408.3 821.1L409.1 820.5L409.8 820.5L410.6 821.2L411.4 822.1L412.1 822.6L412.9 823.5L413.7 823.7L414.5 823.8L415.2 823.3L416 822.6L416.8 821.3L417.5 820.4L418.3 819.5L419.1 818.1L419.9 817.4L420.6 816.5L421.4 815.9L422.2 815.4L422.9 814.9L423.7 814.1L424.5 813.5L425.2 813L426 812.5L426.8 812.7L427.6 811.9L428.3 812L429.1 811.7L429.9 811.8L430.6 811.8L431.4 811.9L432.2 812.6L432.9 812.8L433.7 812.4L434.5 813.2L435.3 813L436 813.1L436.8 813.8L437.6 814.1L438.3 815.3L439.1 815.5L439.9 815.8L440.6 817L441.4 817.4L442.2 817L443 819L443.7 819.6L444.5 819.5L445.3 820.9L446 823.7L446.8 824.3L447.6 826.6L448.3 828.2L449.1 828.4L449.9 824.4L450.7 819.8L451.4 816.8L452.2 816.4L453 817.8L453.7 819L454.5 821L455.3 822.7L456 823.9L456.8 822.2L457.6 819.5L458.4 817.5L459.1 813.9L459.9 814.1L460.7 813.4L461.4 814L462.2 813.7L463 813.7L463.7 813.1L464.5 812.3L465.3 811.9L466.1 811.4L466.8 810.2L467.6 810L468.4 810.9L469.1 810.3L469.9 810.5L470.7 811L471.4 810.4L472.2 810.3L473 809.4L473.8 809.3L474.5 808.6L475.3 809.2L476.1 810.2L476.8 810.8L477.6 812L478.4 812.9L479.1 813.3L479.9 813.2L480.7 812.6L481.5 812.1L482.2 811.2L483 810.4L483.8 811.3L484.5 812.6L485.3 813.1L486.1 813.8L486.8 813.6L487.6 813.8L488.4 813.8L489.2 813.6L489.9 813.2L490.7 813.7L491.5 815.3L492.2 815.7L493 816.3L493.8 817.4L494.5 819.2L495.3 819.1L496.1 821.3L496.9 821.2L497.6 823.3L498.4 823.4L499.2 824.5L499.9 824.8L500.7 826.3L501.5 826.3L502.3 827.2L503 828.3L503.8 829.4L504.6 829.9L505.3 830.5L506.1 829.8L506.9 828.9L507.6 828.4L508.4 826.9L509.2 825.9L510 826.1L510.7 825.7L511.5 826.3L512.3 826.5L513 827.1L513.8 827.4L514.6 826.3L515.3 825.2L516.1 824L516.9 822.4L517.7 822.3L518.4 822.5L519.2 822L520 821.7L520.7 821.2L521.5 821L522.3 819.9L523 818.7L523.8 818.6L524.6 817L525.4 817L526.1 816.8L526.9 817.4L527.7 816.7L528.4 817.6L529.2 818.3L530 819.6L530.7 820.6L531.5 822.4L532.3 823.3L533.1 822.9L533.8 821.9L534.6 821.5L535.4 820.4L536.1 821.1L536.9 822L537.7 822.9L538.4 823.6L539.2 824.2L540 824.3L540.8 823L541.5 820.7L542.3 820L543.1 817.7L543.8 818.7L544.6 819.6L545.4 819.8L546.1 821.4L546.9 822.2L547.7 824.4L548.5 825.3L549.2 828.3L550 830.5L550.8 832L551.5 832.4L552.3 832.5L553.1 831.2L553.8 830.6L554.6 830.5L555.4 830.6L556.2 830.6L556.9 829.7L557.7 828.9L558.5 829.2L559.2 828L560 826.2L560.8 825.6L561.5 824L562.3 822.8L563.1 822L563.9 821.2L564.6 820L565.4 818.7L566.2 817.5L566.9 816.7L567.7 816.7L568.5 816.9L569.2 818.3L570 817.5L570.8 818L571.6 818.6L572.3 818.1L573.1 819L573.9 818.7L574.6 819.6L575.4 819.9L576.2 820.7L577 821.9L577.7 823.7L578.5 823.9L579.3 823.4L580 822.1L580.8 821.6L581.6 820.4L582.3 821L583.1 822.6L583.9 824.8L584.7 826.1L585.4 828.5L586.2 830.6L587 831.4L587.7 831.8L588.5 833.4L589.3 834.2L590 833.4L590.8 831.6L591.6 830L592.4 827.2L593.1 826.9L593.9 828.2L594.7 828.5L595.4 829.5L596.2 830.1L597 830.5L597.7 829L598.5 828.8L599.3 827.9L600.1 826.2L600.8 825.5L601.6 824.3L602.4 823.8L603.1 823.1L603.9 822.7L604.7 822L605.4 822L606.2 822.2L607 822L607.8 822.1L608.5 822.4L609.3 822.1L610.1 822.7L610.8 823.5L611.6 824.3L612.4 825.2L613.1 826L613.9 825.4L614.7 826L615.5 826.8L616.2 826.9L617 826.4L617.8 825.7L618.5 824.2L619.3 822.9L620.1 822.4L620.8 822.4L621.6 823.5L622.4 824.3L623.2 825.3L623.9 826.4L624.7 827.9L625.5 826.7L626.2 826.1L627 824.3L627.8 823.5L628.5 823.9L629.3 823.9L630.1 823.9L630.9 823.8L631.6 824.3L632.4 824.3L633.2 824.2L633.9 824.2L634.7 824.1L635.5 823.8L636.2 823.7L637 823.9L637.8 823.7L638.6 823L639.3 822.9L640.1 823.5L640.9 824.4L641.6 826L642.4 827.2L643.2 827.2L643.9 828.1L644.7 828.2L645.5 828.3L646.3 827.8L647 828.6L647.8 828.7L648.6 829.3L649.3 828L650.1 828.5L650.9 828.1L651.7 828.9L652.4 830.5L653.2 831.1L654 833.5L654.7 834.3L655.5 835.6L656.3 835.5L657 836.4L657.8 836.7L658.6 836.7L659.4 837.3L660.1 837.3L660.9 838.3L661.7 838.2L662.4 838.4L663.2 838.2L664 837.4L664.7 836.9L665.5 835.3L666.3 834.1L667.1 832L667.8 828.4L668.6 825.2L669.4 821.1L670.1 818.7L670.9 819.5L671.7 819.1L672.4 819.2L673.2 820L674 819.5L674.8 820.2L675.5 820.1L676.3 820.2L677.1 819.6L677.8 820.7L678.6 822.7L679.4 823.7L680.1 825.7L680.9 827.2L681.7 827.9L682.5 827.7L683.2 828.3L684 828L684.8 827.6L685.5 827.6L686.3 827.9L687.1 828.3L687.8 828.8L688.6 829.4L689.4 829.9L690.2 830.1L690.9 829.6L691.7 828L692.5 828.2L693.2 827.6L694 829L694.8 830L695.5 832L696.3 832.7L697.1 833.4L697.9 835.6L698.6 834.6L699.4 835.3L700.2 834.5L700.9 832.9L701.7 832.4L702.5 832.1L703.2 831.9L704 830.6L704.8 830.1L705.6 830L706.3 830.2L707.1 831.1L707.9 830.6L708.6 830.3L709.4 830.6L710.2 830.9L710.9 830.5L711.7 829.8L712.5 829.6L713.3 829.9L714 829.3L714.8 827.9L715.6 827.6L716.3 827.7L717.1 827.4L717.9 827L718.6 827.5L719.4 827.8L720.2 827.5L721 826.9L721.7 827.5L722.5 827.4L723.3 826.6L724 826.8L724.8 826.8L725.6 828L726.3 828L727.1 827.7L727.9 829L728.7 828.9L729.4 830.9L730.2 831.2L731 831.2L731.7 832.2L732.5 832.6L733.3 833.1L734.1 831.9L734.8 831.3L735.6 831.6L736.4 829.8L737.1 827.8L737.9 826.3L738.7 824.9L739.4 824.1L740.2 823.6L741 822.5L741.8 821.9L742.5 820.7L743.3 821.7L744.1 822.3L744.8 822.6L745.6 823.5L746.4 824.1L747.1 825.2L747.9 826.9L748.7 829.1L749.5 830.7L750.2 831.9L751 833.9L751.8 834.9L752.5 834.3L753.3 833.8L754.1 833L754.8 831.9L755.6 831.1L756.4 831.1L757.2 831.1L757.9 831.6L758.7 832L759.5 833.2L760.2 833.7L761 834.9L761.8 835.9L762.5 835.9L763.3 834.2L764.1 832.7L764.9 830.9L765.6 828.4L766.4 830.9L767.2 832.9L767.9 834L768.7 835.7L769.5 837.4L770.2 839L771 839.1L771.8 839.8L772.6 840.2L773.3 839.5L774.1 840.3L774.9 840.9L775.6 841.5L776.4 841.7L777.2 843L777.9 843.7L778.7 842.1L779.5 840.4L780.3 837.6L781 834.8L781.8 833.1L782.6 832.3L783.3 832.1L784.1 832.6L784.9 831.1L785.6 830.9L786.4 831.8L787.2 830.5L788 831.4L788.7 829.9L789.5 830.4L790.3 830.4L791 830.8L791.8 830.6L792.6 830.7L793.3 830.8L794.1 831.9L794.9 832.2L795.7 833.2L796.4 833.3L797.2 834.4L798 833.6L798.7 832.3L799.5 832.1L800.3 831L801 829.9L801.8 829.6L802.6 829.2L803.4 829.4L804.1 828.9L804.9 828.6L805.7 827.5L806.4 826.9L807.2 826.6L808 826.4L808.8 827L809.5 828L810.3 828.2L811.1 828.8L811.8 829.9L812.6 829.8L813.4 830.8L814.1 830.8L814.9 831.9L815.7 831.6L816.5 834.2L817.2 835.2L818 835.5L818.8 837.9L819.5 838.1L820.3 839.8L821.1 842.4L821.8 844.3L822.6 846.5L823.4 848.7L824.2 852.1L824.9 852.1L825.7 852.7L826.5 853.2L827.2 853.5L828 853.1L828.8 850.5L829.5 848.6L830.3 845.9L831.1 843.7L831.9 842.1L832.6 839.1L833.4 837.9L834.2 835.2L834.9 836.3L835.7 837.2L836.5 838.5L837.2 840.2L838 842.3L838.8 841.9L839.6 841.7L840.3 842.3L841.1 842.2L841.9 841.7L842.6 842.1L843.4 841.5L844.2 841.4L844.9 840.6L845.7 839.7L846.5 839.9L847.3 841.2L848 840.3L848.8 841.7L849.6 842.3L850.3 842.3L851.1 842.8L851.9 842.2L852.6 842.2L853.4 843.3L854.2 844.3L855 845.8L855.7 847.5L856.5 849.4L857.3 851.1L858 851.1L858.8 850.3L859.6 848.8L860.3 847.1L861.1 845.8L861.9 844.4L862.7 842.2L863.4 841.4L864.2 839.1L865 838.1L865.7 839.8L866.5 843.6L867.3 846.2L868 849L868.8 851.8L869.6 853.5L870.4 852.6L871.1 851.6L871.9 849.7L872.7 849.1L873.4 848.1L874.2 848.5L875 848.2L875.7 848.5L876.5 847.3L877.3 848.2L878.1 849.5L878.8 850.9L879.6 852.3L880.4 854.1L881.1 854.3L881.9 854.6L882.7 855.2L883.5 854.8L884.2 855.2L885 855.7L885.8 855.9L886.5 856.2L887.3 856.5L888.1 857.2L888.8 857.7L889.6 859.7L890.4 859.7L891.2 860.4L891.9 861.4L892.7 862.1L893.5 862.3L894.2 862.6L895 863.1L895.8 864.4L896.5 863.1L897.3 859.5L898.1 855.9L898.9 853.2L899.6 851.1L900.4 847.4L901.2 845.3L901.9 844L902.7 841.7L903.5 838.9L904.2 838L905 839L905.8 839.4L906.6 840L907.3 839.5L908.1 839.8L908.9 840.6L909.6 839.9L910.4 839.3L911.2 839.4L911.9 839.1L912.7 838.7L913.5 838.5L914.3 838.4L915 837.9L915.8 836.8L916.6 834.8L917.3 834.2L918.1 832.5L918.9 833L919.6 833.3L920.4 834.5L921.2 835.2L922 836.1L922.7 836.7L923.5 837.1L924.3 836.7L925 837L925.8 835.6L926.6 835.4L927.3 836.6L928.1 838.9L928.9 840.3L929.7 841L930.4 843.1L931.2 842.5L932 843.4L932.7 843.6L933.5 843.2L934.3 843L935 843.2L935.8 843.9L936.6 845.2L937.4 845.1L938.1 844.5L938.9 844.7L939.7 844.7L940.4 844.2L941.2 843.2L942 842.1L942.7 843.4L943.5 842.7L944.3 843.5L945.1 844.1L945.8 844.4L946.6 843.4L947.4 842.5L948.1 841.6L948.9 840.9L949.7 840.2L950.4 840.6L951.2 841.7L952 842.4L952.8 842.2L953.5 843.2L954.3 842.5L955.1 843.6L955.8 844.4L956.6 844.7L957.4 845.1L958.1 845.3L958.9 846.2L959.7 846.8L960.5 847.9L961.2 848.8L962 848.8L962.8 849.4L963.5 849.9L964.3 850.1L965.1 851L965.9 849.3L966.6 848.9L967.4 847.9L968.2 847.4L968.9 846.3L969.7 844.9L970.5 844.4L971.2 843.7L972 843.5L972.8 842.2L973.6 842L974.3 842.8L975.1 843.2L975.9 843.2L976.6 843L977.4 843.1L978.2 843.7L978.9 842.8L979.7 842.6L980.5 843.2L981.3 843.5L982 844.5L982.8 845.3L983.6 845.3L984.3 846.2L984.3 854.4L983.6 853.3L982.8 852.5L982 852.5L981.3 851.2L980.5 851.4L979.7 851.3L978.9 852.3L978.2 852.7L977.4 853L976.6 852.8L975.9 853.4L975.1 852.9L974.3 852.3L973.6 851.2L972.8 851.4L972 851.4L971.2 852L970.5 852.1L969.7 853.5L968.9 853.6L968.2 855L967.4 856L966.6 857.6L965.9 859.6L965.1 862L964.3 861.7L963.5 861.8L962.8 860.9L962 860.2L961.2 860.4L960.5 859.6L959.7 859.1L958.9 858.7L958.1 858.9L957.4 857.7L956.6 856.6L955.8 856.3L955.1 855.4L954.3 855L953.5 853.6L952.8 853.6L952 851.3L951.2 850.9L950.4 849.2L949.7 847.2L948.9 847.7L948.1 849.2L947.4 850.1L946.6 850.9L945.8 852.5L945.1 853.5L944.3 852.4L943.5 852.7L942.7 853.3L942 852.4L941.2 853.8L940.4 854.3L939.7 855.1L938.9 857.4L938.1 857.4L937.4 856.7L936.6 856.4L935.8 855.6L935 854.3L934.3 853.2L933.5 853L932.7 851.6L932 851.1L931.2 851.7L930.4 851.6L929.7 851.6L928.9 850.5L928.1 850L927.3 850.3L926.6 850.4L925.8 849.3L925 848.6L924.3 846.6L923.5 847.2L922.7 845.4L922 844.5L921.2 843.4L920.4 842.1L919.6 840L918.9 839L918.1 838L917.3 839L916.6 840L915.8 841.3L915 842.3L914.3 842.3L913.5 842L912.7 841.7L911.9 841.4L911.2 842.8L910.4 844.9L909.6 847.7L908.9 849.4L908.1 851.6L907.3 854.4L906.6 853.1L905.8 852.2L905 851L904.2 850.8L903.5 850.5L902.7 851.5L901.9 852.7L901.2 853.8L900.4 855.4L899.6 858.4L898.9 861.2L898.1 865.9L897.3 868.5L896.5 873L895.8 875.2L895 874.5L894.2 875.6L893.5 875.4L892.7 875.3L891.9 875.3L891.2 873.2L890.4 872L889.6 870.7L888.8 868L888.1 868L887.3 867.8L886.5 866.7L885.8 866.1L885 865.9L884.2 866.1L883.5 864.9L882.7 865.7L881.9 865.5L881.1 863.8L880.4 863.6L879.6 861.2L878.8 859.1L878.1 858L877.3 856L876.5 855.3L875.7 855L875 855.1L874.2 855.9L873.4 855.7L872.7 856.8L871.9 858L871.1 859.4L870.4 862.4L869.6 864L868.8 861.5L868 859.6L867.3 855.4L866.5 852.4L865.7 850.4L865 847.1L864.2 848L863.4 848.5L862.7 850.2L861.9 850.7L861.1 852.4L860.3 855.3L859.6 858.8L858.8 860.9L858 864.4L857.3 864.2L856.5 863.5L855.7 860.9L855 859.9L854.2 858.2L853.4 856.9L852.6 857L851.9 855.5L851.1 855.4L850.3 854.8L849.6 854L848.8 853.7L848 853.6L847.3 853.3L846.5 853.1L845.7 853.1L844.9 853.8L844.2 854.4L843.4 853.6L842.6 855L841.9 855.6L841.1 855.3L840.3 855.4L839.6 856.3L838.8 855.6L838 855.1L837.2 853.2L836.5 851.8L835.7 849.2L834.9 846.7L834.2 844.2L833.4 846.3L832.6 847.1L831.9 847.6L831.1 850.5L830.3 852.9L829.5 856.2L828.8 858.8L828 862.4L827.2 863.2L826.5 862.6L825.7 863.4L824.9 862.5L824.2 862.7L823.4 861.4L822.6 859.2L821.8 857.8L821.1 857L820.3 855.3L819.5 853.9L818.8 850.8L818 850.2L817.2 848L816.5 846.2L815.7 843.3L814.9 843.2L814.1 842.3L813.4 841.2L812.6 839.1L811.8 839.3L811.1 837.4L810.3 836.9L809.5 835.4L808.8 834.8L808 833.2L807.2 833L806.4 832.4L805.7 832.3L804.9 832.2L804.1 832.5L803.4 833.5L802.6 834.1L801.8 834.3L801 835.4L800.3 836.3L799.5 837.7L798.7 838.9L798 839.6L797.2 840.6L796.4 840.8L795.7 840.5L794.9 839.2L794.1 838.6L793.3 838L792.6 838.4L791.8 838.2L791 839L790.3 839.9L789.5 840.2L788.7 840.4L788 841.4L787.2 841.5L786.4 842.6L785.6 843.6L784.9 844L784.1 842.6L783.3 841L782.6 840.6L781.8 838.5L781 840.9L780.3 843.4L779.5 845.5L778.7 848.2L777.9 850.6L777.2 851.2L776.4 851.2L775.6 852.4L774.9 852.6L774.1 853.9L773.3 854L772.6 853.9L771.8 852.8L771 852.2L770.2 853.2L769.5 850.4L768.7 847.5L767.9 845.4L767.2 842.4L766.4 839.3L765.6 836.6L764.9 838.7L764.1 839L763.3 840.6L762.5 842L761.8 841.6L761 840.1L760.2 839.6L759.5 838.6L758.7 837.4L757.9 836.7L757.2 837.4L756.4 837.8L755.6 837.3L754.8 837.8L754.1 838.6L753.3 839.9L752.5 841.3L751.8 841.4L751 840.4L750.2 838.5L749.5 837L748.7 835.8L747.9 833.8L747.1 832.2L746.4 831.1L745.6 831.5L744.8 830.2L744.1 830.2L743.3 828.9L742.5 828.8L741.8 828.8L741 829.9L740.2 830.2L739.4 829.6L738.7 831.6L737.9 833.2L737.1 835L736.4 837.8L735.6 839.7L734.8 839.8L734.1 841L733.3 841.8L732.5 843.5L731.7 843L731 841.8L730.2 840.9L729.4 840.8L728.7 839.4L727.9 838.2L727.1 837.9L726.3 836.7L725.6 834.9L724.8 834.5L724 833.3L723.3 833.4L722.5 833.3L721.7 834.5L721 834.9L720.2 834.7L719.4 835.1L718.6 834.5L717.9 834L717.1 834.2L716.3 834.5L715.6 834.6L714.8 835.5L714 836.1L713.3 836.1L712.5 837.1L711.7 838.6L710.9 838.5L710.2 839.2L709.4 841L708.6 841.5L707.9 841.3L707.1 841.3L706.3 841.2L705.6 842.6L704.8 842.4L704 842.7L703.2 843.4L702.5 845.1L701.7 844.8L700.9 846.1L700.2 847.7L699.4 848.9L698.6 848.7L697.9 849.6L697.1 847.1L696.3 845.4L695.5 844.3L694.8 842L694 840L693.2 837.2L692.5 836.3L691.7 837.5L690.9 837.5L690.2 837.9L689.4 837.3L688.6 836L687.8 836.2L687.1 835.4L686.3 834L685.5 833.5L684.8 833.4L684 833.4L683.2 833.7L682.5 833.2L681.7 833.1L680.9 832.3L680.1 830.7L679.4 829.6L678.6 829.1L677.8 828L677.1 827.5L676.3 826.7L675.5 826.3L674.8 825.7L674 826.2L673.2 825.3L672.4 825.5L671.7 825L670.9 824.4L670.1 824.3L669.4 826.4L668.6 830L667.8 832.9L667.1 836.2L666.3 840L665.5 843.5L664.7 846.7L664 850.4L663.2 854.8L662.4 853.6L661.7 853.7L660.9 854.1L660.1 853.3L659.4 853.5L658.6 852.4L657.8 852L657 850.8L656.3 850L655.5 849.4L654.7 847.8L654 845.4L653.2 844.1L652.4 842.2L651.7 840.5L650.9 839.4L650.1 839.6L649.3 838.3L648.6 837.3L647.8 838L647 838L646.3 837.5L645.5 837.3L644.7 836.5L643.9 836.9L643.2 836.5L642.4 835.3L641.6 834.3L640.9 834.1L640.1 833.2L639.3 831.5L638.6 830.5L637.8 829.6L637 828.6L636.2 828.2L635.5 827.4L634.7 827.4L633.9 827.3L633.2 827.2L632.4 827.4L631.6 827.3L630.9 827.5L630.1 827.9L629.3 828.3L628.5 827.9L627.8 828.9L627 830.5L626.2 831.5L625.5 833.6L624.7 834.1L623.9 833.2L623.2 832.1L622.4 831.3L621.6 830L620.8 828.9L620.1 828.7L619.3 830.9L618.5 832.4L617.8 833.4L617 835L616.2 836.4L615.5 835.7L614.7 834.1L613.9 834.7L613.1 834.1L612.4 832.6L611.6 830.6L610.8 829.4L610.1 828.1L609.3 826.9L608.5 826L607.8 825.9L607 825.7L606.2 825.4L605.4 825.2L604.7 825.3L603.9 825.6L603.1 826L602.4 826.6L601.6 827.4L600.8 829.6L600.1 831.5L599.3 833.4L598.5 836L597.7 837.4L597 838L596.2 839.1L595.4 838.9L594.7 838.4L593.9 837.1L593.1 836.1L592.4 837.4L591.6 839L590.8 840.2L590 841.2L589.3 843.1L588.5 843.7L587.7 845.8L587 846L586.2 846.7L585.4 844.7L584.7 841.4L583.9 839L583.1 836L582.3 833.8L581.6 832.1L580.8 831.4L580 830.6L579.3 829.9L578.5 829.5L577.7 828.7L577 828.4L576.2 827.8L575.4 827.1L574.6 826.5L573.9 827.5L573.1 828L572.3 827.5L571.6 827.9L570.8 829.4L570 828.3L569.2 826.3L568.5 826.5L567.7 825L566.9 823.5L566.2 824.6L565.4 825.3L564.6 825.4L563.9 826.5L563.1 826.9L562.3 828.7L561.5 830.4L560.8 832.2L560 833.3L559.2 835.5L558.5 837.7L557.7 839.2L556.9 840.8L556.2 842.2L555.4 843.3L554.6 843L553.8 843.3L553.1 842.9L552.3 843.1L551.5 842L550.8 841.5L550 839.6L549.2 837.7L548.5 834.9L547.7 833.6L546.9 831.4L546.1 829.8L545.4 828.5L544.6 827.6L543.8 826L543.1 825.8L542.3 826.6L541.5 827.7L540.8 828.5L540 829.1L539.2 828.9L538.4 828.4L537.7 828.1L536.9 827.7L536.1 827.2L535.4 827.2L534.6 828.5L533.8 828.6L533.1 829.6L532.3 829.9L531.5 829.2L530.7 828.3L530 828.2L529.2 827.5L528.4 826.7L527.7 826.1L526.9 825.7L526.1 824.6L525.4 825L524.6 824.4L523.8 824.6L523 825.2L522.3 825.2L521.5 825.2L520.7 825.9L520 826.3L519.2 826.6L518.4 827.1L517.7 827.5L516.9 828.4L516.1 829.8L515.3 831.1L514.6 832.1L513.8 833.7L513 833L512.3 832.8L511.5 831.9L510.7 832.2L510 831.8L509.2 831.6L508.4 832.4L507.6 833.5L506.9 833.9L506.1 834.5L505.3 835.4L504.6 837.6L503.8 838.3L503 839.4L502.3 841.1L501.5 840.1L500.7 838L499.9 837.2L499.2 836.4L498.4 834.2L497.6 834L496.9 831.4L496.1 831.5L495.3 829.5L494.5 828.4L493.8 827.8L493 826.2L492.2 823.6L491.5 822.9L490.7 820.4L489.9 820.8L489.2 820.7L488.4 820.5L487.6 820.8L486.8 821.8L486.1 821.1L485.3 820L484.5 818.6L483.8 818.6L483 817.9L482.2 818.1L481.5 818.5L480.7 818.4L479.9 819L479.1 819.8L478.4 818.6L477.6 818.2L476.8 816.8L476.1 816.2L475.3 815.3L474.5 813.9L473.8 815.3L473 815.6L472.2 815.9L471.4 816.7L470.7 816.7L469.9 816.7L469.1 816.5L468.4 816.1L467.6 816.1L466.8 816.2L466.1 816.1L465.3 815.6L464.5 816L463.7 815.8L463 815.9L462.2 818.1L461.4 820.1L460.7 821.9L459.9 823.6L459.1 826.5L458.4 828.2L457.6 828.5L456.8 830.5L456 830.9L455.3 830L454.5 828.2L453.7 827.5L453 826.1L452.2 824.7L451.4 825.5L450.7 829.4L449.9 832.8L449.1 836.5L448.3 837.2L447.6 835.6L446.8 835.2L446 833.7L445.3 833.8L444.5 831.8L443.7 830.5L443 829.7L442.2 829L441.4 827.2L440.6 824.8L439.9 824.4L439.1 822.9L438.3 823.1L437.6 822.3L436.8 820.8L436 820.3L435.3 821.2L434.5 820.8L433.7 821.1L432.9 820.1L432.2 820.3L431.4 819.6L430.6 818.9L429.9 818.5L429.1 818L428.3 817.2L427.6 816.6L426.8 816.6L426 816.9L425.2 817.3L424.5 817.4L423.7 817.7L422.9 818.4L422.2 818.9L421.4 819.5L420.6 820L419.9 820.2L419.1 821.6L418.3 822.6L417.5 823.5L416.8 825.1L416 826L415.2 827.4L414.5 827.4L413.7 827L412.9 826.7L412.1 826.8L411.4 826.6L410.6 826.9L409.8 826.5L409.1 826.5L408.3 827.3L407.5 828L406.8 828.9L406 829.2L405.2 830.1L404.4 829.9L403.7 830.3L402.9 829.8L402.1 830.5L401.4 830.1L400.6 830.9L399.8 831.6L399.1 832.1L398.3 832.7L397.5 833.3L396.7 834L396 834.4L395.2 834.6L394.4 834.7L393.7 835.7Z" fill="#b2182b" stroke="#b2182b" stroke-width="0.6" stroke-linejoin="round"/><path d="M995.7 840.6L996.4 839.8L997.2 839.9L998 838.6L998.7 837.8L999.5 837.8L1000.3 839.4L1001.1 840.4L1001.8 841.8L1002.6 842.6L1003.4 843.7L1004.1 841.4L1004.9 841L1005.7 840.3L1006.4 839.1L1007.2 838.9L1008 838.9L1008.8 839.8L1009.5 840.5L1010.3 841L1011.1 841.5L1011.8 840.4L1012.6 839.7L1013.4 838.4L1014.2 838L1014.9 837.6L1015.7 838L1016.5 839.2L1017.2 839.6L1018 841.3L1018.8 842.3L1019.5 842.4L1020.3 843.8L1021.1 846.1L1021.9 846.4L1022.6 848.4L1023.4 848.4L1024.2 848.3L1024.9 848.4L1025.7 848.3L1026.5 847.7L1027.2 845.2L1028 842.7L1028.8 839.7L1029.6 837.2L1030.3 834.9L1031.1 837.5L1031.9 838.8L1032.6 840.4L1033.4 843.1L1034.2 844.7L1034.9 844.7L1035.7 843L1036.5 843.3L1037.3 842.9L1038 842.2L1038.8 842L1039.6 843.7L1040.3 845.2L1041.1 846L1041.9 846.8L1042.7 845.9L1043.4 843.5L1044.2 842.9L1045 840.7L1045.7 838.5L1046.5 841L1047.3 843L1048 844.5L1048.8 844.8L1049.6 846.7L1050.4 848.9L1051.1 850.6L1051.9 853.1L1052.7 853.8L1053.4 855.9L1054.2 857.1L1055 858.4L1055.7 859.2L1056.5 859.8L1057.3 860.4L1058.1 861.4L1058.8 862.8L1059.6 863.8L1060.4 865.1L1061.1 865.6L1061.9 865.1L1062.7 864.3L1063.4 864.1L1064.2 863L1065 862.6L1065.8 861.2L1066.5 860.1L1067.3 857.9L1068.1 856.6L1068.8 854.1L1069.6 850.9L1070.4 848.3L1071.1 844.9L1071.9 841.5L1072.7 839.9L1073.5 840.3L1074.2 841.3L1075 842.2L1075 848.5L1074.2 847.6L1073.5 847.1L1072.7 847.1L1071.9 848.5L1071.1 850.7L1070.4 853.5L1069.6 855.6L1068.8 857.7L1068.1 859.8L1067.3 862.5L1066.5 865.2L1065.8 868.5L1065 870.7L1064.2 870.7L1063.4 871.9L1062.7 872.8L1061.9 873.3L1061.1 873.5L1060.4 872.8L1059.6 871.9L1058.8 871.6L1058.1 872.1L1057.3 871.9L1056.5 870.8L1055.7 868.8L1055 869.1L1054.2 867.2L1053.4 867.1L1052.7 867.3L1051.9 867.2L1051.1 867.8L1050.4 866.6L1049.6 867.6L1048.8 865L1048 862.3L1047.3 858.8L1046.5 856L1045.7 852.5L1045 853.5L1044.2 855.7L1043.4 857.2L1042.7 858.9L1041.9 860.3L1041.1 857.8L1040.3 856.3L1039.6 854.4L1038.8 852.3L1038 850.9L1037.3 852.4L1036.5 854.8L1035.7 856.3L1034.9 857.3L1034.2 859.9L1033.4 856.5L1032.6 854.5L1031.9 851.3L1031.1 848L1030.3 845.4L1029.6 847L1028.8 847.7L1028 848.9L1027.2 850.2L1026.5 851.5L1025.7 853L1024.9 853.9L1024.2 855L1023.4 855.3L1022.6 857.1L1021.9 855.8L1021.1 854.6L1020.3 853.9L1019.5 852.7L1018.8 850.8L1018 849.3L1017.2 848.4L1016.5 845.9L1015.7 844.8L1014.9 843.2L1014.2 843.6L1013.4 844.3L1012.6 845L1011.8 845.8L1011.1 847.2L1010.3 847L1009.5 847.2L1008.8 846.7L1008 846.8L1007.2 846.3L1006.4 846.6L1005.7 848.9L1004.9 849.3L1004.1 850.7L1003.4 851.1L1002.6 851.3L1001.8 849.6L1001.1 847.5L1000.3 846.1L999.5 844.5L998.7 844.4L998 845.3L997.2 846.2L996.4 846.2L995.7 847.4Z" fill="#b2182b" stroke="#b2182b" stroke-width="0.6" stroke-linejoin="round"/><path d="M1083.7 849.7L1084.4 849.4L1085.2 848.7L1086 847.4L1086.8 846.4L1087.5 846.5L1088.3 845L1089.1 844.5L1089.9 843.6L1090.6 843.1L1091.4 842.5L1092.2 842L1092.9 842.1L1093.7 841.9L1094.5 841.7L1095.3 841.2L1096 841.4L1096.8 841.1L1097.6 840.6L1098.4 841L1099.1 840.2L1099.9 839.8L1100.7 839.5L1101.4 839.1L1102.2 838.7L1103 838.3L1103.8 840L1104.5 843.4L1105.3 845.7L1106.1 848.9L1106.9 851.2L1107.6 850.9L1108.4 850.1L1109.2 849.7L1110 848.5L1110.7 847.8L1111.5 848.3L1112.3 849.7L1113 849.9L1113.8 850.6L1114.6 851.4L1115.4 851.7L1116.1 851.5L1116.9 852.1L1117.7 852.3L1118.5 852L1119.2 851.3L1120 849.8L1120.8 849.3L1121.6 848.6L1122.3 847.9L1123.1 848.9L1123.9 850.3L1124.6 851.7L1125.4 852.6L1126.2 851.5L1127 851.7L1127.7 851.7L1128.5 851.3L1129.3 850.7L1130.1 850.4L1130.8 850.2L1131.6 849.2L1132.4 848.9L1133.1 848.3L1133.9 848.1L1134.7 848.7L1135.5 849.3L1136.2 850.5L1137 851.2L1137.8 852.8L1138.6 852.9L1139.3 853.4L1140.1 853.6L1140.9 853.9L1141.7 854.1L1142.4 852.6L1143.2 851L1144 849.1L1144.7 847.3L1145.5 846.5L1146.3 846.2L1147.1 846.5L1147.8 846.6L1148.6 845.7L1149.4 847.3L1150.2 847.6L1150.9 848.9L1151.7 850.6L1152.5 850.8L1153.2 852.5L1154 853.6L1154.8 854.1L1155.6 855.2L1156.3 855.4L1157.1 856.2L1157.9 856.3L1158.7 857.1L1159.4 857.6L1160.2 858.1L1161 855.5L1161.8 852.7L1162.5 849.1L1163.3 846.3L1164.1 843.1L1164.8 844.4L1165.6 845.5L1166.4 846.2L1167.2 847.5L1167.9 848.5L1168.7 846.9L1169.5 845.2L1170.3 843.6L1171 842.8L1171.8 840.6L1172.6 842.2L1173.4 842.6L1174.1 843.8L1174.9 845.3L1175.7 845.6L1176.4 845.5L1177.2 844.4L1178 843.7L1178.8 843.1L1179.5 842L1180.3 844.2L1181.1 846.6L1181.9 848.7L1182.6 850.2L1183.4 851.7L1184.2 850.3L1184.9 848.2L1185.7 846.6L1186.5 845.2L1187.3 843L1188 843.1L1188.8 843.3L1189.6 843.5L1190.4 844L1191.1 844.4L1191.9 845.1L1192.7 846.1L1193.5 847.1L1194.2 847.4L1195 849.1L1195 856.8L1194.2 855.1L1193.5 854.2L1192.7 852.2L1191.9 851L1191.1 850.2L1190.4 849.5L1189.6 849.4L1188.8 848.8L1188 848.3L1187.3 848.9L1186.5 849.6L1185.7 851.3L1184.9 853L1184.2 854.1L1183.4 855.8L1182.6 854.6L1181.9 853L1181.1 850.9L1180.3 849.8L1179.5 848.2L1178.8 847.9L1178 849.8L1177.2 850.5L1176.4 851L1175.7 852.6L1174.9 851.5L1174.1 850.1L1173.4 848.7L1172.6 848.3L1171.8 847.5L1171 848L1170.3 849.6L1169.5 850.4L1168.7 852.1L1167.9 853.1L1167.2 852L1166.4 852L1165.6 851.2L1164.8 850.8L1164.1 849.7L1163.3 852.4L1162.5 854.5L1161.8 856.8L1161 858.9L1160.2 860.6L1159.4 861L1158.7 861.3L1157.9 862.2L1157.1 862.2L1156.3 862.7L1155.6 862.3L1154.8 860.8L1154 860.5L1153.2 860.5L1152.5 860L1151.7 859.1L1150.9 856.8L1150.2 856.4L1149.4 854.7L1148.6 854.8L1147.8 854.2L1147.1 853.5L1146.3 853.3L1145.5 852.5L1144.7 853.9L1144 855.2L1143.2 856.4L1142.4 858.1L1141.7 860L1140.9 859.3L1140.1 859.5L1139.3 859.7L1138.6 859.8L1137.8 859.7L1137 857.9L1136.2 857.3L1135.5 855.9L1134.7 854.7L1133.9 853.5L1133.1 853.7L1132.4 855.2L1131.6 856.2L1130.8 856.2L1130.1 857.7L1129.3 857.8L1128.5 859.2L1127.7 858.7L1127 859.4L1126.2 860.7L1125.4 860.7L1124.6 859.5L1123.9 858.7L1123.1 856.9L1122.3 855.9L1121.6 857.2L1120.8 859.5L1120 862.3L1119.2 866.5L1118.5 869.8L1117.7 870L1116.9 867.2L1116.1 864.2L1115.4 862.1L1114.6 859.3L1113.8 858.4L1113 858.9L1112.3 859.8L1111.5 859.3L1110.7 859.9L1110 861.8L1109.2 863.5L1108.4 866.4L1107.6 867L1106.9 868.2L1106.1 863.2L1105.3 859.5L1104.5 854.8L1103.8 850.3L1103 846.7L1102.2 846.9L1101.4 847.3L1100.7 847L1099.9 846.9L1099.1 847L1098.4 847.3L1097.6 846.9L1096.8 846.4L1096 846.1L1095.3 846L1094.5 846.1L1093.7 846.3L1092.9 846.8L1092.2 846.7L1091.4 846.9L1090.6 848.2L1089.9 849.2L1089.1 850.6L1088.3 851.8L1087.5 852.4L1086.8 853.6L1086 853.7L1085.2 854.1L1084.4 854.7L1083.7 855.6Z" fill="#b2182b" stroke="#b2182b" stroke-width="0.6" stroke-linejoin="round"/><path d="M994.8 846.3L995.5 835.3L996.3 841L996.8 839.3L997.6 859.3L998.6 842.1L999.5 831.7L1000 840L1000.5 835.5L1001.2 857.3L1002.2 848.3L1003.1 836.7L1003.7 843.6L1004.1 839.6L1004.8 867.3L1005.8 842.2L1006.9 830.7L1007.5 841.3L1008 834.3L1008.8 863.7L1010.2 846.9L1011.2 836L1011.7 840.7L1012.1 842.5L1012.7 858.7L1013.9 842.7L1014.7 832.7L1015.5 840.4L1015.9 833.8L1016.8 852.7L1017.9 850.8L1018.9 833.3L1019.4 843.9L1019.8 836.5L1020.4 869.3L1021.5 857.2L1022.5 839.3L1023.1 846.9L1023.5 844.3L1024.4 876L1025.5 850.1L1026.2 845.3L1027.1 850.2L1027.5 846.4L1028.4 858.7L1029.5 841L1030.3 826L1031 840.5L1031.5 835.3L1032.3 865.3L1033.1 849L1034.2 832L1034.8 851.5L1035.3 834.8L1036.1 888L1037.5 848.9L1038.5 834L1039 843.5L1039.4 843.1L1040 867.3L1041.1 853.3L1042.1 836.7L1042.6 853.2L1043.1 841.7L1043.8 884L1044.8 846.8L1045.8 828.3L1046.3 840.2L1046.8 834.5L1047.6 876L1048.5 863L1049.3 829.3L1050.2 854.5L1050.7 838.2L1051.5 906L1052.8 861L1053.6 848.3L1054.3 857.9L1054.8 851L1055.5 886L1056.6 866.2L1057.3 850.7L1058 862.3L1058.5 862.2L1059.3 892.7L1060.1 869.4L1060.9 858.7L1061.7 863.8L1062.2 866.8L1063.1 888.7L1064.2 869.4L1065.2 856L1065.6 863.5L1066.1 858.8L1066.6 886L1067.7 857L1068.7 852.7L1069.3 854.6L1069.8 854.5L1070.4 864L1072.1 842.5L1072.6 832.7L1073 841.6L1073.3 840.9L1073.7 861.3L1074.2 845.2L1074.8 837.3L1075.7 841.8L1076.2 838.7L1076.5 842L1077.2 886L1078.3 800L1079 740L1080.1 696.5L1080.7 850L1081.3 960L1082.2 846L1082.8 853.4L1083.5 844.7L1084.4 848.8L1084.9 849.6L1085.9 866.7L1086.8 851.7L1087.6 840L1088.4 846.1L1088.9 844.1L1089.6 866L1090.9 844.4L1091.5 838L1092.3 840.8L1092.7 842.9L1093.5 856L1094.1 846.3L1095 837.3L1095.8 843.1L1096.3 839.2L1097 855.3L1098.4 842.5L1099.2 834.7L1100 843.8L1100.5 839.4L1101.2 860.7L1102.4 843.8L1103.3 831.3L1103.9 837.6L1104.4 836.4L1105.3 862.7L1106.2 862.5L1107.2 837.3L1107.7 858.7L1108.1 842.6L1109 902L1109.9 857.3L1110.7 838L1111.4 846.7L1111.8 847.4L1112.4 882L1113.5 855.8L1114.2 845.3L1115 852.1L1115.4 853.1L1116.2 872L1117.1 865L1118 837.3L1118.7 858.9L1119.1 851.1L1119.8 906L1121.1 851.2L1122 841.3L1122.6 852.3L1123.1 849L1123.8 870L1124.6 856.6L1125.7 844.7L1126.5 850.1L1127.1 850.5L1128.1 878L1129.6 857.2L1130.2 845.3L1130.9 850.1L1131.3 849.4L1132 869.3L1132.8 853.5L1133.5 842L1134.4 846.3L1134.9 846L1135.8 865.3L1136.8 854.4L1137.6 846.7L1138.4 855L1138.9 850.6L1139.5 872L1140.9 856.3L1141.8 850L1142.3 855.6L1142.7 853.7L1143.5 870L1144.4 851.6L1145.2 841.3L1145.9 846.8L1146.4 847.7L1147 864L1148.2 853.3L1149 839.3L1149.7 848L1150.1 842.8L1151 870L1151.9 856L1152.7 844.7L1153.4 849.8L1153.9 853.2L1154.8 876L1155.8 857.9L1156.5 850L1157.3 855.6L1157.7 851.4L1158.5 875.3L1159.5 860.4L1160.4 856L1161 858.6L1161.5 858.8L1162.1 865.3L1163.2 846.5L1164 837.3L1164.8 845L1165.2 841.6L1165.8 862.7L1167.1 851.3L1168.1 844.7L1168.7 850.8L1169.1 848.1L1170.1 861.3L1171.1 844.9L1171.9 835.3L1172.6 843.1L1173.1 837.7L1173.8 859.3L1174.8 850.3L1175.6 840.7L1176.3 847.3L1176.8 842.9L1177.6 864.7L1178.5 844L1179.4 837.3L1180.1 840.7L1180.6 841.2L1181.2 858L1182.4 855.5L1183.1 848.7L1184 853.8L1184.5 850.5L1185.5 863.3L1186.5 845.8L1187.3 838.4L1188.1 844.8L1188.6 840.6L1189.5 858.7L1190.6 847.9L1191.3 838.7L1192 845.6L1192.5 841.1L1193.1 862L1194.1 851.3L1194.9 842L1195.7 848L1196.2 844.6L1197 871.3L1198.1 858.1L1199 845.3L1199.7 854.7L1200.2 852.5L1201 878L1202.3 858.1L1203.1 844.7L1203.6 851L1204 848.7L1204.5 878.7L1205.5 856L1206.5 847.3L1207 851.9L1207.5 852L1208.2 865.3L1209.1 844.8L1210.2 837.3L1210.8 840.9L1211.3 839.2L1212.2 852.7L1213.5 847.5L1214.3 838.7L1215.1 843L1215.5 839.7L1216.3 856.7L1217.5 842.3L1218.3 836.3L1219 840.6L1219.5 839.7L1220.4 848.7L1221.3 840.9L1222.1 837.3L1222.7 839.1L1223.1 839.6L1224 845.3L1224.8 840.4L1225.5 835.3L1226.3 838.9L1226.8 837.9L1227.4 846.7L1228.5 845.1L1229.4 837.3L1230.1 841.9L1230.6 839L1231.2 858.7L1232.4 844.7L1233.1 835.3L1233.9 843.7L1234.4 839L1235 859.3L1236.1 844.7L1236.9 838.7L1237.7 843.9L1238.2 842.6L1239 856L1240.2 848.3L1241 840.7L1241.6 846.8L1242.1 844.7L1242.9 858L1243.8 842.7L1244.5 838.7L1245.3 841.1L1245.7 842.1L1246.3 852L1247.5 842.9L1248.3 834.9L1249.1 838L1249.5 838.6L1250.2 851.3L1251.5 838.3L1252.3 833.3L1253 837.4L1253.5 835.7L1254.3 846.7L1255.3 844.1L1256.3 834.7L1256.7 841L1257.1 837.9L1257.9 855.3L1258.6 838.4L1259.8 833.6L1260.5 837.3L1261.1 836.5L1262.1 846.7L1263.5 842.3L1264.5 833.6L1265 838.8L1265.4 838L1266.3 853.3L1267.1 846.5L1268.1 840.7L1268.6 843.9L1269.1 842L1269.9 855.3L1270.9 849.3L1271.9 843.7L1272.3 847.8L1272.7 845.3L1273.2 857.3L1274.3 849.6L1274.9 840.7L1275.6 844.2L1276 844.1L1276.8 859.3L1277.7 844.9L1278.2 838L1278.8 843.8L1279.1 841.6L1279.6 854.7L1280.3 851.1L1281 843.3L1281.5 848.8L1281.9 844.5L1282.4 859.3L1283.3 847.5L1284.1 841.5L1284.5 845.8L1284.9 844.4L1285.3 854.8L1286.6 847.2L1286.8 840L1287.4 843.2L1287.6 841.9L1288 855.3L1288.1 849.8L1289 845.3L1289.7 847.9L1290.2 847.2L1290.9 859.3L1292.1 847.2L1293.1 842.7L1293.7 844.9L1294.2 844.1L1295.2 856.7L1296.3 846.1L1297.2 841.6L1297.6 844.3L1298 843.7L1298.7 853.3L1299.5 846L1300.5 840.7L1301.1 844.2L1301.5 844.2L1302.3 854.7L1303.5 841.2L1304.5 836L1305.1 841.3L1305.5 836.8L1306.4 850L1307.6 841.9L1308.3 835.3L1308.9 839L1309.3 838.7L1309.9 850L1310.9 839.8L1311.5 834L1312.3 839.4L1312.7 837.6L1313.3 848.7L1314.1 837.4L1315 830.7L1315.7 835.3L1316.2 832.3L1317.1 845.3L1318.1 843.3L1319.2 834.7L1319.7 839L1320.2 837.7L1321.1 854.7L1322.1 840.2L1323.1 832.7L1323.7 840.4L1324.2 834.6L1325.1 854L1326.1 838.3L1326.9 833.3L1327.7 836.7L1328.2 836.8L1329.1 847.3L1330 837.9L1331.1 833.3L1331.8 837.6L1332.4 834.5L1333.5 845.3L1334.6 834.9L1335.7 829.6L1336.5 834.4L1337.1 831L1338 842.7L1339.3 835.5L1340.1 829.3L1341.2 832.8L1341.7 831.9L1342.6 843.3L1344 836.9L1345.1 831.3L1345.8 833.8L1346.4 834.6L1347.2 845.3L1348.8 837.9L1349.7 832.7L1350.4 835.7L1350.9 835.4L1351.5 849.3L1352.6 838.1L1353.5 832.7L1354.5 838.3L1355.1 834.1L1356 846.7L1357.3 836.7L1358.4 830.4L1359.2 833.1L1359.7 834.3L1360.6 845.3L1362 836.4L1363 831.3L1363.8 836.2L1364.4 833.6L1365.4 847.3L1366.6 834.8L1367.8 830.4L1368.5 835.1L1369.1 833.5L1369.8 842.7L1371.5 840L1372.3 833.3L1373.1 837.6L1373.5 835L1374.4 850.7L1375.5 842.1L1376.2 837.3L1377.1 841.1L1377.5 841.7L1378.3 852L1379.5 840.9L1380.4 832L1381.1 837.6L1381.5 837L1382.4 850L1383.6 837.2L1384.3 830L1384.9 835.6L1385.3 834.3L1385.8 846L1387 832.5L1387.5 826.7L1388.2 830.4L1388.6 827.5L1389.3 838.7L1389.8 827.3L1390.6 822.7L1391.5 827L1392 824L1393 834.7L1394.3 836.8L1395 832L1395.6 835.3L1396 835L1396.6 844.7L1397.3 831.1L1398.2 824.7L1399.2 828.4L1399.7 825.9L1400.6 840.7L1402.1 834.6L1403.1 828.7L1403.7 831.8L1404.2 830.1L1405.2 845.3L1406.1 836.1L1406.8 828.7L1407.7 835L1408.2 832.8L1409 846L1410.1 839.5L1411 831.3L1411.7 834.4L1412.2 832.2L1412.8 848L1414 837.5L1415 832L1415.8 837L1416.4 832.9L1417.2 846L1418.9 837.4L1419.6 833.3L1420.3 838.2L1420.7 836.4L1421.2 846L1422.1 831.6L1422.9 829.3L1423.7 830.4L1424.2 830L1424.9 834.7L1426.1 823.4L1426.9 819.3L1427.7 822L1428.2 821.6L1429 830.7L1430.1 829.2L1430.9 822.7L1431.7 825L1432.2 825.5L1432.9 837.3L1434 825.2L1435 820.7L1435.8 825.8L1436.4 823.3L1437.4 834L1438.8 822.4L1439.7 818.7L1440.4 822.6L1440.9 821.9L1441.8 830.7L1442.8 822.1L1443.9 817.3L1444.4 819.7L1444.9 821.1L1445.7 832.7L1446.6 824.5L1447.8 817.3L1448.5 822.3L1449.1 818.4L1450.1 832L1451.5 822.8L1452.3 819.3L1453.1 821.3L1453.5 820.7L1454.2 830L1455.6 826.4L1456.2 822L1456.9 824.2L1457.3 824.6L1457.9 832.7L1459 828.3L1459.8 824.7L1460.2 827.3L1460.6 826.9L1461.4 833.3L1461.9 822.2L1462.6 816.3L1463.4 823.1L1463.8 821L1464.5 833.3L1465.6 831.8L1466.2 826L1466.9 828.5L1467.3 829.2L1467.8 838L1468.5 833.3L1469.6 826.7L1470.6 831.5L1471.3 827.8L1472.3 840.7L1474 829.5L1475 825.3L1475.8 829L1476.4 825.9L1477.4 835.3L1479.1 827.3L1479.7 821.3L1480.1 824L1480.5 824.5L1481 834L1481.3 825.7L1482.4 821.6L1483.2 825.6L1483.7 824.6L1484.7 833.3L1486.3 830L1486.8 827.3L1487.5 829.8L1487.9 827.8L1488.5 836L1489.3 827.5L1490.1 825.4L1490.5 826.4L1490.9 826.9L1491.4 832L1492 828L1493 822.7L1493.8 825.6L1494.4 825.5L1495.2 833.3L1496.6 828.3L1497.6 822.7L1498.5 824.5L1499.1 824L1499.9 834L1501.3 833.6L1502.2 828L1503.2 833L1503.7 831.3L1504.8 841.3L1506 838.6L1506.8 832.7L1507.8 836.5L1508.4 835.8L1509.2 844.7L1510.9 834.1L1511.5 830L1512.3 834.1L1512.7 831.8L1513.5 840.7L1514.3 835.9L1515 832.7L1515.6 835.8L1516 833.9L1516.6 842L1517.9 830L1518.4 826L1518.7 829.2L1518.9 827.3L1519.3 838.7L1519.9 827.3L1520.2 822L1520.7 826.4L1520.9 823.3L1521.2 836.7L1521.7 832.9L1522.5 826.7L1522.8 832.1L1523.1 828.4L1523.8 843.3L1524.3 831.8L1524.9 825.3L1525.6 830L1526 828.1L1526.7 838.7L1527.5 833.8" fill="none" stroke="#b2182b" stroke-width="2.2" stroke-linejoin="round" stroke-linecap="butt"/></g>
<g><path d="M114.7 629.5H1543" stroke="#444" stroke-width="1" fill="none"/><path d="M115.2 629V976" stroke="#444" stroke-width="1" fill="none"/><path d="M114.7 975.1H1543" stroke="#2c2c2c" stroke-width="2" fill="none"/><path d="M1542 629V976.1" stroke="#292929" stroke-width="2" fill="none"/><path d="M109.1 884.3H114.9M109.1 777.5H114.9M109.1 670.7H114.9M423.9 976V980.8M776.7 976V980.8M1129.3 976V980.8M1478.1 976V980.8" stroke="#363636" stroke-width="1.9" fill="none"/><text x="103.8" y="893.3" font-size="23.4" text-anchor="end">22</text><text x="103.8" y="786.5" font-size="23.4" text-anchor="end">24</text><text x="103.8" y="679.7" font-size="23.4" text-anchor="end">26</text><text x="423.9" y="1002.8" font-size="23.4" text-anchor="middle">2025-03</text><text x="776.7" y="1002.8" font-size="23.4" text-anchor="middle">2025-06</text><text x="1129.3" y="1002.8" font-size="23.4" text-anchor="middle">2025-09</text><text x="1478.1" y="1002.8" font-size="23.4" text-anchor="middle">2025-12</text><text x="828.5" y="609.2" font-size="30.9" text-anchor="middle">Room temperature</text><text transform="translate(40 802.5) rotate(-90)" font-size="29.2" text-anchor="middle">Temperature (°C)</text></g>
<g><path d="M1629.3 802H1653" stroke="#b2182b" stroke-width="2.2"/><text x="1658" y="808.4" font-size="18.6">T_Lab</text></g>
<g><rect x="115.5" y="1080" width="1426.1" height="345" fill="#fff"/><path d="M115.5 1375.2H1542.2M115.5 1303.9H1542.2M115.5 1232.6H1542.2M115.5 1161.4H1542.2M115.5 1090.1H1542.2" stroke="#e9e9e9" stroke-width="1" fill="none"/><path d="M197.7 1080V1425M316.5 1080V1425M542.8 1080V1425M657.8 1080V1425M891.7 1080V1425M1010.6 1080V1425M1244.3 1080V1425M1363.2 1080V1425" stroke="#dfdfdf" stroke-width="1" fill="none"/><path d="M115.5 1410.8H1542.2M115.5 1339.5H1542.2M115.5 1268.3H1542.2M115.5 1197H1542.2M115.5 1125.7H1542.2" stroke="#e8e8e8" stroke-width="1.9" fill="none"/><path d="M423.9 1080V1425M776.7 1080V1425M1129.3 1080V1425M1478.1 1080V1425" stroke="#cacaca" stroke-width="2.1" fill="none"/></g>
<g id="p3-lvl3"><path d="M128.3 1101.5L129.1 1101.5L129.9 1100.2L130.7 1101.6L131.4 1102.2L132.2 1103.5L133 1102.4L133.7 1102L134.5 1102.8L135.3 1103.5L136.1 1104.3L136.8 1101.9L137.6 1100.7L138.4 1101L139.1 1101.2L139.9 1101.9L140.7 1099.7L141.5 1099.9L142.2 1101.9L143 1104.5L143.8 1107.3L144.6 1108.3L145.3 1110.1L146.1 1113.6L146.9 1117.1L147.6 1120.4L148.4 1121.1L149.2 1117.9L150 1116.6L150.7 1114.6L151.5 1112L152.3 1109L153 1105.7L153.8 1105.2L154.6 1106.9L155.4 1109.5L156.1 1109.4L156.9 1110.4L157.7 1113L158.5 1115.3L159.2 1117.5L160 1116L160.8 1114.8L161.5 1113.9L162.3 1113L163.1 1112.1L163.9 1109L164.6 1107.2L165.4 1105.9L166.2 1105.9L166.9 1104.8L167.7 1103L168.5 1102.3L169.3 1101.8L170 1102.1L170.8 1102.5L171.6 1099.2L172.4 1098.5L173.1 1098.6L173.9 1098.4L174.7 1096.9L175.4 1095.2L176.2 1094.5L177 1095.1L177.8 1096.9L178.5 1097.4L179.3 1096.3L180.1 1097L180.8 1097.3L181.6 1099.1L182.4 1098.7L183.2 1097.7L183.9 1097.9L184.7 1099L185.5 1099.5L186.3 1100.7L187 1099.3L187.8 1099.3L188.6 1100L189.3 1101.5L190.1 1101.1L190.9 1099.9L191.7 1100.2L192.4 1101.1L193.2 1102.1L194 1102L194.7 1100.8L195.5 1102.6L196.3 1105.2L197.1 1108.3L197.8 1110.7L198.6 1110.8L199.4 1113.2L200.2 1116.3L200.9 1117.2L201.7 1115.8L202.5 1113.4L203.2 1112.8L204 1113.1L204.8 1112.4L205.6 1110.9L206.3 1109.3L207.1 1109.9L207.9 1110.3L208.6 1110.5L209.4 1110.2L210.2 1110.1L211 1113.8L211.7 1116.6L212.5 1120L213.3 1122.9L214.1 1123.3L214.8 1126.1L215.6 1128.5L216.4 1131.7L217.1 1132.5L217.9 1132.8L218.7 1136.1L219.5 1134L220.2 1132.2L221 1127.3L221.8 1122.9L222.5 1123.3L223.3 1123.1L224.1 1123.1L224.9 1121.7L225.6 1119.7L226.4 1121.1L227.2 1122.2L228 1123.2L228.7 1123.5L229.5 1120.1L230.3 1118.9L231 1116.7L231.8 1115.8L232.6 1112.7L233.4 1109.7L234.1 1110.3L234.9 1110.2L235.7 1110.3L236.4 1107.9L237.2 1105.5L238 1105L238.8 1104.9L239.5 1105.8L240.3 1103.2L241.1 1100.7L241.9 1101.5L242.6 1101.6L243.4 1102.1L244.2 1098.9L244.9 1098.4L245.7 1099.4L246.5 1100.7L247.3 1102.4L248 1101.9L248.8 1101.2L249.6 1103.8L250.3 1105.8L251.1 1108.1L251.9 1107.2L252.7 1106.4L253.4 1107L254.2 1107.9L255 1108.5L255.8 1106.1L256.5 1104.6L257.3 1105L258.1 1105.5L258.8 1105.5L259.6 1104L260.4 1104L261.2 1105.3L261.9 1106.8L262.7 1108.6L263.5 1107.9L264.2 1107.7L265 1109.8L265.8 1111.1L266.6 1112.7L267.3 1111.3L268.1 1111.6L268.9 1113L269.7 1114.7L270.4 1114.6L271.2 1114.5L272 1114.8L272.7 1115.8L273.5 1117.1L274.3 1118.1L275.1 1117.3L275.8 1118.1L276.6 1119L276.6 1124.6L275.8 1123.7L275.1 1123.6L274.3 1124.8L273.5 1124.3L272.7 1123.6L272 1121.7L271.2 1121.8L270.4 1122.8L269.7 1121.6L268.9 1120.2L268.1 1119.1L267.3 1119.2L266.6 1119.9L265.8 1119L265 1117.4L264.2 1115.8L263.5 1115.4L262.7 1116.1L261.9 1114.2L261.2 1112.3L260.4 1110.9L259.6 1110.6L258.8 1112.4L258.1 1112.2L257.3 1111.8L256.5 1111.2L255.8 1112.6L255 1114.9L254.2 1114.5L253.4 1114.3L252.7 1113.8L251.9 1114.4L251.1 1115L250.3 1113.2L249.6 1111.5L248.8 1109.3L248 1109.8L247.3 1110.8L246.5 1110L245.7 1108.6L244.9 1107.6L244.2 1108.4L243.4 1110.3L242.6 1110.2L241.9 1109.5L241.1 1108.8L240.3 1111.8L239.5 1113.6L238.8 1113.7L238 1112.8L237.2 1112.8L236.4 1115.2L235.7 1117.7L234.9 1117.5L234.1 1118L233.4 1118.3L232.6 1120.3L231.8 1123.7L231 1124.8L230.3 1126.3L229.5 1128.2L228.7 1131.1L228 1131.8L227.2 1130.6L226.4 1129.9L225.6 1129.6L224.9 1131L224.1 1132.5L223.3 1133.1L222.5 1132.4L221.8 1132.7L221 1136.9L220.2 1141.5L219.5 1144.9L218.7 1147L217.9 1143.4L217.1 1143.7L216.4 1142.3L215.6 1138.6L214.8 1135.5L214.1 1132.6L213.3 1131.1L212.5 1129.4L211.7 1125.6L211 1121.3L210.2 1118.1L209.4 1117.2L208.6 1118.1L207.9 1117.4L207.1 1116.4L206.3 1116.4L205.6 1117.9L204.8 1120.1L204 1120.3L203.2 1121.1L202.5 1122.8L201.7 1125.3L200.9 1127.1L200.2 1127.4L199.4 1123.7L198.6 1120.7L197.8 1119.9L197.1 1117.6L196.3 1113.8L195.5 1110.6L194.7 1108.8L194 1109.5L193.2 1109.9L192.4 1109.1L191.7 1108.1L190.9 1107.7L190.1 1108.3L189.3 1108.6L188.6 1107.6L187.8 1105.8L187 1106.2L186.3 1107.6L185.5 1108.3L184.7 1107.7L183.9 1107.2L183.2 1107.2L182.4 1108.3L181.6 1108.2L180.8 1107.4L180.1 1106.8L179.3 1106.4L178.5 1107.5L177.8 1107.3L177 1106.2L176.2 1104.8L175.4 1105.4L174.7 1107.5L173.9 1107.3L173.1 1107L172.4 1106.5L171.6 1107L170.8 1109.1L170 1110.3L169.3 1110.3L168.5 1111.3L167.7 1112.3L166.9 1114.6L166.2 1114.9L165.4 1115.6L164.6 1116.2L163.9 1117.9L163.1 1121.4L162.3 1122.9L161.5 1123.5L160.8 1124.8L160 1126.6L159.2 1127.7L158.5 1125.7L157.7 1124.1L156.9 1121.7L156.1 1120.8L155.4 1120.5L154.6 1119.1L153.8 1116.6L153 1117.3L152.3 1119.8L151.5 1123.3L150.7 1125.3L150 1126.9L149.2 1127.9L148.4 1131.2L147.6 1130.4L146.9 1127.1L146.1 1123.2L145.3 1120.3L144.6 1118.2L143.8 1116.1L143 1114.3L142.2 1111.5L141.5 1108.8L140.7 1108.8L139.9 1110.1L139.1 1109.4L138.4 1109.3L137.6 1108.7L136.8 1109.8L136.1 1111.4L135.3 1110.9L134.5 1109.8L133.7 1109.4L133 1109.9L132.2 1111.5L131.4 1111.1L130.7 1110.3L129.9 1109.3L129.1 1109.6L128.3 1111.3Z" fill="#c7eae5" stroke="#c7eae5" stroke-width="0.6" stroke-linejoin="round"/><path d="M277 1120L277.2 1166.5L277.6 1120" fill="none" stroke="#c7eae5" stroke-width="2" stroke-linejoin="round" stroke-linecap="butt"/><path d="M182.9 1106L183.3 1127.7L183.7 1106" fill="none" stroke="#c7eae5" stroke-width="2" stroke-linejoin="round" stroke-linecap="butt"/><path d="M279.7 1111.3L280.4 1113.4L281.2 1115.3L282 1116.6L282.8 1115.5L283.5 1115.4L284.3 1115.6L285.1 1116.3L285.9 1116.5L286.6 1114.7L287.4 1113.7L288.2 1114.4L289 1115.1L289.7 1114.9L290.5 1113L291.3 1112.4L292 1112.9L292.8 1113.9L293.6 1113.8L294.4 1112.1L295.1 1112L295.9 1116.1L296.7 1119.8L297.5 1122.8L298.2 1124.6L299 1124.6L299.8 1125.3L300.6 1125.6L301.3 1125.3L302.1 1123.5L302.9 1122.1L303.7 1121.8L304.4 1121.3L305.2 1120.5L306 1117.1L306.7 1116.3L307.5 1115.7L308.3 1115L309.1 1112.5L309.8 1108.5L310.6 1107.2L311.4 1106.5L312.2 1105.6L312.9 1102.5L313.7 1099.1L314.5 1099.2L315.3 1099.5L316 1100.2L316.8 1099.1L317.6 1097.2L318.4 1098.4L319.1 1099.9L319.9 1101.3L320.7 1101.1L321.4 1100.7L322.2 1101.6L323 1103.1L323.8 1103.9L324.5 1103.9L325.3 1101.3L326.1 1102.3L326.9 1103.2L327.6 1104.1L328.4 1102.8L329.2 1100.1L330 1100.3L330.7 1100.7L331.5 1100.5L332.3 1098.3L333.1 1096L333.8 1096L334.6 1096.3L335.4 1096L336.1 1095.4L336.9 1095.5L337.7 1097.6L338.5 1099.7L339.2 1102.3L340 1102.6L340.8 1102.7L341.6 1105.1L342.3 1106L343.1 1107.3L343.9 1106.5L344.7 1105.2L345.4 1106.1L346.2 1107.1L347 1108.4L347.8 1107.2L348.5 1105.9L349.3 1107.2L350.1 1108.1L350.8 1109.3L351.6 1107.5L352.4 1106.7L353.2 1107.5L353.9 1108.4L354.7 1109.4L355.5 1112.2L356.3 1111.2L357 1112.2L357.8 1113.3L358.6 1113.7L359.4 1112L360.1 1111.1L360.9 1111.9L361.7 1113L362.5 1112.6L363.2 1110.1L364 1108.7L364.8 1108.5L365.5 1109L366.3 1108.7L367.1 1106.3L367.9 1106.4L368.6 1107.7L369.4 1109.3L370.2 1110.2L371 1109.3L371.7 1109.4L372.5 1110.7L373.3 1112.1L374.1 1113.9L374.8 1112.5L375.6 1111.7L376.4 1112.3L377.2 1113L377.9 1111.8L378.7 1110L379.5 1109.6L380.3 1110.9L381 1111.9L381.8 1113.3L382.6 1111.9L383.3 1112.2L384.1 1113.3L384.9 1114.9L385.7 1115.5L385.7 1125.9L384.9 1125.3L384.1 1123.8L383.3 1122.4L382.6 1122.6L381.8 1123.7L381 1123.3L380.3 1121.8L379.5 1120.7L378.7 1120.7L377.9 1122.6L377.2 1122.7L376.4 1122.5L375.6 1121.9L374.8 1122.4L374.1 1124L373.3 1123.2L372.5 1121.8L371.7 1120.3L371 1120.4L370.2 1121.3L369.4 1120.1L368.6 1118.4L367.9 1117.1L367.1 1117L366.3 1119.5L365.5 1119.6L364.8 1119.4L364 1119.4L363.2 1120.9L362.5 1123.5L361.7 1123.7L360.9 1122.7L360.1 1121.8L359.4 1122.6L358.6 1124.5L357.8 1123.7L357 1122.4L356.3 1121.6L355.5 1122.9L354.7 1119.5L353.9 1118.8L353.2 1118L352.4 1117L351.6 1118.1L350.8 1118.9L350.1 1117.7L349.3 1116.6L348.5 1115.7L347.8 1116.8L347 1118.1L346.2 1117L345.4 1116.2L344.7 1114.8L343.9 1116.2L343.1 1117.5L342.3 1116.2L341.6 1115.2L340.8 1112.8L340 1112.7L339.2 1112.6L338.5 1110.2L337.7 1108.4L336.9 1105.9L336.1 1105.7L335.4 1106.2L334.6 1106.2L333.8 1106L333.1 1105.9L332.3 1108.5L331.5 1110.1L330.7 1110.2L330 1109.8L329.2 1109.8L328.4 1112.5L327.6 1113.3L326.9 1112.7L326.1 1111.6L325.3 1110.6L324.5 1112.8L323.8 1114.2L323 1113.1L322.2 1112L321.4 1110.5L320.7 1111.2L319.9 1111.5L319.1 1110.1L318.4 1108.4L317.6 1107.4L316.8 1109.1L316 1110.1L315.3 1109.5L314.5 1109.3L313.7 1109.5L312.9 1112.9L312.2 1114.9L311.4 1115.7L310.6 1116.6L309.8 1117.9L309.1 1121.7L308.3 1124.2L307.5 1125L306.7 1125.2L306 1126.4L305.2 1129.6L304.4 1131.7L303.7 1131.9L302.9 1132.6L302.1 1133.6L301.3 1135.8L300.6 1136.3L299.8 1135.5L299 1134.8L298.2 1134.6L297.5 1133.3L296.7 1129.8L295.9 1126L295.1 1121.8L294.4 1121.9L293.6 1123.7L292.8 1123.8L292 1123.1L291.3 1122.6L290.5 1123.1L289.7 1124.7L289 1124.9L288.2 1123.8L287.4 1123.2L286.6 1123.9L285.9 1126.1L285.1 1126.1L284.3 1125.7L283.5 1124.8L282.8 1125.4L282 1126.2L281.2 1124.7L280.4 1122.9L279.7 1121Z" fill="#c7eae5" stroke="#c7eae5" stroke-width="0.6" stroke-linejoin="round"/><path d="M389.7 1118.6L390.4 1117.9L391.2 1119.1L392 1120.6L392.7 1122.2L393.5 1122.8L394.3 1122.4L395.1 1123.5L395.8 1124.9L396.6 1125.9L397.4 1124.4L398.1 1122L398.9 1121.5L399.7 1121.4L400.4 1121.3L401.2 1120.3L402 1117.9L402.8 1119.4L403.5 1121L404.3 1122.8L405.1 1122.6L405.8 1121.8L406.6 1123L407.4 1124.6L408.2 1126.3L408.9 1126.3L409.7 1124.1L410.5 1124.6L411.2 1125.3L412 1126.2L412.8 1125L413.5 1123L414.3 1123.2L415.1 1123.2L415.9 1123.5L416.6 1122.3L417.4 1120.4L418.2 1120.1L418.9 1120.3L419.7 1120.5L420.5 1119.2L421.2 1116.5L422 1116.9L422.8 1116.8L423.6 1117.1L424.3 1115.8L425.1 1113.1L425.9 1113.4L426.6 1115L427.4 1116.7L428.2 1116.8L428.9 1115.2L429.7 1116.9L430.5 1118.8L431.3 1120.6L432 1119.7L432.8 1119L433.6 1120.4L434.3 1121.8L435.1 1123.4L435.9 1123.8L436.6 1122.4L437.4 1124.4L438.2 1125.8L439 1127.9L439.7 1127.8L440.5 1126.6L441.3 1128.1L442 1130.1L442.8 1131.6L443.6 1131L444.3 1129.9L445.1 1131.2L445.9 1133.2L446.7 1135L447.4 1133.6L448.2 1132.5L449 1134.3L449.7 1136.2L450.5 1137.9L451.3 1136.8L452 1136.6L452.8 1137.8L453.6 1139.4L454.4 1141.2L455.1 1140.9L455.9 1140.4L456.7 1141.7L457.4 1143.2L458.2 1144.6L459 1144.6L459.8 1143.6L460.5 1145.1L461.3 1145.8L462.1 1145.9L462.8 1143.9L463.6 1141.8L464.4 1142.5L465.1 1142.9L465.9 1143.5L466.7 1142.4L467.5 1141.2L468.2 1142.8L469 1144.3L469.8 1145.6L470.5 1144.2L471.3 1142.8L472.1 1142.6L472.8 1142.9L473.6 1143L474.4 1140.4L475.2 1138.6L475.9 1138.6L476.7 1138.4L477.5 1138.7L478.2 1136.3L479 1134.8L479.8 1135.2L480.5 1135.7L481.3 1136.2L482.1 1133.5L482.9 1132.6L483.6 1132.5L484.4 1133L485.2 1133.3L485.9 1132.2L486.7 1130.9L487.5 1130.9L488.2 1131.7L489 1132.1L489.8 1131.2L490.6 1130.9L491.3 1132.2L492.1 1133.5L492.9 1135L493.6 1134.3L494.4 1134L495.2 1135.7L495.9 1137L496.7 1138.6L497.5 1138L498.3 1137.6L499 1139.2L499.8 1141L500.6 1143L501.3 1142L502.1 1142.2L502.9 1144.2L503.7 1146.1L504.4 1147.5L505.2 1146.9L506 1146.2L506.7 1146.7L507.5 1146.9L508.3 1147.1L509 1144.6L509.8 1143.2L510.6 1143.9L511.4 1144.2L512.1 1143.2L512.9 1140.7L513.7 1139.3L514.4 1139L515.2 1138.7L516 1138.4L516.7 1136L517.5 1135.3L518.3 1135.5L519.1 1135.4L519.8 1135.8L520.6 1134L521.4 1133L522.1 1133.2L522.9 1133.6L523.7 1136.1L524.4 1135L525.2 1135.6L526 1138L526.8 1140.3L527.5 1142.1L528.3 1141.3L529.1 1142L529.8 1142.3L530.6 1142.4L531.4 1141.8L532.1 1139.3L532.9 1138.4L533.7 1138.3L534.5 1138.5L535.2 1138.7L536 1136.7L536.8 1135.7L537.5 1136.3L538.3 1136.7L539.1 1137.2L539.8 1134.7L540.6 1133.9L541.4 1134.8L542.2 1135.4L542.9 1134.4L543.7 1133.7L544.5 1133.6L545.2 1135.2L546 1136.9L546.8 1137.3L547.5 1136.8L548.3 1137.1L549.1 1138.6L549.9 1139.8L550.6 1141.7L551.4 1140.4L552.2 1140.3L552.9 1141.9L553.7 1143.3L554.5 1143.3L555.3 1142.9L556 1142.9L556.8 1143.6L557.6 1143.4L558.3 1143.5L559.1 1141.2L559.9 1140.4L560.6 1140.1L561.4 1140.6L562.2 1140L563 1137.5L563.7 1137.2L564.5 1138L565.3 1138.9L566 1138.3L566.8 1137L567.6 1137L568.3 1137.4L569.1 1138L569.9 1139L570.7 1136.9L571.4 1136.9L572.2 1137.7L573 1138.7L573.7 1138.1L574.5 1136.4L575.3 1136.3L576 1137L576.8 1137.8L577.6 1137.2L578.4 1136.1L579.1 1136.2L579.9 1137.3L580.7 1138.7L581.4 1140.3L582.2 1139.3L583 1140.1L583.7 1141.6L584.5 1143.4L585.3 1145.2L586.1 1145.8L586.8 1147.8L587.6 1150.8L588.4 1151L589.1 1150.2L589.9 1148.3L590.7 1147.6L591.4 1147.9L592.2 1147.6L593 1147L593.8 1145.5L594.5 1147.8L595.3 1150.6L596.1 1151.9L596.8 1152.3L597.6 1151.8L598.4 1151.3L599.2 1150.8L599.9 1150.6L600.7 1150.3L601.5 1147.2L602.2 1146.1L603 1146.1L603.8 1147.1L604.5 1145.1L605.3 1143L606.1 1142.6L606.9 1142.9L607.6 1143.1L608.4 1143.2L609.2 1142.6L609.9 1143.7L610.7 1144.9L611.5 1146.4L612.2 1146.8L613 1145.9L613.8 1147.1L614.6 1148.2L615.3 1150L616.1 1150L616.9 1149L617.6 1148.7L618.4 1148.6L619.2 1148.7L619.9 1147.8L620.7 1145.1L621.5 1144.7L622.3 1145.1L623 1146.1L623.8 1145.3L624.6 1144.1L625.3 1144.2L626.1 1145.1L626.9 1146.1L627.6 1145.3L628.4 1144L629.2 1144L630 1144.2L630.7 1145L631.5 1144.1L632.3 1142.8L633 1142.8L633.8 1143.4L634.6 1143.9L635.3 1144L636.1 1142L636.9 1143L637.7 1144L638.4 1145.2L639.2 1144.3L640 1142.6L640.7 1143.5L641.5 1144.8L642.3 1145.3L643 1144.8L643.8 1142.7L644.6 1143.4L645.4 1144.2L646.1 1145.1L646.9 1143.9L647.7 1142.1L648.4 1142.9L649.2 1143.4L650 1144.8L650.8 1143.6L651.5 1142.7L652.3 1143.8L653.1 1145.2L653.8 1146.1L654.6 1146.5L655.4 1145.3L656.1 1147.7L656.9 1149.8L657.7 1151.9L658.5 1150.8L659.2 1150.4L660 1151.6L660.8 1152.5L661.5 1153.9L662.3 1152.8L663.1 1151.8L663.8 1152.5L664.6 1151L665.4 1149.8L666.2 1146.7L666.9 1143.5L667.7 1141.8L668.5 1140.4L669.2 1139.6L670 1136.5L670.8 1135.1L671.5 1135.2L672.3 1135.2L673.1 1135.4L673.9 1134.7L674.6 1132.3L675.4 1133.4L676.2 1134.8L676.9 1136.4L677.7 1135L678.5 1133.8L679.2 1135.1L680 1136.4L680.8 1137.5L681.6 1136.7L682.3 1135.7L683.1 1137.6L683.9 1138.6L684.6 1140.4L685.4 1139.7L686.2 1138.5L686.9 1140L687.7 1140.9L688.5 1142.4L689.3 1141.2L690 1140.4L690.8 1141.7L691.6 1143.2L692.3 1144.3L693.1 1143.2L693.9 1142.8L694.7 1144.3L695.4 1146.1L696.2 1147.6L697 1147.2L697.7 1146.4L698.5 1148.4L699.3 1149.7L700 1150.4L700.8 1148.6L701.6 1147.2L702.4 1147.9L703.1 1148.5L703.9 1149.2L704.7 1147.6L705.4 1146.4L706.2 1147L707 1148.2L707.7 1148.9L708.5 1147.1L709.3 1145.6L710.1 1146.5L710.8 1147.4L711.6 1147.7L712.4 1145.8L713.1 1144.8L713.9 1145.4L714.7 1146L715.4 1146.2L716.2 1145L717 1144.4L717.8 1145.9L718.5 1147.1L719.3 1149.1L720.1 1147.2L720.8 1146.7L721.6 1148.5L722.4 1149.5L723.1 1150.8L723.9 1148.9L724.7 1148.1L725.5 1149.3L726.2 1150.3L727 1151.2L727.8 1149.4L728.5 1148.5L729.3 1149.5L730.1 1150L730.8 1149.9L731.6 1148L732.4 1147L733.2 1147.4L733.9 1148.1L734.7 1150.1L735.5 1150.1L736.2 1151L737 1153.6L737.8 1154.3L738.5 1153.8L739.3 1151.5L740.1 1150.3L740.9 1150.8L741.6 1150.9L742.4 1152.3L743.2 1150.6L743.9 1150.4L744.7 1151.4L745.5 1153L746.3 1153.1L747 1152L747.8 1151.9L748.6 1152.8L749.3 1153.9L750.1 1154.7L750.9 1153.7L751.6 1153.6L752.4 1153.5L753.2 1153.1L754 1152.7L754.7 1150.4L755.5 1149.5L756.3 1150.6L757 1151.7L757.8 1152.3L758.6 1150.9L759.3 1150.1L760.1 1151.3L760.9 1152.6L761.7 1152.3L762.4 1150.2L763.2 1149.4L764 1149L764.7 1149.1L765.5 1149.6L766.3 1147.7L767 1147.8L767.8 1149.3L768.6 1151.2L769.4 1151L770.1 1149.9L770.9 1150.1L771.7 1151.5L771.7 1162.4L770.9 1161L770.1 1160.6L769.4 1161.4L768.6 1160.6L767.8 1158.6L767 1157.2L766.3 1156.8L765.5 1158.2L764.7 1159.4L764 1159.4L763.2 1159.2L762.4 1160.3L761.7 1162.4L760.9 1162L760.1 1160.7L759.3 1159.5L758.6 1159.7L757.8 1161L757 1160.6L756.3 1159.9L755.5 1158.5L754.7 1159.2L754 1162L753.2 1162.8L752.4 1163L751.6 1163.4L750.9 1163.3L750.1 1164.5L749.3 1164.1L748.6 1162.9L747.8 1161.8L747 1162L746.3 1163.1L745.5 1162.2L744.7 1160.7L743.9 1159.6L743.2 1160.2L742.4 1161.7L741.6 1160.7L740.9 1160.5L740.1 1160.6L739.3 1161.8L738.5 1163.8L737.8 1163.9L737 1163.6L736.2 1161.7L735.5 1161.7L734.7 1163.3L733.9 1162.2L733.2 1161.1L732.4 1160.3L731.6 1160.8L730.8 1162.2L730.1 1161.2L729.3 1159.8L728.5 1158.8L727.8 1159.2L727 1160.9L726.2 1159.9L725.5 1158.9L724.7 1157.2L723.9 1158.3L723.1 1159.9L722.4 1159L721.6 1157.7L720.8 1156.2L720.1 1156.8L719.3 1158.8L718.5 1158L717.8 1156.7L717 1155.6L716.2 1156.3L715.4 1157.4L714.7 1156.9L713.9 1156.2L713.1 1155.4L712.4 1156.2L711.6 1157.9L710.8 1157.1L710.1 1156.5L709.3 1156.4L708.5 1157.6L707.7 1159.7L707 1159.2L706.2 1159L705.4 1158.4L704.7 1159.6L703.9 1160.9L703.1 1160.3L702.4 1159.8L701.6 1158.9L700.8 1159.9L700 1161.4L699.3 1160.4L698.5 1159L697.7 1157.1L697 1157.7L696.2 1158.8L695.4 1156.9L694.7 1155.3L693.9 1153.9L693.1 1154.3L692.3 1155.1L691.6 1153.6L690.8 1151.9L690 1150.8L689.3 1151.8L688.5 1153.3L687.7 1151.9L686.9 1150.9L686.2 1149.9L685.4 1150.8L684.6 1151.3L683.9 1150L683.1 1148.3L682.3 1147.3L681.6 1147.5L680.8 1148.3L680 1147L679.2 1145.7L678.5 1144.9L677.7 1145.9L676.9 1147.4L676.2 1145.9L675.4 1145L674.6 1143.7L673.9 1145.4L673.1 1147.4L672.3 1147L671.5 1146.3L670.8 1146L670 1147L669.2 1149.3L668.5 1150.8L667.7 1152.2L666.9 1154L666.2 1157.6L665.4 1160.8L664.6 1162.4L663.8 1164.4L663.1 1163.9L662.3 1164.7L661.5 1165.1L660.8 1163.8L660 1163L659.2 1161.5L658.5 1162.1L657.7 1161.9L656.9 1159.9L656.1 1157.5L655.4 1155.2L654.6 1156.5L653.8 1157.4L653.1 1156.3L652.3 1155L651.5 1153.9L650.8 1154.5L650 1154.8L649.2 1153.8L648.4 1153.1L647.7 1152.2L646.9 1154L646.1 1155.1L645.4 1154.1L644.6 1153.7L643.8 1152.8L643 1154.8L642.3 1156L641.5 1155.2L640.7 1154.1L640 1152.9L639.2 1154.2L638.4 1154.8L637.7 1153.6L636.9 1152.3L636.1 1151.4L635.3 1153.3L634.6 1154.4L633.8 1153.8L633 1153.3L632.3 1153L631.5 1155L630.7 1155.6L630 1155.5L629.2 1154.8L628.4 1154.6L627.6 1156.4L626.9 1156.8L626.1 1156.1L625.3 1155.3L624.6 1154.9L623.8 1156.6L623 1157L622.3 1156.3L621.5 1155.5L620.7 1155.9L619.9 1158.5L619.2 1160.2L618.4 1160.3L617.6 1160.3L616.9 1160.6L616.1 1161.3L615.3 1160.9L614.6 1159.4L613.8 1157.5L613 1156.7L612.2 1157.5L611.5 1157.2L610.7 1155.9L609.9 1154.3L609.2 1153.6L608.4 1154.2L607.6 1154L606.9 1153.5L606.1 1153.1L605.3 1152.8L604.5 1155L603.8 1155.1L603 1154.3L602.2 1154.7L601.5 1155.9L600.7 1159.3L599.9 1161.1L599.2 1161.9L598.4 1162.6L597.6 1163.4L596.8 1164.4L596.1 1163.5L595.3 1162.2L594.5 1159.9L593.8 1158.3L593 1160.2L592.2 1160.9L591.4 1160.9L590.7 1161.1L589.9 1161.7L589.1 1163.2L588.4 1164L587.6 1163.5L586.8 1160.8L586.1 1159L585.3 1158.3L584.5 1156.5L583.7 1154.4L583 1152.7L582.2 1151.9L581.4 1152.6L580.7 1152.4L579.9 1151.1L579.1 1149.4L578.4 1149.5L577.6 1150.4L576.8 1150.4L576 1149.9L575.3 1148.9L574.5 1149.2L573.7 1150.8L573 1150.8L572.2 1149.7L571.4 1149L570.7 1148.8L569.9 1151.1L569.1 1151.5L568.3 1150.8L567.6 1149.8L566.8 1150.3L566 1151.5L565.3 1151.6L564.5 1150.9L563.7 1150.1L563 1150.6L562.2 1152.5L561.4 1153.1L560.6 1153.3L559.9 1152.7L559.1 1154L558.3 1156L557.6 1156.7L556.8 1156.5L556 1156.4L555.3 1156.1L554.5 1156.5L553.7 1155.8L552.9 1154.5L552.2 1152.8L551.4 1152.4L550.6 1153.7L549.9 1153.1L549.1 1151.8L548.3 1150.8L547.5 1150.4L546.8 1150.9L546 1149.8L545.2 1148.3L544.5 1146.9L543.7 1146.5L542.9 1147.2L542.2 1147.3L541.4 1146.4L540.6 1146L539.8 1146.6L539.1 1149.1L538.3 1149.6L537.5 1149.2L536.8 1148.4L536 1149.5L535.2 1151.4L534.5 1151.4L533.7 1151.5L532.9 1151.6L532.1 1152.6L531.4 1154.7L530.6 1154.6L529.8 1154.6L529.1 1154.3L528.3 1153.7L527.5 1154.5L526.8 1152.3L526 1150.2L525.2 1147.7L524.4 1147.1L523.7 1148L522.9 1146.4L522.1 1145.9L521.4 1145.7L520.6 1146.7L519.8 1148.7L519.1 1148.8L518.3 1148.5L517.5 1148.5L516.7 1149.2L516 1151.5L515.2 1151.6L514.4 1152L513.7 1152L512.9 1153.5L512.1 1156.2L511.4 1156.1L510.6 1156L509.8 1155.8L509 1157.3L508.3 1159.6L507.5 1159.7L506.7 1159.1L506 1158.8L505.2 1159.6L504.4 1159.9L503.7 1158.3L502.9 1156.2L502.1 1154.1L501.3 1154.5L500.6 1155.2L499.8 1153.5L499 1152.2L498.3 1150.2L497.5 1150.5L496.7 1151.4L495.9 1149.6L495.2 1148.3L494.4 1146.8L493.6 1147.1L492.9 1148.1L492.1 1146.7L491.3 1145.5L490.6 1144L489.8 1144.3L489 1144.9L488.2 1144.4L487.5 1143.9L486.7 1143.7L485.9 1144.9L485.2 1146.8L484.4 1146.6L483.6 1146.2L482.9 1145.6L482.1 1146.9L481.3 1148.8L480.5 1148.2L479.8 1147.5L479 1147.2L478.2 1149.1L477.5 1151.2L476.7 1151.3L475.9 1151.3L475.2 1151L474.4 1153.3L473.6 1155.5L472.8 1155.1L472.1 1155.3L471.3 1154.8L470.5 1156.4L469.8 1157.7L469 1156.4L468.2 1154.9L467.5 1153.5L466.7 1154.5L465.9 1155.7L465.1 1154.9L464.4 1154.6L463.6 1153.8L462.8 1156.1L462.1 1158.2L461.3 1157.9L460.5 1157.1L459.8 1155.9L459 1157.1L458.2 1157.8L457.4 1156.4L456.7 1155.1L455.9 1153.6L455.1 1153.8L454.4 1154.2L453.6 1152.8L452.8 1151.4L452 1149.6L451.3 1150.2L450.5 1150.1L449.7 1148.5L449 1146.8L448.2 1145.2L447.4 1146.3L446.7 1147L445.9 1144.9L445.1 1143.4L444.3 1141.4L443.6 1142.8L442.8 1143.5L442 1142.1L441.3 1140.1L440.5 1138.5L439.7 1139.4L439 1139.8L438.2 1138L437.4 1136.5L436.6 1135L435.9 1135.8L435.1 1136.4L434.3 1134.8L433.6 1133L432.8 1131.4L432 1132.5L431.3 1132.5L430.5 1130.7L429.7 1129L428.9 1127.4L428.2 1128.6L427.4 1129L426.6 1127.2L425.9 1125.2L425.1 1124.7L424.3 1127.9L423.6 1129.3L422.8 1129.2L422 1129.5L421.2 1129.1L420.5 1131.8L419.7 1133.2L418.9 1133.3L418.2 1132.9L417.4 1133.1L416.6 1135.3L415.9 1136.3L415.1 1136.3L414.3 1135.8L413.5 1135.7L412.8 1137.4L412 1138.5L411.2 1137.4L410.5 1136.6L409.7 1136.3L408.9 1138.2L408.2 1139.4L407.4 1137.9L406.6 1135.9L405.8 1135L405.1 1135.7L404.3 1135.2L403.5 1133.3L402.8 1131.9L402 1130.5L401.2 1132.5L400.4 1134.3L399.7 1134.4L398.9 1134.8L398.1 1135.3L397.4 1137.7L396.6 1138.9L395.8 1138.2L395.1 1136.3L394.3 1135.2L393.5 1135.7L392.7 1135.5L392 1133.8L391.2 1132.2L390.4 1131.1L389.7 1131.6Z" fill="#c7eae5" stroke="#c7eae5" stroke-width="0.6" stroke-linejoin="round"/><path d="M699 1147.5L699.8 1148L700.5 1146.7L701.3 1144.9L702.1 1144.8L702.9 1145.4L703.6 1145.9L704.4 1144.9L705.2 1143.1L705.9 1143.4L706.7 1144.1L707.5 1144.9L708.2 1144.2L709 1142.1L709.8 1142.3L710.6 1143L711.3 1143.8L712.1 1142.5L712.9 1140.6L713.6 1141.5L714.4 1142.1L715.2 1142.6L716 1141.9L716.7 1140.8L717.5 1142.3L718.3 1143.4L719 1144.3L719.8 1144.4L720.6 1142.7L721.4 1144.2L722.1 1145.5L722.9 1146.7L723.7 1145.7L724.4 1143.7L725.2 1144.6L726 1145.9L726.8 1147.1L727.5 1145.7L728.3 1143.9L729.1 1145.4L729.8 1147.1L730.6 1148.6L731.4 1147.6L732.1 1146.3L732.9 1147.7L733.7 1148.8L734.5 1150.4L735.2 1150L736 1148L736.8 1148.8L737.5 1149.6L738.3 1150.3L739.1 1148.5L739.9 1146.8L740.6 1147.5L741.4 1148.1L742.2 1149L742.9 1148.7L743.7 1147.7L744.5 1149.5L745.2 1151L746 1152.2L746.8 1151.3L747.6 1150.5L748.3 1151.9L749.1 1152.2L749.9 1152.7L750.6 1151.5L751.4 1150.4L752.2 1150.8L753 1151.7L753.7 1152.2L754.5 1150.5L755.3 1149.2L756 1150.1L756.8 1151.1L757.6 1152.1L758.4 1150.7L759.1 1149.8L759.9 1150.6L760.7 1151.9L761.4 1152.8L762.2 1150.2L763 1148.1L763.8 1148L764.5 1147.9L765.3 1147.8L766.1 1146.9L766.8 1146.1L767.6 1147.7L768.4 1149.3L769.1 1149.8L769.9 1148.6L770.7 1148.2L771.5 1149.9L772.2 1151L773 1152.5L773 1162.1L772.2 1161L771.5 1159.8L770.7 1158.3L769.9 1159L769.1 1160.1L768.4 1158.3L767.6 1156.8L766.8 1155.3L766.1 1155.7L765.3 1157.9L764.5 1158L763.8 1158L763 1158.2L762.2 1159.8L761.4 1161.5L760.7 1160.4L759.9 1159.3L759.1 1158.1L758.4 1158.8L757.6 1160.4L756.8 1159L756 1158.4L755.3 1157.2L754.5 1158.3L753.7 1160.3L753 1160.2L752.2 1160L751.4 1159.5L750.6 1161.5L749.9 1163L749.1 1163.1L748.3 1162.6L747.6 1161.8L746.8 1162.2L746 1163L745.2 1161.7L744.5 1159.8L743.7 1158.7L742.9 1159.6L742.2 1160.8L741.4 1159.5L740.6 1159.4L739.9 1158.8L739.1 1160.3L738.3 1162.1L737.5 1161.4L736.8 1160.4L736 1159.8L735.2 1162.2L734.5 1163.5L733.7 1162.3L732.9 1161.3L732.1 1159.8L731.4 1160.9L730.6 1161.6L729.8 1160L729.1 1158.6L728.3 1157.1L727.5 1159L726.8 1159.7L726 1158.4L725.2 1157.4L724.4 1156.1L723.7 1157.7L722.9 1158.4L722.1 1157.6L721.4 1156.1L720.6 1155.1L719.8 1156.4L719 1157.5L718.3 1156.6L717.5 1155.6L716.7 1154.8L716 1156L715.2 1156.4L714.4 1155.6L713.6 1155.1L712.9 1154.5L712.1 1156.4L711.3 1157.6L710.6 1156.9L709.8 1156L709 1155.9L708.2 1157.8L707.5 1158.9L706.7 1158.4L705.9 1157.7L705.2 1157.2L704.4 1158.8L703.6 1160.1L702.9 1158.8L702.1 1158.2L701.3 1157.6L700.5 1159.5L699.8 1160.1L699 1159Z" fill="#c7eae5" stroke="#c7eae5" stroke-width="0.6" stroke-linejoin="round"/><path d="M774.4 1156L774.8 1180" fill="none" stroke="#c7eae5" stroke-width="2.4" stroke-linejoin="round" stroke-linecap="butt"/><path d="M775.3 1177.6L776 1179.3L776.8 1180.6L777.6 1179.1L778.3 1178.8L779.1 1180.5L779.9 1181.9L780.7 1182.8L781.4 1182.6L782.2 1182.5L783 1184.3L783.7 1187.5L784.5 1191.4L785.3 1193L786.1 1194.9L786.8 1198.1L787.6 1199.9L788.4 1200.6L789.1 1199.9L789.9 1199L790.7 1198.1L791.4 1196.9L792.2 1198.8L793 1198L793.8 1198.6L794.5 1201.1L795.3 1202.4L796.1 1202.8L796.8 1201.6L797.6 1201.6L798.4 1201.9L799.2 1202.6L799.9 1203.4L800.7 1202.6L801.5 1202.6L802.2 1203.6L803 1204.2L803.8 1203.4L804.5 1201.4L805.3 1200.2L806.1 1200.1L806.9 1199.6L807.6 1202L808.4 1203.4L809.2 1205.7L809.9 1208.7L810.7 1211.2L811.5 1213.4L812.3 1213.6L813 1214.6L813.8 1214.5L814.6 1214.1L815.3 1214.2L816.1 1212.8L816.9 1213.6L817.6 1216.5L818.4 1218.9L819.2 1220.3L820 1220.5L820.7 1221.7L821.5 1224L822.3 1226.4L823 1229L823.8 1228.6L824.6 1229.6L825.4 1231.3L826.1 1233.6L826.9 1234.1L827.7 1233.4L827.7 1239L826.9 1239.3L826.1 1237.9L825.4 1235.9L824.6 1233.7L823.8 1232.5L823 1233.3L822.3 1231.5L821.5 1229.4L820.7 1227.4L820 1226.1L819.2 1225.9L818.4 1224.1L817.6 1221.1L816.9 1218.3L816.1 1217.2L815.3 1218.6L814.6 1219L813.8 1218.5L813 1218.2L812.3 1217.4L811.5 1217.4L810.7 1216.2L809.9 1214.1L809.2 1211.2L808.4 1208.9L807.6 1207.2L806.9 1204.9L806.1 1204.8L805.3 1205.2L804.5 1206.3L803.8 1208L803 1208.2L802.2 1206.8L801.5 1206L800.7 1206.1L799.9 1206.8L799.2 1206.1L798.4 1205.2L797.6 1204.6L796.8 1205.2L796.1 1206.1L795.3 1205.2L794.5 1204L793.8 1202.5L793 1202.2L792.2 1203.2L791.4 1202.1L790.7 1202.8L789.9 1203L789.1 1203.9L788.4 1204.7L787.6 1204.3L786.8 1202.8L786.1 1198.9L785.3 1197.1L784.5 1196.1L783.7 1192.6L783 1189.3L782.2 1188.1L781.4 1188L780.7 1188.3L779.9 1186.9L779.1 1184.9L778.3 1183.4L777.6 1183.6L776.8 1184.9L776 1183.6L775.3 1182.3Z" fill="#c7eae5" stroke="#c7eae5" stroke-width="0.6" stroke-linejoin="round"/><path d="M828 1238L828.4 1246.5L828.7 1140" fill="none" stroke="#c7eae5" stroke-width="2.2" stroke-linejoin="round" stroke-linecap="butt"/><path d="M829.1 1136L830 1136.5L830.8 1136.5L831.6 1133.6L832.5 1133.5L833.3 1133.8L834.2 1134.4L835 1133.4L835 1143.9L834.2 1145.3L833.3 1144.8L832.5 1144.1L831.6 1144.1L830.8 1147.2L830 1148.4L829.1 1148.9Z" fill="#c7eae5" stroke="#c7eae5" stroke-width="0.6" stroke-linejoin="round"/><path d="M835 1139.4L835.8 1138.2L836.5 1139.2L837.3 1140.6L838.1 1141.8L838.9 1140.6L839.6 1139.4L840.4 1140.8L841.2 1141.9L842 1142.8L842.7 1141.6L843.5 1140.3L844.3 1140.8L845.1 1141.8L845.8 1142.7L846.6 1140.5L847.4 1139.1L848.2 1139.8L848.9 1140.8L849.7 1143.3L850.5 1143.6L851.2 1144.4L852 1147.3L852.8 1150.2L853.6 1152.1L854.3 1152.2L855.1 1152.7L855.9 1155L856.7 1156.9L857.4 1158.6L858.2 1159L859 1158.7L859.8 1158.2L860.5 1157.5L861.3 1157.2L862.1 1154.8L862.9 1153L863.6 1152.3L864.4 1151.9L865.2 1152.1L865.9 1151.9L866.7 1152.1L867.5 1154.6L868.3 1156.8L869 1158.6L869.8 1158.4L870.6 1159L871.4 1160.4L872.1 1160.5L872.9 1159.8L873.7 1157.4L874.5 1156.6L875.2 1156.6L876 1157L876.8 1156.6L877.6 1154.1L878.3 1153.8L879.1 1155.3L879.9 1156.6L880.6 1157.4L881.4 1155.9L882.2 1156.1L883 1157.8L883.7 1159.2L884.5 1159.4L885.3 1158.1L886.1 1159.2L886.8 1161L887.6 1162.4L888.4 1163.7L889.2 1163.3L889.9 1165.2L890.7 1167.6L891.5 1170.4L892.3 1171.3L893 1171.2L893.8 1172.9L894.6 1174.4L895.3 1175.9L896.1 1176.4L896.9 1175.3L897.7 1175L898.4 1174.7L899.2 1174.7L900 1174L900.8 1171.2L901.5 1171L902.3 1172.9L903.1 1174.9L903.9 1175L904.6 1174.5L905.4 1176L906.2 1177.9L907 1180L907.7 1182L908.5 1181.9L909.3 1184.6L910 1186.1L910.8 1187.4L911.6 1186.7L912.4 1185.2L913.1 1186.1L913.9 1187L914.7 1188.2L915.5 1187.3L916.2 1184.9L917 1185.6L917.8 1186.6L918.6 1187.7L919.3 1186.1L920.1 1184.6L920.9 1187.3L921.7 1189.3L922.4 1191.8L923.2 1192.1L924 1191.5L924.7 1193.6L925.5 1195.7L926.3 1197.7L927.1 1197.8L927.8 1197.3L928.6 1199.4L929.4 1201.2L930.2 1203.4L930.9 1203.5L931.7 1203L932.5 1204.9L933.3 1207.2L934 1209L934.8 1209.4L935.6 1209L936.3 1211.5L937.1 1213.5L937.9 1215.9L938.7 1215.7L939.4 1216.1L940.2 1218.7L941 1220.7L941.8 1223.2L942.5 1223.4L943.3 1224.1L944.1 1226.6L944.9 1229L945.6 1231.3L946.4 1231L947.2 1231L948 1233L948.7 1234.5L949.5 1237.2L950.3 1236.4L951 1237.1L951.8 1239.5L952.6 1242.2L953.4 1243.8L954.1 1243.9L954.9 1245.1L955.7 1248.1L956.5 1250.4L957.2 1253.3L958 1254L958.8 1256.1L959.6 1259.3L960.3 1262.5L960.3 1266.6L959.6 1263.5L958.8 1260.5L958 1258.9L957.2 1258L956.5 1255.2L955.7 1252.8L954.9 1250.1L954.1 1248.7L953.4 1248.9L952.6 1246.3L951.8 1243.5L951 1241L950.3 1240.7L949.5 1241.2L948.7 1239.5L948 1237.6L947.2 1235.5L946.4 1235.4L945.6 1236.2L944.9 1233.7L944.1 1231.5L943.3 1229.2L942.5 1228.7L941.8 1228.7L941 1227L940.2 1224.4L939.4 1222.3L938.7 1222.1L937.9 1221.7L937.1 1219.3L936.3 1217.1L935.6 1214.5L934.8 1214.3L934 1214L933.3 1212L932.5 1210.1L931.7 1208.1L930.9 1208.5L930.2 1209L929.4 1207L928.6 1205.1L927.8 1203.3L927.1 1204.2L926.3 1204.3L925.5 1202.7L924.7 1200.9L924 1199.2L923.2 1199.1L922.4 1198.3L921.7 1195.6L920.9 1192.5L920.1 1190L919.3 1191L918.6 1192L917.8 1190.8L917 1190.1L916.2 1189.3L915.5 1191.4L914.7 1192.4L913.9 1191L913.1 1189.8L912.4 1188.9L911.6 1190.2L910.8 1190.7L910 1189.8L909.3 1188L908.5 1186L907.7 1186.7L907 1186.5L906.2 1184.3L905.4 1182.5L904.6 1180.8L903.9 1181.4L903.1 1180.4L902.3 1178.3L901.5 1176.3L900.8 1177.1L900 1180.1L899.2 1181.8L898.4 1182.2L897.7 1182.8L896.9 1183.3L896.1 1184.8L895.3 1184.4L894.6 1183.5L893.8 1182.4L893 1181L892.3 1180.8L891.5 1179.4L890.7 1176.9L889.9 1174.5L889.2 1172.8L888.4 1173.3L887.6 1171.5L886.8 1169.1L886.1 1166.7L885.3 1165.2L884.5 1165.2L883.7 1164.7L883 1163.1L882.2 1161.5L881.4 1161.1L880.6 1163.2L879.9 1162.7L879.1 1161.2L878.3 1160.1L877.6 1160.1L876.8 1162.5L876 1162.8L875.2 1162.8L874.5 1162.5L873.7 1163.7L872.9 1166.1L872.1 1166.2L871.4 1166.3L870.6 1164.8L869.8 1164.5L869 1165.4L868.3 1164L867.5 1162L866.7 1159.8L865.9 1159.4L865.2 1160.1L864.4 1160.7L863.6 1160.9L862.9 1161.6L862.1 1163.3L861.3 1166.1L860.5 1166.9L859.8 1167.6L859 1168.3L858.2 1168L857.4 1168L856.7 1165.5L855.9 1163.1L855.1 1160.6L854.3 1160.2L853.6 1160.2L852.8 1158L852 1155.7L851.2 1153.5L850.5 1154L849.7 1154.9L848.9 1152.8L848.2 1152.1L847.4 1151.4L846.6 1152.2L845.8 1153.8L845.1 1152.5L844.3 1151.7L843.5 1150.4L842.7 1151.8L842 1153.7L841.2 1152.7L840.4 1150.9L839.6 1149.7L838.9 1150L838.1 1150.7L837.3 1148.9L836.5 1147.4L835.8 1146.1L835 1146.7Z" fill="#c7eae5" stroke="#c7eae5" stroke-width="0.6" stroke-linejoin="round"/><path d="M952.3 1243L953.7 1245L955.7 1251.7L957.7 1255.7L959.7 1262.3L961.7 1267.7L963 1273.7L965 1278.3L966.7 1285L967 1299L967.5 1286.6L969.7 1288.3L972.3 1288.3L976.3 1292.3L979 1298.3L981 1305.7L981.7 1269L983.7 1274.3L985.7 1286.3" fill="none" stroke="#c7eae5" stroke-width="2.3" stroke-linejoin="round" stroke-linecap="butt"/><path d="M995 1324.3L999 1334.3L1003 1345L1005.7 1355.7L1009 1366.3L1011 1371L1013.7 1373L1015.7 1379L1018.3 1378.3L1021 1383.7L1022.3 1389.7L1023.3 1341.7L1026.3 1345L1029.7 1349.7L1032.3 1358.3L1035 1365.7L1038.3 1370.3L1040.7 1369.7L1041.7 1375L1044.3 1378.3L1047 1382.3L1050.3 1395.7L1053.7 1398.3L1056.3 1404.3L1059.7 1409.7L1060.7 1363.7L1061.7 1344.3L1063.3 1343.7L1064.1 1302.3L1065.4 1319.7L1067.7 1323.7L1069.7 1353L1072.3 1362.3L1075 1373L1077.4 1377.7L1077.7 1378L1077.9 1117" fill="none" stroke="#c7eae5" stroke-width="2.3" stroke-linejoin="round" stroke-linecap="butt"/><path d="M1081.7 1122.8L1082.4 1123.8L1083.2 1124.3L1084 1124.5L1084.8 1123.7L1085.5 1123.1L1086.3 1124.1L1087.1 1124.7L1087.8 1124.7L1088.6 1123.1L1089.4 1121.5L1090.2 1120.3L1090.9 1118.9L1091.7 1119L1092.5 1118.4L1093.2 1118.2L1094 1118.6L1094.8 1118.6L1095.6 1119L1096.3 1117.9L1097.1 1118.1L1097.9 1118.5L1098.7 1118.5L1099.4 1118.2L1100.2 1117.1L1101 1116.9L1101.7 1117L1102.5 1117.6L1103.3 1118.1L1104.1 1120L1104.8 1122.5L1105.6 1125.8L1106.4 1126.6L1107.2 1126.9L1107.9 1126L1108.7 1126.7L1109.5 1127.3L1110.2 1128.4L1111 1127.9L1111.8 1127.8L1112.6 1127.9L1113.3 1128.6L1114.1 1129.7L1114.9 1129.6L1115.6 1128.3L1116.4 1128.4L1117.2 1128.3L1118 1128.4L1118.7 1127.3L1119.5 1125.7L1120.3 1125.3L1121 1125.5L1121.8 1125.6L1122.6 1125.8L1123.4 1124.8L1124.1 1125L1124.9 1125.8L1125.7 1127L1126.5 1126.1L1127.2 1125.5L1128 1125.9L1128.8 1126.3L1129.5 1126.8L1130.3 1126.5L1131.1 1125.1L1131.9 1125.3L1132.6 1126.2L1133.4 1126.4L1134.2 1125.9L1135 1125L1135.7 1125.7L1136.5 1126.4L1137.3 1127.6L1138 1127.7L1138.8 1126.8L1139.6 1126.9L1140.4 1126.7L1141.1 1126.5L1141.9 1124.6L1142.7 1123L1143.4 1122.5L1144.2 1122.3L1145 1121.9L1145.8 1120.3L1146.5 1118.1L1147.3 1117L1148.1 1116.2L1148.9 1117.3L1149.6 1117.3L1150.4 1117.9L1151.2 1119.4L1151.9 1120.7L1152.7 1122.5L1153.5 1122.4L1154.3 1123.2L1155 1124.8L1155.8 1124.2L1156.6 1123.9L1157.3 1122.4L1158.1 1121.4L1158.9 1121.3L1159.7 1120.7L1160.4 1120.8L1161.2 1120.3L1162 1119.7L1162.8 1120.4L1163.5 1120.8L1164.3 1122.9L1165.1 1124.3L1165.8 1125.6L1166.6 1126.8L1167.4 1126.7L1168.2 1126.1L1168.9 1124.8L1169.7 1123.5L1170.5 1123.3L1171.2 1123.4L1172 1123.2L1172.8 1121.3L1173.6 1121L1174.3 1120.8L1175.1 1120.7L1175.9 1120.9L1176.7 1119.4L1177.4 1118.7L1178.2 1118.5L1179 1120.2L1179.7 1121.1L1180.5 1121.7L1181.3 1122.3L1182.1 1123.8L1182.8 1125.2L1183.6 1126.2L1184.4 1125.2L1185.1 1123.3L1185.9 1123L1186.7 1122L1187.5 1121.6L1188.2 1119.7L1189 1118.8L1189.8 1118.4L1190.5 1117.8L1191.3 1118.5L1192.1 1117.5L1192.9 1117.2L1193.6 1117.6L1194.4 1118.3L1195.2 1118.1L1196 1117.4L1196.7 1117.4L1197.5 1118L1198.3 1118.6L1199 1119.8L1199.8 1120.1L1200.6 1120.7L1201.4 1122.1L1202.1 1123.9L1202.9 1124.6L1203.7 1125.1L1204.5 1125.4L1205.2 1124.4L1206 1123.4L1206.8 1122.2L1207.5 1120.2L1208.3 1118.9L1209.1 1117.7L1209.9 1117.2L1210.6 1116.9L1211.4 1115.9L1212.2 1116.2L1212.9 1116.3L1213.7 1116.3L1214.5 1116.5L1215.3 1115.9L1216 1115.8L1216.8 1116.2L1217.6 1116.3L1218.3 1116.8L1219.1 1115.9L1219.9 1115.8L1220.7 1116.4L1221.4 1116.8L1222.2 1116.8L1223 1115.9L1223.8 1116.3L1224.5 1116.6L1225.3 1117.6L1226.1 1117.9L1226.8 1117.3L1227.6 1118L1228.4 1118.7L1229.2 1118.9L1229.9 1117.8L1230.7 1116.9L1231.5 1116.6L1232.2 1116.7L1233 1116.7L1233.8 1116.6L1234.6 1115.3L1235.3 1115L1236.1 1115.6L1236.9 1115.8L1237.7 1116L1238.4 1115.2L1239.2 1115.2L1240 1115.9L1240.7 1116.3L1241.5 1115.6L1242.3 1114.9L1243.1 1115.4L1243.8 1115.7L1244.6 1116L1245.4 1115.6L1246.2 1114.2L1246.9 1115L1247.7 1115.2L1248.5 1115.4L1249.2 1115.9L1250 1116.4L1250.8 1118.3L1251.6 1120.2L1252.3 1122.8L1253.1 1123.9L1253.9 1124.6L1254.6 1127.5L1255.4 1129.9L1256.2 1132.8L1257 1131.5L1257.7 1129.4L1258.5 1127.9L1259.3 1127.1L1260 1125.7L1260.8 1124.2L1261.6 1121.7L1262.4 1121.5L1263.1 1121.4L1263.9 1121.3L1264.7 1120.6L1265.5 1119.1L1266.2 1118.9L1267 1118.8L1267 1123.2L1266.2 1123.7L1265.5 1123.4L1264.7 1124.7L1263.9 1126.1L1263.1 1126.4L1262.4 1126.4L1261.6 1126.7L1260.8 1128.8L1260 1130.9L1259.3 1132L1258.5 1133.4L1257.7 1134.7L1257 1137L1256.2 1137.8L1255.4 1135.4L1254.6 1132.2L1253.9 1129.8L1253.1 1128.7L1252.3 1127.8L1251.6 1125.6L1250.8 1123.6L1250 1121.6L1249.2 1121.1L1248.5 1121.3L1247.7 1120.6L1246.9 1120.3L1246.2 1120.2L1245.4 1121.6L1244.6 1122L1243.8 1121.4L1243.1 1121.3L1242.3 1121.4L1241.5 1121.9L1240.7 1122.5L1240 1121.9L1239.2 1121.1L1238.4 1121.3L1237.7 1122.2L1236.9 1122.6L1236.1 1121.6L1235.3 1121.3L1234.6 1121.2L1233.8 1122.1L1233 1122.8L1232.2 1122.5L1231.5 1122.5L1230.7 1122.4L1229.9 1123.1L1229.2 1123.5L1228.4 1123.3L1227.6 1122.8L1226.8 1122.4L1226.1 1122.4L1225.3 1122.4L1224.5 1121.3L1223.8 1121L1223 1120.5L1222.2 1121.8L1221.4 1121.9L1220.7 1121.1L1219.9 1120.8L1219.1 1120.7L1218.3 1121.6L1217.6 1121.7L1216.8 1121.2L1216 1120.9L1215.3 1121.2L1214.5 1122L1213.7 1121.6L1212.9 1121.5L1212.2 1121.5L1211.4 1121.4L1210.6 1122.2L1209.9 1122.3L1209.1 1122.6L1208.3 1124L1207.5 1125.7L1206.8 1127.3L1206 1129L1205.2 1129.8L1204.5 1131L1203.7 1130.4L1202.9 1130.4L1202.1 1129.1L1201.4 1127.6L1200.6 1126L1199.8 1125.8L1199 1125.7L1198.3 1125.2L1197.5 1124.1L1196.7 1123.8L1196 1124.2L1195.2 1124.3L1194.4 1123.8L1193.6 1123.5L1192.9 1122.8L1192.1 1122.9L1191.3 1124.1L1190.5 1123.2L1189.8 1123.9L1189 1124L1188.2 1125.2L1187.5 1127.2L1186.7 1127.8L1185.9 1128.6L1185.1 1128.9L1184.4 1130L1183.6 1131.6L1182.8 1130.6L1182.1 1129.4L1181.3 1127.9L1180.5 1127.4L1179.7 1126.7L1179 1125.3L1178.2 1124.2L1177.4 1124L1176.7 1125L1175.9 1126.4L1175.1 1126.8L1174.3 1126.9L1173.6 1126.6L1172.8 1127.9L1172 1128.6L1171.2 1128.5L1170.5 1128.6L1169.7 1128.9L1168.9 1130.3L1168.2 1132L1167.4 1132.2L1166.6 1132.6L1165.8 1131.5L1165.1 1129.6L1164.3 1128.4L1163.5 1126L1162.8 1125.7L1162 1125.1L1161.2 1125.1L1160.4 1125.8L1159.7 1126.3L1158.9 1127.1L1158.1 1127.5L1157.3 1128.7L1156.6 1130.4L1155.8 1131L1155 1131.8L1154.3 1129.6L1153.5 1128.8L1152.7 1127.4L1151.9 1125.3L1151.2 1124.1L1150.4 1122.8L1149.6 1122.9L1148.9 1123.2L1148.1 1122L1147.3 1122.7L1146.5 1123.7L1145.8 1125.7L1145 1127.4L1144.2 1127.9L1143.4 1128.2L1142.7 1128.6L1141.9 1130.8L1141.1 1132.3L1140.4 1132.4L1139.6 1132.8L1138.8 1132.7L1138 1133.6L1137.3 1133.9L1136.5 1133.1L1135.7 1132.5L1135 1131.3L1134.2 1131.9L1133.4 1132.4L1132.6 1132L1131.9 1132L1131.1 1131.8L1130.3 1133L1129.5 1133.6L1128.8 1133.9L1128 1133L1127.2 1132.6L1126.5 1134.1L1125.7 1134.2L1124.9 1133.4L1124.1 1132.8L1123.4 1132.3L1122.6 1134.1L1121.8 1134.5L1121 1134.1L1120.3 1133.9L1119.5 1133.5L1118.7 1135L1118 1135.6L1117.2 1135.3L1116.4 1135.1L1115.6 1134.9L1114.9 1135.8L1114.1 1135.9L1113.3 1135.7L1112.6 1134.8L1111.8 1134.3L1111 1135.2L1110.2 1134.7L1109.5 1133.7L1108.7 1131.9L1107.9 1131.4L1107.2 1131.8L1106.4 1130.9L1105.6 1130L1104.8 1127.3L1104.1 1125.5L1103.3 1124.4L1102.5 1123.4L1101.7 1122.9L1101 1122.8L1100.2 1122.8L1099.4 1124L1098.7 1124L1097.9 1123.8L1097.1 1123.3L1096.3 1123L1095.6 1124.2L1094.8 1124.4L1094 1123.9L1093.2 1123.8L1092.5 1123.6L1091.7 1124.3L1090.9 1124.3L1090.2 1125.7L1089.4 1126.6L1088.6 1128.6L1087.8 1130.1L1087.1 1130.2L1086.3 1130L1085.5 1129.9L1084.8 1130.7L1084 1132.5L1083.2 1132.5L1082.4 1132.4L1081.7 1131.7Z" fill="#c7eae5" stroke="#c7eae5" stroke-width="0.6" stroke-linejoin="round"/><path d="M1265 1118.6L1265.8 1117.7L1266.5 1118.7L1267.3 1119L1268.1 1119.2L1268.9 1117.9L1269.6 1116.9L1270.4 1117.8L1271.2 1118.5L1271.9 1117.7L1272.7 1117L1273.5 1116.3L1274.3 1116.5L1275 1117.3L1275.8 1117L1276.6 1115.8L1277.3 1115L1278.1 1115L1278.9 1115.4L1279.6 1115.7L1280.4 1114.7L1281.2 1113.7L1282 1114.4L1282.7 1114.8L1283.5 1114.9L1284.3 1114.6L1285 1115.1L1285.8 1116.7L1286.6 1117.5L1287.4 1118.6L1288.1 1117.9L1288.9 1118.4L1289.7 1118.7L1290.4 1119.1L1291.2 1119.5L1292 1118.5L1292.8 1118.4L1293.5 1118.5L1294.3 1119.2L1295.1 1118.7L1295.8 1117.9L1296.6 1118.3L1297.4 1118.5L1298.2 1118.7L1298.9 1119.6L1299.7 1118L1300.5 1117.9L1301.2 1118.5L1302 1118.8L1302.8 1118.5L1303.5 1117.4L1304.3 1117.4L1305.1 1118.3L1305.9 1119.1L1306.6 1118.6L1307.4 1118.2L1308.2 1118.4L1308.9 1118.9L1309.7 1119.5L1310.5 1119.4L1311.3 1119.1L1312 1119.6L1312.8 1121.7L1313.6 1123.6L1314.3 1124.8L1315.1 1125.7L1315.9 1128L1316.7 1130.9L1317.4 1134.3L1318.2 1136.3L1319 1136.9L1319.7 1137L1320.5 1137.4L1321.3 1137.5L1322 1138L1322.8 1136.7L1323.6 1136.9L1324.4 1137.1L1325.1 1137.8L1325.9 1137.5L1326.7 1135.8L1327.4 1137.1L1328.2 1139.5L1329 1142.8L1329.8 1144.7L1330.5 1142.7L1331.3 1140.6L1332.1 1138.8L1332.8 1137.1L1333.6 1134.4L1334.4 1132.6L1335.2 1132.7L1335.9 1132.8L1336.7 1133.1L1337.5 1131.4L1338.2 1129.9L1339 1129.8L1339.8 1129.6L1340.6 1129.6L1341.3 1129.5L1342.1 1128.5L1342.9 1128.5L1343.6 1129.2L1344.4 1129.8L1345.2 1130.1L1345.9 1128.4L1346.7 1128.9L1347.5 1130.1L1348.3 1131.4L1349 1131L1349.8 1130.4L1350.6 1131.4L1351.3 1132.5L1352.1 1133.6L1352.9 1133.2L1353.7 1132.7L1354.4 1133.6L1355.2 1132.9L1356 1131.8L1356.7 1130.3L1357.5 1127.5L1358.3 1126.7L1359.1 1125.7L1359.8 1126.8L1360.6 1127.3L1361.4 1126.8L1362.1 1128L1362.9 1129.2L1363.7 1130.4L1364.5 1130.7L1365.2 1128.6L1366 1128.7L1366.8 1128.9L1367.5 1128.3L1368.3 1126.9L1369.1 1125.5L1369.8 1125.6L1370.6 1125.3L1371.4 1125.1L1372.2 1123.6L1372.9 1122.7L1373.7 1124.1L1374.5 1124.4L1375.2 1125.9L1376 1125.4L1376.8 1125L1377.6 1125.8L1378.3 1127.2L1379.1 1127.8L1379.9 1127.4L1380.6 1127.3L1381.4 1127.8L1382.2 1128.9L1383 1129.5L1383.7 1129.9L1384.5 1129.5L1385.3 1129.6L1386 1129.3L1386.8 1129.2L1387.6 1128L1388.3 1126.9L1389.1 1126.6L1389.9 1127.2L1390.7 1127.1L1391.4 1125.6L1392.2 1124.5L1393 1124.5L1393.7 1124.8L1394.5 1125.2L1395.3 1124.6L1396.1 1123.1L1396.8 1123.3L1397.6 1124L1398.4 1124.7L1399.1 1124.8L1399.9 1124.6L1400.7 1126.2L1401.5 1127.6L1402.2 1128.6L1403 1127.2L1403.8 1126.2L1404.5 1127.3L1405.3 1127.6L1406.1 1129.5L1406.9 1129.3L1407.6 1129.6L1408.4 1131.1L1409.2 1132.2L1409.9 1133.4L1410.7 1133.1L1411.5 1132.4L1412.2 1133.4L1413 1134.8L1413.8 1135.3L1414.6 1134.5L1415.3 1134.3L1416.1 1134.2L1416.9 1133.8L1417.6 1134.3L1418.4 1132.4L1419.2 1130.9L1420 1130.9L1420.7 1131.4L1421.5 1131.5L1422.3 1129.5L1423 1127.4L1423.8 1126.5L1424.6 1125.7L1425.4 1124.8L1426.1 1121.6L1426.9 1120.2L1427.7 1119.1L1428.4 1118.7L1429.2 1120.2L1430 1120.5L1430.8 1121.9L1431.5 1123.7L1432.3 1125.6L1433.1 1127.4L1433.8 1128L1434.6 1128.8L1435.4 1127.6L1436.1 1126.6L1436.9 1124.8L1437.7 1122.4L1438.5 1120.8L1439.2 1119.6L1440 1118.1L1440.8 1117L1441.5 1114.1L1442.3 1112.2L1443.1 1111.3L1443.9 1111.5L1444.6 1113.7L1445.4 1114.6L1446.2 1116.8L1446.9 1119.7L1447.7 1122.2L1448.5 1124.9L1449.3 1126L1450 1128L1450.8 1130.5L1451.6 1133.1L1452.3 1134.6L1453.1 1135.9L1453.9 1136.1L1454.6 1134.7L1455.4 1133.4L1456.2 1131.4L1457 1128.8L1457.7 1126.3L1458.5 1125.3L1459.3 1123.6L1460 1122.2L1460.8 1119.5L1461.6 1117.1L1462.4 1116.7L1463.1 1118.2L1463.9 1119.5L1464.7 1119.1L1465.4 1120.5L1466.2 1121.7L1467 1123.2L1467.8 1125L1468.5 1124.8L1469.3 1125.5L1470.1 1126.7L1470.8 1128.3L1471.6 1129.5L1472.4 1128.9L1473.2 1130.3L1473.9 1129.9L1474.7 1129L1475.5 1127.6L1476.2 1124.4L1477 1122.3L1477.8 1121.7L1478.5 1120.6L1479.3 1120L1480.1 1120.2L1480.9 1121.1L1481.6 1123.2L1482.4 1125.5L1483.2 1125.8L1483.9 1125.7L1484.7 1126.9L1485.5 1127L1486.3 1127.4L1487 1127.5L1487.8 1126.2L1488.6 1126.1L1489.3 1126.3L1490.1 1127.2L1490.9 1126.9L1491.7 1126L1492.4 1126.3L1493.2 1126.7L1494 1127.7L1494.7 1127.8L1495.5 1126.6L1496.3 1128.3L1497.1 1130L1497.8 1131.2L1498.6 1131.3L1499.4 1131.5L1500.1 1132.4L1500.9 1132.3L1501.7 1133.1L1502.4 1133L1503.2 1131.6L1504 1131.5L1504.8 1132.1L1505.5 1132.4L1506.3 1132.6L1507.1 1130.8L1507.8 1131.6L1508.6 1132L1509.4 1132.3L1510.2 1131.1L1510.9 1129.8L1511.7 1128.9L1512.5 1128.1L1513.2 1127L1514 1125.1L1514.8 1123L1515.6 1121.4L1516.3 1120.5L1517.1 1120.1L1517.9 1120.3L1518.6 1118.9L1519.4 1119.5L1520.2 1120.5L1520.9 1121.3L1521.7 1121L1522.5 1118.6L1523.3 1119.3L1524 1119.4L1524.8 1119.4L1525.6 1118.1L1526.3 1118.1L1527.1 1119.4L1527.9 1120.9L1527.9 1128.4L1527.1 1127.3L1526.3 1125.3L1525.6 1125.1L1524.8 1126.5L1524 1126.4L1523.3 1126.1L1522.5 1125.6L1521.7 1127.5L1520.9 1128.3L1520.2 1127.5L1519.4 1126.7L1518.6 1126.3L1517.9 1126.7L1517.1 1127.7L1516.3 1128L1515.6 1129.3L1514.8 1130.1L1514 1133L1513.2 1134.2L1512.5 1135.4L1511.7 1136.7L1510.9 1137.6L1510.2 1139.1L1509.4 1139.2L1508.6 1138.6L1507.8 1138L1507.1 1137.6L1506.3 1139.4L1505.5 1140.1L1504.8 1139.5L1504 1139.4L1503.2 1138.9L1502.4 1139.6L1501.7 1140.3L1500.9 1140.3L1500.1 1139.4L1499.4 1139L1498.6 1138.7L1497.8 1138L1497.1 1136.9L1496.3 1135L1495.5 1133.8L1494.7 1134.4L1494 1135.1L1493.2 1134.2L1492.4 1133.6L1491.7 1133.8L1490.9 1134.6L1490.1 1134.2L1489.3 1134.1L1488.6 1133.5L1487.8 1133.6L1487 1134.8L1486.3 1135.1L1485.5 1134.5L1484.7 1134L1483.9 1133.8L1483.2 1133.5L1482.4 1131.7L1481.6 1130L1480.9 1128.4L1480.1 1127.2L1479.3 1127L1478.5 1127.4L1477.8 1128.5L1477 1129.3L1476.2 1130.9L1475.5 1133.9L1474.7 1136.2L1473.9 1137.3L1473.2 1137.8L1472.4 1136.4L1471.6 1136.5L1470.8 1135.6L1470.1 1134.1L1469.3 1132.9L1468.5 1131.6L1467.8 1132L1467 1130.7L1466.2 1129.4L1465.4 1127.7L1464.7 1126.6L1463.9 1126.2L1463.1 1125.4L1462.4 1123.6L1461.6 1124.5L1460.8 1126.5L1460 1129.4L1459.3 1131.2L1458.5 1132.6L1457.7 1134.6L1457 1136.2L1456.2 1138.7L1455.4 1140.9L1454.6 1142.3L1453.9 1143.1L1453.1 1143.6L1452.3 1142L1451.6 1139.6L1450.8 1137.3L1450 1134.3L1449.3 1132.8L1448.5 1132.1L1447.7 1129.8L1446.9 1126.7L1446.2 1123.9L1445.4 1122.4L1444.6 1121.1L1443.9 1118.6L1443.1 1118L1442.3 1119L1441.5 1121.2L1440.8 1124.1L1440 1125.9L1439.2 1126.9L1438.5 1127.9L1437.7 1129.7L1436.9 1132.7L1436.1 1133.7L1435.4 1135.1L1434.6 1136.5L1433.8 1135.4L1433.1 1134.9L1432.3 1132.7L1431.5 1131.1L1430.8 1129L1430 1128.3L1429.2 1127.5L1428.4 1125.8L1427.7 1126.2L1426.9 1126.8L1426.1 1129L1425.4 1131.3L1424.6 1132.2L1423.8 1133.5L1423 1133.9L1422.3 1136.3L1421.5 1137.9L1420.7 1138.2L1420 1138.4L1419.2 1138.2L1418.4 1139.4L1417.6 1141L1416.9 1141.7L1416.1 1141.5L1415.3 1141.2L1414.6 1141.8L1413.8 1142.8L1413 1142.1L1412.2 1141L1411.5 1140.3L1410.7 1140.1L1409.9 1141.3L1409.2 1140L1408.4 1137.9L1407.6 1136.8L1406.9 1136.6L1406.1 1136.9L1405.3 1135.1L1404.5 1134.5L1403.8 1133.9L1403 1134.5L1402.2 1135.2L1401.5 1134.3L1400.7 1133L1399.9 1131.4L1399.1 1131.5L1398.4 1131.7L1397.6 1131.1L1396.8 1130.8L1396.1 1130.4L1395.3 1131.6L1394.5 1132.4L1393.7 1132.4L1393 1132.5L1392.2 1132.1L1391.4 1133.2L1390.7 1134.2L1389.9 1133.9L1389.1 1134.1L1388.3 1134.2L1387.6 1135.4L1386.8 1137.1L1386 1137.3L1385.3 1137.4L1384.5 1136.7L1383.7 1136.8L1383 1137.5L1382.2 1136.7L1381.4 1135.8L1380.6 1134.8L1379.9 1134.5L1379.1 1134.8L1378.3 1133.9L1377.6 1132.5L1376.8 1131.4L1376 1132L1375.2 1132.8L1374.5 1131.8L1373.7 1130.7L1372.9 1130.2L1372.2 1131.1L1371.4 1131.9L1370.6 1132.5L1369.8 1132.5L1369.1 1132.7L1368.3 1134.3L1367.5 1135.7L1366.8 1135.8L1366 1136.1L1365.2 1135.9L1364.5 1137.9L1363.7 1137.4L1362.9 1135.9L1362.1 1134.7L1361.4 1133.4L1360.6 1134.2L1359.8 1134.4L1359.1 1133L1358.3 1134.3L1357.5 1135L1356.7 1137.3L1356 1139.2L1355.2 1140.2L1354.4 1141.6L1353.7 1140.4L1352.9 1140.5L1352.1 1140.4L1351.3 1139.3L1350.6 1138.4L1349.8 1137.1L1349 1138L1348.3 1137.9L1347.5 1136.7L1346.7 1135.8L1345.9 1135.7L1345.2 1136.6L1344.4 1136.9L1343.6 1136.3L1342.9 1135.8L1342.1 1135.4L1341.3 1136.5L1340.6 1137.5L1339.8 1137.3L1339 1137L1338.2 1137.5L1337.5 1138.8L1336.7 1139.6L1335.9 1140.1L1335.2 1139.7L1334.4 1140L1333.6 1141.9L1332.8 1144.3L1332.1 1146L1331.3 1148.1L1330.5 1150.3L1329.8 1151.8L1329 1150.1L1328.2 1147.1L1327.4 1144L1326.7 1143.2L1325.9 1144.3L1325.1 1144.9L1324.4 1144L1323.6 1143.7L1322.8 1143L1322 1144.6L1321.3 1145L1320.5 1144.3L1319.7 1144.3L1319 1144.2L1318.2 1143.8L1317.4 1141.6L1316.7 1138.2L1315.9 1135.2L1315.1 1132.4L1314.3 1131.8L1313.6 1130.9L1312.8 1129L1312 1127.2L1311.3 1126.3L1310.5 1126.7L1309.7 1127.1L1308.9 1126.5L1308.2 1125.7L1307.4 1125.3L1306.6 1126.2L1305.9 1126L1305.1 1125.3L1304.3 1124.8L1303.5 1124.6L1302.8 1125.9L1302 1126L1301.2 1125.5L1300.5 1124.6L1299.7 1124.9L1298.9 1126.2L1298.2 1126L1297.4 1126.2L1296.6 1125.4L1295.8 1125.9L1295.1 1126.9L1294.3 1126.6L1293.5 1126L1292.8 1125.5L1292 1125.5L1291.2 1126.9L1290.4 1126.1L1289.7 1125.9L1288.9 1125.2L1288.1 1125L1287.4 1125.3L1286.6 1125.3L1285.8 1123.7L1285 1122.4L1284.3 1122.1L1283.5 1122.5L1282.7 1121.7L1282 1121L1281.2 1120.8L1280.4 1121.5L1279.6 1122.6L1278.9 1123L1278.1 1122.7L1277.3 1122.5L1276.6 1123.2L1275.8 1124L1275 1124.5L1274.3 1123.6L1273.5 1123.5L1272.7 1123.9L1271.9 1125.5L1271.2 1125.1L1270.4 1124.9L1269.6 1123.9L1268.9 1124.8L1268.1 1126L1267.3 1125.6L1266.5 1125.4L1265.8 1124.7L1265 1125.7Z" fill="#c7eae5" stroke="#c7eae5" stroke-width="0.6" stroke-linejoin="round"/></g>
<g id="p3-lvl1"><path d="M128.3 1229.9L129.1 1229.7L129.9 1228.9L130.6 1228.7L131.4 1228.9L132.2 1229L133 1228.5L133.7 1228.3L134.5 1228.1L135.3 1228.5L136 1228.7L136.8 1228.4L137.6 1228.2L138.4 1228.6L139.1 1228.8L139.9 1229.1L140.7 1228.7L141.4 1228L142.2 1229.1L143 1230.5L143.8 1232.3L144.5 1233.2L145.3 1234L146.1 1235.3L146.8 1237L147.6 1238.7L148.4 1239.1L149.1 1237.7L149.9 1237.1L150.7 1236L151.5 1234.6L152.2 1233.7L153 1231.9L153.8 1231L154.5 1231.1L155.3 1232L156.1 1232.3L156.9 1233.5L157.6 1234.5L158.4 1235.7L159.2 1236.9L159.9 1237L160.7 1237.1L161.5 1236.7L162.2 1235.7L163 1235.4L163.8 1233.6L164.6 1233.1L165.3 1232.2L166.1 1231.5L166.9 1230.6L167.6 1230L168.4 1229.3L169.2 1229.1L170 1228.3L170.7 1228.1L171.5 1227.2L172.3 1226.6L173 1226.3L173.8 1226.6L174.6 1226.2L175.4 1225.7L176.1 1225.2L176.9 1225.6L177.7 1226.2L178.4 1226.5L179.2 1226.2L180 1226L180.8 1226.7L181.5 1227.4L182.3 1227.5L183.1 1226.7L183.8 1226.9L184.6 1227.2L185.4 1227.3L186.1 1227.7L186.9 1226.9L187.7 1226.9L188.5 1227L189.2 1227.6L190 1227.1L190.8 1227.4L191.5 1227.4L192.3 1228L193.1 1228.1L193.9 1228.3L194.6 1228.4L195.4 1228.5L196.2 1229.5L196.9 1230.8L197.7 1231.5L198.5 1231.9L199.2 1233L200 1233.9L200.8 1234.9L201.6 1235L202.3 1234.4L203.1 1233.9L203.9 1233.6L204.6 1233.6L205.4 1232.9L206.2 1232.1L207 1232.2L207.7 1232.4L208.5 1232.2L209.3 1232.1L210 1231.7L210.8 1232.6L211.6 1234.9L212.4 1236.6L213.1 1239.1L213.9 1240.1L214.7 1242.3L215.4 1243.5L216.2 1244.3L217 1245.1L217.8 1244.8L218.5 1245.6L219.3 1244.9L220.1 1244.2L220.8 1242L221.6 1240.1L222.4 1239.9L223.1 1238.9L223.9 1238.5L224.7 1237.8L225.5 1236.6L226.2 1237.6L227 1238.6L227.8 1239L228.5 1239.7L229.3 1238.2L230.1 1237.2L230.9 1235.7L231.6 1234.7L232.4 1233.2L233.2 1232.4L233.9 1231.8L234.7 1231.2L235.5 1231.1L236.3 1230.2L237 1229.4L237.8 1228.7L238.6 1228.2L239.3 1228.4L240.1 1227.5L240.9 1226L241.6 1225.8L242.4 1225.9L243.2 1225.4L244 1224.7L244.7 1224.8L245.5 1225.2L246.3 1225.9L247 1226L247.8 1226.4L248.6 1226.1L249.4 1226.5L250.1 1227.3L250.9 1228.2L251.7 1228.3L252.4 1228.1L253.2 1227.7L254 1228.1L254.8 1228L255.5 1227.8L256.3 1227.4L257.1 1227.6L257.8 1227.4L258.6 1228.1L259.4 1227.3L260.1 1226.8L260.9 1227.5L261.7 1228.4L262.5 1228.6L263.2 1228.8L264 1228.5L264.8 1229.3L265.5 1230L266.3 1230.5L267.1 1230.9L267.9 1231.1L268.6 1231.5L269.4 1232.3L270.2 1232.8L270.9 1233.1L271.7 1233.1L272.5 1233.2L273.2 1233.4L274 1233.6L274.8 1234L275.6 1233.1L276.3 1233.7L276.3 1236.7L275.6 1236L274.8 1236.4L274 1236.9L273.2 1236.4L272.5 1236L271.7 1235.7L270.9 1235.9L270.2 1235.8L269.4 1234.9L268.6 1234.6L267.9 1234L267.1 1234.3L266.3 1234.3L265.5 1233.6L264.8 1232.6L264 1231.9L263.2 1232L262.5 1231.8L261.7 1231.5L260.9 1230.8L260.1 1230L259.4 1230.2L258.6 1230.4L257.8 1230.2L257.1 1229.9L256.3 1229.9L255.5 1230.5L254.8 1230.7L254 1230.4L253.2 1230.5L252.4 1230.5L251.7 1230.4L250.9 1230.5L250.1 1230L249.4 1229.7L248.6 1229.3L247.8 1229.4L247 1229L246.3 1228.6L245.5 1228.3L244.7 1228L244 1228L243.2 1228.2L242.4 1228.8L241.6 1229.1L240.9 1229L240.1 1230.3L239.3 1230.9L238.6 1231.4L237.8 1231.4L237 1232.3L236.3 1233.1L235.5 1234.2L234.7 1234.1L233.9 1234.5L233.2 1235L232.4 1235.9L231.6 1237.5L230.9 1238.6L230.1 1239.6L229.3 1241.2L228.5 1242.6L227.8 1242.3L227 1241.1L226.2 1240.9L225.5 1239.7L224.7 1241L223.9 1242L223.1 1242L222.4 1242.6L221.6 1243.4L220.8 1245.3L220.1 1246.8L219.3 1248L218.5 1248.5L217.8 1247.7L217 1248.1L216.2 1247.4L215.4 1246.4L214.7 1245.2L213.9 1243.2L213.1 1241.6L212.4 1239.7L211.6 1237.3L210.8 1235.2L210 1234.1L209.3 1234.6L208.5 1234.9L207.7 1234.9L207 1234.6L206.2 1235L205.4 1235.4L204.6 1236.2L203.9 1236.6L203.1 1236.6L202.3 1237L201.6 1238.3L200.8 1238.4L200 1237L199.2 1235.8L198.5 1235.3L197.7 1234.6L196.9 1233.8L196.2 1232.9L195.4 1231.5L194.6 1231.3L193.9 1231.3L193.1 1231.4L192.3 1230.8L191.5 1230.4L190.8 1230.2L190 1230.6L189.2 1230.1L188.5 1230.3L187.7 1229.5L186.9 1229.7L186.1 1230.4L185.4 1230.5L184.6 1230.3L183.8 1230.1L183.1 1230.2L182.3 1230.1L181.5 1230.3L180.8 1230.1L180 1229.2L179.2 1229.2L178.4 1229.8L177.7 1229.3L176.9 1228.6L176.1 1228.7L175.4 1229L174.6 1229.3L173.8 1229.6L173 1229.2L172.3 1229.2L171.5 1230.3L170.7 1231.5L170 1231.5L169.2 1232L168.4 1232.6L167.6 1232.9L166.9 1233.8L166.1 1234.9L165.3 1235.4L164.6 1235.6L163.8 1236.9L163 1238.5L162.2 1239.2L161.5 1239.7L160.7 1240.1L159.9 1240.4L159.2 1239.6L158.4 1238.5L157.6 1237.4L156.9 1236.1L156.1 1235.6L155.3 1234.7L154.5 1234.2L153.8 1234.3L153 1235.1L152.2 1236.3L151.5 1238.1L150.7 1239L149.9 1239.5L149.1 1240.8L148.4 1241.8L147.6 1241.5L146.8 1240.2L146.1 1238.4L145.3 1236.8L144.5 1235.8L143.8 1235.3L143 1233.7L142.2 1232.5L141.4 1231.3L140.7 1231.7L139.9 1231.6L139.1 1231.9L138.4 1231.3L137.6 1230.9L136.8 1231.1L136 1231.8L135.3 1231.7L134.5 1231.6L133.7 1231.4L133 1231.7L132.2 1231.7L131.4 1231.8L130.6 1231.9L129.9 1231.4L129.1 1232L128.3 1232.6Z" fill="#80cdc1" stroke="#80cdc1" stroke-width="0.6" stroke-linejoin="round"/><path d="M183.1 1229L183.7 1241.6L184.3 1229" fill="none" stroke="#80cdc1" stroke-width="2" stroke-linejoin="round" stroke-linecap="butt"/><path d="M248.1 1227L248.7 1238L249.3 1227" fill="none" stroke="#80cdc1" stroke-width="2" stroke-linejoin="round" stroke-linecap="butt"/><path d="M276.6 1236L277 1366.7L277.5 1300L278.9 1240L279.3 1289.6L279.8 1118" fill="none" stroke="#80cdc1" stroke-width="2.2" stroke-linejoin="round" stroke-linecap="butt"/><path d="M280.3 1119.4L281.1 1120.1L281.9 1120.5L282.6 1118.3L283.4 1117.5L284.2 1118.5L285 1119.4L285.7 1120.1L286.5 1117.9L287.3 1117L288 1118L288.8 1118.7L289.6 1119.1L290.3 1118.1L291.1 1117.3L291.9 1118.6L292.7 1119.1L293.4 1120.1L294.2 1118.7L295 1118.4L295.7 1120.9L296.5 1123.8L297.3 1125.9L298.1 1126.3L298.8 1127.6L299.6 1128.1L300.4 1128.3L301.1 1127.7L301.9 1125.8L302.7 1124L303.4 1124L304.2 1123.9L305 1124.6L305.8 1122L306.5 1120.2L307.3 1120.1L308.1 1119.7L308.8 1118.6L309.6 1115L310.4 1113L311.1 1112.7L311.9 1111.8L312.7 1110.1L313.5 1107.1L314.2 1106.2L315 1106.4L315.8 1107L316.5 1106.6L317.3 1104.8L318.1 1104.5L318.9 1106L319.6 1107.4L320.4 1108.3L321.2 1107.1L321.9 1107.6L322.7 1108.7L323.5 1109.6L324.2 1110.7L325 1108.6L325.8 1107.9L326.6 1108.6L327.3 1109.5L328.1 1109.5L328.9 1106.9L329.6 1106.2L330.4 1106.5L331.2 1106.8L331.9 1105.9L332.7 1103.6L333.5 1102.8L334.3 1102.9L335 1103.5L335.8 1102.9L336.6 1102.5L337.3 1103.3L338.1 1104.9L338.9 1106.5L339.7 1107.8L340.4 1107.2L341.2 1107.9L342 1109.1L342.7 1110L343.5 1109.8L344.3 1107.8L345 1107.6L345.8 1108.1L346.6 1108.9L347.4 1109.4L348.1 1108L348.9 1108.4L349.7 1109.6L350.4 1110.9L351.2 1110.3L352 1109.3L352.7 1110.1L353.5 1111.1L354.3 1112.3L355.1 1117.4L355.8 1115.9L356.6 1115.8L357.4 1116.8L358.1 1118L358.9 1117.5L359.7 1115.9L360.5 1115.6L361.2 1116.7L362 1117.1L362.8 1116.6L363.5 1114.5L364.3 1113.8L365.1 1114.6L365.8 1114.9L366.6 1113.8L367.4 1112.1L368.2 1112.2L368.9 1113.8L369.7 1114.9L370.5 1115.1L371.2 1114.7L372 1115.6L372.8 1116.8L373.5 1118L374.3 1119.1L375.1 1117.9L375.9 1117.9L376.6 1119L377.4 1119.9L378.2 1118.6L378.9 1117.3L379.7 1117.6L380.5 1117.8L381.3 1118.9L382 1119L382.8 1117.5L383.6 1118.3L384.3 1119.5L385.1 1121L385.9 1121L386.6 1119.4L387.4 1120.5L388.2 1121.5L389 1123.2L389.7 1122L390.5 1121.4L391.3 1122.7L392 1124.4L392.8 1126.2L393.6 1126.6L394.3 1126.1L395.1 1127.1L395.9 1128.7L396.7 1130L397.4 1127.8L398.2 1125.8L399 1125.2L399.7 1125.2L400.5 1124.8L401.3 1123.6L402.1 1121.9L402.8 1123.1L403.6 1125L404.4 1126.6L405.1 1126.3L405.9 1125.4L406.7 1126.7L407.4 1128.3L408.2 1129.8L409 1129.9L409.8 1127.4L410.5 1128.3L411.3 1129.1L412.1 1129.7L412.8 1128.3L413.6 1126.4L414.4 1126.8L415.1 1126.9L415.9 1127.2L416.7 1125.9L417.5 1123.7L418.2 1123.9L419 1124.1L419.8 1124.2L420.5 1122.8L421.3 1120.1L422.1 1120.2L422.9 1120.7L423.6 1120.5L424.4 1118.9L425.2 1116.4L425.9 1117.1L426.7 1118.8L427.5 1120.7L428.2 1120.2L429 1119.1L429.8 1120.6L430.6 1122.6L431.3 1124.7L432.1 1123.5L432.9 1122.6L433.6 1124.3L434.4 1125.9L435.2 1127.1L435.9 1127L436.7 1126.2L437.5 1128.3L438.3 1129.9L439 1131.9L439.8 1131.1L440.6 1130.1L441.3 1132L442.1 1134.1L442.9 1135.4L443.7 1134.4L444.4 1133.4L445.2 1135.3L446 1137.1L446.7 1138.6L447.5 1137.3L448.3 1136.4L449 1138.3L449.8 1139.9L450.6 1141.7L451.4 1140.9L452.1 1140.6L452.9 1141.8L453.7 1143.5L454.4 1145L455.2 1144.5L456 1144.4L456.7 1145.8L457.5 1147.1L458.3 1148.3L459.1 1148.3L459.8 1147.7L460.6 1148.9L461.4 1149.4L462.1 1150.1L462.9 1147.5L463.7 1145.5L464.5 1145.9L465.2 1146.4L466 1147.5L466.8 1146.2L467.5 1145.1L468.3 1146.7L469.1 1147.8L469.8 1149.4L470.6 1147.5L471.4 1146.5L472.2 1146.6L472.9 1146.8L473.7 1146.4L474.5 1144L475.2 1142.3L476 1142.4L476.8 1142.4L477.5 1142.1L478.3 1139.9L479.1 1138.5L479.9 1139.2L480.6 1139.3L481.4 1139.3L482.2 1137.5L482.9 1135.9L483.7 1136.7L484.5 1136.7L485.3 1137.4L486 1135.5L486.8 1134.6L487.6 1134.8L488.3 1135.4L489.1 1135.5L489.9 1134.6L490.6 1135L491.4 1136.2L492.2 1137.5L493 1139L493.7 1138.2L494.5 1138L495.3 1139.3L496 1141.2L496.8 1142.2L497.6 1141.6L498.3 1141.4L499.1 1143.1L499.9 1144.9L500.7 1146.6L501.4 1145.5L502.2 1146.2L503 1148L503.7 1150L504.5 1150.7L505.3 1150L506.1 1149.9L506.8 1150.2L507.6 1150.3L508.4 1150.9L509.1 1148.1L509.9 1147.1L510.7 1147.7L511.4 1147.8L512.2 1146.7L513 1144.3L513.8 1142.7L514.5 1142.6L515.3 1142.6L516.1 1141.4L516.8 1139.6L517.6 1138.8L518.4 1139.1L519.1 1139.4L519.9 1139.1L520.7 1137.4L521.5 1136.4L522.2 1136.6L523 1137.2L523.8 1139.6L524.5 1139L525.3 1139.8L526.1 1142L526.9 1144.2L527.6 1145.7L528.4 1144.9L529.2 1145.8L529.9 1146.1L530.7 1146L531.5 1145.2L532.2 1142.9L533 1142.2L533.8 1142.2L534.6 1142.2L535.3 1141.8L536.1 1139.8L536.9 1139.7L537.6 1140.1L538.4 1140.1L539.2 1140.7L539.9 1138.3L540.7 1137.9L541.5 1138.4L542.3 1139.1L543 1137.7L543.8 1137.2L544.6 1137.8L545.3 1139.2L546.1 1140.6L546.9 1141L547.7 1140.7L548.4 1141L549.2 1142.5L550 1143.8L550.7 1145L551.5 1143.7L552.3 1144.1L553 1146L553.8 1147.2L554.6 1147.1L555.4 1146.5L556.1 1146.7L556.9 1147.3L557.7 1147.2L558.4 1146.9L559.2 1144.3L560 1143.7L560.7 1144.1L561.5 1144.3L562.3 1142.9L563.1 1140.8L563.8 1141.2L564.6 1141.7L565.4 1142.6L566.1 1141.7L566.9 1140.7L567.7 1140.4L568.5 1141L569.2 1141.7L570 1142.3L570.8 1140.3L571.5 1140.6L572.3 1141.7L573.1 1142.5L573.8 1141.7L574.6 1139.9L575.4 1139.9L576.2 1141L576.9 1141.6L577.7 1141L578.5 1139.3L579.2 1139.9L580 1141.2L580.8 1143.1L581.5 1143.8L582.3 1142.7L583.1 1144.2L583.9 1145.5L584.6 1147.6L585.4 1148.8L586.2 1149.8L586.9 1152.1L587.7 1154.9L588.5 1154.8L589.3 1153.6L590 1151.7L590.8 1151.3L591.6 1151.5L592.3 1151.4L593.1 1150.6L593.9 1149.6L594.6 1152.3L595.4 1154.6L596.2 1155.8L597 1156.1L597.7 1155.5L598.5 1154.6L599.3 1154.2L600 1153.9L600.8 1152.9L601.6 1150.4L602.3 1149.4L603.1 1149.3L603.9 1149.5L604.7 1147.8L605.4 1146.2L606.2 1146.4L607 1146.2L607.7 1146.9L608.5 1146.8L609.3 1146.3L610.1 1147.1L610.8 1148.5L611.6 1150L612.4 1150L613.1 1149.4L613.9 1150.8L614.7 1152.2L615.4 1153.5L616.2 1153.5L617 1152.6L617.8 1152.8L618.5 1152.7L619.3 1152.4L620.1 1151L620.8 1148.1L621.6 1148.1L622.4 1149L623.1 1150L623.9 1148.6L624.7 1147.3L625.5 1148L626.2 1148.7L627 1149.6L627.8 1148.2L628.5 1147.5L629.3 1147.7L630.1 1147.8L630.9 1148.5L631.6 1147.2L632.4 1146.4L633.2 1146.6L633.9 1146.8L634.7 1147.1L635.5 1146.7L636.2 1145.9L637 1146.5L637.8 1147.4L638.6 1148.5L639.3 1147.7L640.1 1146.4L640.9 1147.3L641.6 1148.3L642.4 1148.9L643.2 1147.9L643.9 1146.6L644.7 1147.1L645.5 1147.7L646.3 1148.8L647 1147.3L647.8 1145.8L648.6 1146.5L649.3 1147.1L650.1 1148.4L650.9 1146.8L651.7 1146.7L652.4 1147.7L653.2 1149L654 1149.8L654.7 1150.2L655.5 1149.4L656.3 1151.3L657 1153.8L657.8 1155.6L658.6 1154.8L659.4 1154.4L660.1 1155.4L660.9 1156.6L661.7 1157.9L662.4 1156.6L663.2 1155.7L664 1155.7L664.7 1154.2L665.5 1153L666.3 1149.9L667.1 1146.8L667.8 1145.1L668.6 1143.6L669.4 1142.4L670.1 1139.6L670.9 1138.8L671.7 1138.7L672.5 1139.2L673.2 1140.3L674 1138.1L674.8 1136.4L675.5 1137.6L676.3 1139L677.1 1140.1L677.8 1138.5L678.6 1137.5L679.4 1139L680.2 1140.3L680.9 1141.3L681.7 1139.9L682.5 1140L683.2 1141.4L684 1142.5L684.8 1143.8L685.5 1143.2L686.3 1142.6L687.1 1143.5L687.9 1144.7L688.6 1146.6L689.4 1144.7L690.2 1144.1L690.9 1145.3L691.7 1147L692.5 1147.2L693.3 1146.4L694 1146.5L694.8 1148.2L695.6 1149.7L696.3 1151.6L697.1 1150.4L697.9 1150.5L698.6 1152.1L699.4 1153.6L700.2 1153.7L701 1151.9L701.7 1151.3L702.5 1151.8L703.3 1152.3L704 1153.1L704.8 1151L705.6 1150.3L706.3 1151L707.1 1151.8L707.9 1152L708.7 1150.3L709.4 1149.4L710.2 1150.4L711 1151L711.7 1150.8L712.5 1149L713.3 1148.3L714.1 1149.2L714.8 1149.6L715.6 1149.3L716.4 1148.2L717.1 1148.5L717.9 1149.4L718.7 1150.7L719.4 1151.8L720.2 1150.9L721 1150.9L721.8 1151.9L722.5 1152.7L723.3 1153.4L724.1 1151.8L724.8 1151.6L725.6 1152.9L726.4 1153.7L727.1 1154.3L727.9 1152.9L728.7 1152.4L729.5 1153.1L730.2 1153.9L731 1153.2L731.8 1151.3L732.5 1151.1L733.3 1151.4L734.1 1151.9L734.9 1153.7L735.6 1153.5L736.4 1155.1L737.2 1157.5L737.9 1157.7L738.7 1156.5L739.5 1154.6L740.2 1154.1L741 1154L741.8 1154.5L742.6 1154.9L743.3 1154L744.1 1153.9L744.9 1155L745.6 1156.1L746.4 1156L747.2 1155L747.9 1155.3L748.7 1156.6L749.5 1157.4L750.3 1157.8L751 1157.1L751.8 1157.2L752.6 1156.7L753.3 1156.5L754.1 1155.3L754.9 1153.1L755.7 1153.4L756.4 1154.1L757.2 1154.9L758 1155L758.7 1154L759.5 1154.2L760.3 1155.3L761 1156L761.8 1155.2L762.6 1153.4L763.4 1152.8L764.1 1152.4L764.9 1152.3L765.7 1152L766.4 1151L767.2 1151.8L768 1153L768.7 1154.3L769.5 1154.1L770.3 1153.2L771.1 1154.2L771.8 1155.3L772.6 1155.8L773.4 1155.6L774.1 1154L774.9 1153.7L775.7 1154.7L776.5 1155.2L777.2 1154.3L778 1153.2L778.8 1153.7L779.5 1154.7L780.3 1155.9L781.1 1155.3L781.8 1154.6L782.6 1154.8L783.4 1156.7L784.2 1159.3L784.9 1161.1L785.7 1161.8L786.5 1164.1L787.2 1166.3L788 1167.5L788.8 1167.6L789.5 1167.7L790.3 1165.4L791.1 1163.7L791.9 1163.9L792.6 1164.9L793.4 1164.4L794.2 1165.8L794.9 1167.2L795.7 1167.9L796.5 1167L797.3 1166.3L798 1166.5L798.8 1167L799.6 1167.9L800.3 1168L801.1 1167.3L801.9 1168L802.6 1169.1L803.4 1170.2L804.2 1169L805 1166.6L805.7 1166L806.5 1165.3L807.3 1165.5L808 1167.4L808.8 1167.7L809.6 1170.3L810.3 1172.5L811.1 1174.8L811.9 1176.1L812.7 1175.8L813.4 1176.9L814.2 1177.1L815 1177L815.7 1175.1L816.5 1175.2L817.3 1177.9L818.1 1180.2L818.8 1182.9L819.6 1183L820.4 1183.2L821.1 1185.7L821.9 1187.9L822.7 1190L823.4 1190.9L824.2 1190.5L825 1192.6L825.8 1194.4L826.5 1196.3L827.3 1195.5L828.1 1195L828.1 1203.7L827.3 1203.4L826.5 1203.1L825.8 1200.3L825 1197.6L824.2 1195.1L823.4 1196L822.7 1195.8L821.9 1193.6L821.1 1191.7L820.4 1189.3L819.6 1189.1L818.8 1188.6L818.1 1185.7L817.3 1183L816.5 1180.1L815.7 1180.2L815 1182L814.2 1181.7L813.4 1181.5L812.7 1180.4L811.9 1180.8L811.1 1179.9L810.3 1177.8L809.6 1175.4L808.8 1172.8L808 1171.7L807.3 1169.7L806.5 1169.1L805.7 1169.9L805 1170.5L804.2 1172.1L803.4 1172.9L802.6 1172.1L801.9 1171.3L801.1 1170.2L800.3 1171.2L799.6 1171.3L798.8 1170.6L798 1169.8L797.3 1169.8L796.5 1170.4L795.7 1171L794.9 1170L794.2 1168.5L793.4 1167.4L792.6 1168L791.9 1168.1L791.1 1167.9L790.3 1169.6L789.5 1170.9L788.8 1171.1L788 1171.1L787.2 1170L786.5 1167.7L785.7 1165.4L784.9 1165.3L784.2 1163.9L783.4 1161.5L782.6 1159.5L781.8 1158.9L781.1 1159.6L780.3 1159.5L779.5 1158.5L778.8 1157.5L778 1156.8L777.2 1158.2L776.5 1158.6L775.7 1158.2L774.9 1157.6L774.1 1157.6L773.4 1159L772.6 1160.1L771.8 1159.5L771.1 1158.7L770.3 1157.6L769.5 1158.5L768.7 1158.1L768 1156.2L767.2 1155.2L766.4 1154.3L765.7 1155L764.9 1156.6L764.1 1156.6L763.4 1157L762.6 1157.4L761.8 1159.3L761 1159.4L760.3 1158.5L759.5 1157.5L758.7 1157.4L758 1158.1L757.2 1158.4L756.4 1157.6L755.7 1156.8L754.9 1156.7L754.1 1158.8L753.3 1159.7L752.6 1160.3L751.8 1160.7L751 1160.4L750.3 1161.7L749.5 1161.4L748.7 1160.5L747.9 1159.5L747.2 1159L746.4 1160.1L745.6 1159.7L744.9 1158.8L744.1 1157.5L743.3 1157.3L742.6 1158.5L741.8 1158.4L741 1158.3L740.2 1157.9L739.5 1158.7L738.7 1160.5L737.9 1161.2L737.2 1161.1L736.4 1159L735.6 1158.6L734.9 1160.1L734.1 1159.8L733.3 1158.5L732.5 1157.8L731.8 1157.8L731 1159.1L730.2 1158.3L729.5 1157.2L728.7 1156.1L727.9 1156.4L727.1 1158L726.4 1157.4L725.6 1156.5L724.8 1155.2L724.1 1155.5L723.3 1156.5L722.5 1156.4L721.8 1155.1L721 1154.4L720.2 1154.1L719.4 1155.7L718.7 1155.4L717.9 1154L717.1 1153L716.4 1153.3L715.6 1154.2L714.8 1154.2L714.1 1153.4L713.3 1152.8L712.5 1153.3L711.7 1155L711 1154.4L710.2 1154.3L709.4 1153.8L708.7 1154.2L707.9 1156.5L707.1 1156.5L706.3 1156.1L705.6 1155.6L704.8 1156L704 1158L703.3 1157.8L702.5 1156.9L701.7 1156L701 1156.9L700.2 1158.2L699.4 1157.6L698.6 1156.5L697.9 1154.7L697.1 1154.8L696.3 1155.9L695.6 1154.4L694.8 1153.1L694 1151.5L693.3 1151.2L692.5 1152.2L691.7 1151L690.9 1149.3L690.2 1148L689.4 1148.7L688.6 1150.6L687.9 1149.3L687.1 1148.3L686.3 1147.1L685.5 1147.4L684.8 1148.7L684 1147.3L683.2 1146L682.5 1144.5L681.7 1144.6L680.9 1145.6L680.2 1144.4L679.4 1143.4L678.6 1142.3L677.8 1143L677.1 1144.6L676.3 1143.1L675.5 1142.1L674.8 1141L674 1142.2L673.2 1144.5L672.5 1144L671.7 1143.7L670.9 1143.3L670.1 1144L669.4 1146.1L668.6 1148L667.8 1149.7L667.1 1150.8L666.3 1154L665.5 1158L664.7 1159.4L664 1161.2L663.2 1161.3L662.4 1161.7L661.7 1162.3L660.9 1161.4L660.1 1160L659.4 1159.2L658.6 1159.5L657.8 1159.6L657 1157.2L656.3 1155.3L655.5 1152.8L654.7 1153.7L654 1154.4L653.2 1153.4L652.4 1152.5L651.7 1151.5L650.9 1151.9L650.1 1152L649.3 1151.2L648.6 1150.4L647.8 1150L647 1151.2L646.3 1152.7L645.5 1151.5L644.7 1150.7L643.9 1150L643.2 1151.5L642.4 1153.2L641.6 1152.4L640.9 1151.5L640.1 1150.4L639.3 1151.4L638.6 1152.5L637.8 1151.3L637 1150.2L636.2 1149.1L635.5 1150.1L634.7 1151.1L633.9 1151.3L633.2 1150.8L632.4 1150.3L631.6 1151.9L630.9 1152.8L630.1 1152.6L629.3 1152.5L628.5 1152.2L627.8 1153.3L627 1153.7L626.2 1153.1L625.5 1152.8L624.7 1151.9L623.9 1153.3L623.1 1154.1L622.4 1153.6L621.6 1152.7L620.8 1152.8L620.1 1155.1L619.3 1157.2L618.5 1157.2L617.8 1157.4L617 1157.6L616.2 1157.9L615.4 1158.1L614.7 1156.6L613.9 1155.4L613.1 1153.7L612.4 1154.1L611.6 1154.5L610.8 1153.2L610.1 1151.9L609.3 1151L608.5 1151.2L607.7 1151.2L607 1150.5L606.2 1150.6L605.4 1150.6L604.7 1151.8L603.9 1152.7L603.1 1152L602.3 1152.4L601.6 1153L600.8 1156L600 1158.3L599.3 1159L598.5 1159.9L597.7 1160.6L597 1161.1L596.2 1160.7L595.4 1159.3L594.6 1157.5L593.9 1155.6L593.1 1157.1L592.3 1158.2L591.6 1157.9L590.8 1157.8L590 1158.3L589.3 1159.9L588.5 1161.1L587.7 1161.1L586.9 1158.3L586.2 1156L585.4 1155.2L584.6 1154L583.9 1151.7L583.1 1150.4L582.3 1148.8L581.5 1149.7L580.8 1149.7L580 1148L579.2 1147L578.5 1146.2L577.7 1147.5L576.9 1147.9L576.2 1147L575.4 1146.4L574.6 1145.9L573.8 1147.8L573.1 1148.3L572.3 1147.2L571.5 1146.1L570.8 1145.7L570 1147.8L569.2 1148.7L568.5 1147.6L567.7 1147.2L566.9 1147L566.1 1148.3L565.4 1148.8L564.6 1148.1L563.8 1147.1L563.1 1147.2L562.3 1149.5L561.5 1150.1L560.7 1150.3L560 1150.2L559.2 1150.6L558.4 1153.1L557.7 1153.8L556.9 1153.6L556.1 1153.7L555.4 1152.8L554.6 1153.6L553.8 1153.2L553 1151.5L552.3 1150.1L551.5 1149.4L550.7 1151L550 1150.8L549.2 1149.5L548.4 1148.1L547.7 1147.3L546.9 1148L546.1 1147.2L545.3 1145.8L544.6 1144.1L543.8 1143.5L543 1144.4L542.3 1144.2L541.5 1143.8L540.7 1143L539.9 1143.7L539.2 1146L538.4 1146.3L537.6 1146.1L536.9 1145.5L536.1 1146L535.3 1148.3L534.6 1148.7L533.8 1148.5L533 1148.6L532.2 1149.3L531.5 1151.3L530.7 1152.1L529.9 1151.3L529.2 1151.2L528.4 1150.8L527.6 1151.2L526.9 1149.9L526.1 1147.5L525.3 1145.2L524.5 1144.3L523.8 1144.7L523 1143.4L522.2 1143.4L521.5 1142.8L520.7 1143.5L519.9 1145.7L519.1 1146.1L518.4 1145.6L517.6 1145.4L516.8 1146.4L516.1 1148.2L515.3 1148.8L514.5 1149L513.8 1149.2L513 1150.8L512.2 1153L511.4 1153.6L510.7 1153.2L509.9 1152.9L509.1 1154.2L508.4 1156.2L507.6 1156.6L506.8 1156.4L506.1 1155.9L505.3 1156.7L504.5 1157.1L503.7 1155.6L503 1153.4L502.2 1151.3L501.4 1151.4L500.7 1152.1L499.9 1151.2L499.1 1149.4L498.3 1147.8L497.6 1147.4L496.8 1148.5L496 1147L495.3 1145.6L494.5 1143.6L493.7 1143.7L493 1145.1L492.2 1144L491.4 1142.7L490.6 1141.4L489.9 1141.2L489.1 1142.2L488.3 1141.9L487.6 1141.2L486.8 1140.8L486 1141.9L485.3 1143.8L484.5 1143.7L483.7 1143.2L482.9 1142.6L482.2 1143.9L481.4 1145.5L480.6 1145.2L479.9 1145L479.1 1144.4L478.3 1145.9L477.5 1148.4L476.8 1148.5L476 1148.4L475.2 1148.2L474.5 1149.8L473.7 1152.3L472.9 1152.6L472.2 1152.3L471.4 1151.9L470.6 1153.3L469.8 1155L469.1 1153.3L468.3 1152L467.5 1150.7L466.8 1151.3L466 1153.2L465.2 1152.1L464.5 1151.6L463.7 1151.4L462.9 1153.2L462.1 1155.3L461.4 1155.1L460.6 1154.6L459.8 1152.9L459.1 1154.1L458.3 1154.8L457.5 1153.3L456.7 1152.3L456 1150.6L455.2 1150.9L454.4 1151.6L453.7 1150.1L452.9 1148.8L452.1 1147.1L451.4 1147.2L450.6 1147.6L449.8 1145.9L449 1144.3L448.3 1142.3L447.5 1143L446.7 1143.9L446 1142.1L445.2 1140.6L444.4 1138.8L443.7 1140L442.9 1140.9L442.1 1139.2L441.3 1137.5L440.6 1135.4L439.8 1136.6L439 1137.4L438.3 1135.4L437.5 1133.6L436.7 1131.8L435.9 1133L435.2 1133.5L434.4 1131.9L433.6 1130.1L432.9 1129L432.1 1129.3L431.3 1129.7L430.6 1127.9L429.8 1126.2L429 1124.3L428.2 1125.7L427.5 1126.3L426.7 1124.4L425.9 1122.5L425.2 1121.7L424.4 1124.6L423.6 1126.6L422.9 1126.6L422.1 1126.2L421.3 1126.1L420.5 1128.7L419.8 1130.5L419 1130.4L418.2 1130.1L417.5 1129.7L416.7 1132L415.9 1133.8L415.1 1133.3L414.4 1132.9L413.6 1132.7L412.8 1134.7L412.1 1135.4L411.3 1135L410.5 1134.2L409.8 1133.5L409 1135.3L408.2 1136.4L407.4 1135L406.7 1133.3L405.9 1132L405.1 1132.7L404.4 1132.4L403.6 1130.9L402.8 1129L402.1 1127.2L401.3 1129.4L400.5 1131.2L399.7 1131.6L399 1131.8L398.2 1132L397.4 1134.4L396.7 1136L395.9 1134.9L395.1 1133.4L394.3 1132.1L393.6 1132.6L392.8 1132.5L392 1131.3L391.3 1129.7L390.5 1128.1L389.7 1128.9L389 1128.8L388.2 1127.4L387.4 1125.6L386.6 1125L385.9 1126.6L385.1 1126.6L384.3 1125.7L383.6 1124.3L382.8 1123.6L382 1124.9L381.3 1125.2L380.5 1124.4L379.7 1123.8L378.9 1123.5L378.2 1125L377.4 1125.5L376.6 1124.6L375.9 1123.2L375.1 1123L374.3 1124.5L373.5 1124.6L372.8 1123.1L372 1121.6L371.2 1120.7L370.5 1121.6L369.7 1121.4L368.9 1120L368.2 1118.5L367.4 1118.3L366.6 1120.3L365.8 1120.8L365.1 1120.6L364.3 1120.1L363.5 1120.7L362.8 1122.7L362 1123.6L361.2 1122.9L360.5 1122.1L359.7 1121.6L358.9 1123.6L358.1 1123.6L357.4 1122.5L356.6 1121.6L355.8 1121.7L355.1 1123.5L354.3 1118.1L353.5 1116.8L352.7 1115.7L352 1115.3L351.2 1116.1L350.4 1116.1L349.7 1114.5L348.9 1113.2L348.1 1113L347.4 1114.4L346.6 1114.2L345.8 1113.9L345 1113L344.3 1113.2L343.5 1115.2L342.7 1115.2L342 1114.5L341.2 1113.2L340.4 1112.4L339.7 1113.3L338.9 1112.4L338.1 1110.5L337.3 1108.6L336.6 1107.9L335.8 1108.7L335 1108.8L334.3 1108.5L333.5 1108.1L332.7 1109.1L331.9 1111.6L331.2 1111.8L330.4 1111.3L329.6 1110.7L328.9 1112.2L328.1 1114.5L327.3 1114.2L326.6 1113.4L325.8 1112.2L325 1113L324.2 1115.4L323.5 1115.3L322.7 1114.5L321.9 1113.2L321.2 1113L320.4 1113.5L319.6 1113.1L318.9 1111.7L318.1 1110.1L317.3 1110.4L316.5 1112.6L315.8 1112.3L315 1112.1L314.2 1111.4L313.5 1112.8L312.7 1115.6L311.9 1116.5L311.1 1117.4L310.4 1117.8L309.6 1119.7L308.8 1123.5L308.1 1124.6L307.3 1124.6L306.5 1124.9L305.8 1126.3L305 1129.1L304.2 1130L303.4 1129.7L302.7 1129.8L301.9 1131.6L301.1 1133.7L300.4 1133.9L299.6 1133.9L298.8 1133.8L298.1 1132.3L297.3 1131.8L296.5 1129L295.7 1126.5L295 1123.6L294.2 1124.1L293.4 1125.4L292.7 1124.8L291.9 1123.7L291.1 1122.9L290.3 1123.5L289.6 1124.9L288.8 1124.2L288 1123.1L287.3 1122.1L286.5 1123.2L285.7 1124.7L285 1124.5L284.2 1123.5L283.4 1122.7L282.6 1123.6L281.9 1125.8L281.1 1124.8L280.3 1124.2Z" fill="#80cdc1" stroke="#80cdc1" stroke-width="0.6" stroke-linejoin="round"/><path d="M387.1 1125L387.4 1147.7L387.8 1125" fill="none" stroke="#80cdc1" stroke-width="2.2" stroke-linejoin="round" stroke-linecap="butt"/><path d="M774 1155L774.3 1180.3L774.8 1155" fill="none" stroke="#80cdc1" stroke-width="2.6" stroke-linejoin="round" stroke-linecap="butt"/><path d="M828 1198L828.5 1204L828.8 1137" fill="none" stroke="#80cdc1" stroke-width="2.4" stroke-linejoin="round" stroke-linecap="butt"/><path d="M829.1 1136.6L829.9 1136.4L830.7 1136.6L831.4 1134.7L832.2 1133.8L833 1134L833.8 1134L834.5 1133.7L835.3 1132.8L836.1 1132.5L836.8 1133.6L837.6 1134.6L838.4 1134.8L839.2 1133.8L839.9 1133.7L840.7 1134.9L841.5 1135.6L842.2 1135.9L843 1134.4L843.8 1133.3L844.6 1134.2L845.3 1134.9L846.1 1134.2L846.9 1132.1L847.6 1131.8L848.4 1132L849.2 1132.9L850 1134.8L850.7 1134.3L851.5 1135.2L852.3 1137.5L853 1139.6L853.8 1140.2L854.6 1139.2L855.4 1139.5L856.1 1140.9L856.9 1142.1L857.7 1142.6L858.4 1142.2L859.2 1142L860 1142.4L860.7 1142.3L861.5 1142.4L862.3 1140.3L863.1 1139.8L863.8 1140L864.6 1140.2L865.4 1140.3L866.1 1139.1L866.9 1139.7L867.7 1141.1L868.5 1142.5L869.2 1143L870 1141.6L870.8 1142.4L871.5 1142.7L872.3 1142.7L873.1 1141.8L873.9 1139.6L874.6 1139L875.4 1138.6L876.2 1138.5L876.9 1137.6L877.7 1135.7L878.5 1135.6L879.3 1136.4L880 1137L880.8 1137L881.6 1135L882.3 1135.4L883.1 1136.1L883.9 1136.9L884.7 1135.9L885.4 1135.6L886.2 1136.5L887 1137.9L887.7 1139.6L888.5 1139.8L889.3 1138.8L890.1 1139.7L890.8 1141.1L891.6 1142.4L892.4 1141.9L893.1 1141.1L893.9 1142L894.7 1143.1L895.4 1143.1L896.2 1140.7L897 1137.4L897.8 1136.2L898.5 1135L899.3 1134.3L900.1 1134.1L900.8 1132.1L901.6 1132.5L902.4 1132.8L903.2 1133.6L903.9 1132.8L904.7 1132.3L905.5 1134.3L906.2 1136.2L907 1138.5L907.8 1139.1L908.6 1138.9L909.3 1140.9L910.1 1142.4L910.9 1142.9L911.6 1142.8L912.4 1141.2L913.2 1142.4L914 1143.2L914.7 1144.2L915.5 1143.6L916.3 1142.3L917 1141.9L917.8 1141.9L918.6 1141.8L919.4 1140L920.1 1137.9L920.9 1137.7L921.7 1137.6L922.4 1138.7L923.2 1137.5L924 1136L924.7 1136.8L925.5 1137.3L926.3 1138.3L927.1 1137.6L927.8 1136.6L928.6 1137.7L929.4 1138.5L930.1 1139.6L930.9 1139.4L931.7 1138.3L932.5 1139.4L933.2 1140.7L934 1141.6L934.8 1141.6L935.5 1141.1L936.3 1142.4L937.1 1143.7L937.9 1144.9L938.6 1144.1L939.4 1143.1L940.2 1143L940.9 1142.9L941.7 1143L942.5 1141.5L943.3 1140.1L944 1140L944.8 1140.4L945.6 1140.2L946.3 1139L947.1 1138.2L947.9 1139.1L948.7 1139.8L949.4 1140.5L950.2 1139.5L951 1138L951.7 1139.3L952.5 1140L953.3 1141.3L954.1 1139.9L954.8 1139.5L955.6 1140.7L956.4 1141.8L957.1 1143L957.9 1142.2L958.7 1142.2L959.4 1143.8L960.2 1145.8L961 1146.8L961.8 1146.9L962.5 1146.8L963.3 1147.9L964.1 1148.9L964.8 1149.8L965.6 1148.4L966.4 1148.2L967.2 1148.5L967.9 1148.6L968.7 1149.3L969.5 1146.8L970.2 1145.2L971 1145.8L971.8 1145.8L972.6 1146.3L973.3 1143.8L974.1 1143L974.9 1143.1L975.6 1144L976.4 1143.9L977.2 1142.2L978 1141.1L978.7 1141.6L979.5 1142.8L980.3 1142.9L981 1141.4L981.8 1140.7L982.6 1141.2L983.4 1142.1L984.1 1141.8L984.9 1140.9L985.7 1140.6L985.7 1145.1L984.9 1145.7L984.1 1146.6L983.4 1146L982.6 1145L981.8 1144.6L981 1145.3L980.3 1146.9L979.5 1146.2L978.7 1145.5L978 1144.9L977.2 1145.5L976.4 1147.9L975.6 1147.3L974.9 1146.9L974.1 1146.5L973.3 1147.5L972.6 1149.6L971.8 1149.7L971 1149.4L970.2 1149.3L969.5 1150.8L968.7 1153.3L967.9 1153.2L967.2 1153.5L966.4 1153L965.6 1153.3L964.8 1154.1L964.1 1153.6L963.3 1152.9L962.5 1151.9L961.8 1151.5L961 1151.8L960.2 1150L959.4 1148.4L958.7 1146.8L957.9 1146.8L957.1 1147.5L956.4 1146.3L955.6 1145L954.8 1143.7L954.1 1144.3L953.3 1145.4L952.5 1143.6L951.7 1142.7L951 1142L950.2 1143.3L949.4 1144.6L948.7 1143.7L947.9 1143L947.1 1142.4L946.3 1143.5L945.6 1144.6L944.8 1144.6L944 1144.2L943.3 1144.3L942.5 1146.1L941.7 1148L940.9 1148L940.2 1147.8L939.4 1147.6L938.6 1148.9L937.9 1148.8L937.1 1147.2L936.3 1145.8L935.5 1144.8L934.8 1145.3L934 1145.7L933.2 1144.4L932.5 1143.3L931.7 1142.2L930.9 1143.2L930.1 1143.8L929.4 1142.8L928.6 1141.8L927.8 1140.8L927.1 1141.6L926.3 1142.5L925.5 1141.6L924.7 1140.7L924 1140.2L923.2 1141.1L922.4 1141.8L921.7 1141L920.9 1141.1L920.1 1141.1L919.4 1143.7L918.6 1145L917.8 1145L917 1145.3L916.3 1145.2L915.5 1146.7L914.7 1147L914 1146L913.2 1145.4L912.4 1144.2L911.6 1145.3L910.9 1146.1L910.1 1145.1L909.3 1143.9L908.6 1142.1L907.8 1142.2L907 1142.1L906.2 1140.4L905.5 1138.5L904.7 1136.8L903.9 1137.4L903.2 1138L902.4 1137.1L901.6 1136.1L900.8 1135.4L900.1 1137.6L899.3 1138.3L898.5 1139.1L897.8 1140.4L897 1142L896.2 1144.9L895.4 1147.1L894.7 1147.6L893.9 1146.1L893.1 1145.7L892.4 1146.3L891.6 1146.5L890.8 1145.1L890.1 1143.6L889.3 1142.7L888.5 1144L887.7 1143.5L887 1142L886.2 1140.5L885.4 1139.3L884.7 1140L883.9 1140.4L883.1 1139.6L882.3 1138.4L881.6 1138.4L880.8 1140L880 1140.9L879.3 1140L878.5 1139.3L877.7 1139.4L876.9 1141.3L876.2 1142.6L875.4 1142.4L874.6 1142.7L873.9 1143.2L873.1 1145.2L872.3 1146.2L871.5 1146.4L870.8 1145.8L870 1145.2L869.2 1146.3L868.5 1146.3L867.7 1145L866.9 1143.9L866.1 1143L865.4 1144.3L864.6 1144.5L863.8 1144.5L863.1 1144.1L862.3 1145L861.5 1146.9L860.7 1147.6L860 1147.5L859.2 1147.7L858.4 1147L857.7 1147.6L856.9 1147.2L856.1 1145.6L855.4 1144.4L854.6 1143.6L853.8 1144.5L853 1143.1L852.3 1141.3L851.5 1139.2L850.7 1138.5L850 1139.4L849.2 1138.5L848.4 1137.3L847.6 1136.8L846.9 1137.2L846.1 1139L845.3 1138.9L844.6 1137.6L843.8 1137.3L843 1137.5L842.2 1139.3L841.5 1139.4L840.7 1138.8L839.9 1138L839.2 1138L838.4 1138.8L837.6 1138.1L836.8 1137.4L836.1 1136L835.3 1136.3L834.5 1137.3L833.8 1137.6L833 1137.2L832.2 1136.8L831.4 1137.7L830.7 1140.2L829.9 1140.7L829.1 1141Z" fill="#80cdc1" stroke="#80cdc1" stroke-width="0.6" stroke-linejoin="round"/><path d="M994.6 1142.5L995.4 1143.5L996.1 1143.1L996.9 1142.1L997.7 1143.2L998.5 1144L999.2 1144.9L1000 1144.3L1000.8 1143.7L1001.6 1144.4L1002.3 1145.7L1003.1 1146.6L1003.9 1146.3L1004.6 1146.3L1005.4 1147.3L1006.2 1148.5L1007 1149.3L1007.7 1149.2L1008.5 1148.9L1009.3 1149.4L1010.1 1150.3L1010.8 1150.5L1011.6 1150.2L1012.4 1149.2L1013.1 1150.2L1013.9 1150.6L1014.7 1150.8L1015.5 1149.2L1016.2 1148.7L1017 1148.9L1017.8 1149.1L1018.6 1149.8L1019.3 1148.5L1020.1 1148L1020.9 1149L1021.6 1149.7L1022.4 1150.9L1023.2 1149.9L1024 1149.9L1024.7 1150.9L1025.5 1151.2L1026.3 1150.2L1027 1148.1L1027.8 1146.8L1028.6 1146.1L1029.4 1145.8L1030.1 1146.4L1030.9 1146.4L1031.7 1147.5L1032.5 1148.8L1033.2 1150.4L1034 1152.5L1034.8 1152.3L1035.5 1152.6L1036.3 1153.4L1037.1 1154L1037.9 1154.6L1038.6 1153.3L1039.4 1153L1040.2 1153.7L1041 1153.9L1041.7 1153.1L1042.5 1152L1043.3 1151.5L1044 1151.5L1044.8 1151.7L1045.6 1151.1L1046.4 1150.7L1047.1 1151.6L1047.9 1153L1048.7 1154.8L1049.5 1156.9L1050.2 1157L1051 1158.2L1051.8 1160.8L1052.5 1162.8L1053.3 1164.3L1054.1 1164.1L1054.9 1164.9L1055.6 1165.4L1056.4 1166.2L1057.2 1166.5L1058 1165.2L1058.7 1164.9L1059.5 1166.1L1060.3 1166.6L1061 1166.4L1061.8 1166.6L1062.6 1166.9L1063.4 1167.5L1064.1 1168.6L1064.9 1168.9L1065.7 1167.7L1066.5 1168L1067.2 1168.7L1068 1169.8L1068.8 1170.6L1069.5 1170.5L1070.3 1171.8L1071.1 1173.4L1071.9 1175.2L1072.6 1176.3L1073.4 1176.6L1074.2 1177.5L1074.9 1179.1L1075.7 1180.5L1076.5 1181.5L1077.3 1180.8L1077.3 1184.2L1076.5 1185.1L1075.7 1184.7L1074.9 1183.6L1074.2 1182.6L1073.4 1181.8L1072.6 1181.6L1071.9 1180.5L1071.1 1178.3L1070.3 1176.5L1069.5 1175.2L1068.8 1174.7L1068 1175.4L1067.2 1174L1066.5 1172.7L1065.7 1172.3L1064.9 1173.4L1064.1 1173.2L1063.4 1172L1062.6 1171.2L1061.8 1170.5L1061 1171.4L1060.3 1171.8L1059.5 1170.9L1058.7 1169.9L1058 1170L1057.2 1171.4L1056.4 1171.9L1055.6 1171.2L1054.9 1170.2L1054.1 1170.2L1053.3 1170.8L1052.5 1169L1051.8 1166.2L1051 1163.4L1050.2 1162.1L1049.5 1161.7L1048.7 1160.6L1047.9 1158.9L1047.1 1157.2L1046.4 1156.4L1045.6 1155.8L1044.8 1156.1L1044 1156.1L1043.3 1155.9L1042.5 1156.2L1041.7 1157.5L1041 1157.8L1040.2 1157.5L1039.4 1156.7L1038.6 1156.9L1037.9 1158.2L1037.1 1158L1036.3 1157.4L1035.5 1156.8L1034.8 1156.7L1034 1157.1L1033.2 1155.5L1032.5 1154L1031.7 1152.1L1030.9 1151.4L1030.1 1151.3L1029.4 1150.4L1028.6 1150.9L1027.8 1151.2L1027 1152.8L1026.3 1154.9L1025.5 1155.3L1024.7 1155.2L1024 1153.9L1023.2 1154.2L1022.4 1155.1L1021.6 1154L1020.9 1152.9L1020.1 1151.9L1019.3 1152L1018.6 1153.7L1017.8 1153.2L1017 1152.7L1016.2 1152.7L1015.5 1153.4L1014.7 1154.5L1013.9 1153.9L1013.1 1153.6L1012.4 1152.5L1011.6 1153.1L1010.8 1154.2L1010.1 1153.8L1009.3 1152.9L1008.5 1152.6L1007.7 1152.9L1007 1153.2L1006.2 1151.9L1005.4 1151.1L1004.6 1150.3L1003.9 1150.5L1003.1 1150.6L1002.3 1149.7L1001.6 1149.1L1000.8 1147.9L1000 1148.5L999.2 1148.9L998.5 1147.7L997.7 1147.2L996.9 1146.3L996.1 1147L995.4 1147.3L994.6 1146Z" fill="#80cdc1" stroke="#80cdc1" stroke-width="0.6" stroke-linejoin="round"/><path d="M1021 1150L1021.4 1139.7L1021.9 1150" fill="none" stroke="#80cdc1" stroke-width="2.4" stroke-linejoin="round" stroke-linecap="butt"/><path d="M1077.3 1184L1077.7 1117.5L1078.3 1135" fill="none" stroke="#80cdc1" stroke-width="2.4" stroke-linejoin="round" stroke-linecap="butt"/><path d="M1078.7 1133.1L1079.5 1133.9L1080.3 1133.1L1081 1132.7L1081.8 1132.5L1082.6 1132.9L1083.4 1133L1084.1 1132.8L1084.9 1131.9L1085.7 1131.1L1086.4 1131.3L1087.2 1131.3L1088 1130.7L1088.7 1128.9L1089.5 1126.8L1090.3 1124.5L1091.1 1122.8L1091.8 1122.8L1092.6 1122.1L1093.4 1122.3L1094.1 1122.6L1094.9 1122.7L1095.7 1123.1L1096.5 1122.5L1097.2 1122.6L1098 1123.4L1098.8 1123.6L1099.5 1123.7L1100.3 1123.1L1101.1 1123L1101.8 1123.9L1102.6 1124.3L1103.4 1124.9L1104.2 1125.3L1104.9 1126.9L1105.7 1128.5L1106.5 1129.6L1107.2 1130.3L1108 1130.3L1108.8 1131.5L1109.6 1132.5L1110.3 1133.4L1111.1 1133.3L1111.9 1132.7L1112.6 1133.1L1113.4 1133.7L1114.2 1133.8L1114.9 1134L1115.7 1133.1L1116.5 1132.8L1117.3 1132.6L1118 1133.1L1118.8 1132L1119.6 1131.3L1120.3 1131L1121.1 1131.3L1121.9 1131.4L1122.6 1131.1L1123.4 1130.4L1124.2 1131L1125 1131.3L1125.7 1131.3L1126.5 1130.9L1127.3 1130.7L1128 1131L1128.8 1131.3L1129.6 1131.3L1130.4 1130.9L1131.1 1130.2L1131.9 1130.1L1132.7 1130.5L1133.4 1131L1134.2 1130.5L1135 1130.4L1135.7 1131.2L1136.5 1131.4L1137.3 1132.2L1138.1 1132L1138.8 1132L1139.6 1131.6L1140.4 1130.9L1141.1 1130.6L1141.9 1129.1L1142.7 1127.6L1143.4 1127.2L1144.2 1126.8L1145 1125.6L1145.8 1124.6L1146.5 1122.8L1147.3 1121.5L1148.1 1120.8L1148.8 1121.2L1149.6 1121.5L1150.4 1122.1L1151.2 1123.3L1151.9 1124L1152.7 1126.1L1153.5 1127L1154.2 1127.8L1155 1129.9L1155.8 1129.9L1156.5 1130.1L1157.3 1129L1158.1 1128.2L1158.9 1128.4L1159.6 1128.2L1160.4 1128.2L1161.2 1128L1161.9 1127.7L1162.7 1128.1L1163.5 1128.5L1164.2 1130.6L1165 1131.9L1165.8 1133.9L1166.6 1135.4L1167.3 1135.1L1168.1 1134.3L1168.9 1133.8L1169.6 1132.2L1170.4 1132L1171.2 1131.7L1172 1132L1172.7 1130.8L1173.5 1130.2L1174.3 1129.7L1175 1129.6L1175.8 1129.8L1176.6 1129.4L1177.3 1128.3L1178.1 1128.6L1178.9 1129.3L1179.7 1130.4L1180.4 1130.7L1181.2 1131.5L1182 1132.7L1182.7 1134.2L1183.5 1135.4L1184.3 1134.2L1185.1 1133.3L1185.8 1132.2L1186.6 1132L1187.4 1131.2L1188.1 1130.1L1188.9 1128.8L1189.7 1128.2L1190.4 1128.2L1191.2 1128.2L1192 1127.8L1192.8 1127.4L1193.5 1127.7L1194.3 1128L1195.1 1128.1L1195.8 1127.5L1196.6 1127.5L1197.4 1127.6L1198.1 1127.9L1198.9 1129.1L1199.7 1129.3L1200.5 1130L1201.2 1131.1L1202 1132.7L1202.8 1133.5L1203.5 1133.6L1204.3 1134.4L1205.1 1133.8L1205.9 1133.4L1206.6 1132.4L1207.4 1130.8L1208.2 1129.7L1208.9 1129.4L1209.7 1128.2L1210.5 1128.6L1211.2 1127.3L1212 1127.2L1212.8 1126.8L1213.6 1127L1214.3 1126.7L1215.1 1126.1L1215.9 1125.9L1216.6 1126.4L1217.4 1126.7L1218.2 1127.2L1218.9 1126.7L1219.7 1126.3L1220.5 1126.8L1221.3 1126.9L1222 1127.5L1222.8 1126.6L1223.6 1126.3L1224.3 1127L1225.1 1128L1225.9 1128.5L1226.7 1128L1227.4 1128.4L1228.2 1129L1229 1129.2L1229.7 1129.1L1230.5 1128.4L1231.3 1128.2L1232 1127.9L1232.8 1128.2L1233.6 1128.3L1234.4 1127.6L1235.1 1127.5L1235.9 1128.2L1236.7 1128.5L1237.4 1129.1L1238.2 1128.8L1239 1129.2L1239.8 1129.5L1240.5 1130.4L1241.3 1130.6L1242.1 1130.4L1242.8 1130.3L1243.6 1131L1244.4 1132.1L1245.1 1132.1L1245.9 1131.6L1246.7 1131.7L1247.5 1132.8L1248.2 1133.1L1249 1133.6L1249.8 1134.1L1250.5 1135.1L1251.3 1136.6L1252.1 1138.1L1252.8 1138.7L1253.6 1139.3L1254.4 1141.5L1255.2 1143.8L1255.9 1146.5L1256.7 1146.3L1257.5 1144L1258.2 1142.6L1259 1141.4L1259.8 1139.9L1260.6 1138.7L1261.3 1135.9L1262.1 1135.4L1262.9 1135.4L1263.6 1135.4L1264.4 1135.3L1265.2 1133.9L1265.9 1133.1L1266.7 1132.6L1267.5 1133.7L1268.3 1134L1269 1133.5L1269.8 1133.4L1270.6 1133.5L1271.3 1134.5L1272.1 1135.2L1272.9 1134.9L1273.6 1135.9L1274.4 1137L1275.2 1136.6L1276 1136.7L1276.7 1135.7L1277.5 1135.6L1278.3 1135.1L1279 1135.5L1279.8 1134.7L1280.6 1133.9L1281.4 1133.9L1282.1 1133.6L1282.9 1135.4L1283.7 1136.1L1284.4 1136.1L1285.2 1137.5L1286 1138.6L1286.7 1139.6L1287.5 1141L1288.3 1141.2L1289.1 1141.3L1289.8 1142L1290.6 1142.3L1291.4 1142.5L1292.1 1141.9L1292.9 1141.9L1293.7 1142.6L1294.5 1143.1L1295.2 1142.7L1296 1142.7L1296.8 1143L1297.5 1143L1298.3 1143.8L1299.1 1144L1299.8 1143.5L1300.6 1144.1L1301.4 1144.5L1302.2 1145.2L1302.9 1145L1303.7 1144.5L1304.5 1144.7L1305.2 1145.6L1306 1145.9L1306.8 1145.9L1307.5 1145.5L1308.3 1145.2L1309.1 1146.1L1309.9 1146.4L1310.6 1146.1L1311.4 1145.9L1312.2 1146.8L1312.9 1148.6L1313.7 1150.3L1314.5 1151.6L1315.3 1152.4L1316 1154.2L1316.8 1156.1L1317.6 1158L1318.3 1159.2L1319.1 1160.6L1319.9 1161.6L1320.6 1161.7L1321.4 1161.7L1322.2 1161.4L1323 1160.2L1323.7 1160.5L1324.5 1160.3L1325.3 1160.8L1326 1160.2L1326.8 1159.7L1327.6 1160.1L1328.3 1161.4L1329.1 1164.8L1329.9 1167.5L1330.7 1166.1L1331.4 1164.4L1332.2 1162.5L1333 1160.7L1333.7 1158.4L1334.5 1156.6L1335.3 1156.4L1336.1 1156.8L1336.8 1157.2L1337.6 1156.3L1338.4 1156L1339.1 1155.7L1339.9 1155.7L1340.7 1156L1341.4 1156L1342.2 1155.5L1343 1156.2L1343.8 1157.3L1344.5 1157.6L1345.3 1157.5L1346.1 1157.4L1346.8 1156.8L1347.6 1156L1348.4 1155.5L1349.2 1154.3L1349.9 1154.7L1350.7 1155.1L1351.5 1156.7L1352.2 1157.4L1353 1157.2L1353.8 1157.7L1354.5 1158.7L1355.3 1159.3L1356.1 1158L1356.9 1155.6L1357.6 1153.7L1358.4 1152.4L1359.2 1151.2L1359.9 1152L1360.7 1152.4L1361.5 1152.4L1362.2 1153.7L1363 1154.6L1363.8 1155.5L1364.6 1155.5L1365.3 1154.4L1366.1 1154.3L1366.9 1153.7L1367.6 1153.8L1368.4 1152.7L1369.2 1151.7L1370 1151L1370.7 1150.6L1371.5 1150.4L1372.3 1149.2L1373 1149.1L1373.8 1150L1374.6 1150.6L1375.3 1150.9L1376.1 1150.6L1376.9 1150.6L1377.7 1151.2L1378.4 1151.9L1379.2 1152.5L1380 1152.4L1380.7 1152.7L1381.5 1153.3L1382.3 1153.8L1383 1154.5L1383.8 1154.9L1384.6 1155.1L1385.4 1155L1386.1 1154.8L1386.9 1155L1387.7 1153.5L1388.4 1153.2L1389.2 1152.9L1390 1152.5L1390.8 1151.8L1391.5 1151.5L1392.3 1151.2L1393.1 1151.4L1393.8 1151.7L1394.6 1152.1L1395.4 1151L1396.1 1150.9L1396.9 1150.9L1397.7 1151.3L1398.5 1152.3L1399.2 1152.7L1400 1153.9L1400.8 1155L1401.5 1154.9L1402.3 1154.8L1403.1 1154.3L1403.9 1154.3L1404.6 1154.7L1405.4 1154.7L1406.2 1154.7L1406.9 1154.5L1407.7 1154.9L1408.5 1155.5L1409.2 1156.4L1410 1156.9L1410.8 1157.4L1411.6 1157.5L1412.3 1158.2L1413.1 1158.7L1413.9 1159.5L1414.6 1159.3L1415.4 1158.8L1416.2 1158.4L1416.9 1158.5L1417.7 1158L1418.5 1157.1L1419.3 1156.4L1420 1156.7L1420.8 1156.8L1421.6 1156.6L1422.3 1155.2L1423.1 1154.1L1423.9 1153.6L1424.7 1152.9L1425.4 1151.7L1426.2 1150.4L1427 1149.3L1427.7 1148.3L1428.5 1148.5L1429.3 1149.7L1430 1150.9L1430.8 1151.5L1431.6 1153.6L1432.4 1155.1L1433.1 1156.6L1433.9 1157.1L1434.7 1158.4L1435.4 1157L1436.2 1156.3L1437 1155.4L1437.7 1153.7L1438.5 1152.3L1439.3 1151.7L1440.1 1150.7L1440.8 1149.4L1441.6 1148.1L1442.4 1147L1443.1 1146L1443.9 1144.9L1444.7 1146.9L1445.5 1147.7L1446.2 1149.2L1447 1151.5L1447.8 1153.1L1448.5 1155.2L1449.3 1156.4L1450.1 1157.4L1450.8 1158.9L1451.6 1160.9L1452.4 1161.6L1453.2 1162.4L1453.9 1162.1L1454.7 1161L1455.5 1160.2L1456.2 1159L1457 1156.9L1457.8 1155.6L1458.5 1154.3L1459.3 1153.3L1460.1 1152.3L1460.9 1150.1L1461.6 1149L1462.4 1148L1463.2 1148.5L1463.9 1149.6L1464.7 1149.6L1465.5 1150.2L1466.3 1151.6L1467 1152.6L1467.8 1153.4L1468.6 1153.5L1469.3 1154.4L1470.1 1155.2L1470.9 1156.4L1471.6 1157L1472.4 1157.2L1473.2 1158.3L1474 1157.9L1474.7 1156.8L1475.5 1156.1L1476.3 1154.1L1477 1152.8L1477.8 1152.2L1478.6 1151.6L1479.4 1152.5L1480.1 1152.3L1480.9 1153.2L1481.7 1154.5L1482.4 1155.8L1483.2 1155.8L1484 1155L1484.7 1155.2L1485.5 1155.3L1486.3 1156L1487.1 1155.9L1487.8 1155.2L1488.6 1155.1L1489.4 1156.1L1490.1 1157.3L1490.9 1157.7L1491.7 1157.9L1492.4 1158.4L1493.2 1157.4L1494 1157L1494.8 1156.3L1495.5 1155.5L1496.3 1156.8L1497.1 1158.1L1497.8 1158.7L1498.6 1159.3L1499.4 1160L1500.2 1160.5L1500.9 1160.6L1501.7 1160.2L1502.5 1159.8L1503.2 1159L1504 1158.8L1504.8 1158.4L1505.5 1158.6L1506.3 1158.3L1507.1 1157.7L1507.9 1157.9L1508.6 1158.2L1509.4 1158.6L1510.2 1157.8L1510.9 1157.2L1511.7 1156.6L1512.5 1155.7L1513.2 1154.7L1514 1153.7L1514.8 1152.5L1515.6 1151.2L1516.3 1150.6L1517.1 1151L1517.9 1151L1518.6 1150.5L1519.4 1150.7L1520.2 1151.2L1521 1151.2L1521.7 1151.2L1522.5 1150.1L1523.3 1150.2L1524 1150L1524.8 1150.1L1525.6 1149.3L1526.3 1148.7L1527.1 1148.6L1527.9 1148.5L1527.9 1152.6L1527.1 1152.4L1526.3 1152.2L1525.6 1153.1L1524.8 1153.8L1524 1153.4L1523.3 1153.6L1522.5 1153.8L1521.7 1154.4L1521 1154.6L1520.2 1154.7L1519.4 1154.4L1518.6 1153.7L1517.9 1154.7L1517.1 1154.7L1516.3 1154.7L1515.6 1155.4L1514.8 1156.3L1514 1157.5L1513.2 1158.7L1512.5 1159.6L1511.7 1160.4L1510.9 1161.1L1510.2 1161.7L1509.4 1161.8L1508.6 1161.6L1507.9 1160.9L1507.1 1161L1506.3 1161.4L1505.5 1162.3L1504.8 1162.5L1504 1162.4L1503.2 1162.7L1502.5 1163.4L1501.7 1163.7L1500.9 1163.9L1500.2 1164.2L1499.4 1163.8L1498.6 1163L1497.8 1162.3L1497.1 1161.2L1496.3 1159.8L1495.5 1159L1494.8 1159.7L1494 1160.7L1493.2 1161L1492.4 1161.7L1491.7 1161.5L1490.9 1161.3L1490.1 1160.4L1489.4 1159.6L1488.6 1158.7L1487.8 1158.7L1487.1 1159.4L1486.3 1159.4L1485.5 1159.1L1484.7 1159.1L1484 1159.1L1483.2 1159.3L1482.4 1158.7L1481.7 1157.6L1480.9 1156.6L1480.1 1155.5L1479.4 1155.6L1478.6 1154.8L1477.8 1155.3L1477 1156.4L1476.3 1157.6L1475.5 1159L1474.7 1160.2L1474 1161.4L1473.2 1161.7L1472.4 1161L1471.6 1160.6L1470.9 1160.1L1470.1 1158.6L1469.3 1157.9L1468.6 1156.9L1467.8 1156.8L1467 1156.3L1466.3 1154.9L1465.5 1154L1464.7 1153.1L1463.9 1152.8L1463.2 1152.5L1462.4 1151.7L1461.6 1152.7L1460.9 1153.7L1460.1 1155.9L1459.3 1157.2L1458.5 1158.4L1457.8 1159.2L1457 1160.8L1456.2 1162.5L1455.5 1163.6L1454.7 1165.1L1453.9 1166L1453.2 1166L1452.4 1165.4L1451.6 1163.6L1450.8 1162.1L1450.1 1160.8L1449.3 1159.2L1448.5 1158.2L1447.8 1156.5L1447 1154.7L1446.2 1153L1445.5 1151.1L1444.7 1150L1443.9 1148.6L1443.1 1149.3L1442.4 1150L1441.6 1151.5L1440.8 1152.9L1440.1 1154.2L1439.3 1155.4L1438.5 1156L1437.7 1157.2L1437 1158.7L1436.2 1159.8L1435.4 1160.8L1434.7 1161.7L1433.9 1160.9L1433.1 1160.1L1432.4 1158.8L1431.6 1157.2L1430.8 1155.1L1430 1154.3L1429.3 1153.4L1428.5 1152L1427.7 1151.7L1427 1152.6L1426.2 1153.6L1425.4 1155L1424.7 1155.8L1423.9 1156.6L1423.1 1157.5L1422.3 1158.7L1421.6 1159.9L1420.8 1159.8L1420 1159.9L1419.3 1160.4L1418.5 1160.9L1417.7 1161.6L1416.9 1161.9L1416.2 1162.1L1415.4 1162.5L1414.6 1162.9L1413.9 1162.8L1413.1 1162.5L1412.3 1161.5L1411.6 1160.9L1410.8 1161L1410 1160.6L1409.2 1160.1L1408.5 1159.4L1407.7 1158.6L1406.9 1158.2L1406.2 1158.2L1405.4 1158.5L1404.6 1157.8L1403.9 1157.9L1403.1 1158.1L1402.3 1158.5L1401.5 1158.3L1400.8 1158.1L1400 1157.5L1399.2 1156.3L1398.5 1155.8L1397.7 1154.5L1396.9 1154.6L1396.1 1154.4L1395.4 1154.4L1394.6 1155.2L1393.8 1155.2L1393.1 1154.9L1392.3 1154.6L1391.5 1154.9L1390.8 1155.7L1390 1156.1L1389.2 1156L1388.4 1156.6L1387.7 1157L1386.9 1158.2L1386.1 1158.7L1385.4 1158.8L1384.6 1158.7L1383.8 1158.3L1383 1158.2L1382.3 1158L1381.5 1157L1380.7 1156.6L1380 1156.3L1379.2 1155.8L1378.4 1155.3L1377.7 1154.9L1376.9 1154.3L1376.1 1154.1L1375.3 1154.4L1374.6 1153.7L1373.8 1153.3L1373 1152.8L1372.3 1153.1L1371.5 1154.2L1370.7 1154.2L1370 1154.8L1369.2 1155.1L1368.4 1155.8L1367.6 1157L1366.9 1157.4L1366.1 1157.7L1365.3 1157.8L1364.6 1158.8L1363.8 1159L1363 1158.1L1362.2 1156.6L1361.5 1156.1L1360.7 1155.4L1359.9 1155.4L1359.2 1154.7L1358.4 1156.2L1357.6 1157.6L1356.9 1159.2L1356.1 1161.6L1355.3 1163L1354.5 1162.2L1353.8 1161.6L1353 1161.4L1352.2 1160.7L1351.5 1159.6L1350.7 1158.5L1349.9 1157.7L1349.2 1157.7L1348.4 1158.7L1347.6 1159.4L1346.8 1160.1L1346.1 1160.6L1345.3 1161.1L1344.5 1161.4L1343.8 1160.2L1343 1159.6L1342.2 1159L1341.4 1159L1340.7 1159.8L1339.9 1159.3L1339.1 1159.6L1338.4 1159.1L1337.6 1160L1336.8 1160.2L1336.1 1160.3L1335.3 1160.2L1334.5 1160.2L1333.7 1162.3L1333 1164.5L1332.2 1166L1331.4 1167.5L1330.7 1169.2L1329.9 1171.2L1329.1 1168.2L1328.3 1165.5L1327.6 1163.3L1326.8 1163.2L1326 1163.8L1325.3 1164.4L1324.5 1163.6L1323.7 1163.7L1323 1163.9L1322.2 1164.5L1321.4 1164.9L1320.6 1164.9L1319.9 1165L1319.1 1164.4L1318.3 1163.1L1317.6 1161.4L1316.8 1159.7L1316 1158L1315.3 1155.9L1314.5 1154.5L1313.7 1153.5L1312.9 1151.9L1312.2 1150.7L1311.4 1149.1L1310.6 1149.5L1309.9 1150.1L1309.1 1149.3L1308.3 1149.1L1307.5 1149.1L1306.8 1149.2L1306 1149.5L1305.2 1149.1L1304.5 1148.5L1303.7 1148.2L1302.9 1148.7L1302.2 1148.3L1301.4 1147.7L1300.6 1147.4L1299.8 1146.9L1299.1 1147.5L1298.3 1147.2L1297.5 1146.8L1296.8 1146.3L1296 1146.1L1295.2 1146.3L1294.5 1146.5L1293.7 1146L1292.9 1145.8L1292.1 1145.4L1291.4 1145.9L1290.6 1145.7L1289.8 1145.2L1289.1 1145.2L1288.3 1144.9L1287.5 1143.9L1286.7 1143.5L1286 1142.1L1285.2 1141.2L1284.4 1140.1L1283.7 1139.2L1282.9 1138.6L1282.1 1137.3L1281.4 1137L1280.6 1137.8L1279.8 1138.3L1279 1138.9L1278.3 1138.6L1277.5 1138.7L1276.7 1139.1L1276 1140L1275.2 1140.6L1274.4 1140.7L1273.6 1139.7L1272.9 1139.1L1272.1 1139.2L1271.3 1138.8L1270.6 1137.8L1269.8 1137.4L1269 1137.3L1268.3 1137.4L1267.5 1137.4L1266.7 1137.3L1265.9 1136.9L1265.2 1137.7L1264.4 1138.9L1263.6 1139.5L1262.9 1139.4L1262.1 1139.7L1261.3 1140.3L1260.6 1143.1L1259.8 1144.5L1259 1145.9L1258.2 1147.3L1257.5 1149.1L1256.7 1151L1255.9 1150.9L1255.2 1148L1254.4 1146.1L1253.6 1143.6L1252.8 1143.5L1252.1 1142.3L1251.3 1141L1250.5 1139.6L1249.8 1138.4L1249 1138.2L1248.2 1137.5L1247.5 1136.9L1246.7 1136.1L1245.9 1136.5L1245.1 1136.5L1244.4 1136.2L1243.6 1136L1242.8 1135.1L1242.1 1134.8L1241.3 1135.3L1240.5 1134.9L1239.8 1134.4L1239 1133.8L1238.2 1133.6L1237.4 1134L1236.7 1133.4L1235.9 1132.4L1235.1 1131.8L1234.4 1132.4L1233.6 1133.2L1232.8 1133.2L1232 1132.7L1231.3 1133L1230.5 1132.8L1229.7 1134L1229 1134.1L1228.2 1133.2L1227.4 1132.8L1226.7 1132.6L1225.9 1133L1225.1 1132.2L1224.3 1131.7L1223.6 1131.2L1222.8 1131.1L1222 1132L1221.3 1131.8L1220.5 1131.5L1219.7 1130.7L1218.9 1131.1L1218.2 1131.8L1217.4 1131.6L1216.6 1131L1215.9 1130.6L1215.1 1130.9L1214.3 1132L1213.6 1131.8L1212.8 1131.7L1212 1132L1211.2 1132.5L1210.5 1133.4L1209.7 1133.2L1208.9 1133.7L1208.2 1134.8L1207.4 1136L1206.6 1137.3L1205.9 1138.3L1205.1 1138.6L1204.3 1139.2L1203.5 1138.5L1202.8 1138.5L1202 1137L1201.2 1135.5L1200.5 1134.2L1199.7 1134L1198.9 1133.7L1198.1 1132.6L1197.4 1132.3L1196.6 1131.9L1195.8 1132.1L1195.1 1133.1L1194.3 1132.7L1193.5 1131.7L1192.8 1131.8L1192 1132.2L1191.2 1132.9L1190.4 1132.2L1189.7 1132.7L1188.9 1133.2L1188.1 1134.8L1187.4 1136.4L1186.6 1136.6L1185.8 1137L1185.1 1137.8L1184.3 1139.3L1183.5 1140L1182.7 1138.5L1182 1137.2L1181.2 1136.4L1180.4 1135.6L1179.7 1135.4L1178.9 1133.9L1178.1 1132.6L1177.3 1132.8L1176.6 1133.7L1175.8 1134.6L1175 1134.8L1174.3 1135.1L1173.5 1134.8L1172.7 1135.9L1172 1136.2L1171.2 1136.1L1170.4 1136.3L1169.6 1136.6L1168.9 1137.9L1168.1 1139.5L1167.3 1139.9L1166.6 1139.9L1165.8 1138.8L1165 1136.9L1164.2 1135.4L1163.5 1133.1L1162.7 1132.6L1161.9 1132L1161.2 1132.7L1160.4 1133L1159.6 1132.9L1158.9 1132.8L1158.1 1132.9L1157.3 1133.9L1156.5 1134.9L1155.8 1134.8L1155 1134.8L1154.2 1132.6L1153.5 1131.6L1152.7 1130.4L1151.9 1128.4L1151.2 1127.6L1150.4 1126.1L1149.6 1126.5L1148.8 1125.9L1148.1 1125.3L1147.3 1126.5L1146.5 1127.2L1145.8 1128.7L1145 1130.6L1144.2 1131.3L1143.4 1132L1142.7 1132.2L1141.9 1133.9L1141.1 1135L1140.4 1135.2L1139.6 1135.6L1138.8 1136.2L1138.1 1136.6L1137.3 1136.8L1136.5 1136.3L1135.7 1135.6L1135 1134.8L1134.2 1135.6L1133.4 1135.6L1132.7 1135.3L1131.9 1134.9L1131.1 1134.6L1130.4 1135.7L1129.6 1135.9L1128.8 1135.5L1128 1135.5L1127.3 1135.4L1126.5 1135.7L1125.7 1135.8L1125 1136L1124.2 1135.6L1123.4 1134.9L1122.6 1136L1121.9 1136.4L1121.1 1135.8L1120.3 1135.8L1119.6 1136.2L1118.8 1137L1118 1137.4L1117.3 1137.5L1116.5 1137.3L1115.7 1137.9L1114.9 1138.5L1114.2 1138.9L1113.4 1138.3L1112.6 1137.6L1111.9 1137.3L1111.1 1137.8L1110.3 1138.2L1109.6 1136.7L1108.8 1135.7L1108 1134.4L1107.2 1134.8L1106.5 1134.1L1105.7 1132.7L1104.9 1131.3L1104.2 1129.9L1103.4 1129.5L1102.6 1128.7L1101.8 1128.3L1101.1 1127.7L1100.3 1127.5L1099.5 1127.9L1098.8 1128.4L1098 1127.3L1097.2 1127.2L1096.5 1126.8L1095.7 1127.7L1094.9 1127.9L1094.1 1127.6L1093.4 1126.9L1092.6 1126.8L1091.8 1127.3L1091.1 1127.7L1090.3 1129.1L1089.5 1130.9L1088.7 1133.5L1088 1135.7L1087.2 1136L1086.4 1135.8L1085.7 1136.1L1084.9 1136.1L1084.1 1137.1L1083.4 1137.9L1082.6 1137.5L1081.8 1137.3L1081 1137.3L1080.3 1137.7L1079.5 1138.1L1078.7 1137.6Z" fill="#80cdc1" stroke="#80cdc1" stroke-width="0.6" stroke-linejoin="round"/><path d="M1235.7 1131L1236.3 1123.7L1237 1131" fill="none" stroke="#80cdc1" stroke-width="2" stroke-linejoin="round" stroke-linecap="butt"/><path d="M1293.2 1144L1293.8 1135.5L1294.5 1144" fill="none" stroke="#80cdc1" stroke-width="2" stroke-linejoin="round" stroke-linecap="butt"/><path d="M1350.7 1156L1351.3 1148.8L1352 1156" fill="none" stroke="#80cdc1" stroke-width="2" stroke-linejoin="round" stroke-linecap="butt"/><path d="M1407.4 1156L1408 1150.5L1408.7 1156" fill="none" stroke="#80cdc1" stroke-width="2" stroke-linejoin="round" stroke-linecap="butt"/><path d="M1465.9 1152L1466.5 1146.5L1467.2 1152" fill="none" stroke="#80cdc1" stroke-width="2" stroke-linejoin="round" stroke-linecap="butt"/><path d="M1523.4 1152L1524 1145L1524.7 1152" fill="none" stroke="#80cdc1" stroke-width="2" stroke-linejoin="round" stroke-linecap="butt"/></g>
<g id="p3-lvl2"><path d="M128.3 1165.4L129.1 1165L129.9 1164.7L130.7 1165L131.4 1165.2L132.2 1165.7L133 1164.7L133.7 1164.4L134.5 1164.8L135.3 1164.8L136.1 1165.2L136.8 1165.1L137.6 1164.7L138.4 1165.1L139.1 1165.5L139.9 1165.5L140.7 1165.1L141.5 1165L142.2 1166.5L143 1168.3L143.8 1169.5L144.6 1170.9L145.3 1172L146.1 1173.4L146.9 1175.3L147.6 1177L148.4 1177.2L149.2 1175.9L150 1174.3L150.7 1173.2L151.5 1172.2L152.3 1170.2L153 1168.4L153.8 1167.7L154.6 1168.8L155.4 1170.3L156.1 1170.5L156.9 1171.7L157.7 1172.8L158.5 1173.7L159.2 1174.8L160 1175.9L160.8 1175.2L161.5 1174.4L162.3 1173L163.1 1172.3L163.9 1170.3L164.6 1169L165.4 1168.3L166.2 1167.3L166.9 1166L167.7 1164.8L168.5 1164.4L169.3 1163.9L170 1163.7L170.8 1163.5L171.6 1162.5L172.4 1161.5L173.1 1161.4L173.9 1161.4L174.7 1160.6L175.4 1159.8L176.2 1159.8L177 1160.5L177.8 1160.9L178.5 1161.1L179.3 1160.1L180.1 1160.2L180.8 1160.7L181.6 1161.1L182.4 1160.9L183.2 1160.5L183.9 1160.5L184.7 1160.6L185.5 1161.2L186.3 1161.1L187 1160.8L187.8 1160.4L188.6 1161.2L189.3 1161.6L190.1 1160.9L190.9 1161L191.7 1161.6L192.4 1161.8L193.2 1162.5L194 1162.7L194.7 1162.3L195.5 1163.4L196.3 1165L197.1 1166.4L197.8 1167.9L198.6 1168.4L199.4 1169.7L200.2 1171.5L200.9 1173L201.7 1172.5L202.5 1170.9L203.2 1170.7L204 1169.8L204.8 1169.5L205.6 1168.3L206.3 1167.5L207.1 1167.4L207.9 1167.3L208.6 1167.3L209.4 1166.8L210.2 1167.7L211 1169.4L211.7 1171.6L212.5 1173.2L213.3 1175.4L214.1 1176.4L214.8 1178.3L215.6 1180.1L216.4 1182L217.1 1182.6L217.9 1183L218.7 1184.3L219.5 1184.3L220.2 1182.5L221 1179.5L221.8 1177.3L222.5 1176.6L223.3 1176.2L224.1 1176L224.9 1175.2L225.6 1174L226.4 1174.6L227.2 1175.3L228 1175.7L228.7 1176.1L229.5 1174.6L230.3 1173.8L231 1172.1L231.8 1170.8L232.6 1169.7L233.4 1168.2L234.1 1167.2L234.9 1166.8L235.7 1166.2L236.4 1164.9L237.2 1163.8L238 1163L238.8 1162.6L239.5 1162.2L240.3 1161.1L241.1 1159.5L241.9 1159.6L242.6 1158.9L243.4 1158.7L244.2 1157.9L244.9 1158L245.7 1158.3L246.5 1159.1L247.3 1159.8L248 1159.8L248.8 1160L249.6 1160.6L250.3 1161.2L251.1 1162.1L251.9 1162.1L252.7 1162L253.4 1161.6L254.2 1162.1L255 1162.1L255.8 1160.9L256.5 1160.2L257.3 1160.4L258.1 1160.3L258.8 1160.3L259.6 1159.7L260.4 1159.8L261.2 1160.7L261.9 1162L262.7 1162.6L263.5 1162.6L264.2 1163.3L265 1164.4L265.8 1165.4L266.6 1165.9L267.3 1165.9L268.1 1166L268.9 1166.5L269.7 1167.2L270.4 1167.3L271.2 1167.3L272 1167.4L272.7 1167.9L273.5 1168.2L274.3 1168.7L275.1 1168.6L275.8 1168.7L276.6 1168.7L276.6 1171.7L275.8 1171.6L275.1 1171.3L274.3 1171.7L273.5 1171.4L272.7 1171L272 1171L271.2 1170.7L270.4 1170.5L269.7 1170.2L268.9 1169.5L268.1 1168.9L267.3 1169.2L266.6 1169.2L265.8 1169L265 1168L264.2 1167L263.5 1166.6L262.7 1166.4L261.9 1165.2L261.2 1164.3L260.4 1163.4L259.6 1163L258.8 1164L258.1 1163.7L257.3 1163.5L256.5 1163.4L255.8 1164.6L255 1165.4L254.2 1165.2L253.4 1165.2L252.7 1165.2L251.9 1165.7L251.1 1165.5L250.3 1164.7L249.6 1164.1L248.8 1163.8L248 1163.8L247.3 1164L246.5 1162.9L245.7 1162.7L244.9 1162.2L244.2 1161.8L243.4 1162.3L242.6 1162.4L241.9 1162.8L241.1 1163.4L240.3 1164.9L239.5 1165.7L238.8 1166.2L238 1166.8L237.2 1167.1L236.4 1168.6L235.7 1169.7L234.9 1170.5L234.1 1170.8L233.4 1171.3L232.6 1172.8L231.8 1174.7L231 1175.6L230.3 1176.9L229.5 1177.9L228.7 1179.1L228 1179.4L227.2 1178.8L226.4 1178.3L225.6 1177.3L224.9 1178.5L224.1 1179.4L223.3 1180.1L222.5 1180.4L221.8 1180.6L221 1183.5L220.2 1185.6L219.5 1187.5L218.7 1188L217.9 1186.9L217.1 1186.3L216.4 1185.7L215.6 1184.1L214.8 1182.8L214.1 1180.6L213.3 1179.2L212.5 1177.6L211.7 1175.6L211 1173L210.2 1171.1L209.4 1170L208.6 1170.9L207.9 1170.9L207.1 1171L206.3 1171L205.6 1171.9L204.8 1172.8L204 1173.6L203.2 1174.1L202.5 1174.6L201.7 1176.1L200.9 1176.4L200.2 1175L199.4 1173.4L198.6 1172.3L197.8 1171.4L197.1 1169.9L196.3 1169L195.5 1167L194.7 1166.2L194 1166.1L193.2 1166.2L192.4 1165.5L191.7 1164.9L190.9 1164.7L190.1 1164.8L189.3 1164.8L188.6 1164.3L187.8 1164.2L187 1163.9L186.3 1164.6L185.5 1164.7L184.7 1164.3L183.9 1164.4L183.2 1164.1L182.4 1164.5L181.6 1164.6L180.8 1164.3L180.1 1164.3L179.3 1164.1L178.5 1164.7L177.8 1164.9L177 1164.3L176.2 1164L175.4 1164.1L174.7 1165.2L173.9 1165.3L173.1 1165.6L172.4 1165.3L171.6 1166.1L170.8 1167.6L170 1168.1L169.3 1168.4L168.5 1168.8L167.7 1169.2L166.9 1170L166.2 1171.3L165.4 1172.1L164.6 1172.7L163.9 1174.3L163.1 1176L162.3 1177.1L161.5 1177.7L160.8 1178.7L160 1179.4L159.2 1178.4L158.5 1177.8L157.7 1176.5L156.9 1175.2L156.1 1174L155.4 1173.8L154.6 1172.6L153.8 1171.2L153 1172.1L152.3 1173.8L151.5 1175.7L150.7 1177L150 1178.2L149.2 1179.2L148.4 1180.8L147.6 1180.6L146.9 1179.1L146.1 1177.4L145.3 1175.4L144.6 1174.3L143.8 1172.8L143 1171.4L142.2 1169.7L141.5 1167.9L140.7 1168.2L139.9 1168.6L139.1 1168.7L138.4 1168.6L137.6 1167.9L136.8 1168.5L136.1 1168.9L135.3 1168.4L134.5 1168.7L133.7 1168.1L133 1168.4L132.2 1168.6L131.4 1168.8L130.7 1168.4L129.9 1167.9L129.1 1168.2L128.3 1169Z" fill="#dfc27d" stroke="#dfc27d" stroke-width="0.6" stroke-linejoin="round"/><path d="M131.5 1166L132.1 1161.7L132.7 1166" fill="none" stroke="#dfc27d" stroke-width="2" stroke-linejoin="round" stroke-linecap="butt"/><path d="M188.8 1162L189.4 1155.4L190 1162" fill="none" stroke="#dfc27d" stroke-width="2" stroke-linejoin="round" stroke-linecap="butt"/><path d="M246.7 1160L247.3 1152.3L247.9 1160" fill="none" stroke="#dfc27d" stroke-width="2" stroke-linejoin="round" stroke-linecap="butt"/><path d="M182.7 1164L183.3 1177L183.9 1164" fill="none" stroke="#dfc27d" stroke-width="2" stroke-linejoin="round" stroke-linecap="butt"/><path d="M244.4 1160L245 1169L245.6 1160" fill="none" stroke="#dfc27d" stroke-width="2" stroke-linejoin="round" stroke-linecap="butt"/><path d="M276.6 1170L277 1362L277.5 1260L278.6 1180L279.3 1260.7L279.9 1116.5L280.3 1145" fill="none" stroke="#dfc27d" stroke-width="2.4" stroke-linejoin="round" stroke-linecap="butt"/><path d="M280.7 1119.2L281.5 1120.8L282.3 1120.2L283 1119.2L283.8 1120L284.6 1121.2L285.4 1122.7L286.1 1122.7L286.9 1121.5L287.7 1122.4L288.4 1123.8L289.2 1125L290 1124.1L290.7 1122.1L291.5 1122.4L292.3 1123L293.1 1123.4L293.8 1122.1L294.6 1120.4L295.4 1121.9L296.1 1126.2L296.9 1129.6L297.7 1131.8L298.5 1131.1L299.2 1131.7L300 1132.4L300.8 1132.6L301.5 1131.9L302.3 1130.7L303.1 1130.7L303.8 1130.6L304.6 1131L305.4 1130.6L306.2 1127.6L306.9 1126.8L307.7 1125.8L308.5 1125.2L309.2 1122.5L310 1119.1L310.8 1118.2L311.6 1117.7L312.3 1117.2L313.1 1114.6L313.9 1111.5L314.6 1110.9L315.4 1110.6L316.2 1109.8L316.9 1109.1L317.7 1107.6L318.5 1108.9L319.3 1109.7L320 1111L320.8 1110.2L321.6 1109.2L322.3 1110L323.1 1110.9L323.9 1111.4L324.6 1110.9L325.4 1108.9L326.2 1110.1L327 1110.6L327.7 1111.4L328.5 1109.7L329.3 1108.1L330 1108.2L330.8 1108.2L331.6 1108.6L332.4 1106.9L333.1 1104.9L333.9 1104.8L334.7 1104.9L335.4 1105.3L336.2 1104.6L337 1105.1L337.7 1107L338.5 1109.2L339.3 1110.9L340.1 1111.8L340.8 1112.2L341.6 1113.8L342.4 1114.8L343.1 1115.7L343.9 1115.2L344.7 1114.7L345.4 1115.6L346.2 1115.8L347 1116.4L347.8 1115L348.5 1113.6L349.3 1113.8L350.1 1114.3L350.8 1114.3L351.6 1113.5L352.4 1113.8L353.2 1115.2L353.9 1116.8L354.7 1118.2L355.5 1118.2L356.2 1116.8L357 1117.9L357.8 1118.8L358.5 1120L359.3 1118.5L360.1 1117.4L360.9 1118.2L361.6 1119L362.4 1119.4L363.2 1117.1L363.9 1115.4L364.7 1115.3L365.5 1115.5L366.2 1115.6L367 1113.7L367.8 1112.3L368.6 1113.5L369.3 1114.8L370.1 1115.5L370.9 1115L371.6 1114.6L372.4 1115.9L373.2 1117.1L374 1118.8L374.7 1117.5L375.5 1116.7L376.3 1117.6L377 1118.2L377.8 1118L378.6 1116.3L379.3 1115.5L380.1 1116L380.9 1116.3L381.7 1117.3L382.4 1116.2L383.2 1115.3L384 1116.9L384.7 1118L385.5 1119L386.3 1117.6L387.1 1117.4L387.8 1118.3L388.6 1119.7L389.4 1120L390.1 1119.2L390.9 1119.5L391.7 1121.4L392.4 1122.8L393.2 1124.2L394 1123.7L394.8 1123.7L395.5 1125.6L396.3 1126.9L397.1 1126.2L397.8 1124L398.6 1122.3L399.4 1122.1L400.1 1121.6L400.9 1121.8L401.7 1119.1L402.5 1119.2L403.2 1120.6L404 1122.3L404.8 1123L405.5 1122.2L406.3 1122.6L407.1 1123.8L407.9 1125.6L408.6 1126.6L409.4 1125L410.2 1124.2L410.9 1125.1L411.7 1125.6L412.5 1125.6L413.2 1124.3L414 1123.8L414.8 1123.7L415.6 1123.9L416.3 1123.8L417.1 1122.2L417.9 1121.7L418.6 1122.1L419.4 1122.1L420.2 1121.6L420.9 1119.2L421.7 1118.1L422.5 1118.1L423.3 1117.8L424 1117.3L424.8 1114.8L425.6 1113.5L426.3 1113.8L427.1 1113.8L427.9 1113.5L428.7 1112.1L429.4 1112.6L430.2 1114.2L431 1116L431.7 1115.9L432.5 1115.1L433.3 1115.5L434 1117L434.8 1118.8L435.6 1119.4L436.4 1118.3L437.1 1118.7L437.9 1120L438.7 1121.5L439.4 1122.2L440.2 1120.7L441 1121.5L441.8 1122.7L442.5 1124.6L443.3 1125L444.1 1123.5L444.8 1124.4L445.6 1126L446.4 1127.5L447.1 1127.6L447.9 1126.9L448.7 1127.4L449.5 1129.2L450.2 1130.9L451 1130.7L451.8 1130.5L452.5 1131.2L453.3 1132.8L454.1 1133.9L454.8 1135.1L455.6 1134L456.4 1135.1L457.2 1136.3L457.9 1137.7L458.7 1138.9L459.5 1137.6L460.2 1138.6L461 1139.5L461.8 1140.3L462.6 1139.4L463.3 1137.1L464.1 1137.5L464.9 1137.9L465.6 1138.4L466.4 1138.5L467.2 1137L467.9 1137.8L468.7 1138.7L469.5 1140.3L470.3 1139.4L471 1138.3L471.8 1137.5L472.6 1137.5L473.3 1137.7L474.1 1135.9L474.9 1133.3L475.6 1132.6L476.4 1132.6L477.2 1132.6L478 1131.4L478.7 1129.1L479.5 1129.3L480.3 1130L481 1130.4L481.8 1129.1L482.6 1127.6L483.4 1127.7L484.1 1127.7L484.9 1127.9L485.7 1127.1L486.4 1125.2L487.2 1125.2L488 1125.4L488.7 1125.6L489.5 1125.1L490.3 1125L491.1 1126.2L491.8 1127.7L492.6 1129.1L493.4 1129.7L494.1 1129.2L494.9 1130.5L495.7 1132.3L496.5 1133.4L497.2 1133.3L498 1132L498.8 1133.3L499.5 1134.9L500.3 1136.3L501.1 1137.2L501.8 1136.3L502.6 1138.4L503.4 1140.4L504.2 1142.7L504.9 1142.4L505.7 1142.1L506.5 1142.5L507.2 1142.9L508 1142.8L508.8 1142.1L509.5 1140.1L510.3 1140.4L511.1 1140.6L511.9 1140.4L512.6 1138L513.4 1135.7L514.2 1134.9L514.9 1134.6L515.7 1134.1L516.5 1131.8L517.3 1130.3L518 1130.5L518.8 1130.9L519.6 1131.6L520.3 1130.3L521.1 1128.8L521.9 1129L522.6 1129.9L523.4 1131L524.2 1131.8L525 1131.5L525.7 1133.7L526.5 1136.1L527.3 1138.6L528 1138.1L528.8 1137.8L529.6 1138.2L530.3 1138.8L531.1 1139L531.9 1136.4L532.7 1134.5L533.4 1134.3L534.2 1134.2L535 1134.5L535.7 1132.9L536.5 1130.8L537.3 1131.3L538.1 1131.5L538.8 1131.8L539.6 1130.5L540.4 1128.5L541.1 1129L541.9 1129.8L542.7 1130.3L543.4 1128.4L544.2 1128.1L545 1129.6L545.8 1131.1L546.5 1132.7L547.3 1132.6L548.1 1132.4L548.8 1133.7L549.6 1135.2L550.4 1136.7L551.2 1136.3L551.9 1135.3L552.7 1136.9L553.5 1138.5L554.2 1139.9L555 1138.1L555.8 1137.5L556.5 1138.4L557.3 1138.6L558.1 1138.6L558.9 1136.4L559.6 1134.8L560.4 1134.8L561.2 1135.1L561.9 1135L562.7 1132.5L563.5 1131.5L564.2 1131.9L565 1132.5L565.8 1132.8L566.6 1131L567.3 1130.4L568.1 1130.6L568.9 1131.1L569.6 1132.7L570.4 1130.4L571.2 1129.5L572 1130.4L572.7 1131.2L573.5 1131.6L574.3 1130.1L575 1129L575.8 1129.8L576.6 1130.8L577.3 1130.6L578.1 1129.3L578.9 1128.6L579.7 1130.4L580.4 1132.5L581.2 1134.9L582 1134.5L582.7 1134.8L583.5 1137.3L584.3 1139.2L585 1141.1L585.8 1141.5L586.6 1143.1L587.4 1145.7L588.1 1146.5L588.9 1146L589.7 1143.7L590.4 1142.5L591.2 1142.1L592 1142L592.8 1141.9L593.5 1139.5L594.3 1141.9L595.1 1145.8L595.8 1147.2L596.6 1148L597.4 1147.8L598.1 1146.3L598.9 1145.5L599.7 1144.4L600.5 1143.8L601.2 1140.1L602 1137.8L602.8 1137.2L603.5 1137.6L604.3 1136.7L605.1 1135.2L605.9 1134.3L606.6 1134.6L607.4 1135L608.2 1135.5L608.9 1135L609.7 1135.4L610.5 1136.7L611.2 1137.9L612 1139.3L612.8 1138.3L613.6 1138.9L614.3 1140.5L615.1 1142.1L615.9 1142.9L616.6 1142.1L617.4 1142.1L618.2 1142.1L618.9 1142L619.7 1141.7L620.5 1139.3L621.3 1138.1L622 1138.6L622.8 1139.6L623.6 1139.1L624.3 1137.6L625.1 1137.3L625.9 1138L626.7 1138.3L627.4 1137.9L628.2 1136.6L629 1135.9L629.7 1136.4L630.5 1136.6L631.3 1136.3L632 1134.5L632.8 1134.3L633.6 1134.3L634.4 1134.5L635.1 1134.7L635.9 1133.6L636.7 1133.8L637.4 1134.4L638.2 1136L639 1135.8L639.7 1134.2L640.5 1134.4L641.3 1135.3L642.1 1136L642.8 1135.9L643.6 1133.7L644.4 1133.6L645.1 1134.2L645.9 1135.1L646.7 1134.6L647.5 1132.4L648.2 1132.4L649 1133.2L649.8 1133.7L650.5 1133.2L651.3 1132.9L652.1 1133.5L652.8 1134.9L653.6 1135.9L654.4 1137.3L655.2 1135.8L655.9 1137.5L656.7 1139.9L657.5 1142.3L658.2 1142.3L659 1142.3L659.8 1142.7L660.5 1144.2L661.3 1145.3L662.1 1145.4L662.9 1144.2L663.6 1145.1L664.4 1143.9L665.2 1142.7L665.9 1140.8L666.7 1137L667.5 1135.6L668.3 1134.5L669 1133L669.8 1130.8L670.6 1129.2L671.3 1129L672.1 1129.6L672.9 1129.8L673.6 1130.1L674.4 1128.1L675.2 1128.1L676 1129.1L676.7 1129.9L677.5 1128.5L678.3 1126.5L679 1126.9L679.8 1127.9L680.6 1128.6L681.4 1128.6L682.1 1127.2L682.9 1128.1L683.7 1129.7L684.4 1130.9L685.2 1130.8L686 1129.2L686.7 1129.8L687.5 1130.9L688.3 1131.3L689.1 1131L689.8 1129.1L690.6 1129.5L691.4 1130.6L692.1 1131.9L692.9 1131L693.7 1130.6L694.4 1132.4L695.2 1134.3L696 1136.5L696.8 1136.8L697.5 1135.9L698.3 1138L699.1 1139.9L699.8 1140.3L700.6 1139L701.4 1136.9L702.2 1137.4L702.9 1137.8L703.7 1138.4L704.5 1137.2L705.2 1135.3L706 1136L706.8 1136.3L707.5 1136.6L708.3 1135.6L709.1 1133.1L709.9 1133.6L710.6 1133.8L711.4 1134.8L712.2 1133L712.9 1130.6L713.7 1131.2L714.5 1131.6L715.2 1132.2L716 1130.8L716.8 1130.1L717.6 1131.4L718.3 1132.7L719.1 1133.6L719.9 1133.7L720.6 1132.5L721.4 1134.2L722.2 1135.4L723 1136.2L723.7 1134.9L724.5 1133.3L725.3 1134.4L726 1135.3L726.8 1136.3L727.6 1134.9L728.3 1133.1L729.1 1134.8L729.9 1135.9L730.7 1137.4L731.4 1136.1L732.2 1135.4L733 1136.4L733.7 1137.7L734.5 1139.1L735.3 1138.2L736.1 1135.9L736.8 1136.7L737.6 1137.3L738.4 1137.8L739.1 1135.2L739.9 1133.6L740.7 1134.2L741.4 1134.5L742.2 1135.5L743 1135.2L743.8 1134.8L744.5 1136.2L745.3 1137.7L746.1 1139L746.8 1138.3L747.6 1137.7L748.4 1139.3L749.1 1140.1L749.9 1141.2L750.7 1141L751.5 1140.6L752.2 1140.7L753 1140L753.8 1139.2L754.5 1136.9L755.3 1135.6L756.1 1136.3L756.9 1137.4L757.6 1138.2L758.4 1137.4L759.2 1137.1L759.9 1137.7L760.7 1138.5L761.5 1139L762.2 1137.2L763 1135.5L763.8 1134.9L764.6 1134.5L765.3 1134.9L766.1 1133.1L766.9 1132.6L767.6 1134.6L768.4 1136.5L769.2 1137.2L769.9 1136.3L770.7 1136.7L771.5 1138.3L772.3 1138.3L773 1138.7L773.8 1136.2L774.6 1134.6L775.3 1134.9L776.1 1134.9L776.9 1134.4L777.7 1132.8L778.4 1131.6L779.2 1131.8L780 1131.9L780.7 1131.4L781.5 1130L782.3 1128.5L783 1128.8L783.8 1131.3L784.6 1133.7L785.4 1133.7L786.1 1134.3L786.9 1136.8L787.7 1137.4L788.4 1136.9L789.2 1135.3L790 1134.1L790.8 1133.9L791.5 1134.3L792.3 1134.6L793.1 1133.2L793.8 1133L794.6 1134.2L795.4 1135.6L796.1 1135.6L796.9 1135L797.7 1134.9L798.5 1135.4L799.2 1135.3L800 1135.6L800.8 1134.2L801.5 1133.6L802.3 1134.2L803.1 1134.4L803.8 1132.2L804.6 1129.8L805.4 1127.5L806.2 1126.9L806.9 1126L807.7 1126.7L808.5 1125.9L809.2 1126.6L810 1127.8L810.8 1129.6L811.6 1131.1L812.3 1130.3L813.1 1129.3L813.9 1129.6L814.6 1130.2L815.4 1130L816.2 1128.6L816.9 1129.5L817.7 1131.3L818.5 1133.1L819.3 1133.9L820 1133.1L820.8 1134L821.6 1135.7L822.3 1136.6L823.1 1137.1L823.9 1135.3L824.6 1134.9L825.4 1135.7L826.2 1136.9L827 1136L827.7 1133L828.5 1130.7L829.3 1129.9L830 1129L830.8 1127.4L831.6 1124.9L832.4 1124.2L833.1 1124.9L833.9 1125.4L834.7 1124.4L835.4 1122.8L836.2 1122.7L837 1123.8L837.7 1125.3L838.5 1124.8L839.3 1123.9L840.1 1123.9L840.8 1124.7L841.6 1126.2L842.4 1126.5L843.1 1124.2L843.9 1123.8L844.7 1124.6L845.5 1125.5L846.2 1124.5L847 1122.8L847.8 1122.6L848.5 1123.6L849.3 1124.6L850.1 1125.7L850.8 1124.4L851.6 1125L852.4 1127.3L853.2 1129.1L853.9 1128.7L854.7 1127.7L855.5 1129.1L856.2 1130.6L857 1132.3L857.8 1132.2L858.5 1131.6L859.3 1132.2L860.1 1132.4L860.9 1132.1L861.6 1131.8L862.4 1129.3L863.2 1129.1L863.9 1129.3L864.7 1129.6L865.5 1130L866.3 1128.6L867 1129.9L867.8 1131.4L868.6 1132.9L869.3 1133.1L870.1 1132.4L870.9 1133.5L871.6 1133.6L872.4 1134L873.2 1132L874 1129.5L874.7 1129.2L875.5 1129.1L876.3 1129.2L877 1127.6L877.8 1125.4L878.6 1125.9L879.3 1126.7L880.1 1127.7L880.9 1127.1L881.7 1125.2L882.4 1125.5L883.2 1126.5L884 1128L884.7 1126.5L885.5 1125.5L886.3 1126.8L887.1 1127.9L887.8 1129.3L888.6 1129.4L889.4 1128.4L890.1 1130.5L890.9 1132.2L891.7 1134.4L892.4 1133.8L893.2 1133.5L894 1133.9L894.8 1133.7L895.5 1133.2L896.3 1130.8L897.1 1127.9L897.8 1127.4L898.6 1126.9L899.4 1126.5L900.2 1125.8L900.9 1122.9L901.7 1123.4L902.5 1123.9L903.2 1124.4L904 1123.1L904.8 1122.5L905.5 1124.8L906.3 1127.3L907.1 1129L907.9 1130.2L908.6 1129.4L909.4 1131.9L910.2 1133.6L910.9 1134.4L911.7 1133.5L912.5 1131.9L913.2 1133.3L914 1134.5L914.8 1135.5L915.6 1134.5L916.3 1132.9L917.1 1132.6L917.9 1132.9L918.6 1132.8L919.4 1130L920.2 1127.2L921 1127.2L921.7 1127.4L922.5 1128.2L923.3 1126.5L924 1124.7L924.8 1125.3L925.6 1125.9L926.3 1126.8L927.1 1125.1L927.9 1124.3L928.7 1125.9L929.4 1126.9L930.2 1128.5L931 1127.5L931.7 1126.8L932.5 1128L933.3 1129.5L934 1131L934.8 1130.3L935.6 1129.6L936.4 1131.2L937.1 1132.5L937.9 1133.8L938.7 1133L939.4 1131.9L940.2 1132.8L941 1132.9L941.8 1133.9L942.5 1132.4L943.3 1131L944.1 1132.1L944.8 1132.5L945.6 1133.4L946.4 1131.7L947.1 1130.7L947.9 1131.3L948.7 1132.2L949.5 1132.9L950.2 1131.4L951 1130.2L951.8 1131.3L952.5 1132.4L953.3 1133.6L954.1 1131.5L954.8 1131.1L955.6 1132.2L956.4 1133L957.2 1134.4L957.9 1133.2L958.7 1133.2L959.5 1135L960.2 1136.4L961 1137.8L961.8 1137.4L962.6 1137.5L963.3 1138.6L964.1 1139.2L964.9 1139.4L965.6 1138.1L966.4 1137L967.2 1137.6L967.9 1138.2L968.7 1139.6L969.5 1137L970.3 1135.6L971 1136.1L971.8 1136.3L972.6 1136.8L973.3 1134.2L974.1 1133L974.9 1133.5L975.7 1134.5L976.4 1134.8L977.2 1132.9L978 1132.2L978.7 1133.5L979.5 1134.6L980.3 1134.5L981 1132.8L981.8 1131.5L982.6 1132.2L983.4 1132.8L984.1 1132.6L984.9 1131.6L985.7 1131.5L985.7 1137.1L984.9 1137.1L984.1 1138.6L983.4 1138.1L982.6 1137.3L981.8 1136.7L981 1137.9L980.3 1139.8L979.5 1139.3L978.7 1138.5L978 1137.9L977.2 1138.7L976.4 1140.7L975.7 1140.3L974.9 1139.5L974.1 1139.3L973.3 1140.6L972.6 1143.2L971.8 1143L971 1142.3L970.3 1141.8L969.5 1143.4L968.7 1145.9L967.9 1145.8L967.2 1144.9L966.4 1144.4L965.6 1145.4L964.9 1146.5L964.1 1146.1L963.3 1145.6L962.6 1144.6L961.8 1144.3L961 1144.7L960.2 1143.1L959.5 1141.6L958.7 1139.9L957.9 1140L957.2 1141.4L956.4 1139.7L955.6 1138.5L954.8 1137.4L954.1 1137.5L953.3 1138.8L952.5 1137.2L951.8 1135.8L951 1135.2L950.2 1136.4L949.5 1138.2L948.7 1137.6L947.9 1136.7L947.1 1135.8L946.4 1137L945.6 1138.9L944.8 1138.1L944.1 1137.3L943.3 1136.8L942.5 1138.1L941.8 1139.6L941 1139.1L940.2 1138.2L939.4 1138L938.7 1138.5L937.9 1139.2L937.1 1138L936.4 1136.3L935.6 1135.3L934.8 1135.9L934 1136.9L933.3 1135.7L932.5 1134.3L931.7 1133L931 1133.6L930.2 1134.8L929.4 1133.3L928.7 1132.2L927.9 1130.5L927.1 1131.5L926.3 1132.6L925.6 1131.8L924.8 1131.2L924 1130.3L923.3 1131.8L922.5 1133L921.7 1132.4L921 1132.3L920.2 1131.9L919.4 1134.5L918.6 1137L917.9 1136.7L917.1 1136.6L916.3 1136.5L915.6 1138.3L914.8 1139.6L914 1138.3L913.2 1137.2L912.5 1136.1L911.7 1137.6L910.9 1138.5L910.2 1137.8L909.4 1136L908.6 1133.8L907.9 1134.9L907.1 1134.7L906.3 1132.9L905.5 1131.2L904.8 1129.2L904 1129.6L903.2 1130.2L902.5 1129.1L901.7 1128.6L900.9 1127.8L900.2 1130.2L899.4 1131.5L898.6 1131.9L897.8 1132.6L897.1 1133.7L896.3 1136.3L895.5 1138.6L894.8 1139.3L894 1140.5L893.2 1139.8L892.4 1140.7L891.7 1140.7L890.9 1138.9L890.1 1137L889.4 1135.4L888.6 1136.6L887.8 1136.8L887.1 1135.1L886.3 1133.2L885.5 1131.7L884.7 1132.7L884 1133L883.2 1132.1L882.4 1131.1L881.7 1130.1L880.9 1132.1L880.1 1133L879.3 1132.4L878.6 1131.3L877.8 1130.6L877 1133.3L876.3 1134.6L875.5 1134.6L874.7 1134.5L874 1134.8L873.2 1136.9L872.4 1138.1L871.6 1138L870.9 1137.6L870.1 1136.6L869.3 1137.8L868.6 1137.9L867.8 1136.6L867 1135.3L866.3 1134.2L865.5 1135.4L864.7 1135.9L863.9 1135.9L863.2 1135.7L862.4 1136.1L861.6 1138.4L860.9 1139.5L860.1 1139.3L859.3 1139.7L858.5 1139.2L857.8 1139.6L857 1139.3L856.2 1137.8L855.5 1135.8L854.7 1135L853.9 1136L853.2 1135.2L852.4 1133.2L851.6 1130.9L850.8 1129.9L850.1 1130.9L849.3 1130.9L848.5 1129.8L847.8 1129.3L847 1129.2L846.2 1130.8L845.5 1131L844.7 1130.5L843.9 1129.4L843.1 1129.6L842.4 1131.8L841.6 1132.5L840.8 1131.5L840.1 1130.4L839.3 1130.3L838.5 1131.4L837.7 1130.9L837 1129.7L836.2 1128.6L835.4 1128.4L834.7 1130.5L833.9 1130.8L833.1 1130.2L832.4 1129.9L831.6 1130.3L830.8 1133.3L830 1134.9L829.3 1135.7L828.5 1136.4L827.7 1137.6L827 1140.8L826.2 1140.8L825.4 1139.8L824.6 1139.1L823.9 1139.3L823.1 1141.3L822.3 1141.4L821.6 1140.7L820.8 1138.8L820 1138.1L819.3 1138.7L818.5 1137.7L817.7 1135.3L816.9 1133.3L816.2 1132.8L815.4 1134.5L814.6 1134.5L813.9 1134L813.1 1133.7L812.3 1134.4L811.6 1135.3L810.8 1134.4L810 1133.3L809.2 1131.7L808.5 1131L807.7 1131.8L806.9 1131.1L806.2 1131.9L805.4 1132.4L804.6 1134.6L803.8 1136.8L803.1 1137.7L802.3 1137.5L801.5 1136.8L800.8 1137.6L800 1138.7L799.2 1138.6L798.5 1138.3L797.7 1137.7L796.9 1137.9L796.1 1138.6L795.4 1138.1L794.6 1137.7L793.8 1136.6L793.1 1136.9L792.3 1138.5L791.5 1138.8L790.8 1138.8L790 1138.5L789.2 1139.5L788.4 1141.4L787.7 1141.5L786.9 1141.1L786.1 1139L785.4 1138.2L784.6 1138.4L783.8 1137.1L783 1135L782.3 1134.6L781.5 1135.3L780.7 1136.9L780 1136.5L779.2 1136.3L778.4 1135.6L777.7 1136.8L776.9 1138.4L776.1 1138.2L775.3 1138.1L774.6 1138.3L773.8 1139.8L773 1142.4L772.3 1142.7L771.5 1142.4L770.7 1141.3L769.9 1141.1L769.2 1141.6L768.4 1140.2L767.6 1138.4L766.9 1136.8L766.1 1137L765.3 1138.9L764.6 1139.4L763.8 1139.9L763 1140L762.2 1141.7L761.5 1143.1L760.7 1142.4L759.9 1141.1L759.2 1140.5L758.4 1140.7L757.6 1141.8L756.9 1141.4L756.1 1140.2L755.3 1139.6L754.5 1140.7L753.8 1143.5L753 1143.8L752.2 1144.5L751.5 1144.7L750.7 1145.1L749.9 1145.5L749.1 1144.4L748.4 1143.3L747.6 1142.3L746.8 1142.7L746.1 1143.2L745.3 1142L744.5 1140.5L743.8 1139L743 1139.4L742.2 1140.4L741.4 1139.1L740.7 1139.2L739.9 1138.7L739.1 1140.6L738.4 1142.8L737.6 1142L736.8 1141.7L736.1 1141.3L735.3 1143.3L734.5 1144.9L733.7 1144L733 1142.8L732.2 1141.4L731.4 1142.5L730.7 1143L729.9 1141.6L729.1 1140.1L728.3 1139L727.6 1140.6L726.8 1141.7L726 1140.6L725.3 1139.4L724.5 1138.6L723.7 1140.2L723 1141.5L722.2 1140.1L721.4 1139.2L720.6 1137.5L719.9 1138.5L719.1 1139.4L718.3 1138.1L717.6 1136.8L716.8 1135.6L716 1136.5L715.2 1137.5L714.5 1137.5L713.7 1136.9L712.9 1136.7L712.2 1138.7L711.4 1140.2L710.6 1139.6L709.9 1139.2L709.1 1138.7L708.3 1140.9L707.5 1142.8L706.8 1142.3L706 1141.8L705.2 1141.5L704.5 1143.5L703.7 1144.4L702.9 1144L702.2 1143.1L701.4 1142.7L700.6 1144.5L699.8 1145.5L699.1 1144.7L698.3 1143L697.5 1141L696.8 1142L696 1142.2L695.2 1140L694.4 1138.3L693.7 1136.5L692.9 1136.9L692.1 1137.4L691.4 1135.9L690.6 1134.9L689.8 1134.2L689.1 1136.3L688.3 1137.4L687.5 1136.8L686.7 1136.1L686 1135.6L685.2 1136.7L684.4 1136.9L683.7 1135.7L682.9 1134.5L682.1 1133.4L681.4 1134.6L680.6 1134.7L679.8 1133.4L679 1132.4L678.3 1132.2L677.5 1133.9L676.7 1134.8L676 1133.5L675.2 1132.7L674.4 1132.2L673.6 1134.6L672.9 1135.6L672.1 1135.3L671.3 1134.7L670.6 1134.5L669.8 1135.9L669 1138L668.3 1139L667.5 1140.1L666.7 1142.2L665.9 1145.3L665.2 1147.7L664.4 1149L663.6 1150.4L662.9 1150.1L662.1 1151.1L661.3 1151L660.5 1150.1L659.8 1149L659 1148.6L658.2 1148.9L657.5 1147.7L656.7 1145.3L655.9 1142.9L655.2 1141.2L654.4 1142.6L653.6 1142.8L652.8 1141.4L652.1 1140.4L651.3 1139.4L650.5 1140.1L649.8 1139.5L649 1138.6L648.2 1138.4L647.5 1138.6L646.7 1140.5L645.9 1140.9L645.1 1140L644.4 1139.2L643.6 1139.4L642.8 1141.4L642.1 1141.9L641.3 1141.4L640.5 1139.8L639.7 1139.5L639 1140.4L638.2 1140.2L637.4 1138.5L636.7 1137.2L635.9 1137L635.1 1138.2L634.4 1138.7L633.6 1138.4L632.8 1138.5L632 1139L631.3 1140.7L630.5 1141.2L629.7 1141.3L629 1141.3L628.2 1142L627.4 1143L626.7 1143.2L625.9 1142.5L625.1 1141.6L624.3 1142.1L623.6 1143.7L622.8 1143.9L622 1143.3L621.3 1142.4L620.5 1143.7L619.7 1146.3L618.9 1146.9L618.2 1146.9L617.4 1146.9L616.6 1147.3L615.9 1147.5L615.1 1146.5L614.3 1144.9L613.6 1143.5L612.8 1142.6L612 1143.2L611.2 1142.6L610.5 1141L609.7 1139.8L608.9 1139.5L608.2 1139.6L607.4 1138.9L606.6 1138.6L605.9 1138.6L605.1 1139.2L604.3 1141L603.5 1140.8L602.8 1140.8L602 1141.6L601.2 1143.8L600.5 1147.3L599.7 1149L598.9 1150L598.1 1151.2L597.4 1152.6L596.6 1152.6L595.8 1151.6L595.1 1150.2L594.3 1147.6L593.5 1146.7L592.8 1148.6L592 1148.6L591.2 1148.1L590.4 1147.8L589.7 1149L588.9 1150.6L588.1 1150.7L587.4 1149.5L586.6 1147.3L585.8 1146L585 1146.1L584.3 1144L583.5 1141.8L582.7 1139.7L582 1139.2L581.2 1140.1L580.4 1138.1L579.7 1136.6L578.9 1134.8L578.1 1135.5L577.3 1137L576.6 1135.9L575.8 1135.1L575 1134.4L574.3 1135.3L573.5 1137L572.7 1136L572 1135.2L571.2 1134.1L570.4 1135.1L569.6 1137.2L568.9 1136.8L568.1 1136.4L567.3 1135.9L566.6 1136.8L565.8 1138.4L565 1137.6L564.2 1136.8L563.5 1136.2L562.7 1137.3L561.9 1140.1L561.2 1139.9L560.4 1140.2L559.6 1140L558.9 1142.3L558.1 1144.8L557.3 1145L556.5 1144.9L555.8 1144.2L555 1144.3L554.2 1145.1L553.5 1143.7L552.7 1142.1L551.9 1140.3L551.2 1141.1L550.4 1142.1L549.6 1140.6L548.8 1139.2L548.1 1137.5L547.3 1137.7L546.5 1138.2L545.8 1136.9L545 1134.9L544.2 1133.6L543.4 1133.7L542.7 1134.8L541.9 1134.3L541.1 1133.8L540.4 1133.2L539.6 1135.4L538.8 1137.5L538.1 1137L537.3 1136.6L536.5 1136.5L535.7 1138.4L535 1140.3L534.2 1140.2L533.4 1140.4L532.7 1140.1L531.9 1142.4L531.1 1144.1L530.3 1144.2L529.6 1143.9L528.8 1143.5L528 1143.5L527.3 1143.1L526.5 1140.9L525.7 1138.2L525 1135.6L524.2 1136L523.4 1136.2L522.6 1134.4L521.9 1134.1L521.1 1133.9L520.3 1135.4L519.6 1136.7L518.8 1136L518 1136.1L517.3 1135.6L516.5 1137L515.7 1138.8L514.9 1139L514.2 1139.3L513.4 1140L512.6 1141.9L511.9 1143.7L511.1 1144L510.3 1144L509.5 1143.7L508.8 1145.6L508 1146.9L507.2 1146.6L506.5 1146.3L505.7 1146.2L504.9 1146.8L504.2 1146.9L503.4 1144.8L502.6 1142.9L501.8 1141.1L501.1 1142.3L500.3 1142.4L499.5 1141.1L498.8 1139.7L498 1138.5L497.2 1139.2L496.5 1139.4L495.7 1138L494.9 1136.5L494.1 1135.1L493.4 1136.1L492.6 1135.8L491.8 1134.4L491.1 1132.8L490.3 1131.3L489.5 1132L488.7 1131.9L488 1131.5L487.2 1131L486.4 1131.1L485.7 1132.9L484.9 1133.9L484.1 1133.9L483.4 1133.6L482.6 1133.4L481.8 1135.2L481 1135.9L480.3 1135.3L479.5 1134.7L478.7 1134.2L478 1136.5L477.2 1137.3L476.4 1137.4L475.6 1137.4L474.9 1138.1L474.1 1140.6L473.3 1141.7L472.6 1141.4L471.8 1141.5L471 1142.5L470.3 1143.5L469.5 1143.6L468.7 1142.3L467.9 1141.1L467.2 1140.5L466.4 1142.2L465.6 1142.4L464.9 1142.2L464.1 1141.6L463.3 1142.1L462.6 1144.9L461.8 1146.3L461 1146.1L460.2 1145.5L459.5 1144.4L458.7 1145.9L457.9 1145.5L457.2 1144L456.4 1142.3L455.6 1141.5L454.8 1142.1L454.1 1141.8L453.3 1140.2L452.5 1138.9L451.8 1138.4L451 1139.2L450.2 1138.3L449.5 1136.7L448.7 1135.3L447.9 1135L447.1 1136.1L446.4 1135.2L445.6 1133.9L444.8 1132.2L444.1 1131.4L443.3 1132.7L442.5 1132.4L441.8 1130.4L441 1128.9L440.2 1128.1L439.4 1129.4L438.7 1128.4L437.9 1126.9L437.1 1125.2L436.4 1124.2L435.6 1125.2L434.8 1124.7L434 1123.1L433.3 1121.4L432.5 1120.9L431.7 1121.7L431 1121L430.2 1119.1L429.4 1117.6L428.7 1116.9L427.9 1118.2L427.1 1118.7L426.3 1118.3L425.6 1117.7L424.8 1118.9L424 1121.5L423.3 1122.2L422.5 1122L421.7 1122.2L420.9 1123.1L420.2 1125.1L419.4 1125.9L418.6 1125.8L417.9 1125.6L417.1 1125.8L416.3 1127.7L415.6 1128L414.8 1127.4L414 1127.1L413.2 1127.8L412.5 1129.6L411.7 1129.2L410.9 1128.8L410.2 1128.2L409.4 1128.6L408.6 1131L407.9 1130.2L407.1 1129.1L406.3 1127.5L405.5 1127.4L404.8 1127.8L404 1126.5L403.2 1125.2L402.5 1123.6L401.7 1123.4L400.9 1125.7L400.1 1126.9L399.4 1126.9L398.6 1127.2L397.8 1128.7L397.1 1131L396.3 1131.3L395.5 1129.6L394.8 1128.3L394 1127.9L393.2 1128.5L392.4 1127.4L391.7 1126.2L390.9 1124.6L390.1 1124.5L389.4 1125.1L388.6 1123.7L387.8 1122.4L387.1 1121.2L386.3 1121.7L385.5 1123.2L384.7 1122.1L384 1121L383.2 1119.9L382.4 1120L381.7 1121.2L380.9 1120.9L380.1 1120.2L379.3 1120.1L378.6 1120.8L377.8 1122.1L377 1121.4L376.3 1120.9L375.5 1120.1L374.7 1120.8L374 1122L373.2 1121.1L372.4 1120.1L371.6 1119.1L370.9 1118.9L370.1 1120L369.3 1118.9L368.6 1117.5L367.8 1116.6L367 1117.8L366.2 1119.7L365.5 1120L364.7 1120.1L363.9 1119.6L363.2 1121.5L362.4 1123.3L361.6 1123.3L360.9 1122.6L360.1 1121.4L359.3 1122.4L358.5 1124.1L357.8 1122.9L357 1121.9L356.2 1121.3L355.5 1122.4L354.7 1123.3L353.9 1121.7L353.2 1120.1L352.4 1118L351.6 1117.9L350.8 1117.9L350.1 1117.5L349.3 1117.5L348.5 1117.1L347.8 1118.7L347 1120.2L346.2 1119.8L345.4 1119.6L344.7 1118.4L343.9 1119L343.1 1119.9L342.4 1118.9L341.6 1117.9L340.8 1115.9L340.1 1115.8L339.3 1115.2L338.5 1113.6L337.7 1111.4L337 1109.6L336.2 1109.3L335.4 1109.1L334.7 1109.4L333.9 1108.8L333.1 1109.1L332.4 1110.7L331.6 1112.2L330.8 1112L330 1111.5L329.3 1111.6L328.5 1113.1L327.7 1115L327 1114.4L326.2 1113.6L325.4 1113.1L324.6 1115.1L323.9 1117.1L323.1 1116.9L322.3 1116.5L321.6 1116.3L320.8 1117L320 1117.2L319.3 1115.5L318.5 1114.1L317.7 1112.7L316.9 1113.4L316.2 1114.3L315.4 1114.6L314.6 1115.5L313.9 1116.3L313.1 1119.1L312.3 1121.5L311.6 1121.8L310.8 1122.3L310 1122.8L309.2 1126.5L308.5 1128.9L307.7 1129.6L306.9 1130.2L306.2 1130.8L305.4 1133.5L304.6 1134.7L303.8 1134.5L303.1 1134.3L302.3 1134.4L301.5 1135.4L300.8 1136.6L300 1136.7L299.2 1137.1L298.5 1137.3L297.7 1137.9L296.9 1135L296.1 1131L295.4 1126.4L294.6 1124.9L293.8 1126.5L293.1 1128L292.3 1128.1L291.5 1127.8L290.7 1128L290 1130.4L289.2 1130.9L288.4 1128.8L287.7 1127.5L286.9 1125.9L286.1 1127L285.4 1126.9L284.6 1125.4L283.8 1124.2L283 1123.2L282.3 1124.5L281.5 1125L280.7 1123.9Z" fill="#dfc27d" stroke="#dfc27d" stroke-width="0.6" stroke-linejoin="round"/><path d="M325 1115L325.4 1127L325.8 1115" fill="none" stroke="#dfc27d" stroke-width="2" stroke-linejoin="round" stroke-linecap="butt"/><path d="M387 1122L387.4 1143L387.8 1122" fill="none" stroke="#dfc27d" stroke-width="2.4" stroke-linejoin="round" stroke-linecap="butt"/><path d="M994.6 1130.9L995.4 1131.4L996.1 1129.8L996.9 1128.2L997.7 1128.9L998.5 1129.1L999.2 1129.8L1000 1128.7L1000.8 1128L1001.5 1129L1002.3 1129.7L1003.1 1131.1L1003.9 1130.6L1004.6 1129.6L1005.4 1130.6L1006.2 1131.8L1006.9 1132.4L1007.7 1131.8L1008.5 1131.1L1009.3 1131.8L1010 1132.7L1010.8 1133.5L1011.6 1132.9L1012.3 1132.3L1013.1 1132.5L1013.9 1133L1014.7 1133.1L1015.4 1131L1016.2 1129.9L1017 1130L1017.7 1130.7L1018.5 1131.3L1019.3 1130.8L1020.1 1130.3L1020.8 1131.9L1021.6 1133.7L1022.4 1134.5L1023.1 1132.7L1023.9 1131.1L1024.7 1132.1L1025.5 1132.4L1026.2 1132.7L1027 1130L1027.8 1128.4L1028.5 1128.1L1029.3 1128.1L1030.1 1128.7L1030.9 1128.5L1031.6 1128.8L1032.4 1130.7L1033.2 1132.2L1033.9 1134.4L1034.7 1134L1035.5 1132.7L1036.3 1133.1L1037 1133.8L1037.8 1134.1L1038.6 1132.6L1039.3 1131.1L1040.1 1131.9L1040.9 1132.2L1041.7 1131.6L1042.4 1130.1L1043.2 1128.8L1044 1129.3L1044.7 1129.2L1045.5 1128.9L1046.3 1127.5L1047.1 1127.7L1047.8 1129.5L1048.6 1131.1L1049.4 1133.3L1050.1 1132.8L1050.9 1133.3L1051.7 1134.7L1052.5 1137L1053.2 1137.9L1054 1137.3L1054.8 1138.2L1055.5 1140.2L1056.3 1140.7L1057.1 1141.4L1057.8 1139.2L1058.6 1138.5L1059.4 1138.9L1060.2 1139.4L1060.9 1139.1L1061.7 1138L1062.5 1137.1L1063.2 1137.1L1064 1136.9L1064.8 1136.8L1065.6 1134.4L1066.3 1133.4L1067.1 1134L1067.9 1133.6L1068.6 1133.1L1069.4 1131.7L1070.2 1131.2L1071 1131.7L1071.7 1132.2L1072.5 1132.5L1073.3 1132L1074 1132.3L1074.8 1133.5L1075.6 1133.8L1076.4 1133.5L1077.1 1131.3L1077.1 1136.6L1076.4 1138.1L1075.6 1138.5L1074.8 1138L1074 1137L1073.3 1137L1072.5 1138.1L1071.7 1138.2L1071 1137.7L1070.2 1136.8L1069.4 1137.2L1068.6 1138.4L1067.9 1138.9L1067.1 1139.4L1066.3 1139.2L1065.6 1139.8L1064.8 1142.1L1064 1142.6L1063.2 1142.3L1062.5 1141.9L1061.7 1143.2L1060.9 1145.3L1060.2 1145.5L1059.4 1145.1L1058.6 1144.6L1057.8 1145.7L1057.1 1148L1056.3 1148.1L1055.5 1147.5L1054.8 1145.1L1054 1144.4L1053.2 1144.5L1052.5 1143.2L1051.7 1141.2L1050.9 1139.1L1050.1 1138.3L1049.4 1139L1048.6 1137.4L1047.8 1135.7L1047.1 1134.4L1046.3 1134L1045.5 1135.9L1044.7 1135.7L1044 1135.5L1043.2 1134.7L1042.4 1135.6L1041.7 1137.3L1040.9 1137.2L1040.1 1137L1039.3 1136.2L1038.6 1137.2L1037.8 1139.3L1037 1139L1036.3 1138.4L1035.5 1137.7L1034.7 1138.9L1033.9 1139.1L1033.2 1137.8L1032.4 1136.1L1031.6 1134.5L1030.9 1134.6L1030.1 1134.6L1029.3 1133.6L1028.5 1133.6L1027.8 1134.2L1027 1135.9L1026.2 1138.1L1025.5 1138L1024.7 1137.9L1023.9 1137.8L1023.1 1139.8L1022.4 1142L1021.6 1141.9L1020.8 1139.7L1020.1 1137.4L1019.3 1137.3L1018.5 1137.8L1017.7 1137L1017 1136.3L1016.2 1135.6L1015.4 1136.8L1014.7 1137.8L1013.9 1137.2L1013.1 1136.6L1012.3 1135.9L1011.6 1136.6L1010.8 1138.1L1010 1137.1L1009.3 1136.4L1008.5 1135.8L1007.7 1136.8L1006.9 1138L1006.2 1137.4L1005.4 1136.6L1004.6 1135.4L1003.9 1136L1003.1 1136.8L1002.3 1135.8L1001.5 1135.1L1000.8 1134L1000 1135L999.2 1135.2L998.5 1134.3L997.7 1133.9L996.9 1133.1L996.1 1134.9L995.4 1135.8L994.6 1134.8Z" fill="#dfc27d" stroke="#dfc27d" stroke-width="0.6" stroke-linejoin="round"/><path d="M1077.3 1132L1077.7 1167L1078.1 1132" fill="none" stroke="#dfc27d" stroke-width="2.4" stroke-linejoin="round" stroke-linecap="butt"/><path d="M1080 1128L1080.5 1112.5L1081.2 1128" fill="none" stroke="#dfc27d" stroke-width="2.4" stroke-linejoin="round" stroke-linecap="butt"/><path d="M1107.4 1130L1108 1100.5L1108.9 1130" fill="none" stroke="#dfc27d" stroke-width="2.6" stroke-linejoin="round" stroke-linecap="butt"/><path d="M1081.7 1125.3L1082.4 1125.8L1083.2 1126.4L1084 1126.9L1084.7 1126L1085.5 1125.6L1086.3 1126.1L1087.1 1126.5L1087.8 1126.3L1088.6 1125.5L1089.4 1124L1090.1 1122.8L1090.9 1121.3L1091.7 1121.1L1092.5 1120.5L1093.2 1120.6L1094 1120.4L1094.8 1120.9L1095.5 1121L1096.3 1120.2L1097.1 1120.3L1097.9 1120.3L1098.6 1120.6L1099.4 1120.2L1100.2 1119.5L1100.9 1119.2L1101.7 1119.4L1102.5 1119.9L1103.2 1120.4L1104 1122.4L1104.8 1125.2L1105.6 1127.9L1106.3 1128.8L1107.1 1129.3L1107.9 1128.8L1108.6 1129.1L1109.4 1129.5L1110.2 1130.1L1111 1130.1L1111.7 1130.2L1112.5 1130.5L1113.3 1130.8L1114 1131.9L1114.8 1131.8L1115.6 1131.2L1116.3 1130.4L1117.1 1130.6L1117.9 1130.3L1118.7 1129.5L1119.4 1128.2L1120.2 1127.6L1121 1127.7L1121.7 1127.6L1122.5 1127.8L1123.3 1127L1124.1 1127.2L1124.8 1127.8L1125.6 1128.5L1126.4 1128.3L1127.1 1127.9L1127.9 1127.9L1128.7 1128.4L1129.4 1128.8L1130.2 1128.3L1131 1127.6L1131.8 1127.7L1132.5 1127.9L1133.3 1128.4L1134.1 1127.9L1134.8 1127.4L1135.6 1128.4L1136.4 1128.7L1137.2 1129.3L1137.9 1129.5L1138.7 1129.1L1139.5 1129.3L1140.2 1128.5L1141 1128.6L1141.8 1127L1142.6 1125.6L1143.3 1125.4L1144.1 1124.9L1144.9 1123.9L1145.6 1122.2L1146.4 1120.4L1147.2 1119.5L1147.9 1118.8L1148.7 1119.1L1149.5 1119.8L1150.3 1119.9L1151 1121.1L1151.8 1122.6L1152.6 1123.9L1153.3 1124.8L1154.1 1125.4L1154.9 1126.8L1155.7 1126.4L1156.4 1126.2L1157.2 1125.5L1158 1124.2L1158.7 1123.2L1159.5 1122.9L1160.3 1122.7L1161 1122.4L1161.8 1122.3L1162.6 1122.7L1163.4 1123.2L1164.1 1124.3L1164.9 1125.9L1165.7 1127.3L1166.4 1129.4L1167.2 1128.5L1168 1128.2L1168.8 1127.7L1169.5 1125.6L1170.3 1125.7L1171.1 1125.3L1171.8 1125.2L1172.6 1123.9L1173.4 1123.1L1174.1 1123.2L1174.9 1123.1L1175.7 1122.6L1176.5 1122.1L1177.2 1121L1178 1120.7L1178.8 1121.9L1179.5 1123L1180.3 1123.5L1181.1 1124.3L1181.9 1125.8L1182.6 1126.9L1183.4 1128.2L1184.2 1127.8L1184.9 1126.2L1185.7 1125.7L1186.5 1125L1187.2 1124.1L1188 1122.5L1188.8 1120.9L1189.6 1120.4L1190.3 1120.2L1191.1 1120.1L1191.9 1120.1L1192.6 1119.4L1193.4 1120L1194.2 1120.5L1195 1120.7L1195.7 1120L1196.5 1120L1197.3 1119.9L1198 1120.8L1198.8 1121.4L1199.6 1122.3L1200.4 1122.4L1201.1 1123.8L1201.9 1125.4L1202.7 1126.8L1203.4 1127.1L1204.2 1127.5L1205 1127.3L1205.7 1125.6L1206.5 1125L1207.3 1122.9L1208.1 1121.3L1208.8 1120.2L1209.6 1119.5L1210.4 1119.4L1211.1 1118.8L1211.9 1118.1L1212.7 1118.7L1213.5 1118.6L1214.2 1118.9L1215 1118.2L1215.8 1117.9L1216.5 1118.4L1217.3 1118.4L1218.1 1118.8L1218.8 1118.7L1219.6 1118.1L1220.4 1118.5L1221.2 1119.1L1221.9 1119.4L1222.7 1118.6L1223.5 1118.4L1224.2 1119L1225 1119.8L1225.8 1119.9L1226.6 1120.1L1227.3 1120.3L1228.1 1120.7L1228.9 1120.6L1229.6 1120.8L1230.4 1119.8L1231.2 1119.3L1231.9 1119L1232.7 1118.7L1233.5 1119L1234.3 1118L1235 1117.1L1235.8 1117.8L1236.6 1118.1L1237.3 1118.4L1238.1 1117.7L1238.9 1117.2L1239.7 1117.7L1240.4 1118.2L1241.2 1118.3L1242 1117.4L1242.7 1117.1L1243.5 1117.4L1244.3 1118L1245 1117.9L1245.8 1117.4L1246.6 1117L1247.4 1117.3L1248.1 1117.5L1248.9 1117.4L1249.7 1118.1L1250.4 1119.5L1251.2 1122L1252 1123.6L1252.8 1125.6L1253.5 1126.6L1254.3 1128.6L1255.1 1131.4L1255.8 1133.9L1256.6 1134.6L1257.4 1132.9L1258.2 1131.1L1258.9 1129.9L1259.7 1128.1L1260.5 1127.2L1261.2 1125.2L1262 1124L1262.8 1123.5L1263.5 1123.5L1264.3 1122.9L1265.1 1122.2L1265.9 1121.5L1266.6 1121.4L1267.4 1121.6L1268.2 1121.7L1268.9 1120.8L1269.7 1121L1270.5 1121.4L1271.3 1122.2L1272 1122.3L1272.8 1122L1273.6 1121.5L1274.3 1121.4L1275.1 1121.1L1275.9 1121.3L1276.6 1120.3L1277.4 1120L1278.2 1120L1279 1119.8L1279.7 1119.8L1280.5 1118.6L1281.3 1118.6L1282 1118.5L1282.8 1118.3L1283.6 1118.7L1284.4 1119.2L1285.1 1119.8L1285.9 1120.9L1286.7 1121.5L1287.4 1122.5L1288.2 1122.4L1289 1122.2L1289.7 1122.4L1290.5 1122.8L1291.3 1122.3L1292.1 1121.7L1292.8 1121.7L1293.6 1122L1294.4 1122.5L1295.1 1123.1L1295.9 1123.1L1296.7 1123.2L1297.5 1123.9L1298.2 1124.4L1299 1124.8L1299.8 1124.4L1300.5 1124.6L1301.3 1124.8L1302.1 1124.9L1302.9 1124.7L1303.6 1124.7L1304.4 1124.3L1305.2 1124.8L1305.9 1125.1L1306.7 1124.9L1307.5 1124.3L1308.2 1124.7L1309 1125.1L1309.8 1125.2L1310.6 1125.3L1311.3 1124.9L1312.1 1125.2L1312.9 1126.7L1313.6 1128.1L1314.4 1129.5L1315.2 1130.9L1316 1133L1316.7 1136L1317.5 1139.1L1318.3 1140.8L1319 1142L1319.8 1141.4L1320.6 1141.9L1321.3 1142L1322.1 1141.8L1322.9 1140.9L1323.7 1140.9L1324.4 1141.1L1325.2 1140.8L1326 1140.5L1326.7 1139.8L1327.5 1140.9L1328.3 1143.5L1329.1 1146.3L1329.8 1148.5L1330.6 1147L1331.4 1144.5L1332.1 1142.7L1332.9 1140.4L1333.7 1138.4L1334.4 1137.5L1335.2 1136.7L1336 1136.7L1336.8 1136.6L1337.5 1135.6L1338.3 1135L1339.1 1135L1339.8 1135.8L1340.6 1136.3L1341.4 1136.1L1342.2 1135.9L1342.9 1136.5L1343.7 1136.8L1344.5 1137.3L1345.2 1136L1346 1134.6L1346.8 1134.3L1347.5 1133.9L1348.3 1134.2L1349.1 1132.9L1349.9 1131.9L1350.6 1133.2L1351.4 1135.1L1352.2 1136.5L1352.9 1137.1L1353.7 1137.3L1354.5 1138.8L1355.3 1137.7L1356 1136.2L1356.8 1135L1357.6 1133.1L1358.3 1131.5L1359.1 1130.7L1359.9 1131.3L1360.7 1131.5L1361.4 1131.8L1362.2 1132.5L1363 1133.3L1363.7 1134.4L1364.5 1134.2L1365.3 1133.5L1366 1132.8L1366.8 1132.9L1367.6 1132.2L1368.4 1131.2L1369.1 1129.7L1369.9 1129.4L1370.7 1129.2L1371.4 1128.9L1372.2 1128.3L1373 1128.1L1373.8 1129.3L1374.5 1129.5L1375.3 1130L1376.1 1130.1L1376.8 1129.8L1377.6 1130.7L1378.4 1131.3L1379.1 1131.9L1379.9 1131.6L1380.7 1131.5L1381.5 1132.1L1382.2 1132.4L1383 1133L1383.8 1133.4L1384.5 1133L1385.3 1133.1L1386.1 1132.7L1386.9 1132.4L1387.6 1131.8L1388.4 1130.9L1389.2 1130.7L1389.9 1130.6L1390.7 1130.2L1391.5 1129.5L1392.2 1128.9L1393 1129.4L1393.8 1129.4L1394.6 1129.1L1395.3 1128.9L1396.1 1128.3L1396.9 1128.3L1397.6 1128.8L1398.4 1129.4L1399.2 1130.7L1400 1131.5L1400.7 1132.7L1401.5 1133.2L1402.3 1133.1L1403 1132.9L1403.8 1132.4L1404.6 1132.8L1405.4 1133.2L1406.1 1134.1L1406.9 1134.1L1407.7 1134.3L1408.4 1134.9L1409.2 1136.2L1410 1136.3L1410.7 1136.3L1411.5 1136.6L1412.3 1137L1413.1 1137.9L1413.8 1138.1L1414.6 1138L1415.4 1137.5L1416.1 1137.5L1416.9 1137.1L1417.7 1137L1418.5 1135.7L1419.2 1134.6L1420 1134.6L1420.8 1134L1421.5 1133.8L1422.3 1132.7L1423.1 1130.9L1423.8 1130.5L1424.6 1129.7L1425.4 1129.2L1426.2 1127.4L1426.9 1125.9L1427.7 1125.2L1428.5 1124.7L1429.2 1126.3L1430 1127.2L1430.8 1128.2L1431.6 1129.8L1432.3 1131.5L1433.1 1132.8L1433.9 1134.1L1434.6 1134.7L1435.4 1133.6L1436.2 1132.4L1436.9 1131.7L1437.7 1129.8L1438.5 1128.1L1439.3 1127L1440 1126.5L1440.8 1125L1441.6 1123.2L1442.3 1121.7L1443.1 1120.9L1443.9 1120L1444.7 1121.9L1445.4 1122.9L1446.2 1124.9L1447 1127L1447.7 1129.2L1448.5 1131.2L1449.3 1132.4L1450 1134.2L1450.8 1136.2L1451.6 1137.9L1452.4 1139L1453.1 1140.6L1453.9 1140.2L1454.7 1139.1L1455.4 1137.8L1456.2 1136.1L1457 1134L1457.8 1132.4L1458.5 1131.1L1459.3 1129.7L1460.1 1127.9L1460.8 1126.1L1461.6 1124.6L1462.4 1124.9L1463.2 1126L1463.9 1126.5L1464.7 1127.2L1465.5 1127.8L1466.2 1128.9L1467 1129.9L1467.8 1130.9L1468.5 1131.1L1469.3 1131.8L1470.1 1132.8L1470.9 1134.3L1471.6 1134.9L1472.4 1135.2L1473.2 1136L1473.9 1135.9L1474.7 1134.8L1475.5 1134.2L1476.3 1132L1477 1130.9L1477.8 1130.1L1478.6 1129.6L1479.3 1130.1L1480.1 1130.3L1480.9 1130.5L1481.6 1131.4L1482.4 1132.9L1483.2 1133.1L1484 1132.9L1484.7 1133L1485.5 1133.7L1486.3 1133.7L1487 1133.5L1487.8 1132.9L1488.6 1132.8L1489.4 1133.3L1490.1 1133.9L1490.9 1134.2L1491.7 1134.8L1492.4 1134.5L1493.2 1134.1L1494 1134.2L1494.7 1133.3L1495.5 1132.7L1496.3 1133.6L1497.1 1135.3L1497.8 1136.6L1498.6 1136.9L1499.4 1137.4L1500.1 1138.1L1500.9 1138.1L1501.7 1137.7L1502.5 1137.4L1503.2 1136.7L1504 1136.6L1504.8 1136.4L1505.5 1136.3L1506.3 1136.6L1507.1 1136L1507.9 1136L1508.6 1136.5L1509.4 1137L1510.2 1136.4L1510.9 1136.1L1511.7 1135.1L1512.5 1134.4L1513.2 1133.7L1514 1132.1L1514.8 1130.8L1515.6 1129.8L1516.3 1129.3L1517.1 1128.4L1517.9 1128.6L1518.6 1127.9L1519.4 1128.3L1520.2 1128.1L1521 1128.4L1521.7 1128.5L1522.5 1127L1523.3 1127.1L1524 1126.9L1524.8 1126.7L1525.6 1125.2L1526.3 1124.4L1527.1 1124.4L1527.9 1123.7L1527.9 1127.8L1527.1 1128.2L1526.3 1128.1L1525.6 1129.5L1524.8 1129.9L1524 1130.2L1523.3 1130.3L1522.5 1130.7L1521.7 1131.7L1521 1132.6L1520.2 1132L1519.4 1131.6L1518.6 1131.4L1517.9 1131.8L1517.1 1132.4L1516.3 1133.4L1515.6 1133.9L1514.8 1134.6L1514 1136.3L1513.2 1137.4L1512.5 1138.2L1511.7 1139.3L1510.9 1139.9L1510.2 1140.4L1509.4 1140.8L1508.6 1139.9L1507.9 1139.8L1507.1 1139.5L1506.3 1140.1L1505.5 1140.3L1504.8 1140.2L1504 1140.3L1503.2 1140.2L1502.5 1141.3L1501.7 1142L1500.9 1142L1500.1 1141.9L1499.4 1141.4L1498.6 1141.1L1497.8 1139.8L1497.1 1138.9L1496.3 1137.4L1495.5 1136.5L1494.7 1137.3L1494 1138L1493.2 1138.2L1492.4 1138.9L1491.7 1138.3L1490.9 1138.5L1490.1 1138L1489.4 1136.8L1488.6 1136.6L1487.8 1136.7L1487 1136.9L1486.3 1137.5L1485.5 1137.5L1484.7 1137.3L1484 1136.7L1483.2 1136.6L1482.4 1136.4L1481.6 1135.5L1480.9 1134.4L1480.1 1133.7L1479.3 1133.9L1478.6 1133.1L1477.8 1133.8L1477 1134.4L1476.3 1135.7L1475.5 1137.8L1474.7 1138.7L1473.9 1140.1L1473.2 1140.2L1472.4 1139.3L1471.6 1138.9L1470.9 1137.7L1470.1 1136.6L1469.3 1135.9L1468.5 1134.6L1467.8 1134.6L1467 1133.6L1466.2 1132.6L1465.5 1131.3L1464.7 1130.6L1463.9 1130.7L1463.2 1129.6L1462.4 1128.9L1461.6 1128L1460.8 1129.7L1460.1 1132L1459.3 1133.7L1458.5 1134.8L1457.8 1136.5L1457 1137.8L1456.2 1139.8L1455.4 1141.7L1454.7 1142.9L1453.9 1144.1L1453.1 1144.1L1452.4 1143.1L1451.6 1141.8L1450.8 1139.4L1450 1137.5L1449.3 1136.3L1448.5 1135L1447.7 1133.2L1447 1130.9L1446.2 1128.5L1445.4 1126.9L1444.7 1125.6L1443.9 1124L1443.1 1124.6L1442.3 1125.4L1441.6 1126.9L1440.8 1128.7L1440 1130L1439.3 1131.5L1438.5 1132.1L1437.7 1133.7L1436.9 1135.3L1436.2 1136.3L1435.4 1137.6L1434.6 1138.6L1433.9 1137.9L1433.1 1136.7L1432.3 1135.6L1431.6 1133.7L1430.8 1132.2L1430 1130.8L1429.2 1130.3L1428.5 1128.7L1427.7 1128.6L1426.9 1129.5L1426.2 1131.1L1425.4 1132.7L1424.6 1133.7L1423.8 1133.8L1423.1 1134.9L1422.3 1136.1L1421.5 1137.8L1420.8 1137.7L1420 1137.9L1419.2 1138.2L1418.5 1139.2L1417.7 1140.4L1416.9 1141.2L1416.1 1141.2L1415.4 1141.5L1414.6 1141.7L1413.8 1142.2L1413.1 1141.5L1412.3 1140.6L1411.5 1140.4L1410.7 1140.2L1410 1140.2L1409.2 1139.9L1408.4 1138.8L1407.7 1137.9L1406.9 1138.1L1406.1 1137.8L1405.4 1137.2L1404.6 1136.6L1403.8 1136.7L1403 1136.6L1402.3 1137.3L1401.5 1136.6L1400.7 1136.4L1400 1135.7L1399.2 1134.4L1398.4 1133.3L1397.6 1132.4L1396.9 1132L1396.1 1132L1395.3 1132.5L1394.6 1133L1393.8 1132.9L1393 1133.3L1392.2 1132.8L1391.5 1133.6L1390.7 1134.2L1389.9 1134.5L1389.2 1134.8L1388.4 1134.7L1387.6 1135.6L1386.9 1136.6L1386.1 1137L1385.3 1137.1L1384.5 1136.9L1383.8 1137.1L1383 1137.3L1382.2 1136.6L1381.5 1136.1L1380.7 1135.4L1379.9 1135.8L1379.1 1135.6L1378.4 1134.9L1377.6 1134.3L1376.8 1133.3L1376.1 1133.7L1375.3 1133.8L1374.5 1133.4L1373.8 1133L1373 1132.2L1372.2 1132.5L1371.4 1132.4L1370.7 1132.8L1369.9 1133.4L1369.1 1133.7L1368.4 1135.1L1367.6 1135.7L1366.8 1136.5L1366 1136.7L1365.3 1137.1L1364.5 1138L1363.7 1137.9L1363 1136.9L1362.2 1136.4L1361.4 1135.1L1360.7 1135.3L1359.9 1135.4L1359.1 1134.6L1358.3 1135.5L1357.6 1136.7L1356.8 1138.4L1356 1140.4L1355.3 1141.5L1354.5 1143L1353.7 1141.6L1352.9 1140.6L1352.2 1139.9L1351.4 1138.1L1350.6 1137.1L1349.9 1135.6L1349.1 1136.6L1348.3 1137.7L1347.5 1138L1346.8 1138.1L1346 1138.7L1345.2 1139.5L1344.5 1141L1343.7 1140.2L1342.9 1140.1L1342.2 1139.3L1341.4 1139.9L1340.6 1139.9L1339.8 1139.8L1339.1 1139L1338.3 1138.6L1337.5 1139.8L1336.8 1140.3L1336 1140.3L1335.2 1140.4L1334.4 1140.9L1333.7 1142.3L1332.9 1144.2L1332.1 1146.6L1331.4 1148.4L1330.6 1150.9L1329.8 1152.5L1329.1 1149.9L1328.3 1147.3L1327.5 1144.5L1326.7 1143.6L1326 1144L1325.2 1144.5L1324.4 1144.8L1323.7 1144.6L1322.9 1144.5L1322.1 1145.1L1321.3 1145.7L1320.6 1145.5L1319.8 1145.7L1319 1145.4L1318.3 1144.7L1317.5 1142.8L1316.7 1139.9L1316 1136.9L1315.2 1134.5L1314.4 1133.1L1313.6 1132.4L1312.9 1131L1312.1 1129.4L1311.3 1128.6L1310.6 1128.9L1309.8 1129.2L1309 1128.6L1308.2 1128.7L1307.5 1128.5L1306.7 1129L1305.9 1129L1305.2 1128.8L1304.4 1128.5L1303.6 1128.2L1302.9 1129L1302.1 1128.6L1301.3 1128.3L1300.5 1127.8L1299.8 1127.9L1299 1128.5L1298.2 1128.5L1297.5 1127.8L1296.7 1127.6L1295.9 1127L1295.1 1126.8L1294.4 1126.4L1293.6 1125.6L1292.8 1125.6L1292.1 1125.9L1291.3 1126.4L1290.5 1126.3L1289.7 1126.3L1289 1126.4L1288.2 1125.9L1287.4 1126.2L1286.7 1125.4L1285.9 1124.7L1285.1 1123.6L1284.4 1123.1L1283.6 1122.6L1282.8 1121.9L1282 1122.4L1281.3 1122.2L1280.5 1122.7L1279.7 1123.6L1279 1123.9L1278.2 1123.9L1277.4 1123.8L1276.6 1124.3L1275.9 1125L1275.1 1125.1L1274.3 1125.3L1273.6 1124.9L1272.8 1125.7L1272 1126.1L1271.3 1126L1270.5 1125.1L1269.7 1124.9L1268.9 1124.4L1268.2 1125.2L1267.4 1124.5L1266.6 1124.8L1265.9 1124.7L1265.1 1125.2L1264.3 1126.7L1263.5 1127L1262.8 1127.7L1262 1127.6L1261.2 1129.1L1260.5 1131.3L1259.7 1132.7L1258.9 1133.6L1258.2 1135.4L1257.4 1136.9L1256.6 1138.7L1255.8 1138L1255.1 1134.9L1254.3 1132.5L1253.5 1130.5L1252.8 1129.4L1252 1127.9L1251.2 1125.7L1250.4 1123.7L1249.7 1122.7L1248.9 1121.8L1248.1 1122.2L1247.4 1122L1246.6 1121.7L1245.8 1121.9L1245 1123.2L1244.3 1122.9L1243.5 1122.9L1242.7 1122.4L1242 1122.6L1241.2 1123.5L1240.4 1123.2L1239.7 1122.7L1238.9 1122.1L1238.1 1122.4L1237.3 1123.3L1236.6 1123L1235.8 1122.6L1235 1122.5L1234.3 1122.8L1233.5 1123.8L1232.7 1123.5L1231.9 1123.8L1231.2 1123.4L1230.4 1123.9L1229.6 1124.6L1228.9 1124.5L1228.1 1124.4L1227.3 1123.5L1226.6 1123.6L1225.8 1123.5L1225 1122.9L1224.2 1122.4L1223.5 1122.2L1222.7 1122.2L1221.9 1122.9L1221.2 1122.5L1220.4 1122L1219.6 1121.9L1218.8 1122.4L1218.1 1122.9L1217.3 1122.6L1216.5 1122.4L1215.8 1122.2L1215 1122.3L1214.2 1123.3L1213.5 1122.7L1212.7 1122.9L1211.9 1122.3L1211.1 1122.9L1210.4 1123.4L1209.6 1123.2L1208.8 1124.7L1208.1 1125.7L1207.3 1127.5L1206.5 1129.1L1205.7 1129.9L1205 1131.4L1204.2 1131.9L1203.4 1131.6L1202.7 1131.1L1201.9 1129.4L1201.1 1128.7L1200.4 1127.4L1199.6 1127L1198.8 1126.8L1198 1125.5L1197.3 1125.2L1196.5 1125.1L1195.7 1125L1195 1125.8L1194.2 1125.2L1193.4 1124.5L1192.6 1123.9L1191.9 1124.7L1191.1 1125L1190.3 1124.4L1189.6 1124.9L1188.8 1125.8L1188 1126.9L1187.2 1128.5L1186.5 1129.4L1185.7 1130L1184.9 1130.4L1184.2 1131.7L1183.4 1132.8L1182.6 1131.4L1181.9 1130L1181.1 1128.7L1180.3 1128.2L1179.5 1127.9L1178.8 1126.4L1178 1125.4L1177.2 1125.7L1176.5 1126.7L1175.7 1127.4L1174.9 1127.7L1174.1 1127.8L1173.4 1128.3L1172.6 1128.7L1171.8 1129.6L1171.1 1129.4L1170.3 1130.2L1169.5 1130L1168.8 1131.7L1168 1132.9L1167.2 1133.7L1166.4 1134.2L1165.7 1132.3L1164.9 1130.5L1164.1 1128.5L1163.4 1127.1L1162.6 1126.4L1161.8 1126.1L1161 1126.9L1160.3 1126.8L1159.5 1127.6L1158.7 1128.1L1158 1129.1L1157.2 1130.6L1156.4 1131.5L1155.7 1132.2L1154.9 1132.2L1154.1 1130.6L1153.3 1129.6L1152.6 1127.8L1151.8 1126.8L1151 1125.1L1150.3 1124.2L1149.5 1124.5L1148.7 1123.8L1147.9 1123.5L1147.2 1124.2L1146.4 1125.2L1145.6 1127.3L1144.9 1128.8L1144.1 1129L1143.3 1129.9L1142.6 1130.4L1141.8 1132.3L1141 1133.2L1140.2 1133.7L1139.5 1134.1L1138.7 1133.8L1137.9 1134.5L1137.2 1134.7L1136.4 1134L1135.6 1133.6L1134.8 1133L1134.1 1133.3L1133.3 1133.8L1132.5 1133.4L1131.8 1133.2L1131 1133.4L1130.2 1134.6L1129.4 1134.8L1128.7 1135L1127.9 1134.6L1127.1 1134.5L1126.4 1135.2L1125.6 1135.2L1124.8 1134.9L1124.1 1134.4L1123.3 1134.2L1122.5 1134.9L1121.7 1135.2L1121 1135.2L1120.2 1134.8L1119.4 1135L1118.7 1136.3L1117.9 1136.4L1117.1 1136.5L1116.3 1136.1L1115.6 1136.5L1114.8 1137.1L1114 1136.8L1113.3 1136.7L1112.5 1135.7L1111.7 1135.5L1111 1136.1L1110.2 1135.7L1109.4 1134.8L1108.6 1133.2L1107.9 1133L1107.1 1133L1106.3 1131.9L1105.6 1131.1L1104.8 1128.4L1104 1126.4L1103.2 1124.9L1102.5 1124.8L1101.7 1124.4L1100.9 1123.7L1100.2 1123.9L1099.4 1125.3L1098.6 1125.1L1097.9 1124.7L1097.1 1124.6L1096.3 1124.8L1095.5 1125.5L1094.8 1125.1L1094 1125.2L1093.2 1124.6L1092.5 1125.1L1091.7 1125.2L1090.9 1125.5L1090.1 1126.6L1089.4 1128L1088.6 1129.5L1087.8 1131L1087.1 1131.2L1086.3 1131.3L1085.5 1131L1084.7 1131.8L1084 1133.2L1083.2 1133.6L1082.4 1133.3L1081.7 1132.8Z" fill="#dfc27d" stroke="#dfc27d" stroke-width="0.6" stroke-linejoin="round"/></g>
<g><path d="M114.7 1079.5H1543" stroke="#444" stroke-width="1" fill="none"/><path d="M115.2 1079V1426" stroke="#444" stroke-width="1" fill="none"/><path d="M114.7 1425.1H1543" stroke="#2c2c2c" stroke-width="2" fill="none"/><path d="M1542 1079V1426.1" stroke="#292929" stroke-width="2" fill="none"/><path d="M109.1 1410.8H114.9M109.1 1339.5H114.9M109.1 1268.3H114.9M109.1 1197H114.9M109.1 1125.7H114.9M423.9 1426V1430.8M776.7 1426V1430.8M1129.3 1426V1430.8M1478.1 1426V1430.8" stroke="#363636" stroke-width="1.9" fill="none"/><text x="103.8" y="1418.8" font-size="23.4" text-anchor="end">2</text><text x="103.8" y="1347.5" font-size="23.4" text-anchor="end">3</text><text x="103.8" y="1276.3" font-size="23.4" text-anchor="end">4</text><text x="103.8" y="1205" font-size="23.4" text-anchor="end">5</text><text x="103.8" y="1133.7" font-size="23.4" text-anchor="end">6</text><text x="423.9" y="1452.8" font-size="23.4" text-anchor="middle">2025-03</text><text x="776.7" y="1452.8" font-size="23.4" text-anchor="middle">2025-06</text><text x="1129.3" y="1452.8" font-size="23.4" text-anchor="middle">2025-09</text><text x="1478.1" y="1452.8" font-size="23.4" text-anchor="middle">2025-12</text><text x="828.5" y="1059.2" font-size="30.9" text-anchor="middle">Flushing flow rate in sampling line (l.min-¹)</text><text transform="translate(43.7 1252.4) rotate(-90)" x="-84.3" font-size="29.2" textLength="168.6" lengthAdjust="spacing">Flow (l.min<tspan font-size="20" dy="-14.3">−1</tspan><tspan dy="14.3">)</tspan></text></g>
<g><path d="M1567.7 1222.6H1591.4" stroke="#80cdc1" stroke-width="2.2"/><path d="M1567.7 1252.2H1591.4" stroke="#dfc27d" stroke-width="2.2"/><path d="M1567.7 1281.7H1591.4" stroke="#c7eae5" stroke-width="2.2"/><text x="1609.8" y="1229.7" font-size="18.05">50m agl (F_Lvl_1_l)</text><text x="1609.8" y="1259.3" font-size="18.05">80m agl (F_Lvl_2_l)</text><text x="1599.7" y="1288.8" font-size="18.05">120m agl (F_Lvl_3_l)</text></g>
</svg>
</body></html>
